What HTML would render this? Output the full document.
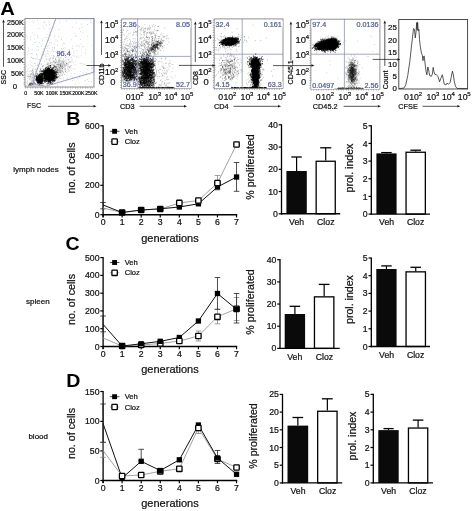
<!DOCTYPE html>
<html><head><meta charset="utf-8"><title>Figure</title>
<style>html,body{margin:0;padding:0;background:#fff;overflow:hidden;}svg{display:block;will-change:transform;}text{font-family:"Liberation Sans",sans-serif;stroke-width:0.22px;}</style>
</head><body>
<svg width="472" height="511" viewBox="0 0 472 511">
<rect width="472" height="511" fill="#fff"/>
<text transform="translate(0.2 14.6) scale(1.12 1)" font-size="18" font-weight="bold" fill="#000">A</text>
<text transform="translate(66.2 124.8) scale(1.12 1)" font-size="17.5" font-weight="bold" fill="#000">B</text>
<text transform="translate(65.4 250.4) scale(1.12 1)" font-size="17.5" font-weight="bold" fill="#000">C</text>
<text transform="translate(66.2 386.5) scale(1.12 1)" font-size="17.5" font-weight="bold" fill="#000">D</text>
<text transform="translate(23.7 24.5) scale(0.92 1)" font-size="7.8" text-anchor="end" fill="#111" stroke="#111">250K</text>
<text transform="translate(23.7 37) scale(0.92 1)" font-size="7.8" text-anchor="end" fill="#111" stroke="#111">200K</text>
<text transform="translate(23.7 49.8) scale(0.92 1)" font-size="7.8" text-anchor="end" fill="#111" stroke="#111">150K</text>
<text transform="translate(23.7 62.9) scale(0.92 1)" font-size="7.8" text-anchor="end" fill="#111" stroke="#111">100K</text>
<text transform="translate(23.7 76) scale(0.92 1)" font-size="7.8" text-anchor="end" fill="#111" stroke="#111">50K</text>
<text x="15" y="89" font-size="7.8" text-anchor="middle" font-weight="normal" fill="#111" stroke="#111">0</text>
<text x="25.7" y="95.3" font-size="5.2" text-anchor="middle" font-weight="normal" fill="#111" stroke="#111">0</text>
<text x="38.9" y="95.3" font-size="5.2" text-anchor="middle" font-weight="normal" fill="#111" stroke="#111">50K</text>
<text x="51.9" y="95.3" font-size="5.2" text-anchor="middle" font-weight="normal" fill="#111" stroke="#111">100K</text>
<text x="65.6" y="95.3" font-size="5.2" text-anchor="middle" font-weight="normal" fill="#111" stroke="#111">150K</text>
<text x="78.3" y="95.3" font-size="5.2" text-anchor="middle" font-weight="normal" fill="#111" stroke="#111">200K</text>
<text x="91.3" y="95.3" font-size="5.2" text-anchor="middle" font-weight="normal" fill="#111" stroke="#111">250K</text>
<path d="M39.7 80.4h0M39.2 79.0h0M38.3 79.5h0M41.5 79.6h0M41.3 79.3h0M40.4 79.5h0M38.0 81.7h0M40.7 80.0h0M36.3 77.3h0M38.2 79.0h0M40.1 79.2h0M40.0 78.1h0M40.4 79.9h0M39.9 82.6h0M41.2 81.1h0M38.4 78.5h0M39.2 79.4h0M40.7 79.5h0M38.5 78.0h0M39.7 81.7h0M38.7 80.2h0M39.4 76.7h0M40.6 81.6h0M36.8 79.9h0M39.1 78.1h0M40.3 79.0h0M38.2 81.5h0M41.2 80.7h0M41.9 79.3h0M39.1 77.1h0M40.2 78.1h0M38.3 77.5h0M38.1 79.0h0M40.2 75.3h0M37.9 80.5h0M42.0 79.7h0M35.6 76.1h0M39.7 78.0h0M38.8 81.6h0M41.3 79.1h0M40.3 80.0h0M42.3 79.7h0M40.7 80.1h0M38.4 82.3h0M41.3 79.8h0M36.6 79.3h0M39.7 75.9h0M40.1 81.2h0M38.9 82.8h0M40.4 78.9h0M40.5 80.3h0M40.6 81.3h0M38.5 79.0h0M41.1 78.9h0M39.1 81.4h0M41.4 77.9h0M37.7 79.9h0M39.3 79.0h0M41.0 77.0h0M40.6 76.6h0M39.0 80.9h0M41.8 80.3h0M40.3 79.5h0M40.3 80.3h0M39.6 80.0h0M40.5 79.1h0M41.1 80.0h0M42.6 79.0h0M38.9 79.0h0M40.3 81.0h0M39.5 80.2h0M40.6 74.2h0M38.3 80.4h0M40.4 79.6h0M39.5 80.7h0M39.8 78.4h0M43.2 78.8h0M38.9 79.5h0M39.4 79.4h0M35.7 79.9h0M40.4 76.9h0M40.2 81.0h0M41.8 81.5h0M37.2 79.6h0M39.6 80.6h0M39.5 74.3h0M40.3 76.4h0M39.7 76.5h0M40.7 81.3h0M39.6 79.8h0M40.9 79.2h0M40.5 82.0h0M40.9 78.4h0M42.7 76.1h0M40.8 78.5h0M40.3 80.5h0M40.4 80.4h0M36.7 77.6h0M39.9 77.5h0M37.4 77.4h0M41.9 80.0h0M41.1 77.1h0M39.0 77.5h0M41.7 81.7h0M39.4 82.5h0M40.9 78.6h0M37.9 82.8h0M39.2 78.4h0M40.5 79.9h0M41.1 76.9h0M42.2 81.4h0M41.6 78.4h0M39.3 81.5h0M39.9 79.6h0M41.5 78.2h0M36.3 79.9h0M37.7 81.7h0M39.8 78.2h0M40.2 80.8h0M40.6 81.6h0M40.3 81.2h0M42.7 81.4h0M39.3 81.2h0M36.5 78.5h0M37.7 82.2h0M38.0 80.0h0M39.4 79.4h0M39.0 80.1h0M42.2 78.6h0M41.0 80.8h0M38.7 77.4h0M39.6 81.5h0M37.1 79.2h0M41.6 80.2h0M40.2 80.8h0M39.2 77.3h0M37.2 79.1h0M40.6 78.0h0M38.0 78.5h0M37.5 80.0h0M38.3 80.6h0M36.7 81.1h0M37.6 76.4h0M40.5 78.6h0M36.1 79.0h0M39.8 78.5h0M41.2 80.3h0M40.8 79.6h0M41.9 79.9h0M39.0 75.7h0M41.7 81.2h0M39.0 78.8h0M41.3 75.5h0M41.8 83.3h0M38.9 81.0h0M42.2 78.3h0M41.0 80.6h0M38.4 79.7h0M40.6 80.7h0M39.5 79.1h0M38.1 79.3h0M41.0 79.1h0M38.0 78.4h0M44.0 80.0h0M39.0 74.7h0M40.8 79.9h0M42.3 79.3h0M39.9 80.3h0M37.7 82.1h0M39.7 78.1h0M42.6 81.8h0M37.4 79.0h0M40.2 79.6h0M38.6 77.9h0M43.2 80.1h0M37.2 77.7h0M42.6 80.2h0M42.7 79.9h0M38.7 80.3h0M36.3 79.2h0M39.9 80.3h0M38.6 79.6h0M40.6 79.8h0M40.7 79.4h0M39.7 80.9h0M39.3 78.0h0M38.8 79.7h0M39.6 79.7h0M39.8 79.7h0M38.7 77.3h0M40.9 81.0h0M40.2 78.9h0M39.7 77.5h0M37.2 80.4h0M38.9 81.1h0M36.6 75.5h0M39.3 82.6h0M38.3 77.3h0M39.0 80.7h0M40.5 79.5h0M42.2 79.9h0M40.0 80.4h0M42.6 80.2h0M40.4 77.1h0M39.9 80.7h0M40.0 81.4h0M41.1 80.6h0M41.0 83.8h0M41.3 78.4h0M41.4 83.7h0M39.8 81.0h0M41.0 78.9h0M38.2 80.3h0M40.9 81.1h0M40.8 79.1h0M41.2 79.9h0M40.0 79.4h0M39.8 80.7h0M37.9 78.9h0M38.8 76.9h0M37.9 76.2h0M39.1 80.7h0M40.4 79.0h0M38.5 77.1h0M42.5 79.4h0M40.6 77.4h0M38.3 76.4h0M41.3 80.6h0M37.1 80.3h0M39.5 76.1h0M36.6 78.5h0M38.0 77.3h0M39.9 79.8h0M41.0 80.3h0M42.5 80.6h0M37.6 79.2h0M37.6 78.1h0M39.6 79.4h0M39.4 76.5h0M38.0 80.0h0M39.2 79.0h0M39.1 78.1h0M40.9 79.7h0M39.2 78.3h0M37.8 74.9h0M38.4 79.9h0M37.8 80.5h0M39.1 77.0h0M39.2 79.0h0M40.7 80.2h0M39.1 78.0h0M39.5 79.4h0M40.9 79.5h0M37.9 77.5h0M38.7 78.3h0M38.1 79.8h0M39.1 79.8h0M40.2 78.4h0M42.7 77.7h0M41.3 79.1h0M39.8 74.8h0M38.8 80.2h0M42.0 83.1h0M40.9 81.4h0M41.3 80.6h0M40.3 78.9h0M39.7 77.3h0M40.7 77.1h0M41.3 82.9h0M39.4 79.5h0M41.3 78.9h0M38.8 80.2h0M40.9 80.3h0M39.7 82.7h0M42.0 78.6h0M39.8 78.5h0M41.2 77.5h0M40.3 78.3h0M39.2 81.0h0M41.5 78.7h0M39.3 81.1h0M39.8 79.9h0M42.5 80.6h0M40.4 83.5h0M40.2 80.7h0M38.8 79.6h0M38.4 83.3h0M40.8 76.7h0M36.7 77.4h0M41.0 78.0h0M39.4 78.9h0M38.9 77.6h0M38.8 77.0h0M39.8 80.0h0M40.2 78.8h0M38.6 80.1h0M40.0 82.3h0M40.7 78.8h0M38.6 78.4h0M38.2 79.3h0M40.4 80.1h0M41.8 82.7h0M38.7 79.8h0M42.4 74.9h0M39.1 79.9h0M40.2 80.0h0M39.6 80.1h0M40.2 80.7h0M36.6 78.8h0M39.1 77.7h0M38.7 81.0h0M39.2 80.8h0M40.9 79.5h0M40.3 79.0h0M37.8 80.0h0M40.0 78.3h0M40.0 80.7h0M38.9 80.9h0M41.9 77.5h0M39.8 79.1h0M42.0 79.2h0M40.5 77.8h0M39.7 79.4h0M38.2 82.7h0M39.8 76.0h0M40.6 78.8h0M40.5 79.8h0M37.5 79.8h0M41.4 77.7h0M37.5 77.6h0M38.2 80.6h0M42.3 79.3h0M41.4 83.1h0M38.6 78.5h0M40.8 80.1h0M37.6 77.9h0M40.2 79.7h0M37.8 79.7h0M39.2 80.4h0M39.5 79.3h0M39.9 81.4h0M41.4 78.1h0M40.4 77.7h0M40.3 80.6h0M41.5 78.0h0M39.7 79.8h0M37.7 80.2h0M39.0 80.4h0M36.9 76.6h0M39.9 79.8h0M39.5 81.2h0M39.0 78.5h0M39.4 76.5h0M38.8 79.7h0M40.8 78.7h0M39.7 78.1h0M41.1 82.1h0M40.2 83.7h0M38.8 79.7h0M40.6 81.0h0M36.7 76.5h0M41.0 80.4h0M42.2 83.5h0M40.1 79.7h0M41.2 79.6h0M41.2 76.5h0M37.1 73.8h0M40.6 78.4h0M42.3 82.6h0M39.5 79.0h0M38.5 78.2h0M39.2 80.8h0M39.8 79.5h0M40.0 81.0h0M40.3 78.9h0M40.5 78.8h0M39.0 82.4h0M39.7 77.6h0M41.4 79.4h0M38.6 82.9h0M40.7 80.7h0M39.9 79.0h0M38.2 81.8h0M39.6 78.9h0M40.2 79.4h0M40.4 78.4h0M38.3 75.8h0M39.5 80.8h0M41.3 78.1h0M40.5 82.1h0M39.7 80.8h0M42.0 78.6h0M40.9 77.6h0M39.9 79.2h0M40.6 81.3h0M42.5 77.1h0M39.2 80.5h0M38.6 80.8h0M40.3 78.6h0M39.5 76.5h0M39.8 76.4h0M38.4 78.8h0M39.7 81.1h0M39.6 78.7h0M41.4 81.8h0M39.9 80.0h0M41.6 79.2h0M39.5 84.2h0M41.5 74.9h0M39.9 80.1h0M41.4 80.1h0M38.7 77.8h0M40.5 81.1h0M37.6 78.2h0M38.5 76.1h0M39.1 78.8h0M39.9 78.0h0M38.3 79.2h0M39.2 78.3h0M40.2 80.7h0M42.4 81.7h0M38.4 79.1h0M37.5 83.8h0M38.7 79.7h0M39.6 76.8h0M40.3 79.1h0M37.4 80.8h0M40.2 75.6h0M40.9 79.4h0M40.6 79.9h0M41.3 78.4h0M40.6 78.3h0M40.2 77.7h0M40.6 82.4h0M40.2 78.9h0M37.7 78.6h0M40.5 80.9h0M40.6 80.1h0M40.5 81.7h0M38.8 78.7h0M40.9 79.1h0M39.0 78.6h0M39.7 80.6h0M39.4 77.2h0M40.4 79.5h0M38.8 81.2h0M39.1 79.0h0M41.6 81.2h0M39.0 80.5h0M39.9 83.7h0M39.8 81.7h0M39.3 81.1h0M41.2 74.0h0M39.4 80.5h0M39.2 78.3h0M42.7 78.5h0M38.0 81.7h0M38.1 82.2h0M39.0 79.9h0M41.5 79.0h0M36.8 77.2h0M41.8 80.1h0M39.1 81.3h0M40.8 80.2h0M36.4 80.0h0M41.4 80.2h0M39.4 74.8h0M40.2 80.1h0M42.6 76.5h0M39.3 79.6h0M40.6 78.2h0M40.8 77.5h0M39.7 78.4h0M39.5 78.2h0M38.2 82.0h0M39.8 78.3h0M40.6 81.0h0M38.3 79.7h0M40.8 80.0h0M37.9 76.0h0M52.8 74.3h0M49.2 74.3h0M49.5 73.6h0M46.3 74.4h0M47.4 74.2h0M48.0 78.1h0M47.8 78.4h0M47.9 77.2h0M52.9 73.8h0M48.1 76.0h0M47.3 70.3h0M48.5 76.2h0M48.7 75.8h0M52.3 76.1h0M52.4 75.4h0M48.9 75.3h0M48.5 74.5h0M46.6 70.7h0M48.8 75.4h0M47.5 76.2h0M50.5 73.9h0M50.2 65.6h0M46.4 70.5h0M55.7 80.7h0M44.4 78.5h0M50.3 73.6h0M47.4 68.5h0M52.0 74.9h0M48.8 73.4h0M50.3 72.9h0M49.3 73.4h0M44.7 77.7h0M51.2 76.7h0M47.7 76.0h0M51.2 74.6h0M55.3 78.6h0M44.8 71.1h0M53.7 77.9h0M52.8 76.0h0M47.2 73.9h0M50.2 71.5h0M44.2 74.7h0M57.9 76.9h0M47.0 74.0h0M49.0 72.8h0M52.3 73.2h0M49.2 79.8h0M48.7 76.3h0M49.1 74.2h0M49.3 72.8h0M42.3 71.6h0M45.7 74.6h0M49.6 75.2h0M51.0 74.6h0M46.8 74.2h0M44.8 77.2h0M51.4 75.8h0M49.1 74.7h0M51.7 73.9h0M52.1 75.6h0M52.0 78.1h0M47.8 74.8h0M46.7 73.9h0M55.6 77.6h0M50.5 76.4h0M53.4 75.6h0M50.3 70.2h0M48.9 77.0h0M52.9 73.5h0M47.2 75.2h0M46.9 73.6h0M51.9 71.5h0M52.9 80.6h0M52.7 74.4h0M48.9 76.8h0M54.0 74.6h0M52.5 73.7h0M50.4 73.8h0M52.5 77.8h0M46.4 76.6h0M49.3 73.2h0M50.1 77.4h0M54.9 74.1h0M48.0 70.6h0M53.9 72.8h0M47.8 72.1h0M47.8 72.2h0M50.5 76.1h0M50.1 75.7h0M49.9 79.8h0M45.5 71.1h0M48.0 73.3h0M46.9 75.3h0M48.5 71.6h0M51.4 78.9h0M50.9 73.8h0M49.7 74.5h0M50.6 77.0h0M45.8 68.9h0M48.2 72.7h0M50.1 72.6h0M53.2 80.5h0M45.6 73.4h0M43.0 70.5h0M46.1 78.3h0M45.4 70.9h0M47.3 78.5h0M47.4 75.0h0M52.4 78.1h0M55.4 75.3h0M50.2 75.3h0M55.6 76.5h0M49.6 76.6h0M50.3 74.8h0M46.5 72.2h0M46.1 71.7h0M53.1 74.9h0M49.1 80.1h0M48.7 68.9h0M54.8 74.8h0M52.2 69.2h0M51.4 75.4h0M50.3 75.2h0M49.6 69.8h0M44.8 72.9h0M47.5 74.1h0M50.8 75.2h0M48.7 73.2h0M50.1 78.0h0M51.4 74.3h0M51.2 79.4h0M49.3 77.4h0M51.7 72.9h0M49.7 71.1h0M52.1 74.3h0M47.2 78.7h0M49.6 79.4h0M47.9 75.4h0M49.7 73.8h0M49.3 73.2h0M51.1 74.2h0M45.9 67.6h0M52.2 73.6h0M45.9 77.5h0M52.2 77.2h0M49.6 80.4h0M52.8 81.4h0M50.3 76.9h0M47.1 72.6h0M53.3 76.0h0M54.2 75.3h0M45.9 71.4h0M47.2 74.1h0M48.7 77.5h0M49.9 73.9h0M49.8 74.4h0M51.2 76.7h0M50.6 72.0h0M48.5 80.6h0M51.5 77.7h0M45.5 76.2h0M47.5 71.2h0M49.6 77.5h0M54.3 77.8h0M45.6 72.4h0M52.1 76.8h0M48.1 71.4h0M52.5 76.1h0M50.1 73.0h0M51.4 76.7h0M45.6 70.9h0M51.0 75.8h0M51.0 77.3h0M48.2 75.5h0M49.8 76.9h0M52.7 72.4h0M56.3 76.4h0M52.2 75.5h0M53.2 72.3h0M47.8 72.4h0M52.6 77.9h0M51.4 75.4h0M49.4 75.7h0M48.1 79.5h0M47.1 72.6h0M46.7 73.8h0M53.0 76.7h0M48.0 79.1h0M50.7 72.4h0M45.3 74.9h0M48.7 76.7h0M45.8 70.2h0M47.8 70.7h0M49.8 70.7h0M46.8 73.6h0M50.4 79.1h0M52.3 75.5h0M48.0 70.6h0M47.6 74.2h0M48.2 77.5h0M46.9 74.1h0M44.3 71.0h0M52.9 77.7h0M48.5 72.2h0M44.0 78.8h0M52.7 74.3h0M53.8 77.7h0M51.4 72.4h0M53.0 75.7h0M45.7 75.9h0M46.4 76.5h0M49.3 71.5h0M47.1 80.9h0M52.6 78.4h0M48.3 79.4h0M57.1 77.6h0M49.5 76.0h0M50.8 77.8h0M52.0 73.9h0M47.8 78.6h0M49.5 77.2h0M52.6 78.9h0M51.4 72.4h0M53.0 79.1h0M49.1 76.8h0M54.1 76.8h0M48.7 70.9h0M47.2 77.2h0M54.3 81.1h0M49.4 79.0h0M48.8 69.7h0M48.1 76.5h0M48.3 75.2h0M49.4 72.3h0M49.7 72.8h0M49.2 77.1h0M48.8 76.5h0M53.1 73.1h0M50.4 77.1h0M50.4 78.3h0M47.8 78.2h0M47.3 73.6h0M52.2 70.6h0M54.4 74.5h0M51.3 70.6h0M54.4 77.3h0M49.2 74.8h0M55.2 72.4h0M47.7 73.9h0M51.1 75.3h0M52.6 79.3h0M49.6 76.6h0M51.3 70.6h0M54.6 78.5h0M45.0 73.8h0M44.6 71.5h0M47.8 69.6h0M52.9 78.2h0M45.6 76.2h0M46.6 79.4h0M47.6 75.2h0M50.5 76.3h0M48.9 75.5h0M48.6 76.0h0M47.2 76.6h0M44.7 76.1h0M53.9 72.8h0M47.3 77.2h0M45.0 71.9h0M49.1 77.8h0M50.3 74.3h0M46.0 73.4h0M52.9 73.9h0M44.4 70.7h0M50.3 83.1h0M47.0 76.2h0M49.8 74.3h0M46.9 71.8h0M49.9 80.7h0M49.2 78.1h0M45.5 76.4h0M51.7 77.4h0M48.1 78.0h0M49.3 72.6h0M49.3 72.1h0M47.8 75.9h0M43.6 78.1h0M45.2 72.4h0M49.8 77.5h0M50.6 78.8h0M45.1 73.0h0M53.6 74.1h0M50.4 71.7h0M51.7 74.7h0M51.0 74.3h0M51.2 71.8h0M45.3 72.4h0M51.0 71.6h0M45.9 73.9h0M46.7 72.3h0M48.0 73.7h0M47.0 73.2h0M49.0 73.8h0M50.2 75.5h0M47.1 68.9h0M47.2 73.6h0M48.9 69.9h0M47.6 75.1h0M50.4 78.0h0M50.1 78.1h0M43.7 72.1h0M52.9 74.6h0M50.8 74.7h0M48.8 71.2h0M50.9 72.4h0M51.9 74.0h0M43.4 74.1h0M51.8 73.2h0M49.1 76.1h0M47.9 74.1h0M50.0 75.2h0M53.0 73.2h0M56.4 77.3h0M54.9 75.6h0M50.1 75.2h0M48.2 73.3h0M48.5 73.4h0M54.0 74.3h0M45.8 70.6h0M48.9 74.0h0M45.5 73.4h0M45.6 79.3h0M53.3 81.8h0M49.3 74.7h0M52.9 73.5h0M49.4 73.8h0M50.5 79.7h0M54.3 78.2h0M48.9 75.5h0M49.1 78.6h0M47.4 78.2h0M54.1 77.3h0M49.2 79.0h0M46.9 73.9h0M48.5 79.7h0M52.3 71.4h0M47.4 75.1h0M56.5 74.5h0M45.7 71.0h0M49.9 78.9h0M53.2 72.0h0M47.3 74.5h0M46.9 79.7h0M48.8 79.1h0M44.0 73.8h0M49.1 72.7h0M51.3 74.0h0M48.0 78.1h0M48.6 69.0h0M54.3 74.0h0M48.5 69.2h0M47.5 75.0h0M49.7 69.9h0M44.6 70.8h0M49.6 76.2h0M45.1 75.6h0M53.1 78.5h0M50.6 73.4h0M45.6 74.0h0M48.4 76.2h0M52.0 79.4h0M48.6 71.9h0M54.4 75.5h0M48.7 73.0h0M44.0 74.7h0M50.4 71.8h0M47.0 77.2h0M51.0 76.3h0M53.1 77.8h0M49.3 78.6h0M48.5 78.0h0M50.4 75.4h0M51.7 73.7h0M53.3 75.9h0M49.0 73.4h0M47.2 74.6h0M49.1 75.2h0M57.0 72.9h0M50.0 71.8h0M47.6 75.1h0M48.5 72.1h0M52.2 71.5h0M48.4 67.6h0M50.0 75.7h0M50.9 76.3h0M50.4 75.1h0M44.4 75.5h0M45.5 79.6h0M50.0 74.1h0M46.9 74.5h0M56.2 77.2h0M51.4 78.4h0M43.3 72.0h0M47.2 73.3h0M48.7 76.2h0M55.2 69.5h0M50.1 75.7h0M50.9 77.5h0M51.6 69.5h0M49.6 74.1h0M48.1 70.6h0M42.3 71.2h0M51.0 74.8h0M46.2 68.8h0M47.7 73.5h0M45.2 74.4h0M51.9 75.5h0M50.3 76.4h0M48.4 75.9h0M50.5 76.4h0M49.2 74.7h0M48.3 73.5h0M55.2 73.5h0M54.0 80.4h0M50.3 69.2h0M52.4 76.3h0M55.7 76.1h0M49.5 71.0h0M48.1 76.8h0M49.2 71.7h0M48.2 74.4h0M50.2 75.8h0M47.1 72.1h0M54.7 77.6h0M50.9 77.8h0M51.6 76.2h0M49.5 72.4h0M52.4 76.9h0M50.6 81.2h0M56.9 77.1h0M55.0 74.4h0M48.0 73.9h0M48.0 76.3h0M50.5 76.8h0M48.7 83.5h0M54.5 72.1h0M51.8 75.4h0M49.9 74.1h0M48.1 73.0h0M49.9 74.7h0M49.0 72.4h0M49.8 75.1h0M49.3 71.5h0M52.0 77.0h0M50.3 73.3h0M48.2 75.0h0M53.5 78.1h0M48.3 73.5h0M50.7 75.1h0M46.5 74.2h0M50.4 76.9h0M45.5 73.8h0M48.8 71.2h0M50.4 75.8h0M47.8 72.5h0M49.0 74.2h0M49.1 72.4h0M49.5 69.3h0M49.2 75.2h0M50.8 72.2h0M49.9 72.8h0M53.8 78.6h0M49.4 76.7h0M49.1 78.7h0M52.3 73.6h0M47.7 77.5h0M53.7 76.4h0M48.6 69.2h0M50.3 79.5h0M48.6 79.5h0M54.8 74.6h0M51.5 72.7h0M46.8 76.3h0M49.1 75.1h0M50.9 73.8h0M50.7 75.9h0M52.4 79.8h0M50.7 74.7h0M48.2 73.6h0M52.7 73.7h0M46.4 74.9h0M48.6 74.0h0M50.2 70.6h0M50.9 74.8h0M47.1 76.6h0M50.1 76.4h0M49.1 76.4h0M44.4 74.3h0M52.9 76.7h0M48.7 73.5h0M48.8 68.2h0M48.9 77.7h0M49.5 71.5h0M47.7 81.1h0M48.6 72.5h0M51.1 77.3h0M45.7 81.1h0M48.1 68.7h0M48.6 69.4h0M52.7 74.6h0M53.6 70.6h0M51.2 77.7h0M47.2 74.0h0M48.7 75.3h0M48.0 77.6h0M50.9 74.5h0M52.8 72.0h0M51.6 71.9h0M48.3 69.0h0M49.8 74.3h0M47.6 74.0h0M47.8 73.6h0M44.0 76.2h0M47.6 74.3h0M47.1 76.0h0M50.9 73.4h0M50.6 79.1h0M53.1 76.2h0M51.6 72.7h0M51.0 78.1h0M48.2 75.4h0M51.0 75.5h0M50.5 77.9h0M50.3 77.1h0M52.9 75.4h0M49.4 71.1h0M45.8 75.0h0M52.9 78.3h0M47.4 77.3h0M46.7 74.2h0M50.0 77.1h0M51.8 77.8h0M48.8 78.5h0M51.7 74.0h0M49.8 72.9h0M46.6 75.3h0M52.5 83.3h0M51.0 79.9h0M50.5 75.6h0M50.0 72.0h0M52.1 74.8h0M47.2 78.5h0M51.5 75.5h0M52.4 71.9h0M51.8 76.3h0M49.5 79.2h0M44.5 73.4h0M49.1 71.5h0M46.9 70.9h0M48.0 72.0h0M48.0 70.6h0M50.2 73.7h0M49.6 74.7h0M47.9 71.4h0M44.1 78.3h0M46.9 75.0h0M47.5 69.3h0M47.0 74.4h0M47.8 77.2h0M48.1 73.0h0M48.7 78.3h0M49.0 77.3h0M47.7 69.5h0M47.3 76.4h0M51.5 76.6h0M52.9 76.7h0M48.5 74.9h0M50.6 72.9h0M49.5 69.6h0M50.8 73.7h0M46.8 80.0h0M50.3 74.7h0M46.6 75.1h0M51.6 71.0h0M40.8 77.1h0M46.8 76.2h0M47.4 73.1h0M49.3 78.8h0M49.4 81.9h0M46.8 72.8h0M52.2 75.5h0M48.5 78.2h0M44.2 74.9h0M51.7 72.9h0M47.6 78.0h0M51.6 73.8h0M45.2 76.4h0M51.7 76.5h0M53.2 72.0h0M48.5 75.5h0M50.8 71.0h0M48.3 66.2h0M50.3 72.2h0M51.6 76.2h0M46.9 76.3h0M51.0 76.2h0M46.1 73.6h0M49.2 84.0h0M48.8 74.7h0M47.8 79.3h0M50.6 79.4h0M51.5 74.0h0M49.5 71.2h0M48.0 73.9h0M46.9 76.6h0M51.4 78.9h0M41.3 77.4h0M46.9 74.9h0M51.1 75.5h0M49.0 73.7h0M51.2 75.3h0M45.2 76.6h0M44.9 73.6h0M50.0 75.0h0M48.5 72.6h0M47.8 72.9h0M51.5 76.3h0M55.3 76.1h0M47.2 74.8h0M48.0 77.0h0M55.0 74.4h0M43.0 74.5h0M47.6 78.0h0M50.1 75.8h0M52.2 70.6h0M50.7 81.2h0M49.2 72.5h0M42.9 73.6h0M44.4 78.2h0M51.2 77.5h0M48.3 73.4h0M50.8 80.9h0M46.0 77.7h0M50.6 76.6h0M49.5 76.8h0M51.1 73.6h0M48.3 75.1h0M47.2 75.7h0M49.3 75.9h0M54.5 76.7h0M49.5 77.1h0M51.4 76.6h0M50.0 75.7h0M47.4 73.5h0M53.4 77.3h0M51.7 75.3h0M49.5 73.5h0M46.7 79.0h0M49.2 73.3h0M49.4 79.5h0M48.3 81.8h0M54.5 80.4h0M48.0 75.8h0M48.7 76.0h0M48.0 73.3h0M50.7 71.6h0M49.3 77.1h0M47.8 74.5h0M49.8 73.6h0M46.7 76.3h0M51.7 79.7h0M48.7 78.9h0M47.4 75.1h0M49.3 76.1h0M54.1 78.5h0M50.2 79.3h0M53.0 75.9h0M49.3 78.3h0M49.9 76.1h0M50.0 77.1h0M53.7 76.5h0M50.6 77.8h0M51.3 70.8h0M50.8 69.7h0M51.7 75.9h0M53.2 73.9h0M47.4 73.5h0M48.0 78.6h0M48.0 73.4h0M49.6 72.3h0M48.0 74.4h0M55.4 76.7h0M46.9 71.1h0M50.3 74.8h0M51.2 76.0h0M50.3 77.8h0M51.7 74.5h0M48.0 74.3h0M49.5 71.3h0M48.1 73.3h0M47.5 78.3h0M49.6 75.1h0M49.3 70.0h0M49.9 75.8h0M49.8 71.1h0M51.5 74.7h0M54.2 76.3h0M54.0 79.9h0M49.0 73.9h0M47.5 73.0h0M46.7 70.2h0M50.1 76.2h0M51.2 72.9h0M51.6 71.6h0M46.5 70.3h0M46.8 73.9h0M53.5 74.5h0M48.0 77.7h0M50.3 73.8h0M49.2 74.2h0M45.9 71.2h0M51.3 78.4h0M52.2 72.5h0M47.7 75.4h0M52.0 74.8h0M48.9 76.6h0M49.9 76.6h0M46.6 71.8h0M50.8 76.9h0M47.1 76.1h0M50.9 73.0h0M51.2 80.9h0M52.9 76.6h0M50.0 80.3h0M45.3 75.7h0M53.1 77.5h0M46.7 74.5h0M47.2 69.9h0M51.8 75.6h0M49.4 76.9h0M51.7 74.8h0M52.9 78.2h0M48.8 76.0h0M50.0 78.2h0M49.4 76.7h0M50.0 75.0h0M53.1 72.7h0M53.8 75.4h0M52.1 73.0h0M52.6 75.8h0M48.7 76.4h0M49.3 75.1h0M51.3 71.6h0M43.6 72.7h0M47.7 73.9h0M50.4 76.4h0M53.7 73.7h0M49.5 72.6h0M52.8 77.7h0M49.6 68.5h0M53.8 77.9h0M49.2 70.3h0M49.8 76.8h0M49.3 72.5h0M49.1 78.5h0M48.9 80.2h0M50.1 75.7h0M46.0 75.1h0M48.9 70.5h0M51.9 69.0h0M47.1 76.6h0M51.7 76.3h0M48.5 74.9h0M48.3 73.8h0M45.6 80.5h0M50.4 75.1h0M48.7 76.4h0M49.5 74.8h0M49.4 69.4h0M48.6 72.0h0M51.1 79.1h0M47.2 76.1h0M49.7 78.1h0M45.1 72.0h0M50.2 73.5h0M50.5 78.1h0M47.2 75.1h0M50.5 75.9h0M50.0 78.2h0M53.7 71.3h0M50.4 67.5h0M52.0 72.5h0M49.4 74.0h0M46.4 72.6h0M50.6 78.7h0M51.5 72.8h0M47.5 73.9h0M49.7 80.9h0M51.1 74.5h0M47.1 73.0h0M53.5 75.4h0M49.0 78.6h0M48.2 77.9h0M47.0 75.1h0M51.3 75.5h0M50.5 71.7h0M54.8 76.5h0M50.2 76.2h0M47.8 75.6h0M47.0 76.8h0M51.9 78.1h0M52.7 75.9h0M48.5 74.9h0M49.2 76.0h0M46.7 79.2h0M45.6 75.6h0M48.9 73.7h0M52.9 72.8h0M54.6 76.0h0M49.1 76.6h0M51.8 72.6h0M49.0 73.5h0M49.2 74.0h0M51.2 77.4h0M52.7 73.7h0M51.3 76.9h0M47.5 72.7h0M50.6 71.3h0M50.1 71.5h0M51.9 70.2h0M53.5 77.7h0M49.7 79.9h0M45.3 71.6h0M52.1 75.9h0M45.5 68.9h0M49.0 74.3h0M48.4 74.7h0M45.1 75.7h0M55.6 76.7h0M47.8 73.7h0M52.0 77.2h0M49.4 71.2h0M50.1 75.2h0M54.3 76.3h0M52.4 77.4h0M51.0 79.3h0M49.3 76.5h0M50.2 71.6h0M45.6 71.5h0M49.9 74.7h0M49.6 76.6h0M45.2 77.5h0M49.4 74.2h0M53.8 78.4h0M47.3 73.2h0M48.5 76.0h0M49.6 72.1h0M50.2 71.2h0M51.9 75.1h0M53.7 79.8h0M48.8 74.9h0M51.8 76.6h0M47.2 77.3h0M49.0 77.5h0M52.5 73.5h0M49.6 75.6h0M44.6 80.5h0M51.0 74.7h0M47.7 73.7h0M51.0 78.2h0M51.3 78.5h0M43.6 76.9h0M50.2 74.6h0M45.2 75.3h0M50.3 70.3h0M46.0 73.5h0M49.4 77.3h0M47.9 69.2h0M51.8 71.8h0M50.8 79.9h0M47.6 72.0h0M47.2 74.0h0M47.0 75.4h0M51.9 74.8h0M50.7 83.6h0M47.7 76.5h0M50.8 76.9h0M49.6 76.5h0M54.1 72.7h0M47.8 77.1h0M47.4 75.0h0M50.5 75.6h0M50.2 77.5h0M47.3 72.0h0M50.9 73.0h0M51.2 71.9h0M51.2 75.1h0M41.8 74.5h0M49.3 79.9h0M47.0 79.5h0M52.6 74.9h0M50.3 73.0h0M49.9 75.6h0M51.5 76.3h0M48.2 73.5h0M49.0 76.7h0M44.3 73.9h0M47.9 74.1h0M45.2 68.7h0M48.5 74.8h0M48.4 69.1h0M49.6 76.6h0M52.3 77.4h0M50.3 71.1h0M50.4 73.4h0M50.1 79.8h0M47.1 73.6h0M47.5 73.4h0M52.2 74.7h0M53.1 74.3h0M49.8 78.4h0M47.6 74.6h0M49.3 75.3h0M51.2 72.0h0M50.3 74.5h0M45.4 73.8h0M49.7 76.3h0M51.0 75.8h0M49.1 73.8h0M49.0 72.0h0M46.3 75.8h0M45.9 75.4h0M47.2 74.5h0M48.3 73.1h0M46.2 71.2h0M48.6 72.6h0M46.4 67.4h0M48.3 76.6h0M44.0 77.0h0M49.9 75.1h0M46.8 77.4h0M48.5 72.4h0M51.1 74.0h0M49.0 73.9h0M50.9 74.6h0M52.6 74.8h0M48.0 75.2h0M51.0 73.0h0M51.2 75.8h0M45.9 69.4h0M50.2 75.4h0M48.8 72.9h0M51.9 73.2h0M47.3 74.0h0M48.8 71.8h0M50.4 81.2h0M53.9 76.1h0M53.3 74.8h0M47.8 80.0h0M52.9 74.7h0M47.3 80.5h0M51.7 72.1h0M51.0 76.8h0M51.0 77.9h0M50.8 76.6h0M47.6 71.2h0M52.1 84.2h0M52.1 78.0h0M54.5 77.9h0M49.9 72.8h0M46.8 70.1h0M50.5 77.5h0M45.3 78.1h0M53.3 77.3h0M46.7 74.5h0M44.2 74.7h0M53.7 79.6h0M49.2 79.9h0M49.8 73.2h0M50.5 66.0h0M49.8 75.6h0M56.7 76.9h0M54.6 72.6h0M53.7 77.3h0M51.2 75.3h0M48.6 74.2h0M49.9 81.4h0M45.6 70.3h0M50.1 74.6h0M52.6 79.4h0M49.0 74.5h0M48.0 75.9h0M49.0 76.1h0M56.8 72.2h0M50.6 80.9h0M52.6 76.0h0M52.3 76.2h0M53.1 77.7h0M53.7 77.2h0M48.5 75.6h0M49.5 78.3h0M50.7 72.8h0M54.7 80.9h0M50.6 70.7h0M50.3 76.7h0M50.1 76.0h0M52.6 74.4h0M48.3 78.1h0M49.6 75.4h0M46.4 72.2h0M46.5 75.6h0M43.4 69.4h0M50.3 70.7h0M48.8 77.2h0M46.5 81.3h0M48.9 77.6h0M49.0 76.4h0M49.8 74.9h0M43.6 73.5h0M51.6 78.6h0M49.2 77.0h0M50.6 76.0h0M49.5 70.0h0M49.9 74.2h0M47.7 73.2h0M46.4 73.4h0M51.0 82.7h0M53.2 73.0h0M49.7 71.6h0M41.1 73.8h0M52.0 78.5h0M48.0 72.5h0M47.6 72.8h0M46.3 76.1h0M47.6 73.4h0M46.4 73.7h0M52.1 78.2h0M52.4 80.9h0M46.6 77.7h0M46.9 76.0h0M50.6 76.3h0M51.2 72.2h0M46.7 76.0h0M49.2 72.9h0M53.9 78.2h0M47.1 77.7h0M48.9 68.9h0M49.7 74.2h0M48.5 80.1h0M49.4 73.5h0M51.5 76.1h0M52.1 75.5h0M48.7 71.5h0M48.9 75.8h0M46.9 83.8h0M47.3 72.8h0M46.1 77.8h0M48.8 73.5h0M47.4 73.3h0M47.9 75.7h0M49.2 77.5h0M49.5 75.5h0M52.3 77.7h0M51.2 74.8h0M48.1 73.2h0M49.9 77.1h0M49.5 73.7h0M44.5 72.7h0M51.8 77.2h0M48.4 71.1h0M49.5 75.8h0M48.2 77.0h0M48.0 73.1h0M48.2 78.6h0M49.1 72.3h0M48.8 78.5h0M50.4 73.5h0M52.5 72.3h0M49.0 79.1h0M49.7 76.1h0M48.2 72.4h0M46.8 76.0h0M51.1 70.7h0M52.8 73.9h0M47.6 77.0h0M49.5 72.0h0M45.6 78.5h0M47.9 77.5h0M45.4 77.0h0M45.7 72.2h0M49.3 75.7h0M46.7 72.7h0M47.5 70.3h0M51.4 75.6h0M54.4 75.2h0M50.7 75.2h0M47.7 71.6h0M53.4 74.6h0M47.3 72.5h0M53.5 74.5h0M48.1 78.1h0M53.6 72.6h0M49.8 73.5h0M49.8 78.5h0M56.2 71.6h0M50.5 77.2h0M50.0 77.2h0M49.9 71.4h0M47.2 76.1h0M51.8 74.7h0M50.2 70.0h0M49.7 72.8h0M50.3 75.7h0M47.2 75.6h0M47.5 77.1h0M47.1 74.8h0M49.1 73.1h0M51.1 72.0h0M51.8 74.7h0M47.1 75.7h0M47.3 75.1h0M51.7 79.9h0M51.0 79.5h0M48.6 71.2h0M45.7 79.5h0M46.5 79.2h0M52.3 74.7h0M48.8 74.6h0M49.7 73.9h0M47.9 74.7h0M51.2 72.0h0M48.7 71.6h0M46.1 72.4h0M50.2 77.0h0M49.5 73.4h0M50.4 73.4h0M50.8 75.2h0M47.1 68.1h0M48.0 78.5h0M52.6 80.8h0M48.3 73.9h0M53.5 74.6h0M54.3 74.0h0M50.2 77.1h0M47.3 74.8h0M48.1 75.1h0M50.5 72.8h0M49.6 73.4h0M47.5 67.0h0M49.4 75.7h0M48.8 78.8h0M51.9 78.0h0M52.5 75.4h0M47.7 72.5h0M48.5 74.1h0M49.4 73.5h0M53.7 67.3h0M51.4 72.4h0M50.4 77.6h0M47.8 72.0h0M50.2 74.0h0M45.6 78.0h0M46.3 74.4h0M51.0 75.2h0M52.1 80.8h0M49.6 73.0h0M49.9 74.4h0M42.7 73.7h0M49.7 81.9h0M48.8 74.5h0M49.8 78.1h0M52.1 79.2h0M53.6 78.2h0M49.9 76.1h0M48.5 75.1h0M45.1 75.6h0M46.7 74.5h0M52.5 74.2h0M53.4 75.7h0M53.0 76.4h0M49.5 77.7h0M48.2 74.1h0M55.2 79.0h0M50.1 80.5h0M50.1 71.9h0M50.7 75.6h0M49.9 73.7h0M47.0 76.6h0M52.5 75.9h0M52.6 77.0h0M47.5 76.1h0M51.8 77.1h0M50.7 76.1h0M52.9 80.1h0M45.0 77.6h0M55.1 72.6h0M46.0 77.5h0M45.6 75.0h0M52.5 79.0h0M51.5 76.1h0M52.0 74.3h0M47.7 75.8h0M49.9 73.9h0M47.7 74.9h0M45.0 74.2h0M48.9 74.2h0M51.7 78.5h0M50.2 74.6h0M45.6 73.7h0M49.1 72.4h0M48.9 71.8h0M49.8 74.7h0M51.1 72.8h0M49.2 76.1h0M52.2 79.2h0M48.3 74.0h0M49.6 76.6h0M51.1 76.5h0M50.3 82.9h0M53.4 72.7h0M47.3 76.8h0M47.2 68.9h0M47.5 71.3h0M52.5 77.9h0M49.6 70.0h0M53.8 75.6h0M49.6 76.7h0M52.3 72.3h0M48.8 73.6h0M48.9 68.2h0M51.2 70.9h0M49.2 69.8h0M46.8 74.6h0M49.0 70.0h0M49.9 72.7h0M51.7 72.7h0M50.4 74.0h0M52.8 71.9h0M52.4 80.0h0M50.8 76.6h0M48.4 76.4h0M45.0 78.0h0M46.1 72.0h0M48.3 79.6h0M48.3 70.7h0M52.4 71.1h0M49.2 76.1h0M44.9 72.3h0M49.8 78.9h0M49.3 69.9h0M52.2 73.6h0M50.7 74.5h0M49.0 72.0h0M46.7 74.3h0M49.7 77.0h0M49.4 80.4h0M47.4 74.3h0M51.7 75.2h0M47.3 72.7h0M45.2 72.2h0M53.5 76.3h0M54.2 74.0h0M51.4 76.5h0M51.2 73.2h0M53.4 80.0h0M44.0 73.5h0M48.7 78.0h0M51.6 72.7h0M50.9 74.1h0M49.4 73.3h0M49.5 75.0h0M55.2 79.2h0M46.6 78.5h0M51.0 77.4h0M52.9 75.7h0M49.9 71.7h0M48.5 81.2h0M50.7 71.2h0M53.3 75.1h0M45.8 80.2h0M49.2 79.1h0M47.1 74.0h0M46.1 76.3h0M50.8 72.1h0M48.8 82.6h0M54.4 74.5h0M46.7 72.6h0M47.0 78.4h0M50.8 70.8h0M49.2 74.3h0M49.8 76.6h0M53.0 70.9h0M52.9 76.7h0M48.8 75.0h0M48.4 79.3h0M47.5 74.0h0M48.5 72.8h0M47.0 75.5h0M52.4 72.7h0M48.6 70.7h0M48.2 81.9h0M46.5 71.6h0M50.3 76.6h0M44.7 74.9h0M48.8 72.4h0M52.7 76.4h0M49.9 73.4h0M48.6 73.5h0M49.8 76.0h0M50.4 77.8h0M54.2 70.5h0M51.5 76.6h0M50.6 73.6h0M50.1 78.1h0M51.6 75.5h0M48.8 77.6h0M51.0 73.6h0M54.1 79.7h0M46.6 78.8h0M45.2 73.0h0M49.9 76.7h0M48.0 72.0h0M45.8 75.3h0M48.4 72.9h0M49.0 81.2h0M47.6 75.6h0M47.6 74.2h0M49.3 74.2h0M49.2 71.3h0M49.3 81.7h0M50.6 77.0h0M52.9 75.0h0M47.4 71.0h0M47.7 79.4h0M51.8 75.6h0M43.0 71.6h0M45.7 73.3h0M48.4 72.2h0M52.0 71.5h0M49.7 77.9h0M49.0 72.3h0M54.1 78.8h0M46.7 75.9h0M44.5 71.4h0M51.9 76.0h0M52.3 74.9h0M45.3 77.4h0M46.5 72.8h0M48.4 78.3h0M51.8 80.3h0M47.8 69.6h0M53.3 77.1h0M47.9 71.9h0M51.4 69.5h0M46.6 70.3h0M44.5 72.2h0M53.6 76.7h0M46.8 72.1h0M50.0 76.0h0M44.7 73.9h0M50.4 76.9h0M50.4 76.0h0M43.3 70.2h0M48.9 72.3h0M48.8 74.2h0M49.5 72.5h0M52.7 73.3h0M51.6 76.0h0M52.4 74.8h0M45.0 75.5h0M54.2 73.9h0M51.5 75.5h0M47.2 74.1h0M49.9 78.7h0M53.0 79.1h0M53.4 79.2h0M48.8 71.4h0M53.8 73.7h0M52.4 74.1h0M49.2 75.8h0M45.5 73.3h0M46.9 74.8h0M46.6 76.4h0M53.2 79.8h0M53.4 72.6h0M51.2 73.4h0M50.4 74.4h0M48.6 75.9h0M47.1 77.9h0M47.4 72.6h0M49.7 76.9h0M48.9 77.0h0M53.1 78.3h0M47.1 76.1h0M52.9 78.2h0M51.3 76.6h0M45.6 75.3h0M52.7 72.2h0M53.1 70.5h0M46.7 71.3h0M49.9 76.0h0M55.5 73.1h0M44.2 73.2h0M47.8 79.2h0M51.6 78.4h0M50.5 74.7h0M49.7 75.8h0M43.7 83.7h0M47.2 73.0h0M48.9 76.5h0M52.9 78.5h0M35.2 83.8h0M52.1 71.0h0M39.7 80.8h0M48.8 76.8h0M41.8 77.4h0M48.7 78.1h0M56.4 73.1h0M41.6 71.3h0M51.3 74.1h0M45.3 74.1h0M47.8 70.3h0M47.6 76.6h0M49.9 79.4h0M46.7 76.9h0M48.6 70.7h0M45.9 77.2h0M49.9 72.5h0M50.8 76.0h0M39.0 75.4h0M41.2 79.6h0M48.8 78.1h0M49.7 73.4h0M52.5 76.6h0M49.6 76.9h0M42.1 80.0h0M41.2 75.3h0M45.7 77.6h0M46.4 75.7h0M43.1 78.9h0M42.2 74.1h0M49.2 80.2h0M44.0 74.4h0M54.9 78.5h0M45.5 76.5h0M51.6 84.1h0M48.8 78.9h0M46.5 70.7h0M40.9 75.3h0M48.9 75.9h0M54.1 72.3h0M48.4 76.1h0M50.5 82.5h0M50.0 79.9h0M51.6 72.3h0M49.4 74.1h0M47.7 76.7h0M46.5 75.2h0M53.1 72.8h0M52.0 79.7h0M50.9 78.1h0M54.1 76.8h0M52.3 69.3h0M55.2 72.8h0M38.9 78.2h0M41.2 79.1h0M39.5 76.7h0M48.4 76.4h0M43.4 77.4h0M46.7 76.9h0M46.7 75.9h0M48.6 70.4h0M45.1 77.8h0M44.6 75.8h0M45.4 77.9h0M51.9 73.6h0M46.3 78.0h0M43.5 71.7h0M47.6 75.0h0M45.4 79.3h0M46.5 74.9h0M35.8 76.1h0M46.9 76.2h0M49.1 76.3h0M43.4 74.0h0M42.3 78.2h0M43.2 80.8h0M39.2 74.2h0M43.9 72.1h0M52.5 70.6h0M46.5 75.9h0M41.3 73.3h0M40.3 82.5h0M54.0 80.4h0M41.6 80.9h0M48.0 78.8h0M45.8 79.5h0M51.5 76.4h0M52.8 73.2h0M52.5 71.6h0M50.5 65.8h0M46.0 74.3h0M48.3 79.3h0M50.1 75.4h0M52.2 69.2h0M45.5 82.2h0M45.7 70.2h0M46.9 72.6h0M54.6 76.7h0M46.4 81.1h0M44.7 80.6h0M49.3 75.0h0M40.7 78.5h0M36.7 79.4h0M40.8 83.4h0M39.9 71.8h0M49.9 76.4h0M47.6 83.2h0M50.3 75.2h0M40.6 69.7h0M50.2 78.2h0M42.7 73.8h0M44.7 72.0h0M48.0 78.6h0M53.6 74.3h0M48.8 78.2h0M52.4 72.9h0M40.9 76.7h0M40.6 76.5h0M46.9 77.7h0M47.7 76.4h0M46.0 78.3h0M51.7 76.8h0M52.9 72.8h0M48.1 81.6h0M48.4 77.2h0M46.8 79.8h0M44.0 74.5h0M46.2 75.4h0M50.0 73.9h0M47.2 75.7h0M47.6 74.1h0M49.8 70.5h0M44.5 75.3h0M49.8 75.3h0M48.6 74.7h0M42.6 74.9h0M44.9 75.7h0M48.6 76.9h0M50.9 74.3h0M42.5 75.1h0M47.7 77.4h0M55.4 73.2h0M56.7 78.2h0M44.2 81.8h0M53.4 77.9h0M48.2 79.1h0M44.9 77.2h0M49.3 81.3h0M47.3 79.5h0M46.4 74.4h0M48.8 77.8h0M44.8 79.6h0M42.9 75.5h0M47.6 75.4h0M40.8 74.0h0M47.4 77.1h0M45.3 77.9h0M41.1 80.5h0M49.1 76.4h0M44.5 77.9h0M48.9 79.2h0M48.5 76.7h0M45.1 80.3h0M51.3 72.9h0M50.1 76.1h0M45.2 73.1h0M52.0 68.0h0M47.8 74.9h0M51.2 73.1h0M47.9 78.1h0M48.2 74.2h0M50.3 76.2h0M50.5 73.2h0M46.3 75.5h0M43.8 78.8h0M50.5 79.6h0M46.1 78.2h0M51.6 74.0h0M47.4 76.7h0M42.9 75.2h0M51.9 74.8h0M45.1 73.3h0M49.0 79.5h0M41.1 76.3h0M53.4 78.2h0M52.8 72.0h0M48.5 73.3h0M48.7 74.5h0M49.5 79.8h0M48.1 75.2h0M47.6 77.1h0M45.1 78.1h0M51.5 79.6h0M36.9 77.3h0M43.0 81.3h0M57.4 72.3h0M48.9 79.3h0M36.7 80.7h0M34.3 82.9h0M44.3 76.2h0M47.7 74.3h0M51.6 74.3h0M51.8 82.6h0M46.3 79.9h0M45.1 81.5h0M51.2 75.0h0M53.1 78.9h0M52.7 73.8h0M48.2 79.6h0M40.2 77.7h0M49.7 77.1h0M56.9 77.7h0M48.9 77.1h0M41.3 78.5h0M47.8 75.4h0M48.0 78.0h0M42.4 76.8h0M41.1 83.0h0M40.5 73.9h0M49.9 74.4h0M50.5 73.6h0M56.7 74.3h0M47.8 76.5h0M47.2 79.1h0M54.7 71.5h0M43.3 80.2h0M49.5 70.4h0M42.9 75.2h0M50.0 76.8h0M42.6 74.9h0M47.2 69.7h0M49.5 74.8h0M56.1 75.5h0M44.3 76.9h0M44.9 75.1h0M48.5 78.9h0M40.5 78.8h0M54.1 75.6h0M42.6 75.9h0M41.5 73.8h0M51.8 74.5h0M42.3 74.0h0M44.8 75.9h0M53.5 72.0h0M48.8 79.1h0M49.5 74.7h0M39.8 84.4h0M48.9 74.2h0M45.4 74.1h0M41.5 74.2h0M49.7 76.9h0M48.7 78.3h0M49.4 75.8h0M44.1 79.8h0M52.7 75.9h0M51.5 72.9h0M44.5 81.7h0M44.9 78.3h0M46.2 76.9h0M45.2 75.6h0M42.1 85.0h0M45.4 71.0h0M41.9 75.2h0M40.8 71.1h0M51.4 79.8h0M46.9 79.0h0M47.9 72.0h0M49.9 69.7h0M44.2 76.6h0M52.3 74.4h0M45.5 74.6h0M47.4 76.4h0M51.7 78.8h0M50.0 75.1h0M48.4 81.1h0M47.8 76.1h0M56.3 77.3h0M49.2 75.1h0M45.7 80.5h0M46.3 79.9h0M43.9 78.3h0M48.8 76.1h0M48.4 77.1h0M41.0 75.7h0M48.6 81.6h0M45.3 74.3h0M44.4 77.8h0M51.1 72.7h0M49.5 75.9h0M44.4 74.7h0M45.5 74.9h0M47.0 70.8h0M52.5 76.4h0M51.2 79.4h0M47.3 70.8h0M47.8 77.6h0M42.8 74.8h0M49.4 77.0h0M45.0 76.7h0M44.2 76.0h0M48.1 79.5h0M40.0 78.7h0M54.0 74.3h0M48.7 78.4h0M41.4 75.2h0M38.4 75.8h0M49.1 78.3h0M44.5 75.5h0M49.4 77.4h0M45.7 71.0h0M41.7 70.8h0M46.9 73.8h0M46.2 81.7h0M53.0 75.3h0M48.3 76.4h0M44.6 77.5h0M53.7 70.6h0M44.5 78.2h0M51.7 77.0h0" stroke="#000" stroke-width="0.9" stroke-linecap="round" stroke-opacity="0.85" fill="none"/>
<path d="M29.2 84.6h0M30.0 83.3h0M30.8 83.6h0M32.4 83.6h0M29.6 84.6h0M30.0 83.8h0M30.4 85.1h0M29.6 83.1h0M29.8 85.1h0M33.9 81.7h0M30.1 84.0h0M28.7 85.3h0M30.8 84.2h0M34.3 82.2h0M32.3 84.0h0M29.6 84.1h0M33.5 83.4h0M30.7 83.1h0M32.4 83.7h0M34.8 83.4h0M32.2 83.6h0M30.7 83.6h0M31.4 83.9h0M32.2 84.3h0M31.1 83.4h0M32.6 84.5h0M29.6 84.9h0M31.8 84.0h0M31.6 83.6h0M31.2 85.3h0M33.1 81.7h0M26.9 86.2h0M29.6 84.1h0M28.4 85.4h0M30.5 83.7h0M33.0 85.0h0M33.5 83.7h0M30.4 84.8h0M31.1 84.8h0M31.7 83.5h0M31.4 83.1h0M32.6 84.5h0M30.4 84.7h0M28.5 85.9h0M31.9 82.6h0M33.6 82.8h0M27.6 84.3h0M32.1 83.2h0M32.0 82.1h0M31.0 84.8h0M29.9 85.0h0M30.3 84.5h0M32.0 85.3h0M29.1 85.5h0M32.5 82.2h0M31.7 85.6h0M31.5 81.1h0M29.9 83.0h0M31.0 83.3h0M29.6 83.8h0M56.0 67.4h0M48.9 72.5h0M55.9 65.6h0M58.8 60.4h0M56.8 67.2h0M63.7 62.1h0M48.2 67.9h0M68.7 64.8h0M47.5 72.8h0M51.9 78.6h0M53.7 61.6h0M58.1 72.3h0M55.9 71.6h0M54.7 71.1h0M55.0 66.8h0M57.5 69.3h0M53.4 67.8h0M49.1 74.5h0M55.5 58.9h0M54.3 76.5h0M59.4 64.3h0M61.6 61.8h0M53.8 79.4h0M51.8 70.9h0M42.6 72.6h0M47.3 73.8h0M45.5 80.3h0M51.6 69.3h0M52.4 74.8h0M63.9 63.0h0M68.3 69.5h0M64.1 66.1h0M46.9 77.7h0M52.8 72.1h0M42.5 75.9h0M54.7 66.0h0M60.1 74.6h0M55.1 66.8h0M65.9 54.0h0M50.0 74.7h0M46.8 64.4h0M58.3 71.9h0M52.8 77.8h0M60.5 72.2h0M45.3 75.6h0M69.0 71.0h0M63.3 65.2h0M54.9 67.2h0M60.6 63.6h0M51.8 62.6h0M48.9 81.5h0M55.8 70.5h0M41.0 77.9h0M65.2 57.4h0M39.6 78.1h0M51.2 71.2h0M44.4 70.0h0M48.4 76.7h0M56.3 73.0h0M49.3 75.9h0M52.4 71.9h0M61.0 66.7h0M49.5 65.7h0M56.9 72.4h0M50.9 72.1h0M41.2 72.0h0M60.1 72.9h0M49.8 65.5h0M49.5 66.1h0M57.0 77.6h0M56.6 68.4h0M60.9 64.9h0M57.5 69.5h0M55.0 63.4h0M61.3 70.4h0M35.2 69.2h0M52.2 78.4h0M56.5 72.2h0M60.3 71.0h0M49.8 70.4h0M58.6 70.7h0M59.3 69.0h0M54.1 75.5h0M60.1 71.9h0M40.8 82.8h0M39.8 79.7h0M51.0 72.9h0M51.3 70.7h0M56.9 70.5h0M44.9 64.3h0M51.1 74.7h0M50.5 74.6h0M50.8 68.1h0M65.7 71.3h0M54.2 70.2h0M58.5 61.9h0M51.6 77.1h0M59.8 65.0h0M50.7 74.1h0M45.0 73.5h0M48.6 62.4h0M60.3 70.4h0M59.0 61.1h0M45.1 72.0h0M50.7 81.9h0M48.1 72.6h0M57.2 70.8h0M62.2 60.9h0M61.0 67.2h0M47.8 74.9h0M49.2 80.8h0M52.3 76.2h0M62.2 63.0h0M49.5 73.8h0M50.0 77.0h0M54.6 66.7h0M52.0 75.0h0M49.0 81.2h0M49.5 72.2h0M52.3 79.0h0M62.9 71.4h0M59.4 67.9h0M67.3 66.0h0M59.0 70.4h0M60.3 68.2h0M50.7 65.1h0M65.7 57.8h0M39.7 75.6h0M69.9 67.0h0M51.6 73.2h0M50.9 63.2h0M53.4 72.3h0M60.2 61.5h0M37.2 73.0h0M57.3 69.0h0M56.3 70.0h0M49.9 66.7h0M58.7 69.6h0M61.2 72.1h0M42.3 66.5h0M47.7 84.1h0M49.9 74.8h0M56.4 72.6h0M74.8 56.2h0M52.7 68.6h0M57.6 70.9h0M51.3 78.2h0M63.3 67.2h0M53.8 69.6h0M45.6 78.4h0M47.7 71.9h0M59.6 63.1h0M53.3 74.9h0M65.7 60.6h0M60.9 63.6h0M58.5 70.2h0M49.7 77.8h0M66.8 63.4h0M54.4 64.9h0M66.7 63.5h0M48.2 77.4h0M44.1 73.1h0M43.9 82.8h0M68.1 59.5h0M49.6 70.4h0M52.4 74.0h0M62.5 61.0h0M54.3 62.1h0M64.7 64.0h0M53.5 77.9h0M57.1 75.1h0M65.3 71.7h0M49.9 73.2h0M57.0 67.9h0M63.5 61.8h0M64.2 71.0h0M40.4 74.0h0M48.0 71.5h0M57.2 67.9h0M54.6 68.1h0M55.4 72.0h0M58.3 64.5h0M52.7 67.8h0M51.0 65.7h0M62.5 68.7h0M52.8 68.1h0M50.7 69.4h0M48.2 81.4h0M73.9 53.4h0M48.6 76.4h0M55.8 62.3h0M43.6 79.1h0M44.9 82.4h0M52.0 72.2h0M53.9 68.1h0M53.5 69.5h0M62.9 65.0h0M53.7 68.3h0M49.4 69.8h0M58.7 76.3h0M62.7 66.6h0M67.9 67.3h0M56.0 68.7h0M48.4 75.0h0M49.8 65.7h0M50.5 81.5h0M57.4 70.9h0M55.4 67.6h0M60.2 72.0h0M54.0 72.9h0M60.7 64.5h0M54.6 66.8h0M58.2 66.5h0M60.9 63.1h0M65.3 62.6h0M47.7 70.0h0M57.6 64.5h0M69.3 67.7h0M55.5 63.1h0M53.4 67.6h0M44.1 78.3h0M68.2 59.9h0M62.8 71.4h0M48.1 72.4h0M57.7 70.6h0M48.0 75.0h0M56.2 73.7h0M43.5 74.0h0M51.1 70.8h0M58.4 65.1h0M71.4 57.3h0M62.5 70.4h0M60.9 65.7h0M49.1 72.2h0M59.6 67.9h0M59.9 69.8h0M47.4 70.1h0M63.4 62.9h0M48.4 82.4h0M47.7 69.9h0M59.0 62.5h0M51.4 76.9h0M54.7 81.8h0M61.0 78.9h0M56.0 69.7h0M50.4 71.6h0M51.7 71.8h0M57.5 62.7h0M44.9 66.2h0M64.6 64.1h0M54.8 69.9h0M62.2 67.3h0M60.2 66.2h0M54.1 70.3h0M45.1 80.8h0M42.8 72.5h0M59.5 67.7h0M63.7 72.9h0M69.9 67.8h0M57.6 77.9h0M49.1 73.0h0M61.0 65.5h0M53.5 69.2h0M58.9 56.3h0M65.4 68.9h0M55.7 72.2h0M50.9 77.5h0M73.0 55.3h0M64.0 64.6h0M51.8 69.6h0M51.3 66.4h0M49.5 80.9h0M56.0 72.0h0M58.0 70.5h0M43.2 72.4h0M61.1 71.1h0M46.4 72.3h0M49.4 76.3h0M57.3 68.8h0M51.5 73.6h0M53.7 67.3h0M55.8 66.4h0M62.4 68.6h0M51.7 74.6h0M54.0 67.3h0M45.7 67.7h0M48.3 75.4h0M61.6 63.3h0M56.7 70.6h0M61.0 68.6h0M64.5 68.1h0M50.8 74.2h0M39.4 78.2h0M56.3 71.9h0M54.7 74.0h0M61.9 62.1h0M52.0 72.9h0M58.5 68.7h0M58.0 62.8h0M62.4 71.1h0M63.1 67.3h0M54.3 72.3h0M51.3 64.8h0M51.0 72.1h0M49.8 68.7h0M52.8 69.6h0M55.4 69.6h0M58.1 72.8h0M56.7 70.9h0M41.2 64.4h0M53.8 73.8h0M51.5 69.1h0M48.7 77.7h0M52.1 72.8h0M63.4 67.6h0M69.3 61.1h0M62.6 68.8h0M50.8 72.6h0M49.3 68.6h0M55.4 66.2h0M64.4 61.1h0M51.6 72.4h0M51.7 72.1h0M48.2 67.4h0M36.7 74.6h0M65.8 65.8h0M55.1 67.8h0M54.7 71.6h0M44.4 72.4h0M51.7 77.7h0M50.5 78.0h0M57.4 81.2h0M54.6 70.4h0M65.5 68.0h0M59.0 62.8h0M65.7 71.6h0M53.4 68.7h0M49.9 77.6h0M56.9 68.9h0M50.2 80.2h0M60.6 66.6h0M62.7 61.2h0M58.7 63.2h0M63.6 63.8h0M62.1 64.0h0M59.9 72.5h0M49.3 73.7h0M51.3 76.1h0M50.3 71.0h0M56.0 74.8h0M48.2 73.8h0M51.8 69.3h0M49.6 72.4h0M53.2 63.9h0M54.2 65.0h0M59.7 77.8h0M48.6 73.4h0M55.3 74.4h0M48.3 65.6h0M44.9 76.7h0M58.8 72.7h0M52.8 74.3h0M50.7 78.5h0M53.2 67.9h0M59.6 75.4h0M47.0 68.9h0M46.1 69.8h0M55.4 71.4h0M54.3 71.3h0M62.1 64.6h0M42.3 66.8h0M55.2 66.7h0M54.2 72.4h0M54.9 62.8h0M48.9 73.8h0M56.4 74.5h0M47.6 64.7h0M59.3 59.9h0M49.5 75.0h0M53.1 82.6h0M57.6 71.0h0M56.6 79.3h0M57.1 65.5h0M59.8 59.4h0M51.8 73.2h0M54.0 66.2h0M68.2 69.2h0M49.7 74.8h0M50.0 70.9h0M61.7 66.7h0M54.5 70.8h0M49.8 78.6h0M52.7 77.3h0M51.1 70.1h0M65.0 65.1h0M49.8 70.5h0M62.7 74.2h0M58.2 66.3h0M46.4 71.9h0M54.7 71.3h0M53.3 76.9h0M47.4 71.1h0M59.2 69.8h0M54.4 74.8h0M49.1 80.9h0M73.1 68.6h0M59.7 76.4h0M58.0 74.4h0M54.1 71.4h0M54.9 62.0h0M57.1 76.7h0M36.8 82.3h0M61.6 67.7h0M59.0 74.1h0M53.4 62.2h0M48.3 72.5h0M55.0 67.9h0M57.7 76.2h0M38.3 85.0h0M62.3 68.6h0M55.2 70.2h0M57.8 69.5h0M51.9 75.4h0M49.6 73.0h0M50.4 67.4h0M58.8 67.5h0M47.3 74.1h0M48.9 80.1h0M62.3 74.9h0M52.7 74.6h0M47.0 70.7h0M55.2 71.8h0M60.5 65.6h0M64.1 69.2h0M49.0 72.7h0M52.5 79.3h0M53.2 75.1h0M60.4 65.7h0M52.5 73.0h0M47.5 68.5h0M49.4 74.8h0M59.8 75.4h0M44.2 78.6h0M49.8 78.3h0M59.8 67.8h0M63.8 63.2h0M49.5 68.4h0M51.0 72.8h0M61.9 71.9h0M51.8 68.5h0M52.0 69.8h0M51.2 70.4h0M49.3 73.1h0M51.4 71.3h0M46.3 75.7h0M60.0 70.1h0M49.2 68.1h0M44.3 70.8h0M50.2 71.3h0M44.9 78.9h0M43.7 73.4h0M52.0 75.5h0M66.2 61.9h0M52.5 69.7h0M53.4 70.2h0M68.7 57.1h0M52.7 67.7h0M56.3 66.9h0M56.6 64.2h0M69.0 62.9h0M45.0 79.0h0M49.7 67.8h0M56.8 66.6h0M58.7 65.4h0M61.1 67.2h0M57.6 69.2h0M51.9 70.1h0M59.3 70.8h0M56.8 79.2h0M63.6 59.8h0M61.8 65.7h0M54.9 66.4h0M64.0 61.1h0M53.0 67.8h0M69.9 67.1h0M45.6 73.4h0M56.5 67.2h0M50.6 67.6h0M54.5 65.3h0M65.1 75.1h0M56.2 76.8h0M56.1 66.3h0M50.9 68.0h0M57.1 72.0h0M60.4 65.6h0M47.2 74.2h0M66.3 64.8h0M50.5 63.2h0M53.3 73.5h0M51.6 78.1h0M49.7 69.1h0M51.1 71.8h0M60.3 64.4h0M43.4 76.3h0M61.4 73.3h0M50.7 79.2h0M60.2 69.1h0M48.4 69.8h0M50.7 76.7h0M58.5 72.8h0M66.7 63.4h0M58.5 76.7h0M45.8 73.3h0M51.9 70.1h0M54.3 66.6h0M59.8 61.1h0M46.5 67.3h0M47.2 77.2h0M58.6 67.0h0M61.6 69.0h0M51.2 72.0h0M61.3 75.5h0M52.9 72.9h0M60.9 72.1h0M59.8 72.1h0M47.7 73.0h0M42.5 77.0h0M70.4 62.2h0M56.1 70.6h0M53.3 65.0h0M50.2 72.0h0M54.4 66.5h0M52.9 67.9h0M45.3 72.7h0M51.5 75.8h0M64.7 67.0h0M52.6 68.9h0M44.0 74.0h0M67.3 68.2h0M56.0 68.4h0M55.9 71.4h0M55.8 71.5h0M50.2 73.0h0M54.9 75.0h0M49.6 79.0h0M53.5 68.6h0M55.4 70.4h0M54.4 72.3h0M48.0 66.4h0M59.4 67.4h0M66.4 65.2h0M44.7 81.6h0M51.7 74.4h0M71.3 65.5h0M47.9 73.7h0M46.1 78.2h0M56.6 64.5h0M59.7 71.5h0M58.9 64.8h0M48.4 68.8h0M47.4 75.8h0M57.8 74.3h0M56.1 67.9h0M48.9 80.5h0M56.0 69.3h0M46.6 70.2h0M57.2 64.4h0M60.0 70.0h0M49.4 66.0h0M60.4 73.3h0M47.3 68.8h0M62.2 66.5h0M53.4 76.5h0M54.1 72.6h0M51.0 69.0h0M54.7 66.3h0M42.7 74.7h0M65.0 69.2h0M70.8 65.4h0M65.8 64.9h0M53.2 73.2h0M50.4 76.0h0M52.7 72.6h0M49.3 72.7h0M60.8 65.7h0M51.3 73.5h0M60.3 66.2h0M44.5 69.1h0M48.6 78.5h0M55.4 72.0h0M62.4 67.0h0M57.1 66.6h0M46.0 78.1h0M55.5 72.3h0M48.0 73.5h0M66.2 59.8h0M58.2 74.1h0M53.8 71.3h0M43.0 80.5h0M54.7 76.0h0M47.3 64.0h0M53.1 61.4h0M52.8 80.6h0M60.1 60.2h0M62.0 66.5h0M55.9 62.5h0M52.8 68.5h0M57.3 64.8h0M44.4 69.3h0M49.6 56.0h0M53.7 71.5h0M50.3 62.9h0M47.4 62.8h0M57.7 56.8h0M28.0 68.8h0M54.0 65.6h0M39.0 60.0h0M44.5 61.2h0M43.7 70.5h0M44.2 73.5h0M40.7 67.8h0M55.1 78.0h0M69.9 62.2h0M43.0 71.1h0M62.9 65.7h0M34.1 76.7h0M46.7 76.4h0M53.6 58.0h0M69.3 49.7h0M72.7 48.5h0M58.6 80.1h0M42.7 66.3h0M64.1 55.9h0M48.5 54.0h0M72.1 61.0h0M57.0 68.7h0M42.9 66.1h0M36.8 79.3h0M66.2 63.8h0M62.4 64.9h0M34.8 63.1h0M57.1 63.0h0M58.2 57.5h0M43.8 75.2h0M36.6 58.3h0M39.9 64.0h0M36.6 69.8h0M70.8 76.3h0M64.7 51.6h0M60.7 57.9h0M50.6 58.7h0M41.1 54.8h0M63.6 48.7h0M52.8 58.1h0M46.9 56.0h0M51.0 75.1h0M46.3 48.5h0M51.8 51.2h0M55.4 67.8h0M42.3 68.2h0M49.7 70.6h0M65.6 69.5h0M63.0 77.9h0M49.7 85.0h0M51.3 73.3h0M49.3 67.6h0M43.2 75.0h0M70.3 53.5h0M49.9 66.3h0M55.9 59.9h0M51.1 67.7h0M67.3 64.0h0M36.9 68.8h0M54.4 71.9h0M58.4 58.1h0M69.8 50.6h0M70.6 66.6h0M66.4 56.8h0M48.1 51.5h0M30.0 73.8h0M62.2 68.7h0M54.2 74.1h0M63.1 72.9h0M30.7 71.0h0M35.8 65.3h0M61.4 48.5h0M40.2 68.9h0M56.3 56.9h0M59.9 65.0h0M32.3 53.9h0M35.1 63.6h0M62.3 50.1h0M41.6 76.0h0M46.0 59.2h0M65.1 65.1h0M49.1 58.9h0M31.6 57.6h0M55.7 66.3h0M41.3 72.5h0M76.1 36.1h0M36.6 81.9h0M43.5 65.5h0M55.4 61.0h0M62.2 63.0h0M61.8 59.1h0M38.8 84.9h0M45.7 54.7h0M55.0 71.8h0M40.4 73.3h0M38.0 64.0h0M50.4 79.2h0M56.5 61.3h0M49.9 67.5h0M53.7 65.5h0M38.0 84.1h0M29.0 53.6h0M50.9 52.9h0M48.2 66.4h0M47.0 73.8h0M46.1 66.0h0M39.5 70.6h0M40.3 73.4h0M67.8 64.2h0M47.5 53.6h0M64.6 65.7h0M58.9 36.4h0M48.6 63.6h0M55.2 51.1h0M57.8 84.9h0M49.9 45.4h0M57.0 75.5h0M47.0 74.4h0M43.8 55.1h0M49.6 78.3h0M58.5 53.8h0M57.4 53.5h0M52.3 64.2h0M39.6 76.8h0M32.8 49.4h0M37.9 65.7h0M37.2 64.9h0M31.3 53.5h0M59.0 60.5h0M51.2 62.5h0M49.4 63.8h0M32.0 62.8h0M55.8 72.7h0M60.2 75.8h0M35.5 73.4h0M50.1 78.9h0M63.9 50.9h0M55.9 59.4h0M39.8 72.0h0M47.6 84.0h0M61.6 70.4h0M41.5 46.5h0M58.2 61.3h0M27.5 82.9h0M68.2 71.2h0M44.0 78.5h0M52.4 62.6h0M49.9 71.7h0M58.8 66.8h0M39.6 59.5h0M69.2 66.3h0M44.4 69.6h0M49.2 48.2h0M66.8 79.7h0M49.2 59.2h0M69.8 52.3h0M50.0 61.6h0M42.9 52.1h0M30.3 64.3h0M58.3 59.3h0M51.1 43.8h0M51.4 80.4h0M33.1 58.2h0M41.1 68.6h0M56.3 75.3h0M70.5 68.0h0M53.2 58.5h0M37.9 58.9h0M68.5 66.3h0M46.5 59.1h0M59.0 64.9h0M45.8 56.8h0M49.5 60.4h0M60.1 65.2h0M52.2 60.0h0M68.6 61.2h0M66.4 63.4h0M58.4 64.3h0M30.7 60.4h0M44.0 76.7h0M59.7 61.1h0M60.0 78.4h0M37.3 56.1h0M33.5 74.2h0M60.4 66.5h0M51.9 73.3h0M46.0 61.2h0M50.1 73.9h0M53.7 51.6h0M41.1 73.6h0M64.7 43.4h0M40.0 77.4h0M51.9 58.2h0M52.2 69.6h0M33.1 77.6h0M60.4 68.5h0M60.9 57.6h0M42.8 85.2h0M54.3 56.3h0M65.1 66.4h0M37.0 50.3h0M41.7 63.8h0M41.5 71.1h0M41.5 76.1h0M62.3 44.9h0M57.4 55.2h0M54.6 61.4h0M58.9 52.3h0M53.2 55.6h0M52.1 64.4h0M52.7 47.5h0M43.9 84.9h0M62.1 75.4h0M41.1 74.4h0M64.6 74.4h0M47.3 63.2h0M56.4 60.5h0M46.6 76.4h0M26.7 71.7h0M60.6 53.3h0M48.7 70.8h0M63.4 62.2h0M37.9 68.5h0M59.5 58.1h0M48.3 76.4h0M71.7 73.7h0M28.8 74.6h0M30.0 79.7h0M30.6 83.3h0M30.1 76.7h0M33.7 79.0h0M29.0 85.2h0M33.7 75.6h0M32.6 72.7h0M28.4 76.6h0M33.1 78.5h0M29.7 71.4h0M27.1 85.7h0M33.1 74.2h0M35.5 80.6h0M30.8 75.1h0M35.3 79.6h0M36.8 79.7h0M30.3 75.1h0M29.9 79.2h0M32.7 80.9h0M33.3 73.0h0M31.4 73.5h0M33.4 71.7h0M30.3 73.9h0M30.2 76.8h0M36.4 76.8h0M27.8 76.6h0M34.2 80.7h0M35.2 78.4h0M35.6 71.6h0M31.5 73.8h0M32.5 85.8h0M30.6 85.6h0M29.0 84.8h0M27.1 73.9h0M34.9 77.6h0M32.4 77.9h0M32.5 77.1h0M29.1 76.6h0M32.3 73.7h0M33.4 86.5h0M27.2 75.4h0M31.2 78.1h0M32.3 74.5h0M31.9 78.0h0M31.7 85.4h0M32.4 70.9h0M27.4 80.8h0M31.0 75.0h0M28.0 76.5h0M31.7 74.7h0M31.0 82.3h0M34.3 80.6h0M31.5 71.5h0M34.3 85.2h0M35.7 83.6h0M32.8 79.8h0M32.0 84.0h0M34.3 76.5h0M32.0 70.3h0M29.9 76.6h0M39.1 74.1h0M34.7 78.4h0M31.1 81.0h0M26.2 82.5h0M37.6 79.4h0M31.8 78.8h0M33.9 75.7h0M32.4 80.4h0M31.0 79.9h0M33.0 81.4h0M29.1 75.4h0M30.8 83.7h0M32.7 70.1h0M33.0 71.8h0M29.3 78.7h0M36.2 85.8h0M30.9 76.6h0M37.6 73.3h0M36.6 79.6h0M32.3 84.2h0M33.4 74.0h0M27.6 78.1h0M33.5 84.6h0M33.8 85.3h0M34.3 79.0h0M33.3 79.9h0M30.2 77.5h0M32.4 75.8h0M27.7 71.1h0M33.5 80.5h0M32.3 72.4h0M34.5 76.1h0M26.0 85.5h0M33.6 75.9h0M36.3 84.5h0M32.8 69.8h0M30.9 76.6h0M33.3 77.4h0M33.0 70.2h0M47.3 64.5h0M76.3 22.8h0M51.8 72.2h0M80.4 39.6h0M27.7 51.8h0M83.6 64.0h0M91.3 81.5h0M31.5 65.8h0M66.6 21.0h0M55.4 58.7h0M44.4 21.9h0M44.1 22.7h0M92.7 68.1h0M35.8 78.4h0M29.8 84.9h0M89.9 74.7h0M28.8 65.2h0M58.9 29.4h0M79.7 28.5h0M54.1 37.3h0M56.8 62.1h0M85.6 53.2h0M48.0 40.4h0M54.0 22.3h0M58.5 77.1h0M74.9 69.3h0M74.9 33.4h0M65.9 70.4h0M49.1 73.6h0M33.1 67.0h0M69.4 70.7h0M63.7 79.9h0M70.0 58.3h0M76.7 57.2h0M54.5 47.4h0M54.6 44.1h0M32.1 21.1h0M52.5 49.2h0M50.6 35.5h0M84.5 81.0h0M57.2 41.0h0M85.8 74.4h0M43.1 65.4h0M57.5 45.2h0M79.5 76.1h0M33.7 58.6h0M73.9 49.9h0M30.1 67.6h0M80.2 63.3h0M85.7 80.6h0M32.7 58.3h0M42.7 80.4h0M34.2 34.9h0M80.5 31.8h0M48.2 81.4h0M47.9 59.4h0M53.5 60.5h0M49.0 22.2h0M67.4 78.5h0M43.1 58.1h0M55.4 79.0h0M38.9 28.6h0M48.3 45.7h0M53.1 50.9h0M77.9 78.7h0M87.7 36.3h0M61.2 64.3h0M44.2 28.8h0M50.1 65.4h0M48.5 64.3h0M26.2 66.2h0M30.6 36.9h0M81.1 55.8h0M42.7 38.9h0M49.2 71.4h0M72.8 77.5h0M33.6 22.9h0M43.3 54.3h0M65.2 47.9h0M91.8 69.0h0M29.1 83.8h0M82.8 27.6h0M49.9 77.8h0M32.8 32.9h0M91.6 61.8h0M44.9 37.7h0M92.0 22.8h0M49.4 32.1h0M68.2 62.7h0M38.0 76.8h0M37.7 35.7h0M57.9 56.0h0M85.9 50.4h0M35.6 59.1h0M34.6 39.1h0M72.2 27.0h0M79.2 46.6h0M37.0 46.2h0M51.8 55.8h0M53.1 72.0h0M48.1 80.7h0M87.7 69.7h0M78.8 57.2h0M43.1 26.3h0M47.6 46.5h0M32.8 65.9h0M79.3 77.3h0M35.7 69.5h0M50.9 42.3h0M81.7 49.9h0M48.8 40.9h0M76.0 77.4h0M72.5 46.2h0M76.9 56.1h0M44.3 77.5h0M46.4 25.5h0M90.6 22.5h0M61.4 56.0h0M53.5 56.2h0M71.1 61.7h0M72.4 80.5h0M26.7 35.4h0M36.2 54.5h0M36.5 54.3h0M76.1 45.9h0M44.6 82.4h0M71.6 39.8h0M58.6 71.9h0M85.1 64.5h0M63.7 72.3h0M90.3 20.5h0M73.8 51.8h0M36.0 41.9h0M81.2 44.2h0M31.1 57.0h0M43.5 49.1h0M86.9 74.5h0M55.8 40.0h0M49.2 83.4h0M74.7 73.7h0M34.3 42.5h0M54.3 84.1h0M27.6 37.8h0M61.4 39.5h0M63.6 58.8h0M75.2 64.8h0M57.6 50.2h0M28.7 50.3h0M38.5 75.9h0M83.2 73.0h0M37.8 37.6h0M49.7 42.7h0M33.5 74.9h0M37.8 82.8h0M81.3 24.1h0M75.1 84.0h0M33.0 44.3h0M61.8 82.2h0M27.7 81.5h0M63.6 43.4h0M88.6 81.5h0M43.2 73.4h0M53.9 81.4h0M50.6 57.8h0M73.5 62.4h0M87.6 24.6h0M49.3 29.3h0M92.8 72.0h0M79.2 83.0h0M61.7 37.9h0M91.8 67.5h0M82.5 46.6h0M82.9 32.9h0M27.6 54.9h0M35.8 79.9h0M38.4 46.8h0M54.7 20.2h0M80.1 76.0h0M37.7 20.3h0M54.9 35.4h0M55.4 84.1h0M47.2 50.9h0M53.0 65.5h0M68.0 49.4h0M33.0 68.5h0M50.8 28.3h0M76.8 50.7h0M71.9 59.6h0M38.5 50.1h0M86.1 84.7h0M48.0 34.5h0M75.5 36.1h0M92.9 45.4h0M55.3 62.4h0M39.6 42.5h0M30.4 39.9h0M75.9 61.0h0M28.5 48.1h0M61.2 61.1h0M83.4 46.9h0M50.0 60.3h0M43.6 70.7h0M42.7 40.8h0M59.5 22.4h0M66.8 72.6h0M78.2 45.4h0M54.2 48.5h0M87.6 79.7h0M81.7 63.7h0M47.0 37.4h0M49.4 24.4h0M86.5 73.0h0M54.0 27.3h0M80.2 71.3h0M34.1 20.9h0" stroke="#000" stroke-width="0.6" stroke-linecap="round" stroke-opacity="0.33" fill="none"/>
<rect x="25" y="18.5" width="69.00" height="68.50" fill="none" stroke="#858585" stroke-width="0.9"/>
<line x1="24.1" y1="19.5" x2="24.1" y2="87" stroke="#666" stroke-width="1" stroke-dasharray="0.6 1.9"/>
<line x1="25" y1="87.9" x2="93" y2="87.9" stroke="#666" stroke-width="1" stroke-dasharray="0.6 1.9"/>
<polygon points="55.8,18.7 93.9,18.7 93.9,72.2 45.5,86.2 33.2,84.6 34.4,77" fill="none" stroke="#7f8cc6" stroke-width="0.8" stroke-linejoin="round"/>
<text x="63.6" y="55.9" font-size="7.3" text-anchor="middle" font-weight="normal" fill="#4a5ca6" stroke="#4a5ca6">96.4</text>
<text x="6.3" y="77.2" font-size="7" text-anchor="middle" font-weight="normal" fill="#111" stroke="#111" transform="rotate(-90 6.3 77.2)">SSC</text>
<line x1="3.5" y1="66.8" x2="3.5" y2="22.5" stroke="#111" stroke-width="0.7"/>
<polygon points="3.5,19.5 4.76,22.50 2.24,22.50" fill="#111"/>
<text x="27" y="108.4" font-size="7.1" text-anchor="start" font-weight="normal" fill="#111" stroke="#111">FSC</text>
<line x1="48.1" y1="106.3" x2="93.5" y2="106.3" stroke="#111" stroke-width="0.7"/>
<polygon points="96.5,106.3 93.50,107.56 93.50,105.04" fill="#111"/>
<path d="M135.1 61.4h0M135.4 61.1h0M134.3 77.8h0M133.2 77.7h0M137.8 66.2h0M125.5 67.2h0M132.2 75.9h0M130.3 65.7h0M128.7 73.2h0M128.7 67.5h0M128.2 61.0h0M127.7 74.4h0M132.2 72.8h0M133.5 69.5h0M128.4 78.3h0M132.3 64.1h0M131.0 71.1h0M131.1 70.4h0M131.3 57.1h0M136.3 60.4h0M125.9 58.7h0M130.8 67.2h0M127.1 64.4h0M126.6 67.2h0M124.8 65.7h0M123.7 74.2h0M127.2 57.0h0M129.3 65.4h0M130.6 68.7h0M128.5 76.4h0M135.1 74.3h0M125.1 78.1h0M134.7 76.0h0M125.0 62.4h0M130.2 65.9h0M124.8 75.9h0M131.5 60.2h0M130.8 64.1h0M122.8 77.0h0M124.9 73.5h0M125.1 73.4h0M124.6 69.4h0M128.6 72.7h0M126.5 78.0h0M131.4 71.3h0M138.0 63.0h0M129.9 75.8h0M125.9 65.1h0M132.0 71.7h0M133.6 73.3h0M134.5 60.8h0M128.4 61.2h0M130.4 69.1h0M126.3 67.3h0M126.8 79.3h0M126.4 76.2h0M129.8 61.9h0M125.2 69.1h0M134.4 80.0h0M129.7 63.5h0M125.4 70.3h0M124.2 69.8h0M128.2 63.8h0M135.2 71.3h0M136.8 76.6h0M122.4 76.1h0M135.7 70.3h0M131.3 70.0h0M127.6 63.0h0M126.7 74.4h0M123.9 62.0h0M128.7 67.7h0M133.4 66.4h0M124.6 63.2h0M123.5 68.4h0M130.8 73.5h0M129.0 72.6h0M137.4 69.6h0M126.6 56.6h0M132.6 67.4h0M123.3 76.1h0M125.1 67.1h0M133.1 70.4h0M135.9 69.3h0M124.5 67.8h0M134.8 63.5h0M129.5 70.8h0M128.1 77.7h0M125.3 65.3h0M135.0 75.4h0M125.6 64.7h0M135.8 63.1h0M123.7 74.3h0M127.0 65.2h0M127.3 74.4h0M133.4 58.3h0M129.6 66.9h0M125.2 64.8h0M124.8 75.1h0M129.7 63.5h0M131.5 66.2h0M132.8 62.8h0M130.3 76.4h0M122.5 71.4h0M132.3 66.0h0M125.1 63.8h0M132.1 64.6h0M136.8 60.9h0M124.1 76.2h0M131.5 75.6h0M124.0 76.5h0M131.7 65.7h0M122.7 75.4h0M131.9 68.4h0M124.1 70.6h0M122.9 73.3h0M127.1 75.7h0M126.5 72.2h0M131.5 68.5h0M133.9 61.5h0M134.4 73.2h0M136.7 72.8h0M122.2 67.4h0M126.6 56.6h0M136.1 65.2h0M128.6 62.8h0M130.2 70.4h0M125.5 75.8h0M131.6 64.9h0M133.5 68.0h0M126.6 65.2h0M125.2 66.0h0M123.6 61.2h0M127.9 74.6h0M128.7 78.4h0M135.4 73.1h0M128.9 60.4h0M133.2 78.2h0M128.7 69.1h0M128.1 66.4h0M126.8 72.4h0M126.1 73.9h0M130.2 62.2h0M132.1 75.1h0M125.7 62.4h0M134.2 67.6h0M135.9 74.3h0M129.3 64.0h0M130.5 82.7h0M135.8 64.7h0M129.4 80.0h0M132.6 79.7h0M125.5 56.6h0M135.0 66.0h0M128.7 76.5h0M129.9 72.7h0M132.4 77.9h0M124.7 64.6h0M133.2 75.5h0M125.7 69.2h0M135.6 69.1h0M134.8 69.4h0M125.1 78.6h0M132.5 68.7h0M124.0 79.4h0M126.1 73.5h0M130.3 79.7h0M125.5 61.9h0M123.0 67.9h0M124.8 76.6h0M123.6 63.5h0M128.9 65.1h0M127.6 78.3h0M127.0 69.0h0M134.7 67.7h0M135.0 68.5h0M130.0 71.5h0M132.2 73.4h0M131.9 59.0h0M125.4 64.5h0M130.5 69.0h0M126.9 74.5h0M130.9 77.8h0M127.5 65.9h0M122.5 71.7h0M133.6 79.1h0M127.2 66.8h0M127.5 72.6h0M138.4 77.2h0M135.0 79.2h0M133.4 65.8h0M129.9 67.6h0M126.2 74.6h0M126.3 75.1h0M125.1 63.4h0M122.9 76.1h0M126.5 77.6h0M126.2 60.6h0M132.0 69.0h0M134.3 70.0h0M132.6 72.5h0M127.7 79.8h0M133.1 73.0h0M128.1 63.6h0M131.0 62.8h0M128.9 67.5h0M133.5 69.8h0M136.9 70.3h0M125.8 71.7h0M126.0 71.8h0M130.7 59.2h0M130.1 79.3h0M132.5 76.5h0M137.1 75.2h0M133.5 64.6h0M129.1 66.7h0M135.0 68.9h0M125.0 76.2h0M127.8 76.3h0M127.4 76.6h0M128.6 67.0h0M133.9 80.6h0M132.1 60.8h0M125.8 64.4h0M135.0 72.0h0M131.8 77.5h0M127.7 70.1h0M131.3 72.3h0M124.6 69.9h0M136.0 64.5h0M126.3 57.8h0M126.1 65.5h0M134.3 72.1h0M123.0 60.8h0M129.7 75.8h0M134.6 62.2h0M132.7 67.0h0M124.5 71.8h0M133.2 69.8h0M126.7 73.4h0M126.0 64.5h0M135.7 78.3h0M124.7 59.7h0M134.5 63.3h0M124.7 69.8h0M127.8 75.8h0M135.7 82.5h0M130.0 65.7h0M126.9 69.4h0M131.2 59.1h0M132.6 64.1h0M130.7 73.5h0M124.5 63.9h0M129.6 64.9h0M127.5 61.6h0M129.9 68.2h0M126.4 72.3h0M134.7 68.5h0M125.2 60.2h0M128.2 65.4h0M134.9 75.2h0M134.2 80.6h0M137.1 66.6h0M133.3 74.9h0M137.1 70.7h0M132.3 67.2h0M130.2 78.4h0M133.8 65.9h0M130.8 68.1h0M136.4 63.9h0M126.9 74.9h0M134.5 76.7h0M125.2 72.3h0M132.3 65.0h0M125.2 76.9h0M133.0 69.7h0M132.4 77.5h0M130.5 59.8h0M127.5 58.9h0M126.3 60.5h0M131.1 66.1h0M133.5 68.2h0M135.3 77.3h0M127.9 67.3h0M125.9 68.9h0M127.8 69.4h0M135.8 77.4h0M133.3 68.2h0M125.9 67.0h0M128.1 62.3h0M127.2 77.7h0M136.2 79.3h0M138.7 64.5h0M124.3 62.9h0M124.8 63.3h0M124.7 62.9h0M125.6 55.3h0M134.9 62.4h0M134.4 79.0h0M128.2 58.2h0M124.2 71.7h0M132.3 66.7h0M133.4 69.0h0M125.9 66.8h0M128.9 70.4h0M126.1 59.4h0M131.6 60.7h0M128.5 67.0h0M129.0 64.8h0M133.3 63.5h0M126.6 67.8h0M136.2 71.0h0M136.4 81.8h0M130.0 62.6h0M125.7 64.0h0M129.1 72.4h0M133.9 61.9h0M125.6 70.4h0M124.3 62.2h0M132.2 76.8h0M134.0 63.3h0M134.5 78.0h0M131.5 68.6h0M137.2 63.8h0M136.0 69.7h0M125.8 71.3h0M124.8 79.4h0M132.9 69.4h0M123.5 64.7h0M131.4 65.0h0M125.6 72.1h0M133.7 65.7h0M134.2 72.6h0M122.9 75.2h0M132.4 58.8h0M131.7 75.9h0M134.1 74.9h0M134.5 72.3h0M131.4 68.4h0M127.0 66.9h0M134.2 74.5h0M122.9 74.7h0M130.1 77.4h0M131.5 72.0h0M130.1 72.2h0M130.8 78.0h0M130.3 60.4h0M132.3 60.8h0M129.9 74.0h0M124.6 71.6h0M131.6 74.1h0M136.0 76.9h0M127.3 62.5h0M126.7 69.3h0M134.1 77.3h0M128.9 67.8h0M125.3 65.3h0M125.7 59.6h0M124.2 59.0h0M126.1 67.8h0M127.2 80.2h0M134.7 68.8h0M135.6 61.2h0M127.8 70.4h0M130.0 69.5h0M128.1 70.2h0M123.9 68.1h0M135.6 62.0h0M137.5 75.2h0M133.2 61.8h0M132.2 58.9h0M122.7 72.7h0M122.6 61.7h0M135.9 67.4h0M128.2 61.3h0M128.3 71.7h0M132.2 75.3h0M131.7 71.4h0M127.6 71.6h0M126.4 80.7h0M134.3 83.7h0M129.4 74.6h0M129.9 66.1h0M131.8 68.3h0M125.8 73.7h0M124.7 72.0h0M126.7 81.6h0M123.2 65.9h0M130.1 70.1h0M128.9 76.3h0M134.4 66.6h0M135.1 61.0h0M126.7 80.0h0M128.1 74.6h0M131.5 65.0h0M127.2 75.8h0M123.7 78.7h0M123.5 74.2h0M135.3 64.8h0M125.1 75.2h0M125.0 79.0h0M129.9 80.2h0M126.1 73.8h0M128.9 69.6h0M125.9 55.0h0M131.1 71.4h0M132.7 65.3h0M133.5 65.5h0M125.2 77.5h0M133.9 66.3h0M132.3 60.0h0M132.4 71.1h0M126.6 77.2h0M133.7 66.0h0M127.6 80.7h0M127.1 57.9h0M132.5 77.1h0M131.8 80.3h0M126.4 63.5h0M126.7 64.8h0M122.8 70.4h0M128.7 61.7h0M130.6 78.8h0M136.6 71.3h0M131.4 75.2h0M132.8 75.3h0M129.6 76.6h0M132.0 77.2h0M122.5 73.0h0M126.2 64.5h0M133.3 68.6h0M130.2 63.5h0M128.1 77.8h0M129.8 57.4h0M127.9 78.6h0M130.7 64.6h0M127.3 67.9h0M125.1 68.3h0M132.8 71.9h0M129.9 60.4h0M134.7 63.3h0M132.8 70.4h0M128.5 76.0h0M123.7 71.1h0M126.1 77.3h0M136.8 64.3h0M128.8 81.0h0M125.0 65.9h0M124.0 75.1h0M137.3 72.0h0M123.0 73.8h0M126.6 78.3h0M135.0 61.4h0M133.3 57.4h0M134.7 66.8h0M129.0 60.5h0M127.6 68.3h0M126.9 61.6h0M133.4 77.1h0M136.1 72.0h0M136.9 66.3h0M122.3 59.1h0M135.2 65.5h0M128.5 69.2h0M131.8 77.4h0M127.4 67.6h0M127.5 74.6h0M128.0 70.5h0M130.8 71.4h0M127.5 73.8h0M130.9 70.0h0M132.8 59.1h0M136.0 61.0h0M128.7 69.1h0M131.2 78.6h0M136.2 71.1h0M129.2 63.9h0M130.7 72.7h0M132.8 59.5h0M133.2 75.5h0M132.1 72.4h0M133.5 65.7h0M127.4 78.7h0M126.5 70.4h0M131.1 81.2h0M127.5 64.5h0M133.6 70.1h0M127.0 71.1h0M124.7 64.2h0M131.6 77.8h0M130.7 71.5h0M130.3 74.6h0M125.3 66.9h0M136.6 57.6h0M130.1 77.9h0M125.7 62.7h0M124.7 71.4h0M136.1 68.9h0M130.5 65.6h0M123.8 77.2h0M133.1 62.9h0M122.9 82.0h0M132.1 67.1h0M130.6 76.3h0M125.7 81.0h0M126.7 64.8h0M128.2 67.4h0M125.1 59.7h0M130.4 76.5h0M126.4 68.3h0M136.6 64.1h0M129.8 81.3h0M123.9 77.5h0M126.9 73.4h0M130.7 70.4h0M126.8 64.0h0M135.3 63.7h0M122.3 60.3h0M124.1 72.6h0M131.4 65.3h0M129.2 74.4h0M133.0 67.8h0M130.3 75.5h0M130.6 74.9h0M132.9 74.2h0M123.7 73.6h0M126.9 63.2h0M129.0 60.5h0M130.3 61.8h0M124.7 69.7h0M125.3 60.7h0M124.9 72.3h0M130.5 63.0h0M135.1 73.4h0M126.6 66.7h0M127.6 62.7h0M135.0 81.2h0M131.8 67.3h0M128.5 78.1h0M129.6 62.6h0M132.8 75.0h0M130.6 78.0h0M134.1 76.9h0M133.9 75.3h0M126.3 70.9h0M125.6 77.2h0M132.2 68.7h0M133.1 61.8h0M122.7 69.0h0M134.5 72.6h0M126.8 60.1h0M124.9 76.5h0M125.5 78.6h0M129.0 68.3h0M137.3 67.5h0M124.3 65.5h0M131.0 78.1h0M134.3 67.4h0M137.8 59.5h0M135.7 73.0h0M126.0 58.8h0M137.1 79.1h0M131.4 79.1h0M133.5 74.8h0M128.9 64.8h0M131.3 66.2h0M137.0 74.7h0M124.8 69.5h0M123.4 72.6h0M125.2 65.2h0M128.2 59.3h0M125.6 62.9h0M129.8 76.4h0M133.6 63.2h0M125.4 69.0h0M136.1 60.3h0M124.8 76.3h0M128.1 70.6h0M130.1 65.5h0M128.0 68.9h0M122.9 64.4h0M124.8 54.4h0M130.8 77.1h0M123.7 73.3h0M132.0 75.5h0M130.5 76.8h0M125.7 60.4h0M133.9 77.1h0M137.7 63.9h0M127.4 65.4h0M135.4 65.5h0M125.5 71.7h0M129.6 73.2h0M133.3 61.1h0M125.9 70.3h0M127.1 71.4h0M137.2 78.7h0M133.1 72.3h0M136.6 76.1h0M130.0 69.0h0M130.8 78.5h0M127.6 64.1h0M133.2 60.8h0M128.6 59.2h0M128.7 61.7h0M126.9 67.2h0M127.1 68.0h0M132.7 66.5h0M131.0 73.2h0M129.2 65.6h0M136.5 72.3h0M126.8 62.0h0M125.0 76.6h0M132.3 74.8h0M131.4 65.6h0M133.6 73.6h0M124.1 71.6h0M127.7 75.9h0M133.8 59.4h0M133.8 73.4h0M130.1 74.8h0M131.1 67.0h0M137.5 70.2h0M124.6 70.0h0M125.9 67.3h0M124.7 57.9h0M136.8 66.3h0M125.3 61.9h0M130.2 65.2h0M130.9 66.2h0M122.8 71.9h0M128.2 71.9h0M133.3 78.4h0M125.6 70.1h0M126.8 78.3h0M135.6 69.3h0M133.4 65.9h0M130.1 72.5h0M134.7 69.6h0M134.7 66.3h0M133.0 76.1h0M131.1 74.2h0M129.8 72.8h0M133.9 76.2h0M134.5 67.1h0M125.9 68.2h0M129.5 67.0h0M125.7 70.1h0M134.5 60.4h0M132.9 60.7h0M127.5 60.5h0M125.9 64.5h0M129.4 55.6h0M128.1 65.1h0M124.2 72.4h0M134.1 70.7h0M133.3 65.4h0M132.9 68.9h0M130.3 79.8h0M133.2 75.0h0M123.1 70.0h0M129.7 63.3h0M129.2 61.1h0M136.0 57.9h0M131.3 76.3h0M130.0 67.9h0M134.3 70.6h0M135.3 72.4h0M125.7 74.6h0M132.7 59.2h0M132.8 72.5h0M136.3 72.6h0M129.9 74.5h0M131.0 66.3h0M134.8 79.5h0M136.3 63.6h0M123.9 67.4h0M133.6 70.6h0M127.5 72.3h0M125.7 66.0h0M136.9 60.5h0M137.9 64.4h0M129.8 75.6h0M128.2 80.4h0M132.9 65.8h0M132.7 78.4h0M123.8 67.9h0M129.7 70.2h0M129.7 71.1h0M130.4 60.0h0M128.0 75.3h0M128.2 61.3h0M125.0 76.1h0M132.5 66.6h0M125.8 70.5h0M134.9 69.5h0M131.3 68.0h0M137.2 70.4h0M133.4 69.3h0M131.2 75.6h0M130.2 72.8h0M133.3 65.0h0M129.8 76.6h0M127.6 70.9h0M132.0 66.1h0M133.2 71.1h0M126.0 63.5h0M132.5 59.9h0M137.1 76.5h0M135.8 65.8h0M130.4 75.7h0M122.6 72.0h0M125.9 60.1h0M133.9 79.8h0M127.5 67.4h0M135.9 73.5h0M127.1 73.0h0M129.1 66.9h0M130.7 75.7h0M126.5 64.1h0M129.5 74.8h0M127.1 63.9h0M125.6 59.8h0M135.3 64.2h0M130.7 77.4h0M133.2 65.9h0M124.4 70.4h0M136.6 57.2h0M129.5 62.5h0M126.2 74.0h0M134.1 71.6h0M128.9 73.2h0M127.0 82.0h0M127.2 67.9h0M130.3 73.7h0M125.0 64.3h0M129.0 75.2h0M131.4 75.7h0M133.4 67.9h0M129.8 76.3h0M135.0 76.5h0M129.6 70.6h0M133.5 74.5h0M126.9 59.5h0M130.3 76.8h0M125.2 75.8h0M132.0 59.6h0M129.6 69.5h0M134.4 74.7h0M127.9 64.5h0M125.3 63.0h0M124.0 69.2h0M132.3 75.9h0M135.5 69.0h0M133.0 67.4h0M136.8 80.2h0M133.8 77.4h0M134.8 82.3h0M124.4 73.8h0M134.0 64.0h0M127.7 76.0h0M132.8 58.6h0M126.5 73.0h0M128.3 65.8h0M136.0 61.7h0M125.2 65.2h0M130.5 78.7h0M128.4 70.5h0M123.5 68.7h0M130.6 75.8h0M137.2 73.4h0M126.9 74.5h0M125.8 73.2h0M136.2 67.5h0M136.1 73.3h0M133.5 81.7h0M135.0 71.6h0M132.1 63.7h0M132.1 63.0h0M131.1 67.3h0M125.2 73.6h0M129.2 77.7h0M129.0 63.0h0M127.1 61.4h0M128.2 74.0h0M128.3 73.5h0M133.4 67.1h0M132.5 61.5h0M136.9 79.5h0M122.9 74.6h0M134.7 60.8h0M127.2 72.0h0M135.9 78.5h0M130.6 61.2h0M125.9 69.0h0M135.1 67.8h0M131.2 64.3h0M126.8 76.0h0M128.6 67.2h0M128.9 76.5h0M123.8 76.0h0M130.3 69.4h0M128.0 69.9h0M132.4 76.0h0M125.9 69.7h0M130.7 73.4h0M125.4 79.0h0M131.6 62.8h0M131.9 58.6h0M126.4 63.2h0M134.7 64.0h0M134.8 64.2h0M128.2 78.0h0M130.3 71.6h0M135.0 71.9h0M133.1 71.9h0M128.9 77.8h0M131.6 79.7h0M124.6 76.2h0M135.0 68.8h0M125.7 84.1h0M137.6 71.1h0M132.6 77.9h0M125.8 65.9h0M126.9 78.8h0M137.0 71.6h0M130.9 63.2h0M125.9 74.7h0M126.7 80.4h0M135.7 67.6h0M134.6 67.4h0M132.0 74.5h0M130.5 71.2h0M129.7 77.1h0M129.4 68.5h0M134.3 78.2h0M129.6 57.3h0M132.8 68.5h0M128.0 77.0h0M127.2 73.9h0M131.4 75.6h0M130.7 71.6h0M126.3 80.2h0M135.3 64.6h0M130.7 69.4h0M128.3 75.9h0M128.6 69.9h0M134.7 78.9h0M131.2 71.9h0M132.5 65.9h0M134.3 70.8h0M126.4 73.8h0M134.1 67.1h0M132.8 65.7h0M126.6 69.6h0M123.7 81.1h0M125.6 77.9h0M128.6 63.7h0M129.1 68.1h0M124.7 71.4h0M132.5 62.5h0M124.5 59.0h0M137.2 69.0h0M131.6 76.1h0M128.2 63.1h0M129.3 71.5h0M131.0 72.4h0M129.8 59.5h0M130.4 65.1h0M128.0 81.4h0M125.7 61.0h0M129.0 76.1h0M135.1 77.0h0M124.5 72.1h0M126.3 72.5h0M131.5 63.2h0M131.5 67.7h0M126.0 65.2h0M133.6 78.0h0M134.0 83.5h0M133.1 76.6h0M122.4 73.2h0M136.3 74.3h0M127.9 75.4h0M123.1 60.9h0M131.9 62.6h0M133.2 65.5h0M135.5 70.6h0M135.4 70.4h0M124.9 73.2h0M127.7 64.6h0M124.6 65.8h0M130.3 68.0h0M127.2 71.4h0M124.2 69.8h0M124.9 73.0h0M135.5 62.8h0M129.9 71.4h0M138.1 67.4h0M131.0 73.5h0M127.3 61.5h0M136.3 74.2h0M124.7 78.0h0M127.5 59.5h0M130.0 69.6h0M133.2 71.6h0M124.0 69.6h0M128.5 77.4h0M131.6 74.9h0M123.6 72.7h0M129.4 64.0h0M135.1 64.3h0M134.2 67.4h0M136.5 79.3h0M125.3 80.7h0M127.7 61.2h0M131.7 77.3h0M132.8 75.9h0M128.2 81.7h0M124.6 82.2h0M138.2 62.5h0M127.1 81.7h0M134.1 77.4h0M125.2 77.9h0M126.4 68.0h0M123.6 70.9h0M133.4 61.0h0M130.8 63.1h0M129.8 65.1h0M133.5 57.4h0M132.5 68.2h0M126.4 74.9h0M132.9 81.7h0M123.0 64.2h0M126.6 76.2h0M129.3 71.1h0M127.3 66.6h0M131.3 77.9h0M132.3 63.8h0M126.8 63.2h0M129.0 66.2h0M132.7 68.5h0M128.6 57.5h0M133.5 65.5h0M128.5 62.5h0M131.6 74.8h0M135.6 57.6h0M126.4 73.4h0M133.1 74.0h0M123.8 67.6h0M127.4 62.6h0M128.8 67.7h0M132.7 63.7h0M132.5 64.8h0M126.2 59.8h0M129.4 61.2h0M130.1 69.3h0M128.5 58.6h0M128.1 71.5h0M124.8 72.8h0M129.5 66.1h0M130.0 72.6h0M129.4 64.8h0M131.5 65.4h0M130.4 74.3h0M132.9 77.7h0M132.2 69.8h0M129.0 70.1h0M130.9 85.3h0M131.2 64.5h0M133.5 60.4h0M132.1 62.1h0M126.7 66.3h0M128.8 61.7h0M131.1 68.4h0M133.0 63.5h0M124.8 72.8h0M128.9 74.3h0M123.4 62.2h0M129.7 79.7h0M126.3 58.7h0M128.3 76.7h0M133.6 61.6h0M127.9 59.0h0M127.3 63.8h0M130.6 75.2h0M135.7 67.1h0M131.6 70.2h0M129.8 79.5h0M131.3 77.5h0M130.3 73.7h0M130.8 68.5h0M127.7 66.8h0M129.5 67.0h0M128.6 65.2h0M131.7 67.7h0M129.2 67.8h0M132.9 66.1h0M133.2 64.3h0M133.5 72.4h0M128.2 71.5h0M132.5 63.8h0M128.9 70.7h0M129.0 67.4h0M129.6 70.7h0M131.5 77.1h0M128.7 85.0h0M128.7 78.7h0M129.2 61.1h0M128.4 67.2h0M132.3 58.0h0M127.9 68.3h0M131.2 71.2h0M131.7 68.2h0M128.9 75.6h0M134.0 71.1h0M129.9 64.4h0M135.0 71.2h0M131.1 60.3h0M131.1 82.2h0M129.1 67.9h0M133.5 68.0h0M131.7 79.6h0M126.5 64.5h0M131.3 69.7h0M129.6 68.1h0M129.8 71.0h0M128.3 67.5h0M130.1 63.1h0M130.7 57.1h0M131.2 68.4h0M126.5 76.4h0M126.5 80.3h0M127.6 75.6h0M129.3 77.8h0M128.9 74.6h0M128.7 58.8h0M130.5 71.6h0M130.5 78.1h0M127.6 61.2h0M130.2 65.2h0M129.2 69.0h0M127.4 75.0h0M129.2 78.8h0M130.2 74.8h0M128.8 65.4h0M128.1 64.2h0M130.7 69.8h0M126.7 60.6h0M127.3 59.1h0M127.2 60.8h0M131.3 62.7h0M128.0 68.4h0M129.6 71.3h0M131.5 72.5h0M128.6 75.8h0M130.5 65.2h0M133.4 62.6h0M130.7 75.9h0M129.8 70.9h0M129.8 72.7h0M130.1 69.1h0M131.3 58.7h0M130.2 67.4h0M134.6 70.6h0M127.8 72.6h0M128.5 62.6h0M128.8 71.8h0M132.6 74.7h0M130.1 68.1h0M130.0 75.6h0M129.2 75.3h0M127.5 69.0h0M131.5 72.8h0M130.0 66.2h0M124.9 66.6h0M127.3 66.8h0M133.6 64.8h0M131.7 68.9h0M126.7 69.6h0M131.4 62.6h0M126.5 66.9h0M131.4 65.7h0M130.6 71.5h0M129.5 71.5h0M132.8 68.0h0M130.3 63.2h0M127.7 68.5h0M131.6 65.4h0M125.9 74.1h0M135.6 55.0h0M126.8 69.7h0M130.8 63.9h0M130.4 75.0h0M128.8 73.0h0M129.8 64.0h0M127.9 65.7h0M132.9 75.3h0M130.1 60.5h0M128.3 66.8h0M124.6 68.9h0M130.2 61.8h0M128.4 66.5h0M134.2 72.6h0M131.5 69.5h0M126.2 74.0h0M127.8 58.6h0M131.4 67.1h0M129.5 71.8h0M128.9 71.2h0M132.8 67.3h0M128.6 69.1h0M131.2 66.8h0M129.7 65.3h0M129.3 72.0h0M127.4 68.0h0M125.8 65.2h0M129.7 71.9h0M126.9 68.5h0M127.1 70.7h0M130.2 71.4h0M129.0 61.3h0M128.1 61.7h0M127.8 68.7h0M132.3 65.5h0M127.5 70.1h0M124.3 79.8h0M125.6 74.5h0M132.0 74.2h0M129.2 73.0h0M128.6 74.2h0M127.9 64.6h0M130.5 66.6h0M131.2 64.4h0M130.2 63.7h0M129.2 80.7h0M126.8 62.3h0M125.4 67.8h0M133.6 66.6h0M131.9 68.0h0M127.9 79.9h0M132.2 59.0h0M127.0 71.2h0M131.2 67.8h0M130.3 71.9h0M128.6 74.4h0M127.4 73.1h0M131.8 70.1h0M128.6 68.9h0M123.9 70.4h0M125.9 58.1h0M131.4 64.1h0M130.4 69.3h0M125.1 64.1h0M128.8 71.5h0M129.7 62.2h0M128.2 69.6h0M126.3 66.6h0M128.1 57.5h0M133.9 73.8h0M128.3 74.1h0M126.9 77.3h0M128.6 69.8h0M128.0 69.5h0M130.3 69.2h0M127.4 73.1h0M130.9 69.0h0M132.2 65.0h0M132.7 68.1h0M133.3 66.6h0M128.9 70.1h0M132.3 76.8h0M128.4 65.1h0M131.4 75.7h0M131.3 67.2h0M132.7 68.9h0M129.9 72.4h0M128.1 56.7h0M130.1 72.9h0M130.6 71.9h0M129.9 74.7h0M129.8 77.1h0M129.6 73.3h0M128.1 70.6h0M130.6 69.8h0M133.4 69.3h0M132.3 70.9h0M132.3 64.1h0M128.6 74.2h0M127.4 71.1h0M130.9 70.1h0M130.6 71.9h0M128.9 71.2h0M128.2 66.6h0M125.5 68.4h0M125.2 69.2h0M130.0 63.1h0M129.7 70.6h0M128.6 64.1h0M129.2 71.2h0M131.8 79.5h0M124.5 70.9h0M130.6 65.6h0M130.3 80.3h0M129.8 76.4h0M132.2 66.6h0M123.7 75.3h0M133.4 59.5h0M129.0 65.2h0M130.0 69.3h0M132.4 65.8h0M134.4 59.7h0M130.0 83.5h0M129.3 72.4h0M128.3 86.9h0M131.8 67.1h0M124.7 70.2h0M131.3 57.9h0M128.3 72.0h0M123.5 68.0h0M125.5 61.7h0M130.5 75.2h0M132.4 65.4h0M130.8 59.4h0M125.8 72.0h0M128.5 63.5h0M124.8 67.7h0M135.1 58.1h0M126.9 75.1h0M124.7 65.6h0M129.7 75.2h0M129.3 78.9h0M129.4 68.4h0M130.6 70.9h0M125.7 63.8h0M128.9 70.9h0M126.4 65.1h0M127.6 70.9h0M128.4 72.3h0M130.5 64.0h0M128.8 62.2h0M129.8 73.4h0M127.0 59.4h0M130.8 67.4h0M129.4 71.5h0M130.5 74.0h0M128.3 57.0h0M128.3 67.3h0M128.5 71.1h0M128.9 76.1h0M147.1 84.8h0M146.8 65.9h0M152.5 85.1h0M148.6 80.4h0M139.9 78.7h0M142.0 67.2h0M143.6 73.4h0M152.9 60.4h0M148.9 69.3h0M151.9 85.8h0M152.8 79.2h0M141.3 68.1h0M144.2 80.1h0M145.1 61.7h0M150.4 82.4h0M137.9 64.6h0M140.9 79.9h0M149.8 77.9h0M150.6 86.3h0M151.3 77.4h0M141.1 62.0h0M142.8 58.0h0M146.5 64.7h0M146.7 76.4h0M141.9 62.7h0M149.1 63.3h0M139.1 64.1h0M149.5 73.3h0M152.0 63.5h0M144.3 81.3h0M142.0 61.5h0M140.2 78.5h0M150.0 71.3h0M144.8 66.1h0M150.2 67.7h0M145.7 87.5h0M145.7 73.8h0M142.0 84.4h0M151.1 67.4h0M153.7 61.2h0M145.6 63.2h0M144.9 60.8h0M143.6 76.0h0M139.9 58.7h0M143.9 74.1h0M150.2 79.6h0M145.7 60.7h0M150.4 82.7h0M141.7 60.0h0M152.8 64.5h0M148.6 66.2h0M146.0 81.0h0M146.0 83.8h0M151.1 76.6h0M145.8 80.3h0M150.1 71.8h0M150.2 69.7h0M152.0 83.1h0M141.3 56.3h0M151.4 67.8h0M147.3 83.9h0M146.3 62.0h0M145.3 72.7h0M145.0 63.4h0M146.1 62.8h0M140.3 82.1h0M141.4 67.7h0M144.2 66.7h0M142.3 80.6h0M151.1 79.5h0M153.2 66.7h0M153.3 76.8h0M145.7 62.1h0M147.3 63.9h0M140.6 82.5h0M140.1 69.7h0M140.6 66.1h0M139.8 71.2h0M146.5 68.9h0M138.9 69.0h0M149.1 59.7h0M144.9 63.5h0M144.0 71.1h0M141.4 57.3h0M151.5 78.3h0M147.7 78.4h0M144.9 76.3h0M149.3 63.3h0M150.8 87.4h0M148.0 82.5h0M142.9 81.1h0M148.9 80.6h0M147.2 60.1h0M148.0 70.7h0M151.0 75.8h0M146.5 61.6h0M145.5 74.9h0M143.1 79.0h0M148.6 63.9h0M147.3 74.4h0M151.7 83.2h0M139.1 65.7h0M151.8 64.0h0M143.9 74.4h0M141.6 67.0h0M149.9 64.8h0M152.0 64.1h0M152.5 62.2h0M138.8 84.5h0M144.2 73.4h0M148.5 79.0h0M151.3 60.1h0M147.9 74.5h0M145.7 65.2h0M142.8 79.8h0M151.8 60.7h0M148.4 68.4h0M142.5 65.7h0M150.6 70.6h0M142.1 75.6h0M147.7 69.6h0M147.3 72.4h0M139.1 66.6h0M152.2 74.3h0M147.6 74.0h0M144.8 75.2h0M148.7 86.9h0M149.9 77.5h0M145.3 71.9h0M147.4 67.9h0M143.3 68.9h0M144.2 85.7h0M141.1 74.0h0M148.3 69.0h0M143.9 73.1h0M146.5 65.7h0M149.5 77.8h0M147.9 60.7h0M147.8 87.5h0M146.3 67.1h0M146.4 83.4h0M148.3 86.8h0M142.6 83.6h0M145.4 74.7h0M143.9 81.8h0M145.2 80.9h0M146.5 66.7h0M140.7 83.0h0M137.7 63.2h0M149.7 67.1h0M151.1 64.0h0M143.6 86.6h0M142.4 63.3h0M142.1 62.3h0M142.0 63.7h0M148.0 67.9h0M144.3 65.4h0M144.9 84.4h0M147.2 63.3h0M151.2 81.0h0M144.6 62.9h0M151.7 61.4h0M146.6 77.4h0M140.7 62.1h0M146.8 67.7h0M144.2 70.3h0M154.0 81.9h0M145.0 73.2h0M149.5 75.2h0M145.7 68.8h0M153.1 78.4h0M147.5 84.4h0M145.5 60.2h0M148.4 61.8h0M148.2 82.3h0M153.6 74.7h0M145.3 85.6h0M152.9 71.7h0M138.5 87.1h0M140.3 84.7h0M141.6 61.6h0M144.9 70.3h0M139.4 68.0h0M144.1 78.8h0M150.3 63.6h0M152.7 61.2h0M151.6 80.7h0M152.9 77.4h0M146.5 86.4h0M139.3 80.2h0M146.1 66.2h0M148.7 64.2h0M153.2 67.1h0M154.6 74.5h0M148.8 85.1h0M147.8 84.4h0M148.1 83.0h0M150.9 78.9h0M151.0 81.9h0M141.8 65.3h0M150.2 65.6h0M152.9 72.2h0M142.9 74.9h0M142.7 72.9h0M148.8 84.4h0M151.2 80.1h0M147.4 67.1h0M141.3 69.6h0M148.9 78.1h0M136.5 76.2h0M147.3 54.6h0M146.4 70.4h0M148.4 75.2h0M144.1 79.2h0M142.4 59.6h0M155.4 83.5h0M147.6 72.3h0M154.1 64.0h0M144.0 85.8h0M149.9 63.8h0M148.0 68.6h0M145.2 70.3h0M139.7 67.7h0M144.6 77.8h0M143.9 74.1h0M141.7 79.8h0M148.1 77.6h0M147.5 77.0h0M154.1 80.0h0M147.6 84.1h0M141.1 59.8h0M142.3 83.9h0M143.7 69.0h0M147.2 76.6h0M141.4 56.7h0M151.7 75.5h0M146.5 81.7h0M148.4 65.6h0M144.9 59.7h0M146.1 63.4h0M147.9 77.6h0M143.0 87.7h0M140.7 59.4h0M142.9 83.9h0M140.3 70.5h0M145.2 65.6h0M149.8 65.0h0M143.8 71.1h0M150.8 62.1h0M147.7 66.7h0M152.7 74.8h0M152.2 67.7h0M147.2 86.3h0M146.5 60.4h0M153.3 86.7h0M148.7 76.2h0M150.8 71.6h0M149.5 64.3h0M149.9 60.1h0M145.6 72.8h0M142.9 72.7h0M148.1 77.8h0M140.0 64.4h0M141.5 85.1h0M143.5 69.8h0M146.5 74.3h0M145.2 73.0h0M142.2 64.4h0M140.3 69.2h0M146.3 61.5h0M147.6 67.7h0M150.0 69.9h0M151.4 75.8h0M141.8 71.9h0M148.3 62.9h0M148.6 83.9h0M141.6 70.7h0M146.5 84.4h0M146.3 72.9h0M139.1 68.3h0M144.7 64.0h0M149.7 76.9h0M147.5 67.5h0M150.1 77.3h0M153.2 64.1h0M145.4 73.4h0M145.1 85.8h0M146.3 61.2h0M148.6 56.2h0M147.0 68.3h0M150.6 75.9h0M147.3 79.3h0M144.0 59.2h0M147.7 82.3h0M153.0 69.8h0M147.8 66.3h0M146.6 65.3h0M146.5 63.9h0M142.1 62.7h0M152.7 81.0h0M148.2 64.2h0M153.5 59.2h0M150.6 77.7h0M144.8 77.4h0M148.8 70.8h0M147.0 57.7h0M142.6 87.2h0M148.2 59.8h0M140.5 68.5h0M148.2 65.2h0M144.5 83.6h0M139.7 82.3h0M146.3 69.8h0M149.6 74.8h0M148.2 77.9h0M148.3 71.0h0M139.2 66.6h0M149.7 74.3h0M148.8 61.3h0M142.1 64.7h0M139.9 79.8h0M140.6 63.1h0M140.5 64.9h0M145.1 78.6h0M152.2 58.5h0M143.5 63.5h0M145.4 82.7h0M139.5 59.2h0M149.0 82.9h0M154.0 77.9h0M148.3 78.6h0M149.4 75.0h0M141.8 77.9h0M140.5 71.0h0M149.8 61.0h0M143.2 75.0h0M141.1 65.1h0M149.1 81.1h0M148.7 80.2h0M152.9 74.9h0M149.9 79.4h0M152.9 76.0h0M143.5 83.0h0M147.0 77.6h0M151.0 65.4h0M150.2 70.3h0M147.5 72.0h0M150.3 77.6h0M146.3 70.7h0M150.8 70.9h0M145.8 65.2h0M151.8 75.7h0M148.1 66.7h0M140.5 64.8h0M141.5 67.8h0M142.0 70.4h0M141.7 69.6h0M145.1 71.6h0M148.8 85.5h0M147.0 80.7h0M152.3 73.4h0M147.4 65.8h0M144.5 62.8h0M149.6 67.0h0M149.4 80.2h0M143.9 72.0h0M147.1 66.2h0M152.3 63.8h0M142.1 82.9h0M142.5 73.2h0M150.5 79.6h0M149.6 64.1h0M146.5 64.5h0M149.9 75.0h0M142.6 78.2h0M139.7 63.3h0M140.7 83.5h0M145.9 77.2h0M151.7 67.6h0M141.3 82.8h0M147.9 75.1h0M142.5 65.4h0M147.0 81.2h0M143.3 76.0h0M145.9 67.6h0M140.4 83.6h0M147.2 76.1h0M140.8 87.2h0M148.9 86.1h0M142.4 80.0h0M144.0 76.9h0M147.3 75.6h0M136.9 62.3h0M144.6 64.1h0M148.3 66.1h0M152.9 73.8h0M146.6 76.9h0M141.5 67.9h0M152.9 72.6h0M142.9 87.3h0M147.0 82.6h0M146.8 65.7h0M143.3 81.4h0M142.4 85.9h0M151.4 64.1h0M149.3 85.9h0M145.3 77.9h0M147.1 76.1h0M140.9 61.7h0M147.5 85.3h0M141.6 63.4h0M153.1 62.5h0M155.4 61.0h0M142.5 78.4h0M138.8 79.1h0M139.6 61.6h0M145.0 80.0h0M153.3 65.4h0M143.4 82.3h0M154.1 65.5h0M149.8 85.2h0M153.7 72.2h0M146.8 81.8h0M146.2 82.0h0M144.0 63.2h0M141.5 76.1h0M151.5 80.6h0M148.9 59.0h0M139.5 68.4h0M141.3 82.4h0M142.2 62.5h0M144.3 69.2h0M146.8 78.9h0M145.0 65.4h0M150.7 77.6h0M145.7 59.9h0M137.4 65.9h0M143.8 65.2h0M146.8 82.3h0M142.0 77.4h0M143.6 71.6h0M142.8 67.7h0M150.1 74.2h0M140.0 63.6h0M154.7 79.8h0M148.3 75.8h0M142.4 62.0h0M152.1 84.7h0M147.7 68.8h0M147.4 62.6h0M145.4 78.3h0M140.6 86.2h0M145.7 77.9h0M144.9 82.4h0M148.0 61.4h0M147.3 69.0h0M142.0 55.8h0M148.8 63.9h0M151.6 68.5h0M153.3 65.2h0M147.2 71.0h0M140.7 63.4h0M145.6 63.2h0M144.7 78.0h0M142.3 80.5h0M150.0 68.9h0M149.6 63.1h0M140.7 74.2h0M152.5 83.0h0M153.1 69.2h0M140.1 59.8h0M138.4 70.6h0M144.2 75.6h0M147.0 64.0h0M143.4 78.5h0M138.8 77.3h0M140.6 67.7h0M142.8 78.4h0M148.0 62.5h0M141.1 69.5h0M140.8 53.2h0M146.0 67.1h0M154.4 76.1h0M150.2 69.2h0M150.8 69.6h0M144.5 83.4h0M152.6 67.5h0M142.2 69.3h0M152.4 70.8h0M147.1 84.0h0M143.8 71.5h0M149.2 55.9h0M139.1 75.1h0M150.2 67.0h0M146.4 61.0h0M148.8 76.7h0M147.7 65.9h0M146.7 78.8h0M139.8 80.3h0M148.3 66.6h0M143.9 70.1h0M142.2 82.5h0M148.9 85.5h0M153.2 65.8h0M151.1 64.8h0M151.9 72.6h0M142.2 87.6h0M141.3 69.7h0M143.2 75.3h0M141.6 80.0h0M153.3 80.8h0M140.3 86.0h0M147.5 65.4h0M151.0 72.9h0M145.5 65.4h0M149.3 76.3h0M142.1 68.3h0M146.6 69.5h0M140.3 81.7h0M144.2 83.6h0M149.6 65.0h0M143.6 80.9h0M140.2 65.1h0M144.6 63.4h0M143.9 60.5h0M141.5 73.1h0M151.0 63.0h0M152.0 64.9h0M142.6 67.5h0M145.5 86.1h0M150.7 66.9h0M142.9 80.6h0M147.0 76.1h0M138.5 72.7h0M152.7 82.7h0M147.8 77.3h0M141.3 70.5h0M150.8 74.2h0M147.3 63.7h0M151.1 70.3h0M143.2 72.1h0M150.9 64.2h0M142.5 58.3h0M138.3 60.2h0M144.4 61.6h0M140.9 70.9h0M149.0 66.6h0M154.7 73.2h0M146.8 72.5h0M147.6 83.1h0M141.4 61.2h0M148.0 69.7h0M152.2 68.0h0M146.8 72.5h0M154.4 80.1h0M143.4 64.5h0M146.1 72.4h0M141.6 70.2h0M139.7 81.0h0M140.6 83.0h0M145.8 68.2h0M149.1 75.2h0M142.7 66.3h0M143.7 73.1h0M145.1 74.5h0M146.6 65.5h0M143.1 67.6h0M147.1 81.4h0M143.8 87.1h0M145.7 69.8h0M149.2 85.1h0M151.9 64.5h0M153.2 57.1h0M148.0 66.7h0M145.8 64.2h0M149.0 70.6h0M143.5 77.1h0M146.7 75.9h0M150.1 55.9h0M147.0 66.2h0M151.4 78.9h0M141.0 77.9h0M145.0 81.8h0M146.1 69.5h0M148.1 80.1h0M150.5 76.2h0M148.2 66.9h0M143.3 82.7h0M147.7 84.4h0M144.3 80.7h0M150.4 78.4h0M145.9 78.5h0M139.9 80.9h0M148.9 81.6h0M140.4 74.4h0M140.2 68.6h0M146.8 62.4h0M143.9 83.1h0M141.7 69.6h0M150.2 75.0h0M146.7 55.3h0M147.8 67.3h0M150.4 66.5h0M151.6 78.1h0M146.2 78.5h0M149.8 69.8h0M149.9 85.7h0M141.8 64.6h0M144.9 66.3h0M149.3 81.0h0M144.3 61.5h0M145.9 69.2h0M144.9 82.4h0M141.0 59.5h0M147.3 65.3h0M149.6 70.2h0M143.5 60.5h0M150.5 71.3h0M146.1 70.1h0M153.6 59.0h0M143.6 63.6h0M148.4 71.2h0M149.5 81.0h0M150.4 77.5h0M147.1 54.7h0M154.7 61.6h0M148.9 82.2h0M144.5 72.8h0M145.8 70.8h0M142.4 67.0h0M143.1 62.0h0M152.2 81.6h0M146.3 69.8h0M142.4 71.6h0M147.4 60.2h0M138.3 84.0h0M139.4 64.3h0M144.1 66.9h0M142.4 77.2h0M145.8 67.9h0M138.9 78.1h0M151.4 78.6h0M151.3 85.0h0M140.3 81.6h0M152.3 75.6h0M140.5 67.7h0M139.7 65.3h0M149.4 85.1h0M150.0 61.0h0M146.3 67.5h0M153.1 83.1h0M142.0 78.6h0M139.1 74.1h0M153.9 82.8h0M147.0 74.5h0M143.7 77.6h0M146.7 74.0h0M139.6 79.1h0M139.6 84.5h0M142.6 66.2h0M152.5 67.1h0M144.1 83.0h0M149.9 53.8h0M149.6 69.0h0M144.3 80.3h0M140.7 66.1h0M145.5 71.6h0M141.8 64.1h0M148.3 70.0h0M152.5 80.3h0M150.6 79.4h0M149.3 74.6h0M151.4 59.5h0M145.7 86.1h0M143.9 62.3h0M142.5 71.7h0M141.2 78.0h0M147.1 74.7h0M141.0 63.8h0M147.0 62.3h0M146.0 84.0h0M147.0 73.9h0M144.2 60.9h0M146.8 66.3h0M152.0 62.8h0M141.5 84.9h0M144.2 64.0h0M144.1 67.6h0M146.2 59.9h0M147.4 85.2h0M150.9 79.1h0M150.7 66.0h0M142.6 65.1h0M144.5 62.5h0M146.3 65.6h0M146.0 73.4h0M150.6 81.7h0M145.9 79.1h0M145.3 75.6h0M146.2 68.1h0M148.7 63.7h0M147.9 64.6h0M144.4 65.4h0M153.9 66.0h0M142.1 75.8h0M143.8 72.4h0M142.4 72.6h0M150.0 68.1h0M147.8 87.2h0M143.0 83.7h0M145.4 78.4h0M151.7 72.7h0M144.2 61.1h0M145.7 62.0h0M148.1 79.1h0M136.8 63.0h0M140.1 61.1h0M151.5 67.4h0M144.8 67.7h0M149.2 74.6h0M148.5 73.7h0M150.5 74.2h0M142.3 63.2h0M141.9 70.8h0M142.0 85.2h0M147.4 75.8h0M137.2 82.1h0M154.7 69.6h0M146.5 71.5h0M151.4 71.1h0M140.3 80.9h0M150.2 84.8h0M149.8 74.8h0M148.8 82.4h0M156.4 72.0h0M141.8 63.3h0M153.0 70.4h0M151.4 67.6h0M142.5 61.3h0M150.0 64.0h0M148.3 57.6h0M143.7 70.6h0M149.4 78.2h0M145.8 66.0h0M143.2 69.2h0M140.7 82.1h0M144.4 62.2h0M149.3 62.4h0M140.9 79.8h0M152.9 75.8h0M154.4 81.0h0M144.7 63.5h0M147.0 66.4h0M142.9 84.5h0M145.2 83.8h0M144.2 74.3h0M146.0 79.1h0M141.0 81.7h0M149.9 66.1h0M147.3 76.8h0M148.7 82.7h0M143.9 65.0h0M144.5 77.4h0M149.6 67.4h0M145.9 67.7h0M142.8 73.3h0M144.4 69.1h0M151.9 77.5h0M144.5 85.9h0M141.5 66.0h0M145.4 74.0h0M144.1 71.0h0M143.8 59.6h0M146.1 71.3h0M141.3 78.1h0M151.3 69.3h0M139.6 73.6h0M141.0 78.3h0M150.9 78.1h0M149.0 78.0h0M141.4 74.1h0M151.9 71.2h0M152.0 63.1h0M143.4 60.2h0M152.4 65.4h0M150.3 67.9h0M143.9 83.5h0M145.4 74.4h0M139.6 65.9h0M144.4 83.0h0M139.9 79.4h0M145.8 64.7h0M154.4 81.6h0M148.9 74.7h0M144.0 62.2h0M147.4 64.3h0M146.6 82.5h0M141.7 79.9h0M139.6 77.5h0M152.4 63.1h0M148.3 63.8h0M150.3 82.4h0M146.1 67.9h0M143.6 63.4h0M145.8 83.9h0M146.8 70.1h0M149.9 85.1h0M145.5 77.5h0M141.3 83.7h0M152.2 59.5h0M149.0 57.0h0M155.1 58.7h0M149.1 70.8h0M142.5 80.9h0M144.9 66.6h0M146.6 64.2h0M141.4 59.6h0M144.3 69.3h0M147.4 58.2h0M147.9 85.0h0M143.1 59.5h0M142.2 62.4h0M143.0 69.8h0M145.1 61.2h0M148.3 70.5h0M148.7 83.5h0M141.7 84.0h0M149.4 65.9h0M148.9 78.5h0M150.1 77.4h0M149.9 63.0h0M148.6 68.6h0M143.4 79.5h0M148.5 77.9h0M142.0 79.2h0M139.0 68.5h0M144.2 71.7h0M139.0 61.3h0M144.0 63.9h0M149.6 63.2h0M151.3 67.7h0M147.6 85.2h0M146.3 80.5h0M149.3 71.9h0M139.8 77.5h0M143.6 67.1h0M144.3 72.2h0M146.3 62.7h0M154.7 79.0h0M139.1 82.0h0M149.1 75.9h0M147.8 73.8h0M150.7 64.6h0M152.5 77.2h0M146.2 62.2h0M146.1 81.7h0M141.7 72.1h0M143.2 66.5h0M146.0 83.8h0M141.3 62.7h0M143.5 63.5h0M142.3 74.6h0M146.5 79.5h0M150.8 79.1h0M148.8 71.0h0M143.1 64.4h0M147.4 72.3h0M141.9 85.0h0M147.9 66.0h0M150.3 68.1h0M150.5 71.4h0M151.5 66.8h0M152.5 83.0h0M149.7 64.5h0M142.8 62.8h0M142.2 62.3h0M148.5 65.2h0M149.2 70.8h0M142.4 54.8h0M148.0 80.7h0M152.5 85.0h0M150.5 62.5h0M147.1 87.3h0M147.6 65.2h0M145.0 76.9h0M143.6 71.2h0M148.3 70.9h0M149.5 68.7h0M142.0 71.5h0M144.8 77.3h0M144.7 84.8h0M153.7 79.5h0M140.6 78.5h0M149.4 81.5h0M140.3 83.1h0M152.8 62.0h0M145.9 63.3h0M145.8 69.9h0M153.4 73.1h0M146.7 63.5h0M140.0 78.6h0M140.6 76.4h0M141.0 71.7h0M142.3 84.3h0M141.7 71.2h0M148.2 64.8h0M138.3 63.8h0M142.9 66.7h0M148.3 72.8h0M149.3 62.4h0M154.0 66.0h0M146.7 78.5h0M153.8 73.1h0M151.1 74.1h0M146.8 73.2h0M152.2 63.4h0M148.6 61.4h0M143.5 67.6h0M151.8 74.0h0M144.8 83.9h0M152.0 63.5h0M145.6 67.0h0M145.3 83.6h0M146.6 80.2h0M148.3 64.6h0M148.5 72.9h0M144.1 76.5h0M149.8 71.9h0M142.0 82.5h0M141.9 73.9h0M139.6 76.8h0M145.8 61.0h0M150.5 66.0h0M149.1 86.1h0M153.2 77.2h0M141.3 82.2h0M153.3 85.6h0M153.6 62.0h0M150.8 60.8h0M146.1 79.2h0M151.8 63.8h0M143.0 82.6h0M148.9 64.2h0M143.5 84.8h0M142.5 87.2h0M143.9 61.4h0M147.3 79.1h0M154.0 75.1h0M151.8 69.3h0M153.4 64.4h0M146.1 71.8h0M140.4 80.8h0M150.1 72.9h0M149.5 68.7h0M144.5 80.5h0M149.1 74.0h0M140.0 73.6h0M149.1 70.0h0M151.0 81.6h0M153.5 64.3h0M151.4 67.5h0M151.6 83.3h0M149.9 63.0h0M149.9 75.3h0M139.2 73.8h0M148.5 67.2h0M142.3 65.0h0M139.0 65.1h0M150.5 78.9h0M150.8 75.3h0M145.3 78.0h0M144.3 83.6h0M140.3 73.5h0M154.2 73.3h0M146.9 60.0h0M152.9 58.2h0M150.8 81.9h0M147.6 72.0h0M143.3 82.7h0M145.8 82.5h0M146.3 63.5h0M151.0 74.6h0M152.1 71.4h0M146.3 72.3h0M143.6 66.0h0M145.5 70.5h0M143.1 68.3h0M152.2 77.3h0M147.1 60.8h0M139.5 86.1h0M145.8 78.3h0M143.9 63.9h0M142.1 76.2h0M139.3 83.2h0M147.9 61.0h0M150.4 58.5h0M144.2 83.6h0M143.1 62.3h0M143.1 62.3h0M151.4 61.2h0M150.6 61.6h0M147.9 73.7h0M146.2 78.6h0M154.1 84.0h0M145.1 62.4h0M154.6 65.4h0M148.6 82.0h0M143.3 70.2h0M143.9 77.1h0M145.1 82.1h0M148.4 81.3h0M143.5 62.0h0M149.8 82.8h0M142.0 76.8h0M144.1 70.9h0M141.7 60.4h0M143.5 77.0h0M151.9 70.2h0M149.7 68.7h0M140.9 68.8h0M143.3 62.4h0M144.2 79.1h0M149.9 62.7h0M153.5 79.5h0M140.8 81.5h0M141.3 81.2h0M146.9 74.8h0M143.0 78.3h0M153.4 77.0h0M149.1 77.4h0M144.9 71.9h0M152.5 70.7h0M140.8 62.0h0M142.1 64.5h0M144.9 62.0h0M145.1 77.4h0M145.5 78.4h0M147.7 63.4h0M146.4 56.6h0M146.8 73.6h0M140.6 66.9h0M137.2 61.7h0M144.2 82.7h0M146.1 72.6h0M149.5 85.6h0M148.9 67.6h0M144.9 73.0h0M139.4 63.7h0M144.8 73.5h0M154.7 64.3h0M138.7 65.4h0M140.9 72.5h0M152.6 67.1h0M149.4 70.6h0M146.6 68.4h0M146.6 82.5h0M139.1 60.9h0M142.8 63.9h0M148.4 73.4h0M141.9 77.3h0M151.0 75.5h0M150.5 59.0h0M152.8 70.8h0M149.5 84.2h0M139.5 85.9h0M147.4 77.2h0M153.3 84.8h0M151.0 64.2h0M147.5 81.4h0M140.7 81.5h0M151.1 81.2h0M150.7 80.6h0M148.5 77.5h0M140.6 77.3h0M146.6 74.1h0M141.4 67.4h0M150.4 63.4h0M142.7 68.1h0M156.2 82.7h0M151.6 69.4h0M139.4 79.7h0M150.1 87.2h0M151.6 70.5h0M149.3 74.0h0M144.1 72.7h0M145.7 81.2h0M148.8 80.0h0M151.4 82.9h0M139.2 63.1h0M149.7 83.9h0M145.8 79.6h0M150.4 66.5h0M149.6 75.3h0M144.5 63.5h0M149.8 66.3h0M143.2 71.0h0M143.1 61.6h0M143.3 87.1h0M146.3 66.6h0M144.8 77.2h0M150.9 64.4h0M141.0 62.3h0M148.6 57.3h0M148.5 80.3h0M146.7 69.2h0M142.9 80.3h0M144.5 73.3h0M143.5 68.3h0M141.7 70.2h0M154.0 72.7h0M141.7 74.0h0M147.1 66.0h0M149.6 81.0h0M150.1 81.5h0M152.2 72.6h0M140.1 65.6h0M137.9 73.3h0M155.4 68.0h0M144.6 83.7h0M151.7 72.1h0M147.8 77.7h0M153.5 73.5h0M145.1 68.7h0M140.4 83.5h0M146.7 77.4h0M146.1 61.7h0M143.3 70.1h0M141.0 80.9h0M146.7 70.8h0M144.9 81.2h0M148.7 63.3h0M153.7 66.5h0M145.7 66.3h0M152.5 80.1h0M148.3 65.1h0M144.9 83.5h0M147.8 65.5h0M143.1 64.5h0M142.8 72.1h0M138.5 70.8h0M142.9 60.2h0M141.5 72.6h0M152.5 65.1h0M151.4 75.1h0M148.0 84.3h0M147.3 75.2h0M143.1 79.0h0M143.7 77.3h0M146.3 69.0h0M146.5 79.8h0M148.2 76.4h0M137.1 61.8h0M138.4 69.3h0M150.5 82.7h0M141.5 85.1h0M147.2 80.2h0M152.9 61.1h0M151.0 83.8h0M147.4 85.4h0M144.1 66.3h0M151.4 66.0h0M136.3 80.2h0M143.3 84.9h0M143.9 82.6h0M144.9 77.6h0M149.6 66.0h0M148.7 75.9h0M152.7 76.8h0M143.1 77.3h0M146.4 63.5h0M144.4 86.1h0M142.2 78.6h0M141.4 62.0h0M148.1 76.9h0M142.9 69.5h0M146.7 59.4h0M144.1 73.7h0M146.2 65.6h0M149.8 73.5h0M144.8 85.6h0M146.9 57.0h0M140.8 65.6h0M146.2 75.9h0M149.7 60.4h0M151.9 72.7h0M146.2 62.4h0M141.1 66.3h0M147.5 69.7h0M142.9 77.6h0M146.2 68.0h0M146.7 81.0h0M152.1 60.7h0M145.8 63.1h0M146.0 85.5h0M143.8 60.4h0M152.1 66.5h0M142.8 85.7h0M142.2 82.8h0M147.3 78.3h0M150.9 60.9h0M152.7 82.4h0M150.6 83.4h0M148.7 68.7h0M141.7 69.5h0M144.9 78.3h0M146.4 68.6h0M141.6 77.3h0M142.7 85.1h0M141.1 69.2h0M151.2 60.0h0M149.9 83.3h0M140.3 81.2h0M146.1 69.4h0M144.2 74.0h0M144.7 59.9h0M138.5 81.7h0M142.1 78.0h0M151.8 78.6h0M149.7 77.2h0M146.7 80.7h0M151.0 67.5h0M145.5 69.3h0M141.8 59.1h0M144.7 77.7h0M150.0 84.5h0M140.9 79.3h0M144.1 65.3h0M143.2 78.7h0M138.4 78.5h0M151.9 63.0h0M141.1 78.6h0M141.2 62.8h0M150.3 78.9h0M142.9 74.0h0M141.6 78.0h0M151.5 73.1h0M147.1 59.7h0M149.4 83.7h0M142.3 73.1h0M141.5 73.5h0M143.3 78.2h0M151.5 77.2h0M153.5 82.9h0M144.8 62.9h0M141.8 74.1h0M145.1 63.6h0M146.4 69.5h0M151.0 65.0h0M149.9 64.5h0M143.1 82.5h0M147.8 81.0h0M150.4 72.4h0M153.5 69.8h0M146.6 72.6h0M148.5 66.3h0M142.6 70.3h0M149.3 66.5h0M143.3 64.1h0M143.2 78.7h0M153.3 68.0h0M149.3 80.7h0M143.8 71.4h0M146.7 76.9h0M141.4 78.6h0M141.4 77.4h0M144.9 82.3h0M145.3 79.0h0M147.3 77.6h0M144.4 71.1h0M140.9 62.0h0M151.4 63.7h0M142.0 74.6h0M149.2 79.3h0M150.8 65.0h0M151.3 64.7h0M140.6 82.8h0M150.5 74.3h0M145.5 81.0h0M143.9 72.0h0M153.7 84.5h0M146.2 62.9h0M148.5 65.4h0M151.4 75.9h0M146.2 75.8h0M148.9 60.9h0M148.2 72.8h0M144.4 71.9h0M152.5 78.3h0M150.8 82.3h0M144.7 71.2h0M147.9 58.0h0M147.9 76.2h0M147.5 66.3h0M145.4 59.8h0M143.6 81.2h0M144.1 70.3h0M144.2 60.2h0M152.2 87.4h0M146.9 72.2h0M148.1 66.0h0M147.3 77.9h0M146.9 62.7h0M146.3 78.7h0M150.6 61.4h0M150.5 75.2h0M150.3 72.0h0M145.8 70.4h0M138.8 71.4h0M147.2 61.0h0M147.2 73.9h0M149.0 80.0h0M144.5 78.9h0M144.7 83.2h0M143.8 70.3h0M150.1 65.5h0M145.0 67.4h0M141.5 82.8h0M148.9 70.0h0M144.8 74.6h0M139.1 81.3h0M145.7 75.5h0M148.1 60.4h0M146.3 64.9h0M143.6 64.0h0M144.5 81.9h0M149.3 86.0h0M142.1 62.5h0M148.1 68.5h0M141.6 69.4h0M151.8 77.0h0M141.7 76.6h0M151.5 85.5h0M144.1 81.4h0M151.9 66.2h0M145.3 74.7h0M151.5 72.7h0M150.2 74.2h0M143.9 69.7h0M154.6 76.6h0M141.7 57.3h0M152.9 60.2h0M145.1 82.8h0M151.9 67.7h0M152.3 69.6h0M150.8 70.5h0M137.5 62.7h0M150.7 84.3h0M144.0 67.1h0M148.9 86.1h0M144.5 62.7h0M154.3 85.8h0M152.3 77.0h0M153.3 62.8h0M147.9 73.5h0M154.2 76.8h0M144.3 58.1h0M150.0 79.8h0M140.5 84.6h0M145.1 84.9h0M145.6 65.2h0M142.0 61.8h0M143.2 75.4h0M142.5 86.5h0M150.7 81.4h0M140.5 67.9h0M144.0 69.0h0M145.1 59.7h0M142.8 76.4h0M142.5 72.7h0M146.3 83.0h0M148.4 78.6h0M151.9 67.7h0M151.3 74.4h0M144.0 77.5h0M145.8 82.0h0M152.8 82.7h0M147.7 78.8h0M147.3 63.8h0M153.9 82.9h0M137.7 83.9h0M149.9 75.6h0M146.6 68.7h0M144.1 64.3h0M153.1 70.0h0M145.2 80.0h0M140.4 74.0h0M152.3 86.0h0M143.2 66.0h0M141.1 83.6h0M145.2 73.1h0M145.2 66.0h0M147.3 56.5h0M150.2 87.5h0M150.0 74.0h0M148.0 84.0h0M140.5 62.9h0M153.1 63.9h0M151.2 80.3h0M148.9 69.2h0M147.2 66.4h0M149.9 71.3h0M148.5 78.5h0M144.5 84.9h0M146.9 74.7h0M147.7 73.5h0M147.6 76.0h0M138.0 82.3h0M147.4 82.1h0M141.5 66.1h0M143.4 66.6h0M147.4 74.7h0M147.7 79.6h0M152.8 73.0h0M147.1 69.7h0M151.4 64.3h0M150.8 64.7h0M149.4 85.2h0M148.8 71.0h0M144.7 61.6h0M140.2 73.4h0M147.7 64.9h0M151.9 71.4h0M146.5 62.4h0M148.1 76.0h0M149.0 69.8h0M148.0 61.5h0M142.6 72.2h0M143.1 64.2h0M149.6 70.7h0M151.8 74.1h0M151.7 67.9h0M147.7 73.9h0M155.4 75.0h0M149.8 68.0h0M147.9 64.4h0M150.7 72.1h0M151.5 70.4h0M150.3 81.5h0M152.2 74.6h0M146.7 81.4h0M147.1 67.5h0M151.0 66.0h0M148.8 59.1h0M144.8 74.4h0M138.9 61.5h0M152.1 59.5h0M143.4 74.8h0M147.4 71.1h0M141.3 78.5h0M150.5 58.8h0M145.7 65.8h0M148.9 68.1h0M147.8 70.4h0M154.6 72.3h0M150.3 73.0h0M144.7 61.0h0M140.8 82.7h0M147.9 67.2h0M155.4 65.8h0M148.4 76.6h0M148.8 67.2h0M146.0 74.4h0M146.2 76.0h0M147.9 59.2h0M142.7 80.8h0M147.4 64.5h0M146.3 66.5h0M153.9 72.5h0M141.4 80.5h0M140.1 74.8h0M151.6 67.0h0M141.8 61.0h0M143.5 79.6h0M145.4 78.8h0M150.1 82.5h0M148.8 81.0h0M153.2 77.9h0M149.8 85.6h0M147.6 85.3h0M146.6 75.4h0M139.9 77.1h0M144.2 66.2h0M144.4 66.7h0M146.6 63.8h0M144.7 77.0h0M145.0 65.1h0M142.2 75.4h0M144.8 72.0h0M143.4 82.8h0M142.9 66.9h0M143.0 62.3h0M152.2 71.5h0M141.3 85.3h0M147.1 75.6h0M153.3 73.7h0M146.5 67.5h0M151.7 63.3h0M146.2 72.0h0M144.4 85.3h0M146.6 76.4h0M147.1 66.8h0M145.7 64.3h0M144.8 72.4h0M147.7 66.5h0M141.9 78.0h0M143.2 75.0h0M142.1 63.5h0M140.9 74.6h0M150.8 70.9h0M140.7 68.4h0M146.6 72.6h0M146.4 62.8h0M145.2 83.4h0M144.6 67.2h0M142.9 65.6h0M149.0 72.6h0M144.6 67.4h0M148.0 65.9h0M143.9 67.7h0M139.4 78.0h0M143.9 75.3h0M145.9 77.1h0M144.6 87.4h0M147.3 68.5h0M146.7 55.3h0M143.0 55.5h0M145.2 85.4h0M146.8 59.6h0M141.9 72.6h0M147.5 68.5h0M149.6 71.7h0M151.1 75.9h0M151.2 51.2h0M147.9 75.5h0M149.7 74.2h0M146.9 72.2h0M146.4 74.0h0M150.0 58.6h0M144.8 59.7h0M144.4 71.9h0M146.4 72.7h0M147.8 73.1h0M145.1 69.1h0M143.2 66.8h0M145.6 72.7h0M141.8 77.8h0M145.7 59.0h0M145.5 74.1h0M146.1 67.1h0M143.6 71.6h0M146.3 72.1h0M144.9 78.6h0M141.2 70.0h0M141.7 56.3h0M146.3 75.9h0M145.1 73.1h0M145.4 78.1h0M144.4 73.8h0M146.7 58.9h0M148.9 65.9h0M143.0 65.3h0M148.1 67.1h0M147.9 63.4h0M146.5 57.8h0M145.1 79.1h0M144.5 71.2h0M141.2 81.7h0M145.3 73.2h0M144.9 62.7h0M145.0 67.7h0M143.2 68.9h0M143.4 66.5h0M138.6 63.1h0M146.6 71.5h0M145.2 72.9h0M150.2 72.4h0M146.1 69.4h0M146.7 74.4h0M140.2 84.7h0M148.3 73.3h0M144.3 69.2h0M143.9 79.3h0M144.1 58.6h0M145.3 64.0h0M146.3 71.0h0M143.7 59.2h0M145.0 60.9h0M145.3 71.2h0M144.8 71.1h0M144.8 81.5h0M141.3 62.4h0M148.7 61.4h0M147.4 68.4h0M145.8 60.1h0M144.7 68.9h0M140.4 70.1h0M144.7 54.3h0M146.2 67.5h0M141.9 77.9h0M145.4 62.0h0M143.5 72.0h0M144.4 74.8h0M142.6 71.7h0M146.9 73.5h0M143.7 63.3h0M142.9 70.5h0M145.0 78.2h0M144.9 79.1h0M145.1 76.9h0M148.3 71.9h0M142.6 72.8h0M146.1 67.8h0M145.1 74.7h0M140.5 73.7h0M149.8 65.2h0M148.8 66.7h0M145.0 67.5h0M145.7 64.6h0M144.2 68.3h0M143.4 69.5h0M148.3 64.1h0M146.2 64.6h0M142.8 69.8h0M145.0 76.7h0M147.5 70.5h0M144.1 79.2h0M142.4 64.6h0M147.5 72.7h0M147.3 68.3h0M147.5 77.9h0M140.9 73.5h0M148.1 62.7h0M143.3 72.4h0M147.3 69.7h0M141.6 71.3h0M145.4 67.2h0M148.3 55.2h0M146.0 65.7h0M147.2 67.7h0M150.0 71.1h0M144.4 58.6h0M145.0 69.5h0M149.6 72.4h0M146.2 63.6h0M146.2 63.2h0M142.2 72.9h0M144.6 60.6h0M148.6 78.2h0M146.8 58.5h0M143.6 63.1h0M148.0 69.1h0M143.6 60.3h0M143.9 71.0h0M145.1 73.3h0M147.0 62.0h0M147.8 70.0h0M149.7 68.9h0M144.8 69.0h0M148.8 73.3h0M148.7 76.9h0M146.5 85.7h0M145.5 68.2h0M148.5 61.9h0M146.5 76.6h0M143.5 56.8h0M142.2 77.5h0M152.0 63.7h0M142.5 61.2h0M149.7 75.0h0M147.4 64.8h0M147.4 64.7h0M147.2 64.6h0M142.6 66.7h0M146.8 72.0h0M144.4 76.0h0M141.7 56.3h0M147.3 68.7h0M145.7 66.6h0M147.1 71.3h0M149.2 63.3h0M142.6 68.9h0M145.1 67.7h0M140.4 72.3h0M150.0 72.2h0M148.9 73.8h0M146.5 72.5h0M148.5 72.9h0M147.4 69.3h0M143.9 72.2h0M144.8 73.7h0M140.2 81.9h0M149.1 80.2h0M146.8 62.5h0M144.8 61.7h0M146.9 69.9h0M146.2 57.0h0M142.1 54.7h0M149.4 73.2h0M146.0 67.3h0M141.3 67.2h0M144.8 64.0h0M148.4 55.8h0M146.3 75.3h0M147.9 59.4h0M138.8 79.2h0M149.5 68.6h0M145.2 72.1h0M148.6 70.6h0M145.0 71.2h0M146.8 83.8h0M145.9 63.4h0M150.7 80.0h0M149.6 63.3h0M144.4 60.3h0M145.6 78.9h0M148.3 70.1h0M146.5 73.1h0M145.6 62.5h0M144.1 81.1h0M143.5 61.9h0M147.4 67.4h0M145.1 70.8h0M145.6 58.4h0M148.3 71.3h0M150.3 75.6h0M144.5 66.8h0M144.1 54.6h0M147.8 65.1h0M148.5 71.0h0M145.7 80.9h0M143.5 81.8h0M145.0 84.6h0M148.9 66.2h0M150.5 72.7h0M146.9 67.0h0M145.8 66.9h0M145.1 75.3h0M148.1 78.4h0M149.1 69.3h0M147.9 68.1h0M147.5 74.1h0M147.0 64.3h0M143.0 81.6h0M144.0 65.6h0M147.0 67.2h0M147.1 79.2h0M142.1 70.5h0M147.5 60.2h0M147.9 80.0h0M146.1 73.1h0M145.3 76.6h0M144.7 69.9h0M144.3 64.9h0M149.0 69.5h0M148.3 58.9h0M143.0 63.6h0M150.9 77.9h0M151.7 66.8h0M147.6 72.4h0M145.4 74.0h0M146.0 73.2h0M141.5 62.7h0M143.5 81.4h0M148.3 63.2h0M147.3 66.0h0M143.1 63.5h0M153.7 70.5h0M145.8 78.4h0M146.7 62.3h0M151.5 85.0h0M148.1 64.0h0M145.9 70.7h0M146.1 66.1h0M145.3 67.6h0M139.6 70.8h0M149.0 71.4h0M147.2 69.4h0M141.6 73.9h0M147.8 62.8h0M143.1 65.9h0M142.6 52.8h0M145.0 65.8h0M146.3 78.1h0M143.7 59.2h0M145.8 74.5h0M149.7 76.3h0M146.4 70.2h0M141.6 74.6h0M148.0 69.3h0M145.3 72.7h0M147.2 73.4h0M147.1 59.4h0M144.6 58.5h0M148.1 87.6h0M144.0 68.9h0M146.7 65.0h0M150.4 71.3h0M151.5 85.5h0M147.3 64.7h0M149.4 68.0h0M144.0 68.4h0M148.9 64.4h0M145.4 75.9h0M145.3 76.0h0M149.1 66.5h0M143.0 61.7h0M149.3 73.6h0M146.2 67.2h0M148.7 66.6h0M153.0 72.0h0M141.9 77.1h0M146.7 69.8h0M145.6 78.0h0M144.8 80.5h0M144.1 76.1h0M142.2 76.4h0M143.5 68.2h0M147.9 64.6h0M147.4 69.8h0M149.3 76.0h0M146.6 68.5h0M143.7 79.5h0M145.4 61.2h0M144.0 56.9h0M143.8 66.8h0M146.6 76.1h0M148.1 57.4h0M144.8 73.9h0M146.9 69.7h0M144.0 74.6h0M145.8 68.1h0M145.7 68.2h0M146.8 77.3h0M146.2 65.4h0M145.7 68.7h0M147.2 75.0h0M150.2 75.9h0M141.7 64.0h0M142.8 71.8h0M152.0 72.9h0M144.5 79.2h0M147.6 64.2h0M143.5 79.8h0M147.9 55.5h0M144.1 73.6h0M142.5 69.7h0M143.7 58.4h0M144.6 66.1h0M146.7 58.0h0M146.6 67.3h0M141.9 78.0h0M144.8 72.6h0M149.9 72.6h0M148.4 71.2h0M144.5 71.1h0M141.9 73.1h0M148.1 72.7h0M144.2 61.5h0M144.0 67.8h0M142.3 82.9h0M143.9 70.6h0M144.7 70.6h0M140.4 62.8h0M145.9 69.5h0M147.0 66.1h0M148.0 71.3h0M145.8 69.9h0M148.7 69.5h0M149.9 70.6h0M146.6 69.8h0M146.7 72.9h0M144.3 75.2h0M152.5 73.4h0M146.2 64.3h0M144.0 64.2h0M146.6 65.1h0M150.1 66.9h0M143.6 63.6h0M145.7 68.8h0M148.3 64.8h0M146.8 76.3h0M145.2 57.9h0M146.5 76.7h0M146.9 69.8h0M140.9 80.8h0M145.4 61.7h0M145.1 70.8h0M146.0 63.6h0M152.1 78.2h0M148.5 74.1h0M144.9 61.8h0M142.6 77.1h0M146.1 80.9h0M140.1 78.8h0M147.1 66.0h0M148.2 65.2h0M145.2 73.3h0M146.3 71.7h0M146.5 76.8h0M143.7 56.1h0M143.5 53.3h0M150.9 65.3h0M145.8 72.0h0M143.9 66.4h0M146.6 69.8h0M148.0 68.1h0M144.2 59.8h0M141.6 71.5h0M146.7 67.0h0M149.0 51.4h0M147.6 61.6h0M145.0 68.2h0M144.0 67.8h0M146.6 86.1h0M145.9 74.6h0M148.0 63.3h0M147.1 67.0h0M148.2 65.8h0M148.7 63.6h0M144.7 75.5h0M148.5 75.7h0M151.1 76.7h0M145.9 76.1h0M143.8 75.3h0M146.9 68.7h0M144.0 77.0h0M140.7 68.6h0M142.3 67.4h0M144.8 64.1h0M144.3 71.7h0M151.0 81.6h0M145.4 66.9h0M147.5 64.0h0M142.1 76.4h0M144.9 80.2h0M146.8 59.8h0M146.7 73.1h0M146.1 60.4h0M142.0 82.5h0M138.7 63.2h0M148.0 82.0h0M147.6 69.6h0M146.9 77.6h0M144.5 78.5h0M146.6 71.2h0M147.0 71.9h0M143.5 80.4h0M144.6 67.9h0M139.8 58.5h0M147.4 69.1h0M153.6 47.0h0M155.8 44.5h0M147.8 49.7h0M152.0 49.8h0M159.7 43.4h0M150.8 47.7h0M157.6 45.1h0M154.8 47.9h0M156.8 45.9h0M157.2 41.4h0M151.7 48.4h0M153.0 52.2h0M155.9 46.5h0M156.8 44.4h0M156.9 44.3h0M157.4 45.4h0M157.2 41.5h0M150.5 49.0h0M152.0 50.0h0M157.2 43.8h0M158.8 44.8h0M153.1 49.5h0M158.6 42.2h0M147.6 54.2h0M155.9 46.9h0M156.0 45.5h0M153.5 46.2h0M162.4 42.9h0M153.1 46.5h0M157.4 47.5h0M153.7 46.0h0M157.8 44.5h0M151.5 49.2h0M153.8 45.3h0M156.6 47.6h0M159.1 45.3h0M156.8 44.7h0M157.6 46.5h0M155.1 47.5h0M152.3 48.9h0M151.7 47.3h0M157.9 48.3h0M148.3 51.6h0M154.3 45.6h0M155.8 47.5h0M148.9 51.8h0M156.9 45.9h0M160.7 41.8h0M158.0 42.7h0M150.9 49.1h0" stroke="#000" stroke-width="0.85" stroke-linecap="round" stroke-opacity="0.68" fill="none"/>
<path d="M154.7 50.2h0M158.3 43.6h0M151.2 50.4h0M152.3 47.4h0M150.3 56.8h0M163.3 50.7h0M166.8 36.0h0M163.9 36.8h0M167.1 35.3h0M146.8 53.8h0M161.8 47.1h0M162.7 46.5h0M152.8 42.4h0M153.9 44.0h0M154.4 38.5h0M148.3 47.9h0M157.5 48.4h0M151.0 44.8h0M152.4 48.2h0M160.3 42.2h0M155.4 34.8h0M167.2 44.3h0M158.0 54.5h0M150.0 54.8h0M148.0 50.3h0M157.6 45.0h0M155.9 44.9h0M143.5 50.3h0M149.2 47.7h0M149.5 44.6h0M155.4 48.1h0M155.4 51.4h0M157.7 47.7h0M151.4 50.5h0M144.9 48.0h0M146.4 52.6h0M160.2 50.3h0M155.6 44.4h0M159.8 42.6h0M155.3 46.8h0M162.5 46.2h0M148.8 52.4h0M152.9 48.4h0M165.0 36.5h0M145.8 58.3h0M151.0 46.4h0M168.8 42.1h0M160.0 43.0h0M154.6 52.7h0M154.3 48.0h0M154.5 47.6h0M143.7 51.8h0M144.9 46.8h0M148.8 50.1h0M153.9 47.1h0M155.1 50.6h0M144.7 53.6h0M152.1 45.5h0M160.8 40.7h0M160.9 43.3h0M155.7 49.8h0M146.0 49.6h0M148.4 42.8h0M152.6 47.8h0M145.1 51.2h0M153.8 57.0h0M161.7 42.8h0M158.5 48.6h0M157.9 48.8h0M163.1 47.7h0M158.5 41.0h0M159.9 46.5h0M162.3 48.7h0M155.4 44.4h0M161.2 45.5h0M155.9 47.7h0M156.1 46.5h0M155.8 44.2h0M159.0 44.4h0M163.3 40.2h0M153.0 43.3h0M164.6 36.9h0M152.1 47.9h0M154.8 46.3h0M161.6 38.6h0M153.0 46.4h0M154.4 40.4h0M158.7 41.7h0M151.6 55.5h0M150.5 53.4h0M153.7 44.9h0M146.1 51.6h0M158.2 43.3h0M154.3 50.9h0M155.3 46.5h0M148.3 46.9h0M153.4 49.0h0M153.7 48.8h0M153.3 47.0h0M155.4 47.4h0M144.9 55.4h0M153.1 46.3h0M161.6 45.1h0M161.5 43.5h0M157.2 44.9h0M157.0 42.0h0M155.0 47.7h0M151.8 44.3h0M153.7 45.9h0M153.3 50.4h0M159.9 42.3h0M149.4 50.7h0M152.0 44.9h0M152.5 49.2h0M153.1 49.8h0M150.4 53.2h0M152.0 49.6h0M153.9 45.3h0M156.0 38.4h0M157.0 47.1h0M153.6 47.3h0M149.7 51.0h0M154.4 44.5h0M154.2 45.6h0M150.1 50.4h0M153.1 51.5h0M154.1 52.7h0M154.7 46.5h0M152.4 50.4h0M147.2 47.2h0M152.6 40.1h0M158.9 40.7h0M162.3 40.7h0M159.3 36.7h0M153.4 48.8h0M152.5 48.9h0M155.4 48.6h0M156.9 36.0h0M155.3 41.4h0M159.2 36.6h0M152.1 51.0h0M155.4 48.7h0M155.0 43.3h0M149.8 55.6h0M153.6 47.1h0M152.9 47.1h0M151.7 49.5h0M153.5 42.7h0M148.8 54.1h0M157.7 41.7h0M153.1 46.0h0M156.5 44.7h0M150.8 47.0h0M157.5 45.5h0M153.7 49.1h0M140.0 58.0h0M151.6 41.3h0M152.6 49.3h0M161.2 42.2h0M151.0 53.4h0M155.2 49.4h0M145.3 48.5h0M148.8 54.2h0M160.6 42.2h0M155.4 45.5h0M153.7 43.4h0M161.9 43.2h0M159.0 42.4h0M160.5 45.2h0M168.3 38.6h0M149.9 47.7h0M159.7 44.0h0M157.4 44.3h0M151.4 50.1h0M148.8 53.0h0M166.5 38.8h0M149.2 48.0h0M167.0 38.1h0M153.6 49.8h0M151.3 45.5h0M156.5 47.0h0M158.2 38.4h0M161.0 39.9h0M147.8 56.7h0M160.4 43.6h0M156.8 41.1h0M153.9 40.8h0M156.8 54.6h0M163.1 40.5h0M157.3 44.6h0M158.1 44.3h0M149.9 49.5h0M144.4 52.4h0M154.8 47.9h0M161.8 33.8h0M163.6 36.9h0M152.7 48.0h0M162.7 35.1h0M154.2 49.2h0M160.0 43.4h0M157.3 48.1h0M153.5 53.9h0M153.4 49.3h0M149.4 48.9h0M160.5 43.6h0M155.6 49.0h0M164.7 27.9h0M145.9 55.3h0M149.1 55.7h0M151.1 49.8h0M155.1 54.3h0M158.5 36.5h0M157.3 43.1h0M162.2 41.1h0M150.6 48.5h0M158.4 49.9h0M154.3 44.9h0M154.7 49.9h0M156.9 51.5h0M159.2 43.1h0M154.7 45.3h0M146.4 58.7h0M161.4 39.8h0M153.5 42.3h0M154.3 47.6h0M154.6 46.9h0M160.8 43.9h0M157.4 41.9h0M152.6 48.5h0M144.8 49.9h0M156.4 45.1h0M157.6 48.7h0M145.9 56.1h0M151.3 44.5h0M160.7 46.8h0M148.2 52.6h0M159.4 42.6h0M154.7 50.4h0M147.0 53.4h0M151.8 48.9h0M149.5 52.0h0M161.4 42.3h0M148.0 50.6h0M148.5 46.3h0M159.2 44.5h0M157.0 50.4h0M157.0 42.2h0M154.8 46.0h0M157.4 49.3h0M158.8 39.1h0M160.7 34.9h0M158.5 52.8h0M160.3 46.2h0M156.6 47.0h0M154.8 52.3h0M153.0 46.1h0M152.4 57.3h0M146.1 50.3h0M157.2 44.5h0M164.1 40.7h0M154.9 43.3h0M154.6 41.1h0M154.2 52.6h0M153.9 42.8h0M151.8 48.8h0M156.8 45.6h0M152.8 36.6h0M154.6 39.4h0M153.1 48.6h0M158.5 40.8h0M147.2 50.1h0M160.8 50.6h0M148.3 50.4h0M153.9 51.8h0M157.2 43.8h0M159.5 48.6h0M151.4 45.2h0M152.7 43.6h0M157.7 47.4h0M155.1 49.9h0M164.1 45.5h0M154.5 49.2h0M160.3 44.9h0M160.3 43.6h0M160.0 45.6h0M158.4 45.7h0M156.2 45.1h0M146.6 53.7h0M154.1 45.1h0M155.4 51.0h0M149.4 42.6h0M152.4 48.3h0M161.2 42.0h0M156.3 43.1h0M149.3 45.3h0M157.9 43.9h0M151.9 49.5h0M161.9 43.9h0M160.9 45.7h0M156.1 45.4h0M156.0 47.5h0M147.8 54.0h0M153.5 44.4h0M154.7 51.2h0M153.1 47.8h0M159.9 38.2h0M154.0 45.7h0M152.3 48.2h0M157.0 43.6h0M160.7 44.2h0M150.3 50.9h0M151.7 44.4h0M148.9 55.9h0M158.8 47.9h0M163.6 41.7h0M159.2 47.7h0M153.7 46.1h0M160.7 43.9h0M151.9 47.6h0M153.4 56.1h0M152.4 46.9h0M151.3 47.7h0M155.7 46.0h0M153.7 37.8h0M158.9 49.5h0M154.1 44.9h0M163.0 37.2h0M158.6 44.2h0M152.4 44.9h0M156.1 46.2h0M157.1 47.0h0M152.7 40.4h0M154.1 47.2h0M145.6 52.5h0M155.9 42.0h0M148.3 46.0h0M151.3 33.4h0M159.2 43.3h0M147.5 37.7h0M151.7 45.3h0M153.4 24.7h0M151.1 33.5h0M148.4 29.0h0M139.5 26.7h0M156.0 48.8h0M150.2 27.4h0M150.5 50.3h0M146.8 42.4h0M146.5 42.1h0M151.6 42.3h0M155.4 53.4h0M146.9 36.0h0M149.3 26.9h0M146.3 36.1h0M141.1 28.3h0M146.1 37.4h0M141.1 45.1h0M157.4 53.0h0M139.9 30.1h0M149.3 25.5h0M146.3 41.4h0M144.6 33.9h0M151.7 56.7h0M150.7 32.4h0M142.8 51.4h0M146.3 41.9h0M143.1 37.0h0M141.7 50.4h0M149.7 29.6h0M154.0 50.3h0M144.4 44.7h0M149.8 50.7h0M157.1 41.8h0M143.5 53.0h0M150.4 57.0h0M143.8 34.7h0M147.3 32.5h0M147.9 48.7h0M139.3 47.6h0M150.8 52.5h0M149.7 33.3h0M145.8 51.2h0M140.8 37.9h0M157.1 30.6h0M141.9 27.6h0M153.3 32.0h0M148.6 28.2h0M144.0 40.8h0M141.8 43.6h0M158.2 47.4h0M142.4 49.6h0M144.3 47.6h0M152.8 52.7h0M147.2 27.9h0M149.9 53.7h0M154.4 29.1h0M151.3 51.2h0M139.5 40.0h0M154.8 46.3h0M144.0 31.8h0M147.5 37.7h0M143.4 44.3h0M143.2 40.9h0M151.4 47.2h0M155.8 40.2h0M142.2 42.1h0M146.3 52.9h0M143.9 43.2h0M143.0 45.6h0M155.0 47.8h0M155.0 55.2h0M146.7 43.7h0M141.5 34.5h0M152.1 43.5h0M146.9 33.4h0M143.1 27.9h0M155.7 35.5h0M143.6 49.9h0M136.2 32.4h0M142.1 30.4h0M145.5 45.7h0M141.3 46.2h0M141.7 42.6h0M148.6 39.8h0M151.6 37.5h0M140.8 38.9h0M151.8 32.9h0M146.4 36.8h0M155.5 37.5h0M151.8 34.6h0M147.4 29.3h0M140.1 33.4h0M145.0 28.6h0M150.7 34.7h0M144.5 31.3h0M155.7 51.1h0M144.5 43.8h0M145.0 52.7h0M148.5 50.3h0M153.2 32.5h0M144.0 43.4h0M140.2 38.2h0M154.4 44.7h0M147.4 44.2h0M144.6 38.7h0M152.0 31.8h0M149.6 38.7h0M154.1 45.2h0M137.3 31.5h0M140.6 29.3h0M147.9 46.9h0M147.9 43.6h0M158.5 26.4h0M145.6 42.2h0M150.0 48.5h0M145.6 42.0h0M151.5 39.7h0M154.6 26.3h0M154.2 48.4h0M141.6 45.4h0M152.7 46.4h0M140.2 35.2h0M158.0 26.4h0M144.4 44.7h0M150.1 49.8h0M147.8 30.3h0M157.8 30.5h0M154.9 35.7h0M151.9 37.0h0M144.6 35.1h0M156.7 33.2h0M146.5 51.7h0M148.5 44.4h0M140.9 31.0h0M158.2 30.7h0M146.5 34.2h0M144.7 40.3h0M143.2 37.8h0M146.1 40.0h0M143.0 46.3h0M145.6 29.9h0M143.6 32.8h0M154.9 56.0h0M147.6 41.5h0M148.8 44.2h0M152.4 38.5h0M149.8 32.9h0M149.3 48.7h0M159.1 41.0h0M144.8 46.7h0M152.0 25.4h0M152.7 36.5h0M154.0 33.7h0M139.2 46.4h0M144.0 32.3h0M142.1 45.0h0M153.7 51.1h0M153.3 45.8h0M156.2 45.3h0M141.5 48.4h0M145.0 40.0h0M147.1 49.0h0M137.6 45.1h0M140.5 53.5h0M138.7 27.5h0M141.8 29.1h0M139.5 55.2h0M155.9 43.3h0M150.0 54.7h0M145.9 45.1h0M154.7 45.5h0M147.1 28.4h0M152.4 38.0h0M142.8 49.9h0M152.2 40.3h0M149.4 37.5h0M152.5 40.8h0M152.5 26.3h0M155.5 36.5h0M149.7 32.4h0M152.8 49.3h0M141.1 37.2h0M149.4 53.2h0M139.6 26.4h0M156.5 40.0h0M151.7 36.6h0M154.9 35.1h0M147.8 42.6h0M141.3 39.1h0M149.4 41.6h0M154.2 51.3h0M154.9 31.0h0M140.3 44.6h0M138.8 46.1h0M141.0 46.1h0M147.9 32.8h0M138.3 25.8h0M152.3 33.5h0M153.9 33.6h0M155.0 42.6h0M145.7 28.2h0M144.9 24.4h0M152.5 42.1h0M152.0 43.4h0M144.8 28.4h0M150.2 28.1h0M155.3 46.4h0M147.5 37.4h0M148.7 50.1h0M148.5 42.2h0M152.9 46.1h0M146.5 47.6h0M143.4 29.1h0M147.8 54.5h0M147.0 39.9h0M150.1 31.8h0M140.6 52.2h0M142.2 45.3h0M154.4 45.5h0M136.2 34.8h0M144.5 32.1h0M141.6 41.6h0M154.6 54.2h0M149.3 29.0h0M139.9 51.6h0M148.5 37.3h0M145.7 31.3h0M141.2 29.3h0M155.6 37.4h0M147.9 43.6h0M152.5 38.5h0M156.0 41.8h0M146.1 52.7h0M152.6 39.3h0M156.2 30.4h0M138.3 44.3h0M143.4 30.7h0M146.9 32.6h0M140.0 48.5h0M146.3 37.4h0M139.8 43.9h0M141.1 56.7h0M154.6 53.6h0M148.7 52.3h0M157.3 30.4h0M158.0 26.4h0M136.7 45.2h0M147.4 49.4h0M149.1 38.8h0M155.7 25.5h0M129.0 33.2h0M127.5 40.9h0M132.2 49.1h0M135.9 32.2h0M131.9 54.1h0M128.0 51.4h0M128.2 34.6h0M124.7 47.1h0M133.8 34.9h0M133.8 42.6h0M136.1 31.3h0M130.4 42.1h0M124.3 56.9h0M123.7 56.4h0M135.7 48.5h0M133.5 43.8h0M126.2 31.8h0M126.9 43.4h0M134.5 48.1h0M136.7 56.2h0M136.6 42.6h0M127.5 49.9h0M124.6 54.1h0M131.1 50.7h0M131.0 43.9h0M125.5 44.4h0M125.0 49.2h0M125.7 38.6h0M132.5 35.1h0M128.4 55.9h0M123.8 44.7h0M135.8 43.4h0M128.6 51.7h0M134.5 48.0h0M130.3 33.1h0M129.4 54.4h0M127.1 36.2h0M129.6 39.5h0M123.2 55.9h0M126.6 37.1h0M127.6 45.7h0M134.4 43.8h0M123.0 34.4h0M124.8 39.8h0M128.4 48.4h0M135.4 45.5h0M122.8 46.9h0M130.6 53.3h0M135.6 31.5h0M129.3 50.9h0M133.1 38.8h0M132.3 49.3h0M132.8 49.7h0M132.5 51.0h0M122.9 42.7h0M134.5 51.9h0M129.2 54.4h0M122.5 32.5h0M133.5 50.8h0M132.4 46.2h0M137.1 31.6h0M131.6 55.3h0M124.1 50.2h0M131.9 44.0h0M135.7 42.3h0M135.7 28.3h0M124.4 41.7h0M127.8 51.3h0M129.4 44.3h0M131.3 55.1h0M130.0 44.1h0M133.7 34.3h0M126.5 45.4h0M130.9 49.9h0M137.1 48.7h0M133.9 30.1h0M128.4 46.0h0M128.1 45.5h0M126.9 38.5h0M135.4 47.3h0M125.3 53.1h0M127.9 30.7h0M125.0 39.4h0M132.7 52.4h0M127.4 51.0h0M130.5 41.1h0M135.1 55.1h0M134.2 41.8h0M131.0 46.5h0M134.9 38.6h0M124.7 53.4h0M123.3 29.9h0M136.9 52.5h0M124.1 50.2h0M132.7 41.5h0M123.1 30.3h0M129.7 47.9h0M126.7 49.0h0M135.2 40.1h0M127.1 30.3h0M130.1 45.1h0M138.5 42.0h0M129.9 43.2h0M131.8 48.4h0M130.3 55.2h0M133.6 32.3h0M124.3 35.1h0M132.7 54.9h0M134.2 32.5h0M134.5 46.7h0M134.3 48.3h0M131.5 55.0h0M124.6 50.3h0M133.3 50.8h0M130.1 52.3h0M127.0 52.7h0M128.7 52.0h0M123.1 54.7h0M125.8 53.8h0M126.7 54.5h0M133.2 50.0h0M135.9 51.0h0M134.9 53.6h0M133.6 47.5h0M127.4 54.8h0M128.2 55.2h0M134.9 46.9h0M125.6 53.1h0M122.4 54.6h0M135.6 50.0h0M125.1 45.9h0M135.1 46.7h0M123.4 51.0h0M131.6 56.2h0M137.9 53.7h0M127.7 50.5h0M136.7 51.8h0M123.3 55.5h0M132.4 51.5h0M129.7 51.2h0M123.0 48.0h0M133.1 50.3h0M126.1 49.3h0M131.8 55.7h0M124.6 47.8h0M122.8 55.5h0M136.0 53.5h0M124.9 53.7h0M125.6 51.9h0M130.9 50.2h0M128.6 54.2h0M132.6 51.1h0M126.9 51.6h0M133.2 45.9h0M126.1 48.5h0M134.0 51.2h0M125.1 53.8h0M125.8 54.3h0M127.1 48.5h0M123.9 51.7h0M137.4 46.5h0M135.5 51.8h0M126.1 53.4h0M136.7 46.3h0M127.5 51.3h0M125.5 47.9h0M125.5 47.9h0M129.1 46.3h0M130.6 56.0h0M134.2 49.6h0M125.2 57.3h0M132.8 54.5h0M126.0 54.2h0M123.8 54.4h0M131.9 50.7h0M135.7 49.6h0M136.7 47.5h0M136.6 51.5h0M132.3 50.5h0M134.2 46.2h0M135.7 50.8h0M128.7 53.8h0M127.6 49.7h0M135.3 55.9h0M129.5 52.6h0M127.0 46.1h0M135.2 54.5h0M133.6 49.6h0M130.4 47.0h0M127.3 51.5h0M136.4 47.3h0M138.0 46.0h0M132.9 51.4h0M136.7 55.1h0M132.6 46.1h0M126.3 50.4h0M132.6 55.2h0M136.5 47.5h0M123.1 48.7h0M132.5 51.3h0M162.1 81.4h0M163.6 68.4h0M165.8 85.2h0M161.8 85.7h0M161.5 73.4h0M162.5 74.9h0M164.8 70.8h0M156.5 59.4h0M164.3 76.2h0M160.0 84.8h0M161.4 83.9h0M168.9 69.2h0M163.5 67.7h0M153.3 79.0h0M172.9 78.1h0M156.7 70.0h0M155.1 61.5h0M157.8 78.6h0M166.3 79.2h0M171.9 64.5h0M153.2 62.8h0M169.6 65.8h0M162.8 75.6h0M169.9 66.2h0M164.6 83.4h0M172.0 71.9h0M158.8 70.5h0M149.2 58.6h0M159.2 84.5h0M165.6 86.9h0M169.4 63.5h0M167.1 83.1h0M167.1 70.1h0M173.1 64.7h0M153.9 81.1h0M163.2 72.2h0M162.5 70.3h0M161.8 58.6h0M173.0 68.2h0M165.1 68.2h0M151.6 75.0h0M161.3 62.0h0M166.2 77.8h0M154.3 73.6h0M161.3 66.1h0M156.4 73.6h0M152.7 70.9h0M168.7 79.6h0M164.4 84.8h0M168.2 83.6h0M157.3 62.1h0M163.1 67.0h0M153.9 87.0h0M166.5 74.1h0M163.7 68.0h0M151.2 72.4h0M165.1 72.7h0M156.9 70.4h0M162.9 62.9h0M163.4 73.9h0M159.8 72.9h0M158.2 64.2h0M169.0 83.2h0M165.6 58.2h0M157.6 76.6h0M166.1 84.1h0M163.2 65.2h0M167.2 71.1h0M155.5 76.4h0M158.9 72.0h0M160.2 69.3h0M166.3 63.4h0M160.7 85.2h0M168.4 64.2h0M164.6 73.7h0M160.0 69.6h0M163.2 84.3h0M154.3 78.7h0M164.7 82.6h0M162.1 76.0h0M157.1 76.2h0M170.1 60.5h0M159.1 77.1h0M169.8 82.5h0M154.1 77.2h0M161.1 79.7h0M167.6 76.9h0M166.1 58.0h0M166.9 72.0h0M161.4 58.5h0M171.1 76.7h0M155.8 63.8h0M165.2 59.4h0M159.4 85.9h0M162.6 66.7h0M165.0 80.4h0M167.6 79.6h0M160.6 80.5h0M162.3 81.8h0M165.7 63.4h0M158.7 61.4h0M166.6 85.0h0M164.9 68.8h0M175.1 75.8h0M153.0 62.8h0M165.8 73.4h0M170.6 63.0h0M159.9 61.4h0M159.3 76.5h0M167.9 67.3h0M136.1 65.5h0M127.5 68.1h0M153.6 80.7h0M152.0 76.7h0M135.4 77.9h0M138.7 74.7h0M130.2 66.0h0M137.3 71.4h0M150.2 67.2h0M132.7 76.3h0M143.9 64.0h0M155.2 75.1h0M154.8 77.5h0M143.7 68.3h0M134.6 85.2h0M140.7 67.5h0M144.7 79.1h0M135.3 77.8h0M136.2 86.3h0M143.7 76.8h0M136.4 68.0h0M141.4 83.4h0M146.7 57.8h0M150.9 69.0h0M149.2 63.9h0M155.0 75.5h0M126.5 62.8h0M122.8 78.2h0M143.8 81.4h0M152.0 83.0h0M138.7 68.4h0M138.5 71.3h0M126.6 69.7h0M132.1 58.4h0M125.4 64.8h0M147.1 72.4h0M153.5 81.1h0M124.9 80.2h0M139.0 72.4h0M137.8 65.6h0M130.2 73.8h0M146.4 70.1h0M122.9 79.5h0M148.8 81.9h0M131.4 86.4h0M153.1 65.0h0M142.6 58.9h0M153.6 78.7h0M129.9 70.7h0M125.0 64.7h0M152.4 66.7h0M153.9 83.1h0M130.3 87.2h0M124.5 72.2h0M122.7 80.5h0M136.1 84.5h0M149.5 62.2h0M141.7 81.8h0M132.1 75.9h0M144.5 80.8h0M130.6 85.6h0M128.1 56.8h0M126.1 81.5h0M153.2 76.2h0M135.7 68.6h0M152.8 72.4h0M132.9 66.9h0M132.4 66.4h0M128.4 63.7h0M128.0 58.0h0M153.7 62.9h0M141.8 58.8h0M140.9 76.0h0M143.8 85.9h0M141.7 59.0h0M131.6 75.8h0M148.5 70.2h0M149.8 60.7h0M149.5 66.6h0M138.2 57.2h0M133.8 85.1h0M135.8 70.8h0M141.0 66.5h0M142.7 71.9h0M148.9 68.8h0M143.8 64.8h0M154.4 60.7h0M125.2 71.4h0M141.0 79.9h0M126.6 82.7h0M128.3 70.2h0M150.6 71.0h0M142.7 69.5h0M131.1 74.8h0M144.8 72.3h0M141.5 57.7h0M138.0 76.6h0M124.7 67.4h0M156.3 74.7h0M150.2 67.4h0M150.0 85.8h0M146.2 85.5h0M139.9 69.3h0M124.0 85.5h0M143.5 76.1h0M124.8 65.6h0M132.1 61.1h0M146.3 62.1h0M143.8 87.4h0M135.4 55.9h0M140.4 61.5h0M143.0 80.1h0M134.2 66.1h0M137.8 72.3h0M123.0 81.3h0M148.1 75.1h0M143.2 76.7h0M127.7 68.7h0M155.0 63.7h0M130.0 64.6h0M152.1 69.7h0M147.2 85.3h0M130.6 85.1h0M137.2 65.5h0M124.6 72.3h0M152.6 74.4h0M129.7 67.0h0M135.9 84.1h0M143.6 58.5h0M128.3 80.7h0M129.7 77.0h0M138.5 80.3h0M145.6 76.6h0M140.7 66.3h0M141.2 63.4h0M154.3 64.1h0M140.0 82.4h0M123.9 83.1h0M146.6 80.7h0M135.0 83.9h0M126.4 78.5h0M153.9 84.7h0M146.6 84.7h0M153.0 71.0h0M134.1 76.9h0M143.4 83.6h0M143.8 77.6h0M123.6 86.9h0M125.2 76.2h0M151.1 69.9h0" stroke="#000" stroke-width="0.6" stroke-linecap="round" stroke-opacity="0.45" fill="none"/>
<path d="M147.1 87.8h0M170.1 87.7h0M167.8 87.8h0M158.3 87.9h0M141.1 87.8h0M153.5 87.5h0M157.0 87.8h0M161.6 87.7h0M162.8 87.5h0M166.6 87.7h0M143.9 87.4h0M142.8 87.6h0M144.5 87.6h0M142.9 87.8h0M169.3 87.8h0M148.7 87.7h0M151.5 87.5h0M144.1 87.8h0M154.3 87.4h0M148.8 87.4h0M156.7 87.8h0M173.9 87.6h0M144.3 87.8h0M167.2 87.4h0M162.9 87.7h0M158.8 87.4h0M170.5 87.6h0M157.0 87.4h0M148.7 87.7h0M147.6 87.7h0M165.4 87.9h0M164.4 87.6h0M165.4 87.5h0M172.3 87.5h0M148.7 87.8h0M162.0 87.4h0M150.1 87.5h0M139.9 87.3h0M171.4 87.7h0M143.7 87.6h0M168.4 87.4h0M148.4 87.6h0M153.6 87.9h0M152.0 87.7h0M142.8 87.4h0M169.9 87.4h0M139.2 87.8h0M172.7 87.5h0M149.3 87.6h0M156.7 87.5h0M162.6 87.8h0M139.2 87.5h0M156.7 87.8h0M141.4 87.9h0M150.6 87.4h0M152.4 87.3h0M150.6 87.3h0M150.4 87.5h0M161.9 87.8h0M158.7 87.8h0M146.6 87.4h0M167.9 87.8h0M154.3 87.8h0M140.9 87.8h0M148.4 87.6h0M142.1 87.8h0M168.8 87.3h0M160.3 87.4h0M154.8 87.6h0M172.5 87.6h0M143.0 87.6h0M158.7 87.3h0M171.4 87.8h0M159.5 87.5h0M152.8 87.5h0M171.7 87.4h0M167.2 87.8h0M147.5 87.9h0M169.5 87.7h0M170.5 87.6h0M143.8 87.5h0M151.3 87.9h0M158.2 87.7h0M143.1 87.5h0M168.9 87.3h0M141.5 87.5h0M149.2 87.6h0M172.0 87.8h0M163.3 87.6h0M155.6 87.6h0M168.6 87.8h0M150.8 87.4h0M150.8 87.6h0M173.7 87.4h0M140.7 87.6h0M141.9 87.7h0M148.6 87.7h0M153.4 87.5h0M163.3 87.5h0M152.2 87.8h0M142.9 87.8h0M154.6 87.8h0M146.5 87.4h0M145.3 87.4h0M145.5 87.6h0M167.1 87.4h0M155.6 87.9h0M158.0 87.8h0M165.5 87.3h0M149.9 87.8h0M152.4 87.8h0M158.6 87.3h0M146.7 87.4h0M154.8 87.8h0M156.7 87.3h0M167.7 87.3h0M170.3 87.7h0M153.0 87.5h0M148.7 87.5h0M156.9 87.9h0M147.5 87.8h0M170.0 87.7h0M170.4 87.7h0M169.5 87.4h0M153.4 87.7h0M171.4 87.4h0M160.7 87.6h0M148.3 87.6h0M157.0 87.4h0M163.6 87.6h0M162.3 87.4h0M139.9 87.6h0M173.8 87.7h0M147.0 87.7h0M140.1 87.4h0M142.5 87.4h0M171.3 87.7h0M162.7 87.5h0M141.8 87.7h0M150.2 87.4h0M141.2 87.8h0M164.9 87.5h0M146.5 87.9h0M172.7 87.6h0M153.2 87.8h0M159.0 87.5h0M173.0 87.9h0M148.2 87.9h0M168.8 87.9h0M172.5 87.5h0M167.0 87.4h0M145.3 87.5h0M149.5 87.5h0M168.5 87.7h0M139.6 87.8h0M144.7 87.8h0M147.7 87.9h0M161.4 87.7h0M148.7 87.8h0M141.7 87.8h0M158.6 87.5h0M153.1 87.3h0M156.2 87.6h0M152.0 87.4h0M159.4 87.6h0M146.5 87.4h0M145.0 87.3h0M164.1 87.4h0M162.8 87.5h0M142.6 87.4h0M164.3 87.5h0M158.7 87.4h0M172.3 87.6h0M167.1 87.4h0M171.9 87.4h0M163.0 87.8h0M161.1 87.4h0M169.4 87.8h0M162.8 87.7h0M140.9 87.5h0M150.6 87.4h0M167.1 87.4h0M148.2 87.4h0M145.1 87.8h0M140.3 87.3h0M166.0 87.5h0M149.2 87.4h0M160.2 87.4h0M154.0 87.7h0M139.0 87.6h0M143.7 87.3h0M166.8 87.3h0M145.5 87.9h0M140.6 87.6h0M163.7 87.6h0M172.9 87.6h0M169.9 87.5h0M152.5 87.9h0M153.9 87.7h0M168.7 87.8h0M171.1 87.3h0M151.7 87.9h0M151.8 87.4h0M147.6 87.8h0M158.8 87.5h0M145.6 87.5h0M147.7 87.6h0M141.0 87.6h0M159.9 87.7h0M158.1 87.8h0" stroke="#000" stroke-width="0.7" stroke-linecap="round" stroke-opacity="0.7" fill="none"/>
<line x1="137.6" y1="18.9" x2="137.6" y2="88.3" stroke="#7f8cc6" stroke-width="0.75"/>
<line x1="121.7" y1="56.4" x2="191" y2="56.4" stroke="#7f8cc6" stroke-width="0.75"/>
<rect x="121.7" y="18.9" width="69.30" height="69.40" fill="none" stroke="#858585" stroke-width="0.9"/>
<line x1="120.8" y1="19.9" x2="120.8" y2="88.3" stroke="#666" stroke-width="1" stroke-dasharray="0.6 1.9"/>
<line x1="121.7" y1="89.2" x2="190" y2="89.2" stroke="#666" stroke-width="1" stroke-dasharray="0.6 1.9"/>
<rect x="122.00" y="21.00" width="15.26" height="6.6" fill="#fff"/>
<text x="122.8" y="26.8" font-size="7.2" text-anchor="start" font-weight="normal" fill="#4a5ca6" stroke="#4a5ca6">2.36</text>
<rect x="175.54" y="21.00" width="15.26" height="6.6" fill="#fff"/>
<text x="190" y="26.8" font-size="7.2" text-anchor="end" font-weight="normal" fill="#4a5ca6" stroke="#4a5ca6">8.05</text>
<rect x="122.00" y="81.60" width="15.26" height="6.6" fill="#fff"/>
<text x="122.8" y="87.4" font-size="7.2" text-anchor="start" font-weight="normal" fill="#4a5ca6" stroke="#4a5ca6">36.9</text>
<rect x="175.54" y="81.60" width="15.26" height="6.6" fill="#fff"/>
<text x="190" y="87.4" font-size="7.2" text-anchor="end" font-weight="normal" fill="#4a5ca6" stroke="#4a5ca6">52.7</text>
<text transform="translate(104.7 27.5) scale(0.96 1)" font-size="9.8" fill="#111" stroke="#111" stroke-width="0.35">10</text>
<text x="114.96" y="24.2" font-size="6.0" text-anchor="start" font-weight="normal" fill="#111" stroke="#111">5</text>
<text transform="translate(104.7 42.5) scale(0.96 1)" font-size="9.8" fill="#111" stroke="#111" stroke-width="0.35">10</text>
<text x="114.96" y="39.2" font-size="6.0" text-anchor="start" font-weight="normal" fill="#111" stroke="#111">4</text>
<text transform="translate(104.7 58.1) scale(0.96 1)" font-size="9.8" fill="#111" stroke="#111" stroke-width="0.35">10</text>
<text x="114.96" y="54.8" font-size="6.0" text-anchor="start" font-weight="normal" fill="#111" stroke="#111">3</text>
<text transform="translate(104.7 75.4) scale(0.96 1)" font-size="9.8" fill="#111" stroke="#111" stroke-width="0.35">10</text>
<text x="114.96" y="72.1" font-size="6.0" text-anchor="start" font-weight="normal" fill="#111" stroke="#111">2</text>
<text transform="translate(110.2 84.9) scale(0.96 1)" font-size="9.8" fill="#111" stroke="#111" stroke-width="0.35">0</text>
<text x="104" y="74.3" font-size="7.1" text-anchor="middle" font-weight="normal" fill="#111" stroke="#111" transform="rotate(-90 104 74.3)">CD11b</text>
<line x1="101.5" y1="55" x2="101.5" y2="23.3" stroke="#111" stroke-width="0.7"/>
<polygon points="101.5,20.3 102.76,23.30 100.24,23.30" fill="#111"/>
<text transform="translate(125.8 99.7) scale(0.92 1)" font-size="9.5" fill="#111" stroke="#111" stroke-width="0.35">0</text>
<text transform="translate(130.7 99.7) scale(0.92 1)" font-size="9.5" fill="#111" stroke="#111" stroke-width="0.35">10</text>
<text x="140.22" y="96.4" font-size="6.0" text-anchor="start" font-weight="normal" fill="#111" stroke="#111">2</text>
<text transform="translate(148.2 99.7) scale(0.92 1)" font-size="9.5" fill="#111" stroke="#111" stroke-width="0.35">10</text>
<text x="157.72" y="96.4" font-size="6.0" text-anchor="start" font-weight="normal" fill="#111" stroke="#111">3</text>
<text transform="translate(164.4 99.7) scale(0.92 1)" font-size="9.5" fill="#111" stroke="#111" stroke-width="0.35">10</text>
<text x="173.92" y="96.4" font-size="6.0" text-anchor="start" font-weight="normal" fill="#111" stroke="#111">4</text>
<text transform="translate(180.5 99.7) scale(0.92 1)" font-size="9.5" fill="#111" stroke="#111" stroke-width="0.35">10</text>
<text x="190.02" y="96.4" font-size="6.0" text-anchor="start" font-weight="normal" fill="#111" stroke="#111">5</text>
<text x="120" y="108.9" font-size="7.3" text-anchor="start" font-weight="normal" fill="#111" stroke="#111">CD3</text>
<line x1="139.7" y1="106.3" x2="184.0" y2="106.3" stroke="#111" stroke-width="0.7"/>
<polygon points="187,106.3 184.00,107.56 184.00,105.04" fill="#111"/>
<line x1="86.4" y1="65.5" x2="108.2" y2="65.5" stroke="#111" stroke-width="0.7"/>
<polygon points="111.2,65.5 108.20,66.76 108.20,64.24" fill="#111"/>
<path d="M233.7 43.8h0M231.4 42.8h0M229.4 41.2h0M232.6 38.6h0M229.9 40.2h0M231.5 42.3h0M231.5 43.6h0M231.2 43.5h0M231.0 38.1h0M230.4 40.1h0M229.0 37.8h0M229.8 41.0h0M227.1 41.6h0M233.2 41.3h0M232.5 39.8h0M235.7 39.4h0M226.9 42.3h0M232.7 43.4h0M233.1 42.8h0M225.9 42.4h0M228.3 38.3h0M235.0 39.0h0M232.8 42.6h0M229.5 40.0h0M234.7 41.0h0M231.2 41.7h0M231.8 42.4h0M231.4 43.0h0M230.2 39.3h0M228.3 42.7h0M227.9 42.2h0M232.8 40.2h0M230.3 39.5h0M226.9 42.8h0M231.1 39.7h0M229.2 40.6h0M229.5 40.6h0M229.5 45.3h0M228.8 39.6h0M229.6 43.6h0M230.1 42.6h0M229.5 41.0h0M235.1 41.4h0M229.0 42.9h0M226.0 39.6h0M229.6 40.9h0M230.6 39.5h0M231.9 41.0h0M229.9 42.1h0M229.7 43.3h0M228.0 42.3h0M229.7 37.9h0M227.5 41.1h0M231.7 39.3h0M228.7 40.9h0M226.1 41.2h0M233.7 42.6h0M227.3 40.6h0M227.9 38.3h0M237.3 39.4h0M231.4 40.6h0M229.3 39.1h0M227.2 41.6h0M228.6 42.8h0M229.0 42.3h0M231.9 39.4h0M234.2 40.7h0M237.9 39.7h0M233.8 42.3h0M225.6 39.5h0M226.2 43.4h0M230.7 43.0h0M227.3 43.1h0M230.6 42.5h0M232.5 41.4h0M234.4 38.7h0M229.6 43.3h0M227.5 43.1h0M230.7 42.0h0M223.0 41.0h0M232.4 39.3h0M233.1 42.3h0M221.5 42.8h0M226.8 40.2h0M225.7 42.6h0M234.9 45.1h0M234.9 40.2h0M225.7 43.8h0M232.9 41.3h0M226.1 40.1h0M230.1 44.0h0M235.0 39.4h0M225.1 42.0h0M232.9 40.0h0M231.0 42.9h0M225.7 45.1h0M234.9 41.1h0M231.5 42.3h0M228.5 43.0h0M230.6 40.2h0M230.2 41.1h0M229.2 42.8h0M233.1 42.7h0M229.3 42.7h0M230.0 44.3h0M227.4 43.6h0M228.5 38.9h0M232.5 39.1h0M227.8 41.7h0M231.8 41.2h0M231.8 41.8h0M225.7 44.1h0M234.8 40.0h0M232.6 40.8h0M227.9 41.4h0M224.4 41.2h0M232.8 42.9h0M232.0 41.7h0M228.7 43.3h0M236.4 41.4h0M235.9 41.1h0M230.0 43.0h0M230.9 41.1h0M228.9 41.9h0M230.1 38.9h0M232.3 44.1h0M231.7 42.1h0M232.3 42.7h0M232.8 40.7h0M227.2 42.7h0M231.7 40.5h0M229.8 42.4h0M235.2 40.0h0M227.7 41.8h0M228.0 41.0h0M227.9 43.8h0M231.9 41.6h0M236.0 46.0h0M232.5 42.7h0M227.8 42.8h0M228.4 39.4h0M231.7 40.5h0M234.9 40.6h0M229.6 40.3h0M230.1 41.4h0M232.3 40.1h0M228.2 40.1h0M228.4 41.1h0M230.0 40.5h0M233.2 40.0h0M231.3 41.2h0M231.7 41.5h0M229.3 41.7h0M229.0 41.5h0M234.2 42.4h0M234.5 39.7h0M234.3 41.8h0M232.5 40.9h0M235.7 39.5h0M231.0 39.3h0M229.8 42.2h0M231.4 41.9h0M234.3 39.4h0M225.5 43.8h0M226.0 41.6h0M237.7 41.8h0M230.3 43.1h0M228.2 43.0h0M229.2 40.6h0M227.5 40.9h0M231.7 44.3h0M233.6 42.7h0M230.5 44.3h0M230.6 43.8h0M227.0 42.9h0M227.3 41.4h0M229.7 38.7h0M231.7 41.5h0M225.4 42.0h0M229.9 39.1h0M228.8 43.4h0M229.3 41.4h0M230.2 41.2h0M227.3 41.7h0M224.7 42.5h0M229.4 39.5h0M226.1 42.4h0M229.1 40.7h0M228.9 42.1h0M233.6 40.5h0M224.6 40.8h0M227.8 42.5h0M234.0 41.7h0M228.2 43.3h0M229.0 39.8h0M230.4 44.8h0M230.3 40.4h0M232.6 40.0h0M234.1 42.2h0M226.5 41.3h0M229.3 40.4h0M231.6 41.0h0M235.7 41.3h0M233.6 42.7h0M232.0 42.6h0M228.7 43.3h0M233.7 42.8h0M228.8 40.9h0M234.0 41.0h0M238.3 41.4h0M227.2 42.9h0M230.9 38.5h0M228.4 38.3h0M238.2 38.7h0M228.0 41.3h0M228.4 43.7h0M229.5 39.4h0M232.9 41.8h0M226.5 43.5h0M226.4 40.6h0M234.9 40.2h0M230.6 40.2h0M229.3 38.4h0M229.5 40.4h0M233.3 40.5h0M227.9 41.1h0M224.9 42.8h0M225.0 40.2h0M231.3 40.9h0M236.4 38.6h0M231.9 44.2h0M228.4 39.7h0M234.0 44.1h0M228.4 43.1h0M232.6 41.4h0M233.0 40.8h0M232.5 40.9h0M229.9 39.9h0M230.4 41.4h0M227.7 40.7h0M229.7 43.8h0M232.1 42.4h0M234.6 42.1h0M235.8 43.1h0M232.7 41.1h0M231.0 41.3h0M228.1 39.4h0M231.6 39.2h0M233.0 44.0h0M230.7 40.0h0M228.8 42.7h0M230.2 40.9h0M231.2 39.6h0M227.6 42.5h0M228.5 42.7h0M229.1 41.8h0M230.4 43.5h0M229.8 41.7h0M227.2 42.1h0M230.2 42.0h0M224.6 43.2h0M230.9 42.0h0M232.0 42.9h0M227.6 41.0h0M231.0 39.1h0M236.8 37.6h0M232.1 40.6h0M232.8 43.6h0M236.1 39.7h0M230.6 40.3h0M226.5 42.2h0M228.5 39.8h0M229.5 40.7h0M227.2 42.2h0M232.3 41.9h0M228.4 40.4h0M223.9 43.4h0M233.3 39.8h0M226.3 40.1h0M234.7 40.7h0M229.3 41.8h0M230.6 41.0h0M230.2 42.6h0M233.2 39.4h0M230.2 41.4h0M231.6 45.1h0M232.8 42.4h0M230.4 42.4h0M234.4 43.0h0M228.2 42.1h0M231.4 39.7h0M229.5 40.9h0M233.3 41.3h0M236.6 41.6h0M229.4 42.1h0M230.7 40.2h0M231.4 39.2h0M231.1 40.7h0M230.8 40.4h0M235.6 39.9h0M233.0 41.3h0M233.9 40.0h0M227.0 43.0h0M233.8 42.1h0M219.5 45.5h0M235.0 41.0h0M228.0 42.6h0M225.4 41.7h0M232.7 43.4h0M229.4 41.3h0M226.5 41.8h0M228.5 41.8h0M228.4 42.5h0M230.2 40.5h0M232.4 42.1h0M229.8 41.3h0M233.1 42.0h0M230.5 44.6h0M228.9 39.7h0M228.7 42.1h0M225.7 45.1h0M233.1 39.7h0M231.5 39.4h0M230.5 41.2h0M234.9 38.1h0M228.7 38.8h0M229.1 41.2h0M230.8 43.1h0M227.8 41.0h0M235.0 41.0h0M227.7 41.9h0M227.1 40.6h0M228.7 39.4h0M235.9 40.2h0M231.2 41.0h0M230.1 40.3h0M231.8 40.7h0M228.2 43.2h0M235.2 41.6h0M232.1 40.8h0M231.1 42.6h0M230.9 43.5h0M234.9 41.4h0M231.1 40.2h0M229.2 40.7h0M229.4 40.3h0M231.8 41.9h0M230.4 44.0h0M231.3 41.3h0M231.0 40.5h0M232.7 39.8h0M230.8 44.5h0M231.2 39.8h0M227.5 43.7h0M225.3 44.7h0M234.4 40.3h0M231.3 40.7h0M227.9 42.5h0M228.7 42.7h0M231.4 40.4h0M230.8 41.5h0M230.1 41.2h0M234.1 40.0h0M231.2 43.0h0M231.7 40.7h0M227.1 41.5h0M224.7 41.6h0M230.8 43.5h0M232.7 42.9h0M232.0 41.7h0M225.8 41.2h0M229.9 41.5h0M226.6 39.6h0M231.1 41.0h0M230.6 41.2h0M229.7 39.9h0M233.2 41.8h0M230.8 44.1h0M228.6 43.0h0M230.4 41.6h0M233.2 41.2h0M230.3 39.7h0M231.5 42.0h0M229.1 39.9h0M233.5 41.4h0M234.0 41.0h0M238.0 38.7h0M232.7 41.5h0M231.3 41.1h0M232.4 42.6h0M230.7 39.9h0M233.6 42.6h0M227.2 42.3h0M235.2 41.9h0M229.1 42.1h0M231.4 39.7h0M229.7 41.1h0M229.8 43.6h0M225.1 40.6h0M228.7 43.7h0M230.3 41.2h0M230.2 43.9h0M236.4 41.2h0M227.7 41.5h0M225.6 43.5h0M230.2 43.2h0M228.7 40.6h0M224.3 42.7h0M233.3 37.9h0M227.4 41.8h0M234.0 43.9h0M235.5 41.3h0M226.2 40.8h0M232.1 41.3h0M228.2 41.7h0M231.4 44.8h0M229.7 42.5h0M231.6 42.5h0M228.8 44.0h0M234.7 41.8h0M227.2 40.3h0M230.0 41.4h0M228.0 41.6h0M225.9 41.8h0M226.7 42.4h0M223.1 41.3h0M229.0 39.5h0M229.2 41.4h0M234.6 42.1h0M229.5 42.9h0M230.5 42.7h0M229.3 42.1h0M229.8 43.0h0M236.0 43.3h0M234.7 40.8h0M235.2 40.5h0M230.3 40.2h0M233.1 38.8h0M230.4 42.6h0M227.3 42.6h0M227.3 41.4h0M231.8 43.5h0M236.6 39.3h0M225.5 41.0h0M231.2 41.3h0M226.5 40.7h0M231.2 41.5h0M236.3 39.0h0M229.5 46.9h0M227.1 43.6h0M229.0 41.9h0M234.1 40.2h0M229.8 41.6h0M231.0 44.0h0M234.7 40.0h0M234.1 38.8h0M228.4 40.7h0M228.7 42.0h0M231.2 40.1h0M231.6 40.4h0M232.2 41.7h0M227.1 40.6h0M233.4 41.0h0M231.3 40.9h0M235.2 41.6h0M228.5 42.1h0M227.2 41.3h0M229.3 40.1h0M228.2 43.4h0M227.9 41.5h0M227.1 43.8h0M227.9 42.9h0M232.5 42.1h0M228.7 38.4h0M227.8 41.5h0M226.0 40.3h0M231.5 41.4h0M233.7 41.8h0M234.4 41.4h0M230.2 41.8h0M233.3 42.6h0M232.4 40.6h0M227.6 43.4h0M233.5 39.6h0M230.5 40.0h0M231.2 44.6h0M229.4 41.0h0M230.3 40.8h0M231.4 39.0h0M232.6 40.1h0M231.1 45.2h0M234.2 41.3h0M230.2 42.3h0M233.9 46.1h0M236.7 43.0h0M228.4 44.0h0M230.1 41.8h0M229.4 41.1h0M232.3 41.6h0M232.7 40.5h0M227.9 41.2h0M229.9 42.1h0M236.0 41.0h0M230.3 45.3h0M236.2 42.2h0M233.2 38.5h0M229.5 41.6h0M230.3 38.6h0M231.8 44.1h0M234.8 41.4h0M232.2 41.3h0M224.3 43.1h0M233.1 39.0h0M237.6 41.8h0M232.4 43.5h0M227.7 41.7h0M226.4 43.5h0M232.4 44.7h0M232.8 40.6h0M224.5 41.7h0M229.6 41.5h0M229.0 41.2h0M230.9 40.6h0M228.1 41.5h0M225.7 38.6h0M230.2 40.0h0M226.1 41.8h0M230.9 43.4h0M228.9 41.7h0M229.9 40.6h0M226.2 39.1h0M224.9 40.5h0M227.7 41.0h0M225.1 42.6h0M231.4 39.5h0M228.3 41.1h0M232.6 43.0h0M232.4 42.3h0M234.4 42.0h0M231.3 42.2h0M233.5 41.4h0M233.5 40.3h0M227.3 41.8h0M232.6 44.3h0M229.8 40.0h0M225.1 40.8h0M229.5 41.0h0M231.6 41.4h0M229.2 45.4h0M228.8 41.3h0M226.7 41.0h0M231.0 38.8h0M229.4 40.5h0M230.9 42.4h0M230.4 42.9h0M229.0 42.2h0M227.4 39.4h0M227.4 41.4h0M232.4 44.1h0M231.9 42.3h0M228.3 44.3h0M228.6 41.5h0M236.4 42.2h0M236.9 39.8h0M231.5 39.5h0M231.5 40.4h0M234.6 41.8h0M225.4 41.6h0M228.2 41.9h0M233.4 39.3h0M230.0 42.6h0M227.8 41.2h0M228.7 43.3h0M232.6 39.5h0M234.0 43.5h0M229.6 42.1h0M232.4 42.3h0M237.1 40.8h0M229.7 41.9h0M230.0 38.8h0M233.2 41.6h0M227.9 40.5h0M225.9 42.3h0M231.5 41.6h0M233.4 40.8h0M227.1 42.0h0M235.5 43.0h0M230.9 44.3h0M227.7 41.0h0M229.8 44.7h0M221.9 43.0h0M230.6 40.1h0M231.4 38.4h0M231.1 39.9h0M228.4 42.2h0M230.1 40.7h0M230.5 40.4h0M234.5 41.5h0M231.7 43.5h0M235.8 38.5h0M230.8 39.6h0M232.4 40.4h0M228.5 41.3h0M233.8 39.6h0M231.6 40.9h0M229.6 41.8h0M235.8 40.2h0M231.3 42.0h0M226.0 41.6h0M232.3 41.8h0M230.7 40.0h0M229.6 42.5h0M228.6 43.2h0M232.1 43.7h0M225.8 42.0h0M225.7 40.4h0M236.6 41.9h0M231.5 39.8h0M230.7 42.2h0M234.2 38.0h0M230.1 39.8h0M237.4 43.1h0M230.6 41.0h0M235.2 43.4h0M229.5 43.1h0M231.5 41.7h0M226.6 45.2h0M230.1 39.9h0M226.8 44.3h0M231.6 42.8h0M230.7 39.4h0M229.8 40.4h0M227.4 42.1h0M228.5 42.2h0M230.9 40.7h0M227.9 41.4h0M233.9 42.7h0M234.0 39.8h0M228.0 42.2h0M230.6 42.5h0M231.6 39.2h0M231.5 43.7h0M230.2 41.4h0M230.5 39.1h0M232.8 41.9h0M233.0 40.3h0M228.3 40.1h0M230.1 41.5h0M232.1 39.8h0M228.1 40.0h0M229.2 43.0h0M233.2 41.2h0M234.0 41.7h0M229.4 42.6h0M226.7 40.9h0M231.2 41.4h0M228.6 41.2h0M227.2 40.7h0M238.8 41.4h0M233.7 42.9h0M226.1 43.2h0M228.1 39.6h0M228.9 41.9h0M234.0 42.7h0M231.2 43.3h0M224.6 42.0h0M232.9 45.0h0M225.3 38.3h0M229.9 41.2h0M232.1 41.0h0M227.7 41.1h0M231.9 45.1h0M221.8 40.7h0M229.9 40.8h0M225.9 41.3h0M228.9 41.9h0M232.1 40.7h0M232.2 40.1h0M228.9 42.2h0M229.5 42.7h0M232.9 40.2h0M237.0 41.7h0M228.5 39.9h0M230.1 41.6h0M232.5 41.7h0M232.2 39.0h0M228.8 41.6h0M232.9 41.0h0M231.1 39.9h0M234.0 41.2h0M226.6 41.5h0M229.8 41.8h0M236.1 38.9h0M234.3 39.1h0M230.0 39.8h0M230.6 43.2h0M235.9 42.2h0M230.3 42.8h0M226.0 41.8h0M228.0 38.5h0M229.4 39.6h0M233.9 39.6h0M234.0 40.7h0M233.8 42.0h0M234.5 39.6h0M226.7 42.2h0M237.9 42.4h0M231.0 43.1h0M230.6 41.8h0M234.3 41.5h0M230.2 41.7h0M234.3 43.0h0M235.2 41.6h0M227.8 43.1h0M229.5 40.4h0M230.1 40.4h0M226.8 42.1h0M228.0 43.1h0M231.3 39.4h0M232.0 41.9h0M227.2 43.1h0M229.3 41.2h0M232.3 37.9h0M229.1 42.7h0M232.0 43.5h0M232.3 41.4h0M234.0 40.8h0M232.5 37.3h0M226.4 43.6h0M233.9 41.9h0M233.4 38.5h0M231.7 39.3h0M228.9 40.4h0M233.7 39.8h0M233.6 42.3h0M231.7 42.0h0M234.3 41.4h0M232.9 42.0h0M226.0 45.0h0M232.2 41.2h0M232.3 39.8h0M229.9 39.7h0M230.4 43.2h0M226.5 40.4h0M232.1 40.3h0M238.3 39.2h0M234.1 41.1h0M232.2 42.9h0M236.7 42.8h0M232.7 41.0h0M233.2 42.5h0M230.3 40.2h0M227.6 39.6h0M231.9 43.0h0M232.3 40.9h0M227.4 42.6h0M239.3 42.8h0M230.7 43.7h0M230.7 41.5h0M230.7 39.4h0M235.4 40.2h0M231.1 41.8h0M232.3 40.1h0M228.5 41.3h0M227.6 40.5h0M232.8 40.7h0M232.5 40.8h0M231.6 40.3h0M235.1 40.0h0M232.4 44.1h0M235.2 39.9h0M228.7 42.1h0M231.7 43.3h0M229.5 42.5h0M230.0 40.6h0M235.3 43.2h0M232.6 41.7h0M229.9 44.4h0M228.2 43.6h0M228.9 42.7h0M231.1 40.9h0M230.1 41.9h0M229.2 40.6h0M234.7 39.8h0M230.8 39.7h0M226.9 41.2h0M237.3 41.0h0M233.1 42.5h0M227.5 40.4h0M230.6 43.1h0M231.0 39.6h0M230.1 39.0h0M231.3 39.3h0M227.6 39.0h0M228.2 40.8h0M233.1 40.5h0M229.8 40.8h0M230.8 40.8h0M227.0 41.5h0M232.1 38.7h0M225.0 43.4h0M230.0 40.2h0M226.0 41.6h0M233.7 40.1h0M231.6 44.9h0M232.7 41.0h0M227.4 43.8h0M233.6 40.6h0M233.2 42.0h0M235.7 42.3h0M231.2 42.6h0M229.8 39.9h0M229.6 40.9h0M234.3 41.2h0M232.1 40.1h0M232.8 40.3h0M226.2 43.0h0M231.6 43.6h0M235.7 40.8h0M226.2 38.6h0M230.5 39.4h0M234.8 41.8h0M226.7 38.9h0M235.4 42.6h0M234.0 43.4h0M232.1 40.2h0M231.3 41.4h0M228.8 41.5h0M222.0 40.7h0M229.5 38.1h0M231.1 40.4h0M238.4 42.8h0M233.4 40.8h0M224.4 40.4h0M229.7 43.1h0M224.3 41.9h0M234.4 41.9h0M227.5 41.6h0M232.0 43.0h0M229.2 41.2h0M229.9 39.8h0M228.9 42.8h0M229.2 40.8h0M228.2 40.5h0M232.9 41.7h0M231.9 41.6h0M230.9 42.5h0M228.4 41.2h0M227.4 43.8h0M232.9 41.3h0M232.1 42.4h0M232.9 42.1h0M230.6 41.3h0M233.8 42.2h0M232.0 43.1h0M228.3 41.8h0M227.5 43.6h0M232.7 41.3h0M229.3 41.4h0M222.9 43.7h0M232.7 42.1h0M228.1 41.2h0M229.1 41.5h0M228.4 40.3h0M236.1 39.8h0M231.4 42.0h0M234.8 42.9h0M229.7 42.6h0M233.4 41.7h0M224.1 39.4h0M228.7 44.4h0M233.6 40.9h0M231.0 41.8h0M230.8 42.6h0M228.2 41.0h0M229.7 39.5h0M226.7 40.6h0M227.0 43.2h0M233.8 41.8h0M227.4 42.4h0M230.7 39.3h0M234.1 41.7h0M232.3 37.9h0M228.1 45.1h0M228.1 44.4h0M231.8 40.4h0M228.0 40.4h0M228.7 38.0h0M235.4 44.9h0M231.2 41.5h0M228.7 41.4h0M229.2 43.4h0M228.2 41.5h0M235.3 43.1h0M228.2 38.9h0M236.0 39.5h0M229.5 41.6h0M232.8 40.4h0M229.4 40.9h0M227.2 43.4h0M229.2 41.9h0M228.6 43.0h0M236.3 39.7h0M230.7 41.4h0M235.0 40.1h0M234.1 41.5h0M233.2 40.3h0M228.2 41.3h0M233.3 40.9h0M233.3 43.6h0M225.6 40.4h0M228.6 40.6h0M232.0 39.5h0M227.9 41.6h0M230.4 41.6h0M230.2 39.0h0M229.0 42.4h0M231.6 42.0h0M227.0 40.8h0M225.1 41.7h0M227.7 42.8h0M229.8 43.4h0M237.1 41.1h0M231.6 39.4h0M228.5 37.9h0M228.9 45.3h0M232.7 43.2h0M229.8 41.1h0M230.9 40.7h0M232.2 42.3h0M226.0 38.7h0M229.8 41.2h0M226.2 43.1h0M234.7 41.8h0M226.3 42.3h0M227.8 43.4h0M231.6 41.9h0M233.3 42.1h0M238.1 38.3h0M231.1 42.7h0M232.4 37.0h0M233.7 40.3h0M227.7 44.6h0M230.2 42.7h0M232.4 42.2h0M233.8 41.6h0M234.4 41.0h0M228.1 44.0h0M230.9 42.6h0M225.6 38.0h0M231.0 41.8h0M234.9 38.9h0M228.0 42.2h0M234.3 41.5h0M232.3 42.6h0M237.4 43.0h0M229.4 39.1h0M225.2 41.6h0M227.7 42.0h0M229.6 37.9h0M233.6 42.1h0M227.7 39.7h0M235.0 41.3h0M229.6 40.0h0M228.7 44.2h0M228.3 41.7h0M229.3 41.4h0M227.0 43.9h0M230.9 42.7h0M227.5 41.5h0M236.6 40.6h0M228.9 39.4h0M228.6 42.6h0M229.0 40.6h0M234.2 43.6h0M230.7 45.8h0M229.3 41.0h0M225.4 40.5h0M228.7 45.6h0M227.0 41.8h0M231.1 42.2h0M223.6 42.0h0M226.8 41.7h0M224.4 41.5h0M229.4 39.7h0M231.0 42.0h0M232.7 39.3h0M226.4 42.0h0M230.5 40.5h0M225.4 42.1h0M233.6 39.6h0M231.9 39.3h0M232.3 39.0h0M233.6 40.9h0M233.8 40.4h0M226.0 40.4h0M227.4 42.2h0M228.6 42.6h0M230.0 40.7h0M228.8 41.2h0M232.2 43.3h0M229.0 41.7h0M233.9 43.3h0M227.5 39.9h0M228.9 43.6h0M229.3 43.1h0M230.1 42.5h0M231.8 41.1h0M228.5 41.8h0M237.6 39.0h0M232.8 40.8h0M226.4 41.8h0M232.9 39.2h0M227.2 43.1h0M226.5 43.8h0M233.8 40.0h0M231.2 43.2h0M232.9 38.0h0M226.0 42.2h0M234.2 43.5h0M231.7 41.1h0M228.0 42.9h0M230.9 44.6h0M236.6 42.0h0M228.0 41.7h0M233.9 41.5h0M232.1 40.4h0M223.6 43.5h0M236.1 40.2h0M230.9 38.5h0M235.5 44.7h0M234.6 39.4h0M231.0 41.7h0M231.5 40.4h0M232.0 41.6h0M226.8 40.4h0M235.7 41.3h0M232.4 44.6h0M228.8 43.7h0M233.9 39.9h0M230.1 42.1h0M225.5 39.4h0M228.9 43.8h0M230.1 44.1h0M225.3 41.6h0M231.9 43.1h0M233.2 42.9h0M232.8 41.5h0M235.5 42.2h0M228.8 43.1h0M232.5 41.6h0M232.4 40.9h0M229.1 39.1h0M229.6 43.9h0M222.6 41.9h0M232.6 42.3h0M225.8 42.0h0M231.5 43.1h0M230.7 40.5h0M232.4 41.5h0M227.2 42.0h0M231.4 41.3h0M229.2 41.6h0M231.0 42.6h0M227.1 41.1h0M232.4 40.6h0M227.5 39.9h0M226.0 40.5h0M230.5 42.5h0M231.0 41.7h0M232.4 41.2h0M226.6 42.1h0M231.4 44.7h0M231.0 44.8h0M229.8 39.4h0M229.7 41.2h0M230.2 41.0h0M237.8 41.1h0M230.0 41.5h0M230.7 43.2h0M230.7 43.0h0M227.7 42.2h0M230.3 41.8h0M226.8 41.0h0M225.9 42.8h0M234.4 41.0h0M226.2 41.5h0M233.6 38.6h0M229.5 41.8h0M229.1 42.1h0M232.0 41.9h0M233.5 42.8h0M225.5 40.5h0M229.9 41.7h0M230.9 39.7h0M227.0 44.7h0M231.1 42.0h0M235.5 37.9h0M231.2 41.1h0M230.5 43.7h0M230.0 39.3h0M226.7 39.9h0M233.9 40.1h0M227.0 41.6h0M226.4 42.7h0M230.9 41.8h0M233.9 40.5h0M233.0 38.6h0M233.8 44.0h0M228.1 43.1h0M227.5 42.1h0M232.0 40.5h0M227.2 41.8h0M230.4 42.2h0M230.4 38.8h0M234.0 41.9h0M225.9 41.8h0M234.1 44.4h0M230.0 40.7h0M234.4 41.0h0M230.2 39.1h0M227.4 42.5h0M236.3 41.4h0M230.0 41.0h0M226.8 40.1h0M233.2 44.1h0M229.4 40.3h0M225.6 41.4h0M233.4 38.6h0M229.9 43.5h0M235.3 39.8h0M231.4 42.2h0M231.0 41.3h0M231.2 41.7h0M230.0 41.3h0M229.9 45.2h0M230.8 43.2h0M228.1 44.2h0M233.8 41.4h0M238.3 41.9h0M236.1 39.5h0M223.8 43.5h0M230.6 40.5h0M227.5 42.8h0M233.4 42.9h0M230.4 40.9h0M226.1 40.5h0M234.5 39.0h0M230.1 40.8h0M228.2 39.8h0M229.4 42.4h0M229.7 42.1h0M228.2 40.2h0M233.0 41.0h0M229.9 42.4h0M233.4 40.3h0M230.7 41.1h0M234.4 38.9h0M228.3 41.7h0M222.8 40.1h0M232.2 43.1h0M235.6 40.4h0M232.2 41.4h0M228.2 42.2h0M230.6 43.5h0M229.5 39.4h0M231.2 40.5h0M231.0 42.1h0M224.8 39.6h0M231.8 42.7h0M228.7 41.7h0M231.9 40.4h0M230.2 40.8h0M233.7 41.1h0M227.6 42.3h0M228.2 41.3h0M226.6 41.6h0M233.1 42.3h0M232.2 40.0h0M230.4 41.5h0M229.7 41.2h0M226.3 45.0h0M228.2 42.0h0M230.9 39.7h0M228.7 42.3h0M230.5 42.3h0M227.4 41.8h0M227.6 41.9h0M228.4 41.0h0M232.5 43.0h0M230.3 41.9h0M227.5 41.1h0M229.3 42.3h0M235.5 38.0h0M234.3 43.2h0M232.3 40.8h0M232.5 39.0h0M226.4 42.3h0M228.8 42.9h0M227.4 39.0h0M230.1 42.5h0M226.0 42.2h0M230.9 42.1h0M233.1 41.6h0M228.2 39.7h0M232.4 40.9h0M233.6 43.0h0M228.5 40.9h0M234.5 41.4h0M227.1 41.7h0M229.5 43.6h0M226.5 41.0h0M233.2 42.5h0M231.1 40.6h0M227.2 37.9h0M232.7 41.7h0M230.5 39.5h0M225.0 41.6h0M229.4 43.6h0M237.5 38.5h0M228.3 43.1h0M233.7 42.4h0M230.0 40.8h0M228.9 39.6h0M228.3 40.6h0M234.3 43.3h0M231.1 39.0h0M229.9 40.8h0M234.1 39.5h0M231.8 41.3h0M233.0 40.3h0M235.6 41.4h0M230.0 41.2h0M229.3 43.4h0M233.0 40.8h0M239.3 41.2h0M233.7 43.6h0M234.1 41.8h0M227.4 40.5h0M233.0 41.1h0M229.9 43.6h0M233.0 43.5h0M229.5 40.1h0M230.4 42.9h0M227.3 41.9h0M232.5 41.6h0M231.5 37.5h0M232.4 42.8h0M227.8 42.4h0M230.5 41.5h0M240.7 39.8h0M226.6 40.8h0M228.5 41.9h0M231.7 40.6h0M238.1 41.3h0M230.6 40.9h0M231.1 40.1h0M229.9 40.8h0M232.8 40.0h0M226.9 41.3h0M234.0 41.7h0M229.2 41.5h0M227.9 40.5h0M231.4 40.3h0M227.8 41.3h0M230.8 42.3h0M229.1 42.0h0M232.2 44.1h0M230.5 38.0h0M231.3 39.8h0M231.7 41.6h0M226.9 38.3h0M232.0 40.0h0M233.5 38.9h0M226.3 39.7h0M231.6 43.7h0M230.9 39.5h0M232.0 39.0h0M231.0 43.8h0M230.0 39.3h0M230.6 42.1h0M225.8 42.8h0M230.3 37.9h0M231.9 39.7h0M229.3 43.5h0M232.4 40.4h0M233.2 44.4h0M235.2 40.1h0M236.1 40.4h0M226.9 40.4h0M224.5 41.3h0M230.4 44.3h0M229.4 40.1h0M231.8 41.4h0M233.9 39.4h0M232.6 39.6h0M229.3 43.2h0M228.9 42.5h0M229.3 43.1h0M231.6 42.1h0M235.4 39.0h0M232.9 41.5h0M227.3 41.8h0M231.4 39.6h0M229.3 43.7h0M229.2 39.5h0M238.3 43.2h0M229.1 42.3h0M229.7 42.2h0M233.2 44.7h0M233.8 44.3h0M231.1 40.3h0M231.5 41.1h0M222.8 44.7h0M228.8 44.6h0M226.2 41.3h0M235.6 39.7h0M231.2 43.8h0M227.7 43.4h0M231.2 40.2h0M230.8 42.4h0M236.7 44.5h0M231.5 40.6h0M231.7 41.8h0M227.0 39.8h0M228.2 41.7h0M230.5 42.7h0M229.7 41.5h0M234.0 39.1h0M225.4 44.4h0M233.5 39.8h0M234.5 41.5h0M228.8 44.4h0M225.6 40.9h0M231.1 42.7h0M231.1 43.0h0M227.2 41.5h0M234.9 40.5h0M228.7 40.8h0M230.5 41.1h0M223.1 39.6h0M235.6 43.0h0M230.4 43.0h0M228.5 42.8h0M233.6 40.4h0M229.9 42.1h0M233.9 40.3h0M232.8 41.2h0M228.9 43.5h0M234.9 39.0h0M231.1 40.9h0M227.0 42.1h0M230.3 40.6h0M226.6 43.2h0M234.0 41.2h0M224.3 43.3h0M235.7 40.8h0M225.3 40.2h0M230.2 40.9h0M229.6 41.6h0M233.0 43.7h0M231.9 41.0h0M228.6 39.2h0M234.9 40.4h0M229.9 39.4h0M231.8 41.2h0M228.2 42.5h0M237.8 40.2h0M230.1 42.5h0M228.4 41.3h0M235.2 40.5h0M230.9 40.0h0M226.6 41.5h0M230.0 39.7h0M229.0 42.2h0M231.5 44.1h0M228.0 39.9h0M231.8 40.7h0M232.3 40.1h0M225.3 45.1h0M229.3 42.6h0M235.3 40.2h0M226.3 42.4h0M232.7 42.1h0M225.3 41.7h0M237.1 38.7h0M234.3 38.7h0M228.4 39.8h0M234.2 42.6h0M232.1 40.0h0M232.2 42.0h0M235.2 38.9h0M230.3 42.5h0M229.9 40.0h0M229.8 45.0h0M233.4 43.0h0M232.0 41.2h0M229.5 41.3h0M229.6 41.2h0M226.7 41.3h0M226.7 40.8h0M231.0 43.9h0M223.6 40.9h0M219.7 42.9h0M224.3 42.2h0M221.9 43.1h0M223.4 42.8h0M225.6 43.3h0M224.8 43.4h0M224.9 40.6h0M229.3 42.0h0M231.2 41.7h0M226.3 45.0h0M223.8 40.8h0M227.3 40.3h0M225.8 39.8h0M230.7 42.7h0M227.7 41.2h0M222.4 44.6h0M228.4 41.6h0M223.1 42.6h0M224.7 41.9h0M222.4 44.5h0M227.2 44.9h0M227.7 42.0h0M228.4 41.4h0M229.0 43.0h0M230.5 41.8h0M226.1 44.1h0M225.9 41.4h0M229.5 41.3h0M229.3 43.5h0M224.0 42.4h0M226.9 42.0h0M225.8 44.2h0M226.9 42.4h0M226.5 41.4h0M227.7 43.4h0M223.5 43.2h0M231.1 42.9h0M230.8 41.9h0M224.9 41.7h0M226.5 45.4h0M226.1 41.1h0M230.6 43.3h0M227.9 42.7h0M225.0 40.6h0M226.0 41.7h0M222.4 46.1h0M225.5 41.0h0M226.0 42.8h0M227.0 44.1h0M226.3 44.4h0M226.4 42.3h0M227.2 42.2h0M223.7 40.1h0M221.6 41.9h0M224.8 42.1h0M227.0 43.5h0M221.3 41.7h0M227.9 40.8h0M227.5 41.0h0M222.5 41.6h0M224.9 40.2h0M225.7 41.3h0M229.3 40.1h0M227.6 41.1h0M224.5 43.2h0M228.3 40.6h0M222.3 40.5h0M224.2 43.7h0M223.9 42.6h0M222.5 42.5h0M230.0 42.8h0M225.4 43.1h0M223.5 40.1h0M224.0 40.0h0M228.0 43.3h0M226.7 42.7h0M225.6 41.6h0M228.2 40.6h0M221.1 43.8h0M224.3 45.1h0M225.2 40.3h0M227.7 40.5h0M223.5 44.1h0M229.0 43.9h0M231.9 43.6h0M228.8 41.5h0M224.3 44.3h0M229.7 41.4h0M223.2 43.1h0M231.2 43.4h0M223.4 40.7h0M227.2 41.5h0M225.5 44.4h0M228.3 43.6h0M224.0 42.4h0M230.0 42.7h0M230.5 43.3h0M227.5 41.5h0M224.0 40.9h0M224.4 41.7h0M227.0 45.5h0M226.6 41.5h0M227.3 43.4h0M225.1 42.6h0M230.0 40.5h0M225.5 43.6h0M227.7 43.0h0M226.9 45.1h0M225.4 42.2h0M228.5 41.2h0M231.4 42.2h0M226.2 39.7h0M231.5 43.7h0M228.7 43.7h0M231.1 41.6h0M223.3 43.8h0M222.2 42.4h0M220.4 41.4h0M226.4 40.8h0M226.4 40.1h0M226.6 44.3h0M224.8 42.0h0M223.0 41.9h0M221.0 42.5h0M224.2 39.6h0M229.7 44.3h0M226.7 42.0h0M221.2 44.0h0M225.5 45.5h0M231.7 42.6h0M230.6 41.6h0M222.8 42.5h0M224.6 43.2h0M226.0 40.8h0M225.7 42.0h0M234.5 41.2h0M226.0 44.6h0M221.5 42.0h0M228.6 44.5h0M222.5 43.0h0M226.0 41.9h0M221.7 42.5h0M228.4 43.2h0M224.5 42.2h0M226.8 41.1h0M222.8 42.9h0M229.5 44.0h0M228.2 42.0h0M227.0 40.1h0M224.8 39.5h0M224.6 40.0h0M228.8 45.2h0M225.6 41.0h0M227.0 41.1h0M228.2 40.0h0M230.6 44.0h0M225.8 40.7h0M227.3 40.6h0M227.2 41.9h0M230.6 42.8h0M222.9 42.6h0M224.9 44.3h0M229.8 41.7h0M226.9 40.7h0M223.0 42.9h0M227.8 41.0h0M231.5 42.3h0M231.4 39.4h0M225.4 43.0h0M228.6 42.5h0M224.0 42.0h0M222.4 43.5h0M223.8 42.7h0M229.7 44.2h0M230.1 42.1h0M219.9 42.7h0M223.5 43.9h0M221.1 42.6h0M219.3 42.5h0M225.0 42.1h0M227.7 41.8h0M229.3 42.3h0M224.0 40.8h0M230.1 42.8h0M224.9 40.3h0M224.2 41.8h0M227.9 42.3h0M228.9 43.1h0M224.1 41.1h0M225.1 41.2h0M228.2 43.7h0M227.7 40.9h0M230.4 44.4h0M230.0 43.1h0M224.1 43.4h0M228.1 41.4h0M228.8 39.1h0M230.7 38.2h0M226.7 41.6h0M226.0 42.8h0M225.9 43.8h0M221.3 44.4h0M230.9 41.1h0M220.5 42.5h0M227.3 42.3h0M229.2 40.8h0M229.2 40.3h0M223.7 42.1h0M225.9 38.9h0M224.3 42.2h0M224.5 43.1h0M227.7 41.0h0M223.6 42.1h0M232.6 43.0h0M223.9 40.5h0M223.6 45.6h0M223.6 42.8h0M252.9 69.4h0M252.4 63.2h0M253.0 72.7h0M254.9 66.0h0M254.7 73.1h0M255.7 74.6h0M256.4 61.8h0M250.8 67.6h0M255.6 78.2h0M255.2 63.5h0M258.5 65.6h0M255.2 73.5h0M257.9 63.1h0M258.2 72.8h0M255.2 65.6h0M255.9 65.1h0M255.8 72.5h0M257.0 73.6h0M258.6 75.7h0M257.6 67.6h0M255.3 64.5h0M259.3 68.4h0M258.0 69.9h0M250.7 74.7h0M256.0 75.6h0M253.7 64.6h0M254.0 70.0h0M252.0 69.3h0M257.9 66.7h0M253.0 67.3h0M253.4 73.4h0M256.4 67.7h0M252.5 67.2h0M254.5 71.5h0M257.0 72.2h0M255.9 79.5h0M253.3 69.2h0M253.9 65.9h0M252.0 70.8h0M253.7 75.1h0M256.1 68.7h0M256.4 64.3h0M256.1 62.6h0M258.5 62.2h0M255.1 71.8h0M256.1 65.9h0M254.7 75.6h0M255.2 67.1h0M254.3 63.7h0M255.5 69.2h0M254.9 75.5h0M251.9 79.8h0M259.5 76.9h0M256.7 68.7h0M256.2 72.6h0M259.7 71.8h0M256.0 76.1h0M256.2 73.4h0M255.8 70.6h0M254.1 65.6h0M257.3 77.3h0M257.1 76.6h0M255.9 73.8h0M259.1 61.8h0M256.5 60.0h0M254.8 69.4h0M253.5 76.5h0M254.5 66.1h0M256.2 62.6h0M254.6 70.9h0M252.7 78.6h0M258.8 67.1h0M253.2 61.5h0M257.3 72.7h0M252.4 68.6h0M253.6 74.3h0M252.7 74.2h0M254.7 69.8h0M254.4 65.5h0M252.2 71.2h0M254.2 65.1h0M257.2 63.3h0M254.1 72.3h0M252.6 60.8h0M256.0 75.6h0M255.8 73.7h0M256.0 75.2h0M255.3 68.2h0M258.1 72.5h0M257.0 69.7h0M258.9 73.1h0M255.7 61.4h0M255.3 70.9h0M256.3 73.4h0M257.2 65.7h0M257.7 67.8h0M257.4 65.4h0M253.2 63.9h0M257.7 73.4h0M256.0 63.1h0M253.2 76.3h0M254.1 75.5h0M253.3 77.2h0M254.9 67.4h0M255.7 68.8h0M252.9 75.4h0M255.5 65.9h0M253.3 68.8h0M256.1 69.6h0M255.3 73.8h0M256.4 76.9h0M255.6 69.5h0M256.5 66.1h0M253.0 75.6h0M255.4 68.5h0M258.1 68.8h0M254.4 63.0h0M253.0 72.0h0M255.0 72.5h0M258.2 71.9h0M255.9 72.4h0M256.0 73.2h0M257.2 61.2h0M256.0 77.2h0M255.3 77.6h0M256.8 66.2h0M255.3 69.9h0M254.5 68.1h0M254.0 67.5h0M257.8 72.1h0M257.4 65.5h0M256.9 74.3h0M257.3 69.9h0M257.0 57.2h0M256.7 78.9h0M257.4 65.1h0M259.2 70.2h0M255.9 74.3h0M255.3 72.6h0M255.3 77.5h0M257.1 63.5h0M254.0 71.3h0M254.5 66.8h0M255.1 67.1h0M256.6 68.8h0M256.8 73.5h0M254.3 66.0h0M256.5 68.6h0M255.4 73.4h0M256.2 71.6h0M255.8 68.5h0M254.6 66.3h0M256.8 79.0h0M253.4 69.1h0M254.7 69.6h0M257.7 66.5h0M253.4 64.9h0M255.0 79.4h0M255.7 70.8h0M255.5 73.6h0M259.6 68.7h0M256.3 71.6h0M253.9 65.4h0M253.5 60.9h0M254.7 66.9h0M255.7 73.2h0M254.0 63.2h0M254.9 67.0h0M253.2 70.6h0M256.9 74.2h0M256.1 73.2h0M252.3 66.7h0M253.0 71.7h0M256.3 60.5h0M254.7 77.4h0M256.5 68.7h0M257.4 74.9h0M255.3 67.1h0M254.9 74.0h0M257.6 71.2h0M254.7 75.8h0M255.3 70.2h0M254.4 65.4h0M253.2 72.3h0M253.2 74.4h0M255.2 67.6h0M260.6 64.9h0M255.5 73.3h0M255.9 65.6h0M252.2 71.2h0M254.3 70.6h0M253.3 74.1h0M256.7 73.0h0M253.5 75.3h0M256.4 66.5h0M255.6 68.8h0M255.8 79.2h0M255.3 79.8h0M255.2 67.3h0M255.6 65.4h0M258.1 64.8h0M257.8 70.6h0M254.6 78.8h0M256.5 65.5h0M256.0 77.8h0M255.8 63.6h0M252.3 76.8h0M253.3 71.6h0M256.4 71.4h0M256.5 64.2h0M255.8 71.4h0M254.2 79.2h0M256.0 71.1h0M255.4 58.2h0M254.8 62.7h0M253.0 64.7h0M255.2 66.7h0M255.3 69.6h0M252.8 73.9h0M250.2 74.2h0M254.3 70.2h0M255.3 74.5h0M259.9 70.8h0M256.6 60.1h0M252.9 61.9h0M255.9 75.8h0M256.6 65.8h0M254.1 74.0h0M256.4 73.9h0M252.8 72.4h0M254.2 67.8h0M255.3 72.3h0M253.8 72.8h0M255.7 65.9h0M254.4 74.8h0M258.1 69.1h0M256.2 78.7h0M256.7 73.8h0M255.7 68.2h0M252.8 74.2h0M255.2 70.2h0M259.1 72.1h0M254.0 62.6h0M253.5 69.3h0M253.4 76.8h0M256.7 77.4h0M257.1 72.5h0M257.0 61.7h0M252.5 68.0h0M255.4 77.4h0M251.5 65.6h0M255.7 66.6h0M254.0 73.8h0M257.7 62.6h0M255.0 67.2h0M255.7 72.3h0M257.2 72.5h0M254.6 64.2h0M255.5 74.9h0M251.8 64.5h0M256.7 63.8h0M256.3 76.5h0M255.2 80.2h0M252.9 60.8h0M253.0 76.7h0M251.9 61.9h0M253.6 64.1h0M252.4 63.2h0M256.0 71.1h0M255.3 71.0h0M252.9 60.6h0M257.5 71.4h0M253.0 77.9h0M254.0 70.3h0M255.8 63.4h0M257.0 79.2h0M255.3 71.0h0M253.0 62.8h0M254.6 60.5h0M256.9 63.1h0M254.9 60.3h0M256.1 73.1h0M258.2 74.4h0M257.8 73.5h0M250.8 63.6h0M253.7 71.4h0M254.5 65.6h0M255.8 78.3h0M259.5 64.5h0M251.7 63.0h0M257.6 68.8h0M255.2 68.3h0M255.3 72.1h0M255.9 81.2h0M257.0 72.7h0M255.3 73.2h0M253.6 76.1h0M255.4 65.7h0M255.5 65.7h0M252.5 69.0h0M253.3 73.1h0M253.9 64.5h0M256.1 77.2h0M256.1 78.9h0M257.4 69.9h0M256.5 67.6h0M257.1 74.1h0M253.0 65.0h0M255.8 79.8h0M254.9 68.1h0M257.8 71.3h0M257.4 65.6h0M256.8 63.1h0M254.6 66.9h0M257.5 74.1h0M254.2 66.6h0M258.4 75.2h0M256.1 65.1h0M255.4 73.8h0M256.4 77.5h0M257.5 79.9h0M256.9 62.9h0M252.3 78.5h0M253.4 74.8h0M252.9 72.6h0M256.8 69.8h0M253.8 75.5h0M252.8 72.1h0M256.7 77.5h0M257.6 71.4h0M255.3 69.1h0M254.9 80.0h0M253.2 73.7h0M256.8 79.2h0M255.8 62.2h0M255.2 72.3h0M257.7 64.4h0M256.5 67.0h0M256.3 60.0h0M257.8 67.5h0M255.2 67.2h0M255.6 70.5h0M258.6 77.5h0M254.6 71.4h0M259.4 77.9h0M253.6 69.3h0M256.6 72.2h0M257.2 72.0h0M257.6 70.8h0M259.8 58.8h0M257.6 66.5h0M256.1 67.0h0M255.3 74.3h0M255.2 68.7h0M256.9 72.6h0M256.6 74.2h0M256.1 71.4h0M254.3 69.0h0M254.9 72.6h0M256.6 80.9h0M256.2 72.9h0M257.0 72.4h0M255.7 63.7h0M250.1 63.6h0M254.0 69.9h0M253.9 73.0h0M253.0 73.1h0M256.1 72.6h0M253.6 72.7h0M255.6 78.9h0M255.3 67.4h0M253.7 69.5h0M255.1 76.3h0M257.4 76.7h0M251.7 62.6h0M256.8 78.9h0M252.1 69.7h0M254.9 62.2h0M253.2 66.2h0M257.1 79.7h0M254.4 63.2h0M254.4 64.9h0M255.1 72.7h0M256.4 72.3h0M252.0 72.4h0M257.5 76.9h0M253.2 69.4h0M258.2 73.4h0M256.1 72.2h0M256.6 66.2h0M254.2 71.5h0M253.0 69.6h0M255.3 71.2h0M254.4 65.6h0M256.6 69.0h0M255.1 72.6h0M256.1 66.3h0M257.5 76.0h0M256.9 66.3h0M257.1 71.0h0M255.1 66.1h0M258.5 69.7h0M253.6 68.9h0M255.9 69.2h0M259.4 67.4h0M250.4 75.2h0M256.1 70.2h0M256.7 70.9h0M253.2 64.1h0M257.7 69.4h0M253.9 69.0h0M254.5 79.9h0M255.9 67.4h0M256.5 75.7h0M253.0 76.4h0M256.1 66.3h0M253.1 65.3h0M251.4 63.7h0M253.5 64.9h0M256.2 66.8h0M256.7 75.5h0M257.7 66.2h0M258.4 78.1h0M255.0 67.0h0M259.8 67.8h0M255.9 71.2h0M257.9 69.3h0M256.1 77.3h0M257.2 76.5h0M254.6 68.9h0M254.9 69.1h0M255.3 73.6h0M258.0 64.4h0M253.3 64.9h0M252.3 65.2h0M255.1 79.0h0M253.8 77.8h0M253.5 78.0h0M256.0 71.6h0M255.9 73.8h0M254.9 71.4h0M255.7 62.9h0M256.9 74.6h0M253.7 67.1h0M255.0 69.3h0M254.9 78.0h0M254.7 72.6h0M256.8 66.0h0M255.5 74.1h0M254.2 62.8h0M254.9 64.9h0M257.2 77.2h0M256.3 71.3h0M253.1 72.9h0M254.4 69.7h0M258.9 69.3h0M255.9 72.8h0M256.9 68.4h0M255.4 62.3h0M254.3 75.8h0M252.2 60.0h0M254.2 79.2h0M257.8 80.9h0M254.6 60.2h0M260.2 70.0h0M251.8 71.6h0M258.1 73.4h0M256.7 74.7h0M255.5 66.5h0M254.3 75.8h0M253.9 77.3h0M252.7 65.0h0M253.4 65.7h0M253.5 63.5h0M254.5 68.1h0M257.0 64.8h0M255.4 64.9h0M256.7 71.2h0M252.5 67.9h0M255.6 73.1h0M254.4 65.8h0M258.1 67.8h0M255.4 66.7h0M257.0 69.2h0M256.6 70.1h0M256.8 77.3h0M255.9 69.1h0M252.1 62.9h0M254.1 66.9h0M257.3 73.8h0M253.8 70.0h0M252.7 62.7h0M254.4 64.0h0M257.6 68.6h0M251.6 80.0h0M254.8 68.8h0M253.7 67.6h0M254.7 62.2h0M256.6 69.8h0M253.8 66.6h0M255.1 72.1h0M255.0 68.8h0M256.2 71.9h0M255.4 68.7h0M255.7 70.0h0M258.9 63.7h0M253.9 65.8h0M260.0 73.6h0M255.9 68.5h0M256.8 72.5h0M257.8 72.2h0M255.3 61.3h0M256.9 70.9h0M257.9 69.7h0M254.9 78.2h0M255.4 68.0h0M256.8 67.8h0M256.5 67.2h0M254.6 66.8h0M256.7 65.7h0M252.6 76.0h0M257.3 68.2h0M259.5 66.3h0M252.2 71.3h0M255.6 65.2h0M256.2 67.6h0M256.8 74.7h0M255.6 75.7h0M256.8 66.3h0M257.6 57.2h0M251.8 75.3h0M256.8 80.0h0M256.3 68.5h0M251.1 73.8h0M254.0 78.6h0M255.4 73.4h0M255.9 68.6h0M254.6 63.1h0M253.2 68.3h0M256.9 64.5h0M258.0 63.1h0M255.5 62.7h0M257.5 71.0h0M253.6 64.0h0M256.1 74.7h0M253.7 65.4h0M252.9 73.9h0M254.0 71.1h0M255.3 73.6h0M256.7 79.9h0M258.4 77.8h0M254.1 77.8h0M256.8 73.6h0M256.2 74.4h0M253.6 65.6h0M254.5 70.7h0M257.5 73.7h0M251.3 62.6h0M256.9 76.7h0M256.3 80.3h0M254.9 68.0h0M255.7 77.6h0M255.1 65.6h0M258.1 78.5h0M253.1 72.3h0M258.0 76.6h0M256.7 63.0h0M254.5 72.8h0M253.8 71.8h0M258.8 75.4h0M254.6 74.6h0M252.9 64.8h0M254.7 79.8h0M256.1 76.7h0M255.0 66.8h0M257.4 68.6h0M256.2 63.6h0M253.7 79.8h0M255.6 75.3h0M255.5 70.1h0M257.2 67.2h0M254.1 75.0h0M256.6 71.5h0M253.6 60.7h0M255.5 64.8h0M253.5 62.2h0M255.1 69.2h0M254.1 76.5h0M250.9 76.6h0M256.1 70.3h0M256.7 64.6h0M259.2 75.6h0M255.2 75.1h0M253.8 75.4h0M255.3 77.4h0M251.9 77.9h0M254.8 65.3h0M255.5 68.0h0M255.4 66.8h0M251.5 76.5h0M254.5 70.3h0M257.8 67.8h0M253.2 83.6h0M255.0 60.3h0M255.3 72.6h0M255.1 73.6h0M256.5 76.4h0M252.7 61.9h0M260.0 76.9h0M257.3 60.6h0M253.2 73.4h0M257.3 74.0h0M255.5 65.4h0M257.4 66.4h0M252.9 73.2h0M256.3 73.0h0M254.8 70.3h0M256.6 68.6h0M257.9 67.3h0M254.3 73.2h0M251.8 73.8h0M254.5 69.4h0M252.8 76.0h0M256.7 72.2h0M251.9 70.9h0M251.4 70.9h0M255.7 67.8h0M255.3 71.7h0M255.9 69.9h0M253.2 65.1h0M253.8 66.2h0M253.3 66.9h0M254.5 79.8h0M254.0 61.7h0M256.1 61.5h0M256.5 59.9h0M255.9 72.0h0M257.4 76.8h0M254.8 72.8h0M255.1 72.2h0M254.2 63.5h0M254.6 72.7h0M253.8 68.6h0M258.2 77.3h0M255.8 77.3h0M254.9 68.1h0M257.4 72.6h0M257.9 76.8h0M257.3 65.6h0M254.0 70.2h0M254.3 70.2h0M256.1 68.7h0M252.6 77.5h0M253.3 66.1h0M257.4 76.4h0M253.4 66.2h0M257.6 70.3h0M253.6 65.5h0M255.6 73.4h0M254.9 76.4h0M256.8 73.1h0M254.9 75.7h0M254.2 63.9h0M258.0 70.3h0M255.2 67.9h0M255.5 74.8h0M254.4 75.3h0M257.0 76.7h0M254.4 61.8h0M256.5 68.6h0M259.6 66.9h0M255.0 69.3h0M256.0 68.3h0M259.9 65.2h0M255.8 63.2h0M256.9 74.8h0M254.2 72.0h0M254.9 75.2h0M254.0 79.2h0M260.0 71.5h0M257.0 62.4h0M255.3 69.3h0M254.3 74.1h0M255.5 65.6h0M254.6 72.1h0M257.2 79.0h0M257.4 70.4h0M254.7 77.1h0M252.1 64.5h0M254.8 73.3h0M259.8 64.3h0M253.0 61.2h0M254.1 67.0h0M258.1 71.5h0M254.1 70.5h0M257.8 76.1h0M255.8 76.9h0M256.8 65.7h0M252.6 72.5h0M259.2 72.9h0M255.5 66.2h0M255.3 78.0h0M254.6 77.8h0M253.6 74.9h0M254.3 68.5h0M253.7 64.3h0M255.2 73.2h0M254.7 71.4h0M253.8 61.9h0M253.6 70.3h0M251.2 65.9h0M253.6 60.6h0M254.5 70.3h0M258.5 74.8h0M256.0 71.7h0M255.3 65.8h0M256.1 61.0h0M258.4 62.7h0M255.1 66.3h0M255.3 76.6h0M255.0 65.5h0M255.4 70.7h0M256.8 74.1h0M254.9 69.6h0M257.3 72.6h0M253.9 75.1h0M255.6 70.2h0M255.0 73.4h0M258.8 70.4h0M257.1 69.4h0M254.7 74.0h0M257.7 79.1h0M255.0 66.6h0M256.6 69.9h0M255.9 79.3h0M255.6 57.9h0M258.5 72.0h0M257.0 74.2h0M256.7 62.4h0M253.7 61.8h0M259.9 65.0h0M256.2 71.6h0M253.6 75.7h0M256.4 71.7h0M254.2 60.8h0M258.8 75.9h0M252.3 77.2h0M252.4 68.7h0M254.8 68.6h0M252.3 72.2h0M257.9 79.5h0M257.7 75.3h0M255.2 74.9h0M257.2 68.7h0M258.0 68.4h0M256.7 70.4h0M252.9 74.7h0M254.2 66.2h0M258.5 63.7h0M255.7 78.3h0M256.4 63.5h0M255.2 74.3h0M255.1 66.0h0M252.5 71.1h0M253.1 74.9h0M253.9 66.0h0M253.0 70.9h0M254.5 70.5h0M250.7 73.9h0M255.1 68.9h0M255.3 71.9h0M255.5 79.9h0M255.1 63.7h0M257.6 69.6h0M253.1 75.0h0M255.4 72.2h0M257.0 72.3h0M256.5 69.9h0M256.8 78.4h0M253.2 72.5h0M253.5 77.1h0M256.1 63.7h0M255.1 70.7h0M253.3 72.7h0M253.0 63.4h0M255.1 79.0h0M257.8 62.5h0M256.2 79.5h0M255.1 75.8h0M255.0 77.6h0M258.5 71.8h0M259.3 70.7h0M253.3 75.0h0M254.1 67.9h0M256.7 72.8h0M258.4 71.0h0M255.7 76.8h0M255.2 62.5h0M254.1 69.9h0M259.0 74.2h0M261.0 74.7h0M256.8 68.2h0M253.0 65.2h0M256.3 72.6h0M256.9 76.5h0M255.5 74.9h0M253.7 69.9h0M257.7 69.3h0M254.6 63.6h0M256.4 64.3h0M257.1 62.7h0M256.8 67.2h0M255.6 74.4h0M253.0 62.9h0M257.6 72.9h0M256.3 73.9h0M252.6 66.1h0M255.2 75.4h0M253.5 75.9h0M254.1 68.6h0M255.5 75.7h0M255.2 72.9h0M255.7 69.5h0M255.6 75.0h0M254.7 78.1h0M256.4 67.3h0M255.6 77.8h0M254.7 63.4h0M257.1 62.5h0M255.0 74.7h0M255.6 68.0h0M255.9 69.7h0M255.4 72.1h0M256.0 70.7h0M254.6 64.6h0M256.4 73.4h0M257.0 68.9h0M255.5 76.5h0M259.2 75.2h0M255.2 76.5h0M256.9 76.2h0M255.9 67.2h0M256.5 76.1h0M255.1 60.4h0M254.6 67.3h0M253.8 64.1h0M257.9 71.5h0M253.0 74.6h0M254.8 64.5h0M256.8 69.4h0M258.6 64.4h0M255.9 70.3h0M254.4 68.8h0M253.0 73.1h0M254.6 73.7h0M253.1 62.5h0M256.2 75.8h0M253.9 67.6h0M255.3 68.2h0M257.1 77.1h0M251.2 79.4h0M253.9 75.4h0M256.1 64.9h0M254.5 73.0h0M254.2 71.7h0M256.1 64.4h0M254.4 70.4h0M255.5 67.3h0M257.0 67.0h0M252.3 78.0h0M253.1 73.3h0M254.7 62.8h0M252.0 74.5h0M256.4 70.9h0M252.3 70.7h0M256.1 67.6h0M257.6 73.2h0M257.3 67.1h0M258.3 59.9h0M257.0 75.2h0M255.5 71.9h0M257.4 63.9h0M256.3 70.2h0M253.2 64.3h0M253.6 71.1h0M257.1 75.1h0M254.5 77.5h0M251.6 70.6h0M250.7 62.9h0M254.3 71.6h0M258.3 66.7h0M256.9 68.7h0M254.8 67.7h0M254.5 73.0h0M256.7 70.3h0M254.0 69.5h0M256.5 60.1h0M254.4 70.4h0M253.5 60.8h0M258.9 75.5h0M257.5 74.0h0M255.3 63.8h0M252.0 70.1h0M255.5 67.3h0M256.0 63.2h0M255.2 71.6h0M255.7 75.2h0M253.7 68.8h0M254.7 64.7h0M257.1 76.1h0M257.9 72.0h0M256.1 72.1h0M255.4 70.5h0M254.4 66.0h0M254.2 61.6h0M254.0 79.2h0M257.1 72.5h0M252.9 69.8h0M255.3 68.1h0M251.2 77.4h0M255.7 67.8h0M257.9 75.6h0M256.2 59.6h0M251.4 71.8h0M255.0 69.3h0M261.7 80.0h0M256.7 75.6h0M257.6 63.6h0M255.8 74.1h0M253.9 63.4h0M255.5 70.5h0M256.1 66.9h0M253.1 71.7h0M257.5 72.9h0M254.5 67.8h0M256.3 67.7h0M255.3 70.0h0M250.9 74.9h0M256.4 71.9h0M255.0 67.5h0M256.7 62.7h0M256.3 60.3h0M254.0 71.6h0M257.7 70.6h0M257.6 69.6h0M254.2 70.4h0M256.8 68.9h0M256.8 65.2h0M254.6 70.8h0M257.3 73.7h0M255.4 62.3h0M255.3 63.0h0M253.9 74.4h0M253.4 68.6h0M256.9 65.6h0M256.2 71.7h0M251.2 76.0h0M252.3 61.0h0M256.4 65.3h0M256.1 61.1h0M257.0 77.1h0M254.2 69.5h0M254.5 65.2h0M257.0 67.5h0M257.0 73.8h0M255.0 75.5h0M255.9 72.0h0M257.0 61.6h0M254.3 59.5h0M253.8 75.0h0M255.4 77.8h0M257.6 71.5h0M256.4 69.2h0M254.8 69.6h0M256.2 61.2h0M260.2 64.6h0M252.5 76.8h0M257.8 72.4h0M253.0 75.7h0M254.6 65.2h0M258.6 80.3h0M252.0 70.3h0M257.5 69.3h0M257.8 62.8h0M259.1 68.5h0M255.9 63.3h0M252.2 60.6h0M255.2 72.0h0M254.4 60.4h0M251.0 66.5h0M259.8 73.0h0M252.0 64.0h0M252.3 70.2h0M255.7 67.9h0M254.2 77.0h0M257.1 70.3h0M255.0 73.9h0M254.8 69.0h0M254.5 62.5h0M254.1 70.3h0M255.7 63.7h0M254.7 67.5h0M257.0 72.5h0M255.0 75.2h0M254.9 68.9h0M255.1 66.6h0M259.0 77.0h0M257.2 69.4h0M254.9 80.8h0M255.5 63.1h0M256.5 64.1h0M255.9 65.3h0M259.1 64.5h0M254.7 76.2h0M253.1 70.4h0M256.3 72.0h0M253.3 78.0h0M259.4 77.5h0M252.0 77.7h0M256.6 72.5h0M260.7 73.0h0M253.9 65.7h0M259.7 69.2h0M254.3 75.5h0M258.4 68.2h0M257.4 66.1h0M253.3 70.5h0M253.0 68.1h0M253.9 60.3h0M257.0 65.8h0M250.3 64.8h0M257.4 78.3h0M258.6 76.5h0M254.5 72.0h0M256.7 75.5h0M256.7 74.2h0M253.3 68.0h0M252.5 73.5h0M254.9 73.9h0M253.1 61.8h0M251.0 64.9h0M256.2 71.0h0M256.6 60.1h0M257.9 63.4h0M254.7 78.7h0M252.4 63.1h0M256.3 72.7h0M256.3 62.0h0M254.9 63.1h0M257.0 71.0h0M253.1 73.8h0M257.1 76.6h0M256.7 70.3h0M258.7 68.6h0M251.6 61.7h0M252.9 66.8h0M252.3 72.5h0M257.3 73.2h0M252.7 72.1h0M253.7 58.6h0M257.0 76.1h0M253.8 68.7h0M259.0 64.6h0M258.4 66.4h0M256.5 77.6h0M257.7 74.4h0M254.4 65.2h0M255.2 68.4h0M255.3 63.1h0M255.5 65.7h0M254.1 63.1h0M256.7 67.6h0M254.2 72.3h0M256.9 79.8h0M254.2 74.9h0M254.0 75.4h0M258.0 73.3h0M257.5 62.0h0M254.2 59.2h0M253.9 65.1h0M255.9 71.9h0M254.1 75.3h0M259.9 65.5h0M260.2 77.1h0M255.4 69.2h0M255.9 76.6h0M253.8 77.6h0M256.3 64.2h0M256.4 63.4h0M252.4 72.5h0M256.7 66.8h0M257.3 76.5h0M253.7 66.1h0M257.5 71.3h0M252.1 70.7h0M255.3 70.4h0M254.6 74.0h0M256.5 67.5h0M257.4 79.5h0M259.4 74.5h0M254.8 79.9h0M255.7 83.8h0M252.6 77.9h0M256.7 87.1h0M253.9 83.4h0M258.2 79.7h0M254.6 80.3h0M257.6 78.4h0M256.3 78.5h0M257.3 80.9h0M255.8 84.7h0M257.3 82.6h0M257.0 80.0h0M254.2 81.2h0M253.8 78.1h0M253.4 82.8h0M254.6 79.2h0M258.3 81.6h0M253.4 81.0h0M255.0 79.4h0M256.7 80.2h0M256.5 84.3h0M257.4 86.2h0M258.3 77.9h0M257.3 81.1h0M253.9 81.2h0M257.9 83.1h0M254.4 86.8h0M256.7 83.5h0M254.2 83.6h0M254.4 86.2h0M256.7 81.3h0M257.0 79.6h0M254.3 79.8h0M252.7 80.3h0M254.9 82.8h0M255.1 80.4h0M256.1 84.1h0M253.2 83.4h0M254.7 84.8h0M255.2 82.1h0M259.2 78.4h0M255.0 79.8h0M253.6 83.3h0M255.7 87.6h0M258.0 84.4h0M256.6 85.2h0M256.1 84.7h0M253.8 82.3h0M256.1 80.3h0M254.6 78.1h0M258.3 81.0h0M254.4 79.1h0M253.1 79.6h0M256.8 80.2h0M256.3 87.2h0M254.0 82.0h0M253.5 83.4h0M257.3 79.3h0M255.2 81.4h0M257.9 79.1h0M256.6 78.7h0M256.8 80.6h0M252.2 86.3h0M256.2 81.5h0M255.1 85.1h0M256.4 85.3h0M255.1 79.3h0M258.0 82.9h0M257.3 81.1h0M254.7 82.7h0M257.0 81.2h0M254.7 80.2h0M259.3 76.0h0M256.7 80.2h0M256.5 83.7h0M254.1 87.2h0M252.9 80.3h0M255.4 85.9h0M256.0 82.3h0M256.2 80.6h0M259.4 82.0h0M252.0 79.4h0M255.6 80.3h0M257.5 79.1h0M256.7 86.8h0M256.7 86.1h0M256.8 82.2h0M256.1 78.1h0M255.6 83.6h0M254.3 78.2h0M254.2 81.2h0M253.3 83.2h0M254.6 79.6h0M255.8 78.7h0M255.3 84.5h0M255.5 79.9h0M254.0 78.2h0M257.2 86.4h0M254.1 86.0h0M252.7 79.4h0M254.5 86.0h0M258.4 80.6h0M254.4 84.7h0M255.4 84.3h0M253.2 77.7h0M254.4 84.8h0M256.7 80.0h0M256.4 83.3h0M254.6 78.5h0M257.9 85.3h0M256.6 80.2h0M253.9 83.1h0M255.8 76.6h0M257.4 76.4h0M254.8 78.5h0M255.2 80.7h0M254.5 87.6h0M255.1 82.3h0M256.8 83.0h0M254.5 78.0h0M255.4 83.1h0M254.4 80.6h0M254.9 83.1h0M255.6 81.4h0M254.8 81.5h0M255.0 79.5h0M255.5 85.8h0M254.8 82.5h0M253.1 82.2h0M254.8 79.3h0M254.2 83.3h0M255.7 85.6h0M256.7 82.9h0M257.3 76.8h0M255.2 82.7h0M254.6 80.7h0M259.0 78.2h0M257.3 77.5h0M256.2 82.7h0M255.6 79.4h0M255.8 84.9h0M258.8 82.5h0M253.5 86.0h0M257.1 84.0h0M256.9 85.0h0M254.7 81.5h0M253.5 79.6h0M255.1 78.0h0M254.8 81.9h0M255.6 86.9h0M257.1 84.2h0M259.0 86.0h0M255.6 80.2h0M254.7 86.4h0M257.2 82.2h0M255.5 80.6h0M255.2 83.2h0M254.7 79.2h0M256.7 85.1h0M255.3 82.7h0M255.5 85.8h0M256.3 81.6h0M254.6 84.7h0M255.4 85.8h0M254.8 80.7h0M258.2 82.1h0M253.7 82.6h0M258.4 83.2h0M254.5 85.4h0M257.8 81.4h0M255.1 80.8h0M254.0 79.9h0M256.4 84.0h0M255.6 80.4h0M255.1 83.2h0M255.4 77.8h0M255.7 83.7h0M254.2 87.3h0M255.2 81.8h0M257.8 81.8h0M255.6 82.6h0M253.3 86.3h0M255.7 79.1h0M254.5 84.4h0M255.9 82.0h0M255.8 85.9h0M254.8 79.5h0M256.1 80.0h0M256.2 83.7h0M257.1 87.7h0M256.9 77.9h0M254.4 81.5h0M256.6 82.3h0M254.7 81.9h0M255.1 80.1h0M254.5 86.8h0M253.5 80.8h0M253.8 79.9h0M256.0 85.8h0M255.6 79.3h0M258.1 84.7h0M255.9 81.9h0M256.3 79.2h0M255.5 80.7h0M255.9 82.7h0M256.2 85.4h0M255.9 80.1h0M254.7 77.8h0M255.5 79.0h0M254.5 83.7h0M258.4 85.7h0M255.4 83.3h0M254.1 80.6h0M254.8 81.1h0M252.4 86.7h0M254.1 80.4h0M256.8 86.7h0M256.0 84.0h0M255.2 78.0h0M257.0 84.2h0M255.5 81.6h0M255.6 87.5h0M256.4 83.6h0M252.7 80.4h0M258.8 84.8h0M254.5 83.1h0M257.6 81.8h0M255.3 82.3h0M255.7 79.3h0M255.3 87.8h0M257.7 83.8h0M255.2 82.4h0M255.2 80.2h0M256.5 82.9h0M252.9 87.1h0M253.2 80.3h0M256.6 81.3h0M254.4 86.9h0M256.7 78.9h0M254.7 84.3h0M254.4 78.7h0M257.5 82.8h0M252.6 79.4h0M256.0 81.4h0M257.6 79.8h0M257.8 78.4h0M256.9 79.1h0M256.4 82.3h0M256.3 84.8h0M255.1 82.6h0M258.1 82.2h0M254.0 79.3h0M255.1 86.3h0M255.7 80.8h0M255.5 78.7h0M254.7 80.4h0M255.9 79.6h0M257.0 79.2h0M257.2 82.3h0M255.4 85.5h0M256.0 85.6h0M255.5 78.9h0M256.4 85.8h0M255.3 77.3h0M256.0 85.2h0M253.9 81.1h0M255.8 83.6h0M256.8 79.0h0M253.8 83.1h0M257.1 84.0h0M258.2 77.1h0M255.7 81.8h0M255.6 81.5h0M253.8 82.2h0M254.1 83.7h0M256.6 81.3h0M255.3 85.6h0M254.0 80.5h0M255.5 82.2h0M253.7 78.5h0M253.5 77.8h0M256.5 85.4h0M256.4 83.0h0M257.7 80.7h0M253.8 83.4h0M254.5 78.5h0M256.9 80.8h0M254.5 80.0h0M255.7 80.9h0M257.8 80.3h0M255.5 87.4h0M254.8 86.4h0M256.6 79.4h0M255.5 84.8h0M256.6 82.6h0M257.1 84.2h0M256.5 83.3h0M256.4 83.0h0M254.7 81.1h0M256.7 81.1h0M254.4 84.2h0M254.3 78.2h0M258.0 79.8h0M255.7 78.0h0M255.1 82.3h0M255.2 79.1h0M252.2 77.2h0M257.0 84.9h0M253.7 86.6h0M252.9 81.1h0M255.6 82.9h0M255.1 85.1h0M255.3 81.8h0M254.3 83.9h0M254.8 77.6h0M255.3 83.7h0M255.8 80.8h0M254.6 80.3h0M257.1 78.1h0M255.9 81.5h0M257.7 87.2h0M254.7 79.7h0M254.5 87.4h0M256.9 82.3h0M255.1 82.5h0M253.9 83.7h0M255.2 84.1h0M256.5 84.3h0M258.1 80.7h0M253.6 80.4h0M254.5 75.1h0M257.8 79.2h0M255.7 81.8h0M256.4 86.7h0M258.2 83.4h0M257.9 84.2h0M255.6 83.0h0M254.7 85.5h0M257.2 87.5h0M254.0 86.9h0M255.8 83.4h0M256.1 78.5h0M254.1 78.4h0M258.8 87.0h0M257.2 81.5h0M253.9 78.0h0M257.0 80.1h0M254.0 79.9h0M256.9 87.0h0M255.3 83.4h0M256.7 83.9h0M256.0 78.2h0M256.4 81.6h0M255.6 85.2h0M257.0 87.2h0M255.0 79.6h0M252.8 82.1h0M251.8 82.6h0M255.1 85.4h0M255.9 86.9h0M256.2 82.2h0M254.1 85.3h0M255.4 81.0h0M255.1 86.6h0M255.0 85.9h0M256.3 86.4h0M256.0 83.7h0M256.1 83.0h0M255.8 78.5h0M254.4 80.7h0M255.1 83.4h0M255.4 81.8h0M253.5 79.0h0M253.4 81.1h0M255.6 79.9h0M257.4 82.2h0M255.9 84.1h0M255.4 83.6h0M252.5 84.9h0M255.3 85.3h0M257.9 81.8h0M255.8 83.2h0M254.6 79.2h0M254.5 84.7h0M255.5 79.5h0M255.0 82.6h0M254.5 82.1h0M255.2 82.1h0M256.1 80.6h0M258.2 79.0h0M258.1 81.3h0M252.5 86.4h0M253.9 84.0h0M255.0 83.6h0M256.7 80.0h0M257.4 84.4h0M254.8 83.1h0M254.2 78.5h0M255.8 83.6h0M257.0 82.7h0M254.2 79.6h0M256.0 80.0h0M256.1 81.0h0M256.1 80.0h0M257.8 83.5h0M254.2 80.6h0M255.1 84.3h0M254.7 80.1h0M256.8 82.0h0M254.5 83.4h0M258.2 79.7h0M255.6 82.9h0M258.1 81.7h0M254.8 79.6h0M257.8 85.5h0M254.6 87.1h0M254.8 77.1h0M255.7 86.9h0M256.6 81.4h0M253.7 64.4h0M252.6 65.3h0M261.5 58.7h0M249.5 59.6h0M252.3 63.6h0M257.0 60.7h0M252.1 62.3h0M253.3 60.2h0M255.8 58.9h0M256.4 58.1h0M254.6 63.1h0M251.1 66.5h0M254.9 57.2h0M253.6 59.7h0M253.7 59.2h0M256.2 61.2h0M250.2 59.2h0M253.2 64.3h0M250.1 58.5h0M257.5 62.2h0M253.5 57.0h0M254.8 60.9h0M249.9 62.2h0M254.7 58.9h0M253.1 59.0h0M261.4 59.9h0M260.1 65.7h0M260.1 65.0h0M252.3 61.4h0M253.2 61.1h0M257.9 64.9h0M257.4 63.3h0M262.0 63.5h0M256.2 63.3h0M256.7 62.4h0M256.7 59.6h0M255.6 60.1h0M257.0 61.3h0M255.4 64.5h0M256.1 66.8h0M254.8 63.6h0M256.9 60.8h0M256.2 62.2h0M257.8 59.8h0M253.1 63.2h0M255.7 58.6h0M256.8 62.8h0M255.8 61.6h0M253.7 64.2h0M253.9 64.4h0M253.7 63.3h0M251.9 64.7h0M253.3 63.0h0M256.1 62.8h0M254.1 58.4h0M252.7 58.7h0M249.7 63.9h0M254.0 63.6h0M255.8 61.0h0M253.2 63.7h0M255.9 63.5h0M258.0 61.5h0M255.9 62.1h0M256.2 62.8h0M249.7 62.2h0M258.0 66.2h0M253.0 61.4h0M253.3 62.4h0M252.0 63.4h0M255.6 64.5h0M259.1 63.3h0M251.4 64.0h0M252.6 63.5h0M253.0 59.5h0M256.8 61.1h0M254.1 62.4h0M256.7 60.7h0M256.0 61.7h0M259.1 66.9h0M254.3 60.3h0M251.4 67.3h0M260.0 64.4h0M253.2 61.5h0M256.3 67.6h0M249.4 63.7h0M256.5 65.5h0M257.5 61.9h0M255.7 61.4h0M254.5 60.1h0M255.0 65.1h0M260.2 64.3h0M253.2 62.2h0M254.7 61.3h0M256.5 57.5h0M254.5 61.1h0M260.0 64.9h0M255.1 60.5h0M251.7 62.1h0M257.2 65.8h0M251.9 62.2h0M256.8 63.8h0M251.3 63.8h0M255.3 62.6h0M254.6 65.1h0M258.0 64.6h0M252.3 63.6h0M254.3 64.2h0M258.2 61.6h0M251.8 62.8h0M256.3 59.5h0M255.3 61.3h0M258.0 60.4h0M253.7 59.9h0M256.1 64.3h0M255.7 64.8h0M254.0 59.7h0M253.1 62.7h0M261.0 63.9h0M256.3 63.1h0M248.8 65.5h0M257.4 61.6h0M259.4 63.0h0M258.3 59.8h0M254.9 61.4h0M256.8 58.3h0M254.4 64.5h0M258.2 62.2h0M257.2 64.6h0M258.2 63.1h0M252.8 64.0h0M253.4 61.1h0M250.3 64.8h0M253.0 61.4h0M254.4 60.8h0M255.3 62.9h0M257.3 61.7h0M257.8 64.8h0M252.5 62.1h0M253.3 60.3h0M249.6 63.9h0M251.2 65.7h0M256.7 61.3h0M255.2 56.5h0M255.3 63.1h0M257.8 61.9h0M251.9 60.2h0M254.0 61.3h0M252.7 60.3h0M252.1 60.7h0M256.6 62.1h0M254.6 63.4h0M259.3 65.0h0M254.0 63.8h0M257.8 63.8h0M262.3 61.6h0M254.4 63.6h0M253.7 60.6h0M253.5 63.9h0M255.0 62.0h0M257.0 59.8h0M260.7 61.8h0M251.9 61.1h0M254.9 62.9h0M254.3 57.0h0M250.1 64.4h0M259.8 67.9h0M256.9 60.4h0M259.4 61.0h0M262.2 59.9h0M253.7 63.6h0M254.3 63.6h0M256.1 61.8h0M253.4 56.1h0M256.2 63.1h0M253.0 62.0h0M259.6 59.9h0M253.7 58.5h0M256.1 58.3h0M253.5 59.9h0M255.4 64.6h0M254.0 58.0h0M258.2 61.7h0M254.1 60.0h0M256.3 64.3h0M251.3 64.2h0M253.3 62.2h0M249.1 67.5h0M253.7 59.8h0M247.9 62.4h0M257.0 62.8h0M252.2 60.6h0M252.3 68.8h0M253.2 63.0h0M252.5 64.3h0M255.5 62.4h0M256.1 63.3h0M254.7 64.6h0M257.9 61.1h0M254.3 65.7h0M250.8 66.2h0M257.6 65.5h0M251.8 64.1h0M255.5 59.3h0M247.8 64.2h0M257.2 59.8h0M249.6 64.1h0M260.5 60.0h0M252.8 59.2h0M255.7 58.8h0M262.6 63.6h0M256.2 57.8h0M257.7 65.1h0M258.1 61.2h0M252.8 59.0h0M255.6 54.1h0M258.2 62.9h0M258.5 65.7h0M254.2 65.6h0M255.4 66.9h0M258.4 59.4h0M257.0 63.6h0M255.8 59.1h0M259.2 64.3h0M259.4 62.8h0M253.2 59.9h0M256.5 63.8h0M254.5 62.6h0M253.9 64.3h0M257.8 63.4h0M253.7 63.0h0M256.5 61.1h0M258.6 61.6h0M255.2 60.8h0M259.7 67.6h0M256.6 62.7h0M251.4 58.4h0M253.3 62.0h0M254.6 59.4h0M255.5 63.0h0M258.1 60.4h0M251.4 62.1h0M250.3 57.7h0M254.9 62.0h0M254.1 63.5h0M256.2 61.5h0M253.5 64.6h0M256.8 66.0h0M257.2 63.7h0M256.2 59.7h0M255.6 63.0h0M257.5 63.0h0M257.2 63.8h0M256.2 62.1h0M254.6 64.5h0M259.0 59.2h0M258.6 65.5h0M256.4 59.6h0M259.9 65.3h0M255.4 64.6h0M254.4 62.5h0M254.8 64.3h0M256.8 63.0h0M258.2 61.3h0M254.7 58.2h0M255.8 63.8h0M252.7 64.3h0M255.3 64.2h0M256.3 59.5h0M253.9 62.4h0M258.7 60.7h0M259.8 58.5h0M254.9 60.6h0M256.1 62.6h0M256.6 64.0h0M255.9 60.0h0M257.2 63.0h0M248.7 61.3h0M256.0 63.0h0M250.1 63.8h0M255.8 59.9h0M251.7 60.3h0M258.6 68.0h0M257.1 60.9h0M251.0 59.1h0M257.2 61.0h0M255.2 63.9h0M257.8 60.4h0M258.0 64.3h0M252.8 62.0h0M252.3 64.7h0M252.5 61.2h0M254.6 65.7h0M256.7 62.1h0M256.7 63.6h0M254.4 64.2h0M253.7 60.7h0M255.0 63.2h0M253.9 60.1h0M251.8 63.4h0M254.5 65.6h0M254.7 64.0h0M258.7 63.7h0M257.1 61.4h0M255.9 67.7h0M256.0 58.2h0M257.2 58.9h0M261.0 67.1h0M261.3 57.4h0M255.9 54.2h0M261.2 64.9h0M252.5 66.2h0M251.2 64.2h0M258.6 66.3h0M255.4 63.1h0M256.3 63.7h0M255.2 64.5h0M258.2 64.5h0M253.8 66.3h0M253.3 60.7h0M256.9 59.0h0M256.0 66.5h0M256.5 59.3h0M256.2 62.5h0M253.7 61.4h0M258.3 64.8h0M255.5 63.3h0M255.0 64.1h0M253.7 66.6h0M257.9 64.0h0M252.5 64.4h0M256.3 57.6h0M253.4 62.1h0M251.8 61.2h0M258.9 67.0h0M257.8 60.6h0M252.6 62.4h0M255.6 59.6h0M255.5 63.1h0M254.6 61.6h0M259.0 62.1h0M256.1 58.8h0M256.9 58.6h0M256.0 57.9h0M256.1 61.7h0M255.3 59.5h0M257.3 60.3h0M251.6 65.1h0M256.7 66.8h0M253.4 60.3h0M256.0 66.7h0M258.9 64.0h0M257.3 61.3h0M254.2 62.9h0M254.2 61.9h0M254.5 61.3h0M252.4 61.1h0M251.5 64.6h0M247.4 61.4h0M254.0 59.8h0M256.8 61.4h0M261.0 58.5h0M259.4 63.7h0M256.6 61.6h0M250.5 61.3h0M255.5 59.5h0M258.4 59.6h0M252.6 61.4h0M256.2 60.4h0M255.1 66.7h0M257.1 63.3h0M252.7 65.6h0M255.4 65.4h0M254.4 59.9h0M258.7 60.0h0M255.3 64.7h0M256.7 58.4h0M256.3 67.2h0M258.1 60.1h0M260.2 63.4h0M252.0 66.9h0M253.4 65.1h0M258.1 64.3h0M255.6 64.9h0M252.4 62.6h0M250.1 64.4h0M252.2 66.7h0M252.2 60.2h0M254.0 65.7h0M256.9 63.6h0M259.4 59.0h0M257.9 63.0h0M250.6 60.2h0M258.0 59.5h0M256.0 61.5h0M252.7 60.1h0M251.3 61.4h0M263.0 59.3h0M253.6 62.4h0M256.1 62.4h0M251.6 59.9h0M253.2 60.6h0M254.1 63.5h0M255.3 64.5h0M253.6 65.8h0M254.3 62.6h0M255.3 65.0h0M249.8 60.6h0M253.8 64.2h0M256.6 63.1h0M259.9 63.8h0M259.0 62.8h0M257.3 59.9h0M258.4 60.1h0M258.0 64.1h0M252.4 62.6h0M255.2 61.6h0M253.2 65.1h0M252.6 62.7h0M255.4 58.9h0M256.8 62.3h0M254.0 61.4h0M253.3 60.9h0M251.6 64.8h0M257.7 61.4h0M251.5 57.6h0M251.8 67.5h0M252.5 61.0h0M254.2 57.4h0M253.6 61.9h0M256.6 62.3h0M256.8 61.8h0M252.2 63.5h0M256.0 62.5h0M251.2 66.3h0M256.7 64.6h0M255.2 58.3h0M252.1 65.3h0M262.2 56.4h0M259.1 63.7h0M255.7 62.6h0M257.8 63.9h0M258.4 61.5h0M255.8 62.0h0M252.5 61.8h0M253.5 64.0h0M255.4 67.5h0M256.0 61.0h0M259.0 62.6h0M254.0 61.5h0M258.3 60.9h0M254.9 64.5h0M260.8 67.1h0M255.7 65.6h0M255.9 60.7h0M254.4 62.5h0M256.8 61.8h0M254.8 63.4h0M256.0 67.8h0M257.7 63.7h0M260.2 61.7h0M260.1 65.4h0M260.8 65.6h0M254.4 66.9h0M257.0 64.0h0M254.3 63.5h0M247.6 58.1h0M257.7 62.3h0M253.6 64.2h0M258.4 65.0h0M252.8 65.5h0M256.1 63.4h0M258.8 65.0h0M258.3 63.5h0M252.9 61.9h0M258.0 59.2h0M254.1 60.7h0M252.8 62.2h0M255.2 59.7h0M256.4 60.0h0M258.7 63.5h0" stroke="#000" stroke-width="0.9" stroke-linecap="round" stroke-opacity="0.85" fill="none"/>
<path d="M224.2 70.9h0M221.7 70.1h0M220.4 71.9h0M235.5 57.9h0M227.2 73.9h0M231.7 64.8h0M234.5 72.7h0M222.7 78.9h0M222.0 64.6h0M229.4 56.7h0M228.8 71.8h0M234.8 59.3h0M230.5 71.8h0M225.3 57.4h0M225.5 69.4h0M227.6 72.4h0M225.6 65.7h0M226.4 63.9h0M219.2 63.3h0M226.8 64.7h0M221.0 63.6h0M229.9 76.6h0M225.0 66.2h0M225.0 69.7h0M225.9 79.2h0M232.0 74.9h0M228.8 68.9h0M237.8 70.6h0M238.5 72.8h0M230.7 65.8h0M227.5 44.7h0M235.3 69.0h0M225.9 70.0h0M218.8 66.6h0M223.2 75.2h0M236.4 66.8h0M237.8 71.5h0M232.6 66.8h0M230.0 65.1h0M232.6 60.4h0M228.6 77.1h0M231.0 49.5h0M224.7 69.7h0M234.7 68.2h0M233.8 77.5h0M222.7 67.5h0M234.0 66.1h0M232.3 78.8h0M226.7 70.9h0M225.7 79.3h0M237.1 51.4h0M230.4 55.3h0M220.5 68.5h0M246.0 63.2h0M227.1 72.9h0M230.3 71.4h0M235.7 70.3h0M222.8 66.0h0M227.5 62.4h0M226.5 66.1h0M231.4 60.6h0M231.9 66.1h0M225.8 64.4h0M234.6 68.1h0M226.1 62.9h0M230.2 62.0h0M226.8 74.0h0M235.0 57.9h0M230.5 78.7h0M234.0 63.4h0M230.1 66.2h0M225.4 76.6h0M232.8 70.6h0M234.1 76.5h0M230.5 70.6h0M231.3 55.8h0M227.9 68.4h0M216.6 74.9h0M230.0 69.9h0M228.1 75.8h0M232.9 66.3h0M221.0 76.6h0M236.6 74.1h0M234.0 67.9h0M228.5 71.8h0M228.4 53.5h0M220.7 77.6h0M222.8 60.4h0M233.4 77.7h0M227.0 67.2h0M223.0 60.6h0M221.5 65.0h0M231.1 61.4h0M220.9 70.1h0M230.7 68.3h0M233.5 68.9h0M234.9 65.7h0M226.8 63.0h0M230.0 70.7h0M226.1 72.3h0M232.7 70.0h0M223.2 72.0h0M222.6 60.9h0M228.9 72.0h0M229.7 68.8h0M232.0 76.0h0M226.1 72.2h0M230.4 69.1h0M237.4 59.9h0M231.8 78.5h0M241.0 72.1h0M229.2 65.5h0M221.0 70.5h0M235.7 69.4h0M226.6 69.2h0M230.0 70.4h0M237.6 74.6h0M237.1 67.6h0M233.9 59.5h0M226.2 69.5h0M225.4 66.4h0M227.6 66.7h0M233.6 56.3h0M241.1 62.5h0M231.4 77.3h0M224.0 80.4h0M225.3 74.3h0M230.5 71.1h0M246.8 57.2h0M236.0 82.9h0M228.9 65.5h0M232.6 54.8h0M231.8 65.8h0M229.3 61.5h0M223.8 56.0h0M222.5 67.2h0M224.7 82.9h0M220.8 70.7h0M224.2 64.9h0M230.8 67.9h0M235.9 75.1h0M230.2 61.4h0M225.0 77.8h0M229.3 86.9h0M237.6 57.7h0M229.1 62.8h0M230.5 74.4h0M225.6 72.8h0M224.0 70.3h0M231.9 64.7h0M231.6 80.1h0M228.0 60.8h0M230.7 64.5h0M228.4 78.2h0M228.5 61.6h0M234.9 66.6h0M232.4 60.4h0M231.3 60.3h0M227.5 65.2h0M224.3 69.0h0M223.6 67.8h0M228.0 85.2h0M228.1 69.9h0M227.5 53.3h0M231.6 54.7h0M231.1 69.1h0M229.0 62.4h0M239.6 65.0h0M229.5 72.8h0M227.7 64.7h0M237.3 62.8h0M226.7 68.6h0M221.5 65.5h0M224.8 62.7h0M215.0 58.4h0M233.0 68.4h0M237.3 76.1h0M222.6 73.1h0M231.2 86.8h0M230.9 60.2h0M232.2 79.1h0M229.6 72.7h0M228.5 65.8h0M226.5 69.4h0M228.6 62.7h0M230.3 69.3h0M234.1 75.8h0M229.4 63.0h0M232.5 73.5h0M223.3 62.8h0M231.8 56.8h0M228.7 73.6h0M229.2 76.8h0M233.6 74.4h0M222.6 74.7h0M223.6 69.5h0M225.0 71.3h0M226.5 73.7h0M229.2 65.5h0M224.3 73.2h0M238.2 73.5h0M215.5 76.1h0M228.5 77.6h0M234.2 62.6h0M228.0 60.0h0M233.2 64.9h0M234.6 60.3h0M229.9 67.2h0M234.3 64.7h0M228.0 71.6h0M225.2 72.8h0M234.5 71.2h0M235.0 67.8h0M221.9 58.2h0M230.9 76.5h0M230.2 58.9h0M226.7 65.5h0M224.8 62.8h0M238.7 73.8h0M234.2 68.9h0M228.3 65.9h0M240.2 69.8h0M234.4 58.6h0M227.5 56.3h0M230.1 55.1h0M226.5 74.1h0M230.2 61.7h0M231.8 75.4h0M227.5 72.3h0M235.7 72.9h0M230.1 78.4h0M225.4 66.6h0M229.1 71.3h0M229.8 71.2h0M219.5 60.1h0M222.7 67.3h0M232.1 66.6h0M222.2 75.7h0M228.8 77.8h0M234.1 76.9h0M228.6 60.0h0M232.9 63.7h0M223.0 66.5h0M234.3 72.6h0M226.7 79.3h0M221.6 69.1h0M229.8 71.0h0M241.8 70.0h0M230.1 64.5h0M230.5 68.1h0M234.6 59.4h0M224.2 83.3h0M218.4 71.6h0M225.6 72.0h0M223.4 74.8h0M233.5 75.1h0M224.1 74.7h0M232.7 67.6h0M225.6 68.5h0M232.6 78.1h0M221.9 68.4h0M225.5 64.7h0M220.0 65.7h0M233.9 66.2h0M237.6 67.9h0M230.0 68.4h0M222.5 66.3h0M242.7 71.6h0M229.5 72.8h0M237.5 71.8h0M232.5 77.6h0M223.7 54.4h0M225.0 72.7h0M231.0 54.2h0M225.2 75.2h0M228.8 72.2h0M228.3 68.8h0M221.5 62.3h0M224.8 70.9h0M229.1 76.9h0M220.0 77.2h0M222.8 69.2h0M220.4 65.5h0M220.2 56.0h0M221.6 69.0h0M224.6 78.3h0M225.7 77.7h0M225.0 73.6h0M230.8 65.0h0M230.7 73.5h0M235.7 67.4h0M231.9 71.9h0M224.1 69.6h0M221.2 83.3h0M238.6 70.9h0M232.0 63.7h0M222.3 66.5h0M232.1 77.0h0M220.9 58.7h0M234.0 61.7h0M229.6 63.5h0M233.7 76.7h0M223.5 70.8h0M230.7 72.4h0M236.5 60.8h0M226.2 78.5h0M234.7 59.8h0M227.7 55.1h0M233.1 71.6h0M229.2 73.7h0M227.9 47.3h0M223.8 65.2h0M227.2 75.1h0M226.7 57.4h0M226.9 60.4h0M230.3 72.1h0M241.4 70.1h0M217.2 82.3h0M230.7 74.3h0M225.5 73.9h0M228.8 70.6h0M230.5 53.2h0M225.7 70.8h0M215.2 69.2h0M238.4 59.5h0M225.5 72.7h0M225.1 60.7h0M221.1 57.4h0M224.1 72.8h0M226.2 61.3h0M230.4 61.3h0M223.4 71.2h0M232.4 61.1h0M230.7 79.6h0M224.4 84.6h0M228.8 77.8h0M223.4 68.7h0M225.9 59.8h0M230.7 72.7h0M225.5 51.3h0M228.8 76.9h0M232.0 67.4h0M225.1 67.2h0M229.7 79.7h0M231.6 61.4h0M234.0 56.9h0M230.4 68.3h0M225.4 80.2h0M231.9 65.1h0M233.5 74.6h0M227.1 60.6h0M233.9 55.7h0M222.6 85.6h0M227.6 82.2h0M230.7 79.2h0M222.4 78.4h0M221.5 62.7h0M233.1 73.6h0M224.4 80.6h0M225.4 76.5h0M235.0 62.9h0M220.1 69.7h0M214.9 70.6h0M215.8 67.6h0M222.8 67.8h0M227.8 68.1h0M231.9 69.2h0M235.4 63.2h0M227.4 60.7h0M226.5 58.9h0M224.8 77.3h0M235.1 70.0h0M224.6 69.6h0M233.9 75.1h0M236.5 71.9h0M232.4 61.5h0M227.9 66.2h0M229.7 77.4h0M227.4 70.6h0M228.5 67.0h0M232.4 72.7h0M229.6 65.6h0M215.7 65.3h0M227.7 61.5h0M225.1 65.4h0M230.2 59.0h0M226.8 83.9h0M238.9 63.0h0M226.1 82.9h0M218.1 72.9h0M230.3 61.9h0M222.5 60.6h0M228.8 76.7h0M241.1 60.4h0M232.3 65.6h0M236.7 54.9h0M229.4 72.0h0M221.0 73.4h0M224.1 60.5h0M240.1 59.0h0M230.3 43.1h0M223.1 41.0h0M255.2 40.6h0M238.0 42.8h0M231.7 41.0h0M231.6 40.1h0M241.1 35.3h0M227.6 44.0h0M231.3 42.6h0M225.1 41.2h0M226.3 46.2h0M232.5 35.9h0M231.4 43.2h0M219.0 48.2h0M244.3 36.7h0M224.3 46.5h0M225.0 41.3h0M225.9 40.3h0M233.6 45.0h0M227.9 41.5h0M230.3 36.1h0M224.8 40.3h0M236.5 41.7h0M236.1 45.0h0M231.5 38.8h0M239.6 40.9h0M224.2 37.7h0M230.7 38.3h0M216.7 47.6h0M224.3 42.8h0M227.8 37.4h0M219.8 40.3h0M223.0 45.6h0M225.2 44.5h0M225.3 37.1h0M227.5 47.1h0M226.7 42.6h0M230.4 40.2h0M230.6 43.9h0M235.2 38.7h0M237.5 39.3h0M218.1 43.3h0M225.2 42.2h0M233.3 44.6h0M229.0 43.8h0M218.7 50.8h0M234.1 45.7h0M239.5 43.3h0M220.8 36.6h0M225.0 40.2h0M229.2 38.3h0M235.4 41.1h0M232.5 47.3h0M244.2 37.8h0M222.1 43.8h0M225.7 49.8h0M220.1 47.0h0M222.7 43.0h0M227.5 37.9h0M231.8 42.2h0M227.8 40.1h0M215.7 47.5h0M227.3 39.9h0M225.0 45.3h0M227.5 45.0h0M217.7 44.9h0M226.9 40.8h0M236.9 37.4h0M238.7 40.0h0M229.5 43.2h0M224.0 44.5h0M229.1 42.1h0M229.8 41.5h0M222.0 44.5h0M232.1 40.1h0M232.4 38.6h0M230.2 39.8h0M224.2 39.4h0M235.9 42.5h0M244.3 36.5h0M227.2 40.7h0M235.6 41.9h0M222.9 44.8h0M221.4 37.9h0M227.2 41.6h0M235.8 41.6h0M221.9 39.7h0M221.1 36.6h0M237.8 37.1h0M229.3 42.1h0M228.1 44.2h0M233.9 42.1h0M231.7 46.7h0M218.8 39.9h0M222.9 42.7h0M224.5 47.9h0M216.6 50.0h0M224.7 47.8h0M227.3 39.4h0M220.5 40.2h0M229.3 42.8h0M215.0 49.7h0M233.7 43.4h0M235.5 39.9h0M233.3 43.2h0M217.5 39.0h0M220.3 44.6h0M238.8 46.8h0M236.7 40.8h0M219.9 45.4h0M235.1 40.3h0M224.7 41.1h0M231.6 42.4h0M231.3 40.7h0M218.1 49.8h0M239.7 46.0h0M226.4 41.5h0M241.2 37.5h0M243.6 42.4h0M215.3 40.6h0M228.6 44.2h0M225.2 28.3h0M238.4 38.9h0M227.9 50.0h0M246.8 41.9h0M245.0 40.0h0M223.7 36.4h0M234.2 40.3h0M222.8 41.3h0M223.1 47.3h0M234.1 36.5h0M233.9 41.7h0M230.0 48.9h0M224.1 38.8h0M227.2 43.4h0M230.2 45.5h0M220.4 47.9h0M222.1 44.4h0M228.4 41.6h0M237.8 36.3h0M237.9 39.5h0M224.7 35.5h0M230.8 40.9h0M232.7 38.7h0M239.0 41.6h0M246.6 40.8h0M225.7 38.9h0M236.3 39.6h0M230.5 38.7h0M244.4 40.3h0M225.4 39.3h0M229.3 41.6h0M229.8 42.4h0M238.7 37.1h0M226.7 44.3h0M238.0 41.1h0M236.5 42.0h0M226.8 37.0h0M231.2 39.1h0M221.5 33.5h0M263.9 70.0h0M258.8 75.8h0M257.0 78.0h0M254.6 73.5h0M252.4 71.3h0M258.1 65.9h0M247.7 84.8h0M248.6 59.2h0M253.8 76.7h0M248.9 75.7h0M254.2 64.8h0M256.3 71.8h0M257.8 78.6h0M259.8 87.1h0M256.6 80.9h0M256.7 83.1h0M257.6 59.6h0M254.5 60.0h0M253.1 82.2h0M249.1 56.6h0M254.9 70.2h0M247.8 73.7h0M249.8 56.6h0M257.6 79.6h0M262.8 59.7h0M253.3 84.0h0M256.3 81.7h0M257.9 70.9h0M254.5 62.0h0M249.4 74.4h0M254.8 81.3h0M257.2 71.1h0M251.9 57.1h0M260.3 60.8h0M252.3 63.1h0M249.7 64.6h0M255.4 83.3h0M252.0 81.5h0M251.7 79.5h0M258.2 75.1h0M257.8 80.9h0M254.6 72.9h0M257.4 72.1h0M256.3 63.9h0M250.8 85.8h0M256.1 78.2h0M256.1 75.5h0M251.6 80.6h0M256.7 65.4h0M258.8 83.0h0M260.6 80.6h0M252.2 58.5h0M253.8 65.3h0M254.8 61.4h0M257.4 86.2h0M257.3 59.0h0M262.2 78.3h0M256.9 84.2h0M257.6 75.4h0M257.3 72.3h0M259.6 56.1h0M254.8 66.8h0M254.1 66.7h0M255.2 81.5h0M260.1 60.1h0M251.8 65.6h0M246.4 83.7h0M257.1 75.8h0M256.9 67.6h0M256.6 57.9h0M254.1 74.4h0M260.1 66.5h0M253.4 65.2h0M253.7 73.4h0M259.2 64.6h0M251.2 57.7h0M250.2 85.9h0M256.9 77.2h0M255.6 82.3h0M259.3 77.3h0M252.2 79.5h0M258.0 78.4h0M251.7 61.7h0M254.6 68.1h0M251.6 61.5h0M258.4 58.6h0M262.6 72.0h0M258.7 85.1h0M250.2 77.9h0M254.5 81.2h0M259.7 77.2h0M256.3 73.0h0M257.6 73.4h0M251.3 63.3h0M253.4 64.4h0M254.6 65.9h0M255.1 67.9h0M252.1 87.1h0M251.3 77.2h0M259.8 67.8h0M260.6 62.8h0M258.0 80.6h0M255.9 66.1h0M254.9 81.8h0M258.0 71.7h0M254.9 62.6h0M256.2 72.4h0M250.5 75.4h0M254.6 81.3h0M257.8 72.9h0M255.9 75.0h0M258.8 83.7h0M258.3 72.1h0M259.2 76.3h0M260.9 84.9h0M252.8 59.1h0M255.8 61.6h0M256.4 72.3h0M254.6 61.5h0M255.1 63.0h0M248.8 72.3h0M257.6 62.3h0M261.7 76.0h0M251.6 84.1h0M249.8 81.0h0M253.6 83.1h0M258.6 86.7h0M259.2 83.5h0M257.3 58.0h0M253.6 61.1h0M262.5 74.5h0M254.7 77.4h0M256.2 84.1h0M258.2 67.3h0M248.8 66.3h0M256.0 84.7h0M255.3 71.4h0M257.8 58.3h0M259.1 84.5h0M259.4 62.5h0M252.5 63.1h0M253.9 64.5h0M259.0 63.5h0M256.1 71.5h0M263.7 70.0h0M252.9 74.5h0M254.7 87.0h0M251.5 74.4h0M251.5 72.1h0M258.0 71.6h0M261.0 83.9h0M250.4 84.4h0M254.7 68.6h0M260.5 86.9h0M248.3 78.9h0M257.0 67.1h0M255.1 67.5h0M249.4 59.4h0M257.0 80.9h0M258.0 65.7h0M252.0 80.3h0M259.7 87.0h0M258.7 62.9h0M257.2 82.5h0M259.1 66.3h0M256.9 70.1h0M256.5 77.5h0M256.3 64.8h0M263.4 77.4h0M258.3 73.4h0M252.5 78.3h0M251.9 70.2h0M253.6 80.4h0M262.8 64.5h0M260.5 75.3h0M256.8 63.3h0M256.9 85.2h0M258.8 81.8h0M260.2 79.8h0M252.9 84.8h0M256.4 71.0h0M255.0 85.7h0M260.2 61.9h0M257.7 64.7h0M253.4 81.8h0M258.2 74.1h0M257.9 63.9h0M256.6 72.9h0M252.6 60.8h0M256.1 84.9h0M267.6 59.9h0M250.2 74.4h0M259.1 58.5h0M250.0 70.1h0M251.3 69.2h0M254.4 72.0h0M253.5 61.2h0M257.3 77.0h0M256.4 62.1h0M253.4 73.7h0M252.7 60.8h0M258.9 74.8h0M254.1 61.4h0M252.0 57.1h0M254.6 68.6h0M255.4 73.0h0M259.1 74.2h0M249.4 65.9h0M255.5 67.6h0M256.6 84.1h0M252.1 73.2h0M253.1 69.9h0M259.4 80.1h0M259.5 82.4h0M256.3 84.8h0M256.5 73.9h0M263.2 68.9h0M250.5 78.7h0M257.8 70.4h0M261.1 73.7h0M257.6 85.2h0M248.7 82.0h0M260.3 80.9h0M257.1 73.4h0M252.4 78.0h0M256.0 76.7h0M256.7 77.7h0M249.9 76.1h0M257.8 80.6h0M255.0 78.1h0M257.6 82.2h0M251.8 77.4h0M257.2 83.9h0M257.8 74.3h0M260.3 73.4h0M253.4 60.5h0M258.6 74.6h0M254.4 64.3h0M247.0 80.0h0M251.9 63.8h0M258.4 69.0h0M252.9 84.4h0M250.8 81.9h0M251.2 59.8h0M255.4 78.9h0M250.4 72.6h0M254.8 78.7h0M251.6 59.9h0M250.9 75.8h0M258.8 59.5h0M256.7 72.7h0M251.8 82.1h0M253.1 75.3h0M249.9 80.4h0M253.3 55.6h0M249.0 82.2h0M258.4 75.7h0M253.4 68.0h0M258.4 76.3h0M254.1 83.7h0M223.3 83.6h0M237.2 28.7h0M262.5 69.3h0M272.5 76.0h0M264.5 23.9h0M260.7 40.3h0M224.4 64.9h0M221.8 81.0h0M274.0 69.7h0M252.9 25.1h0M271.5 71.1h0M266.3 38.1h0M226.0 76.6h0M232.1 32.5h0M248.4 37.3h0M236.5 49.6h0M235.9 37.5h0M226.1 48.2h0M238.5 34.6h0M229.0 72.9h0" stroke="#000" stroke-width="0.6" stroke-linecap="round" stroke-opacity="0.5" fill="none"/>
<path d="M250.8 88.0h0M252.7 88.1h0M263.1 88.1h0M262.3 87.8h0M256.1 88.0h0M244.8 87.6h0M236.0 87.7h0M240.8 87.9h0M261.0 87.5h0M256.4 88.0h0M259.1 87.6h0M242.9 87.5h0M254.7 88.0h0M264.8 87.9h0M261.2 87.7h0M235.0 87.7h0M246.5 88.1h0M252.6 87.5h0M264.1 87.9h0M240.4 87.6h0M264.8 87.6h0M248.8 88.1h0M246.5 88.1h0M252.4 87.8h0M234.5 87.5h0M256.5 87.5h0M244.3 87.7h0M246.5 87.6h0M266.0 87.8h0M260.0 87.5h0M253.6 87.7h0M245.3 88.0h0M260.4 87.6h0M251.1 87.8h0M250.4 87.8h0M251.1 87.9h0M250.8 88.0h0M249.2 87.9h0M232.1 87.7h0M261.6 87.8h0M245.3 87.6h0M235.1 87.6h0M247.7 87.5h0M261.1 87.6h0M245.7 87.7h0M250.9 87.9h0M231.8 87.6h0M249.0 87.6h0M257.4 87.6h0M236.3 88.1h0M239.7 87.9h0M245.9 87.6h0M265.1 87.5h0M247.5 87.9h0M242.1 87.8h0M262.0 87.8h0M257.1 88.0h0M246.9 87.8h0M257.9 87.9h0M237.4 88.0h0M253.6 87.7h0M240.2 87.7h0M257.4 88.1h0M235.2 87.7h0M251.6 87.9h0M241.3 87.7h0M234.2 87.7h0M234.3 87.7h0M261.6 87.9h0M249.7 87.5h0M241.4 87.9h0M254.0 87.8h0M232.9 87.9h0M231.7 87.8h0M247.5 87.7h0M245.3 87.6h0M231.5 87.8h0M232.5 87.8h0M237.7 87.7h0M245.8 87.9h0M264.6 87.5h0M232.6 87.7h0M253.2 88.0h0M252.2 87.8h0M265.1 87.6h0M238.8 87.8h0M257.8 88.1h0M249.7 88.1h0M253.7 88.1h0M234.3 87.6h0M256.7 87.7h0M240.9 87.7h0M251.1 87.5h0M259.9 87.8h0M235.8 88.0h0M246.1 87.6h0M244.0 87.8h0M264.6 87.8h0M244.3 87.8h0M250.6 87.7h0M253.4 88.0h0M258.0 87.6h0M242.5 87.5h0M238.6 87.8h0M262.7 87.9h0M253.5 88.0h0M235.9 87.8h0M231.8 87.7h0M234.7 87.6h0M262.9 87.7h0M232.8 87.8h0M251.1 87.9h0M244.0 88.1h0M255.9 87.5h0M256.9 87.6h0M254.2 87.6h0M237.4 87.5h0M234.7 87.8h0M254.8 87.7h0M256.9 87.8h0M251.9 87.9h0M245.0 87.6h0M242.2 87.9h0M236.9 87.7h0M253.7 87.5h0M245.5 87.8h0M252.0 87.8h0M244.2 87.6h0M235.6 87.6h0M265.2 87.8h0M262.9 87.7h0M245.1 87.7h0M261.7 87.5h0M249.7 88.0h0M236.8 88.0h0M243.7 87.7h0M253.9 87.7h0M237.7 87.9h0M252.1 87.9h0M236.8 87.9h0M255.2 87.7h0M243.2 87.5h0M232.8 87.7h0M257.5 88.1h0M250.1 87.8h0M254.1 87.7h0M260.8 87.8h0M234.5 87.7h0M259.6 88.0h0M241.1 87.5h0M252.2 87.9h0M262.4 87.9h0M258.8 87.9h0M251.3 87.7h0M261.8 88.0h0M264.5 87.9h0M246.8 87.8h0M250.7 87.9h0M253.8 87.6h0M261.9 88.0h0M252.7 87.7h0M253.3 88.0h0M266.3 88.1h0M233.9 87.5h0M248.9 87.9h0M242.6 87.7h0M248.4 88.0h0M251.5 88.0h0M265.9 87.8h0M242.4 87.6h0M244.6 87.8h0M253.4 87.5h0M255.3 88.0h0M244.1 87.7h0M247.9 87.6h0M238.8 87.6h0M257.6 87.6h0M234.2 88.0h0M265.0 87.7h0M244.7 87.6h0M234.8 88.0h0M255.5 88.0h0M243.9 88.0h0M247.2 87.8h0M252.9 87.8h0M260.5 88.0h0M253.3 87.9h0M264.6 87.5h0M252.2 87.8h0M255.3 87.6h0M244.2 87.7h0M252.7 88.0h0M266.1 87.9h0M266.4 88.0h0M257.7 87.9h0M241.5 87.5h0M236.0 88.0h0M245.4 87.7h0M256.7 87.6h0M264.4 87.9h0M263.9 87.8h0M252.1 87.5h0M238.6 87.6h0M261.6 87.8h0M241.9 87.9h0M262.8 88.0h0M247.9 88.1h0M251.1 88.0h0M265.5 87.6h0M253.8 87.6h0M244.6 88.1h0M256.2 87.9h0M249.4 87.7h0M259.8 87.6h0M242.6 87.9h0M244.2 88.1h0M258.1 87.6h0M259.9 87.8h0M242.1 88.0h0M234.5 87.9h0" stroke="#000" stroke-width="0.7" stroke-linecap="round" stroke-opacity="0.75" fill="none"/>
<line x1="242.2" y1="18.9" x2="242.2" y2="88.4" stroke="#7f8cc6" stroke-width="0.75"/>
<line x1="214.2" y1="54.2" x2="283" y2="54.2" stroke="#7f8cc6" stroke-width="0.75"/>
<rect x="214.2" y="18.9" width="68.80" height="69.50" fill="none" stroke="#858585" stroke-width="0.9"/>
<line x1="213.29999999999998" y1="19.9" x2="213.29999999999998" y2="88.4" stroke="#666" stroke-width="1" stroke-dasharray="0.6 1.9"/>
<line x1="214.2" y1="89.30000000000001" x2="282" y2="89.30000000000001" stroke="#666" stroke-width="1" stroke-dasharray="0.6 1.9"/>
<rect x="214.80" y="21.00" width="15.26" height="6.6" fill="#fff"/>
<text x="215.6" y="26.8" font-size="7.2" text-anchor="start" font-weight="normal" fill="#4a5ca6" stroke="#4a5ca6">32.4</text>
<rect x="263.52" y="21.00" width="19.08" height="6.6" fill="#fff"/>
<text x="281.8" y="26.8" font-size="7.2" text-anchor="end" font-weight="normal" fill="#4a5ca6" stroke="#4a5ca6">0.161</text>
<rect x="214.80" y="81.60" width="15.26" height="6.6" fill="#fff"/>
<text x="215.6" y="87.4" font-size="7.2" text-anchor="start" font-weight="normal" fill="#4a5ca6" stroke="#4a5ca6">4.15</text>
<rect x="267.34" y="81.60" width="15.26" height="6.6" fill="#fff"/>
<text x="281.8" y="87.4" font-size="7.2" text-anchor="end" font-weight="normal" fill="#4a5ca6" stroke="#4a5ca6">63.3</text>
<text transform="translate(198.0 27.5) scale(0.96 1)" font-size="9.8" fill="#111" stroke="#111" stroke-width="0.35">10</text>
<text x="208.26" y="24.2" font-size="6.0" text-anchor="start" font-weight="normal" fill="#111" stroke="#111">5</text>
<text transform="translate(198.0 42.5) scale(0.96 1)" font-size="9.8" fill="#111" stroke="#111" stroke-width="0.35">10</text>
<text x="208.26" y="39.2" font-size="6.0" text-anchor="start" font-weight="normal" fill="#111" stroke="#111">4</text>
<text transform="translate(198.0 58.1) scale(0.96 1)" font-size="9.8" fill="#111" stroke="#111" stroke-width="0.35">10</text>
<text x="208.26" y="54.8" font-size="6.0" text-anchor="start" font-weight="normal" fill="#111" stroke="#111">3</text>
<text transform="translate(198.0 75.4) scale(0.96 1)" font-size="9.8" fill="#111" stroke="#111" stroke-width="0.35">10</text>
<text x="208.26" y="72.1" font-size="6.0" text-anchor="start" font-weight="normal" fill="#111" stroke="#111">2</text>
<text transform="translate(203.5 84.9) scale(0.96 1)" font-size="9.8" fill="#111" stroke="#111" stroke-width="0.35">0</text>
<text x="198" y="78" font-size="7" text-anchor="middle" font-weight="normal" fill="#111" stroke="#111" transform="rotate(-90 198 78)">CD8</text>
<line x1="195.3" y1="62" x2="195.3" y2="24.6" stroke="#111" stroke-width="0.7"/>
<polygon points="195.3,21.6 196.56,24.60 194.04,24.60" fill="#111"/>
<text transform="translate(218.3 99.7) scale(0.92 1)" font-size="9.5" fill="#111" stroke="#111" stroke-width="0.35">0</text>
<text transform="translate(223.4 99.7) scale(0.92 1)" font-size="9.5" fill="#111" stroke="#111" stroke-width="0.35">10</text>
<text x="232.92" y="96.4" font-size="6.0" text-anchor="start" font-weight="normal" fill="#111" stroke="#111">2</text>
<text transform="translate(240.6 99.7) scale(0.92 1)" font-size="9.5" fill="#111" stroke="#111" stroke-width="0.35">10</text>
<text x="250.12" y="96.4" font-size="6.0" text-anchor="start" font-weight="normal" fill="#111" stroke="#111">3</text>
<text transform="translate(257 99.7) scale(0.92 1)" font-size="9.5" fill="#111" stroke="#111" stroke-width="0.35">10</text>
<text x="266.52" y="96.4" font-size="6.0" text-anchor="start" font-weight="normal" fill="#111" stroke="#111">4</text>
<text transform="translate(273.1 99.7) scale(0.92 1)" font-size="9.5" fill="#111" stroke="#111" stroke-width="0.35">10</text>
<text x="282.62" y="96.4" font-size="6.0" text-anchor="start" font-weight="normal" fill="#111" stroke="#111">5</text>
<text x="214" y="108.9" font-size="7.3" text-anchor="start" font-weight="normal" fill="#111" stroke="#111">CD4</text>
<line x1="233.4" y1="106.3" x2="278.0" y2="106.3" stroke="#111" stroke-width="0.7"/>
<polygon points="281,106.3 278.00,107.56 278.00,105.04" fill="#111"/>
<line x1="179" y1="65.4" x2="212.3" y2="65.4" stroke="#111" stroke-width="0.7"/>
<polygon points="215.3,65.4 212.30,66.66 212.30,64.14" fill="#111"/>
<path d="M334.5 41.5h0M326.7 45.4h0M329.7 43.6h0M327.1 44.7h0M323.7 39.3h0M333.6 46.3h0M330.5 45.2h0M324.6 47.7h0M326.8 42.8h0M326.2 45.5h0M322.5 45.5h0M328.8 47.8h0M330.4 44.4h0M323.7 43.7h0M332.5 44.1h0M321.5 44.8h0M323.9 47.3h0M325.0 46.5h0M332.9 47.1h0M324.4 45.8h0M327.0 45.3h0M325.9 44.3h0M327.3 49.7h0M321.3 49.5h0M327.8 44.0h0M328.3 43.3h0M333.8 44.9h0M334.8 42.4h0M325.8 43.0h0M323.8 46.6h0M329.1 47.2h0M325.2 46.3h0M329.9 44.0h0M328.2 42.0h0M329.8 47.2h0M331.2 48.1h0M327.6 47.4h0M322.9 51.4h0M331.5 46.4h0M330.0 44.2h0M320.2 49.2h0M332.6 44.3h0M327.2 43.5h0M327.3 46.6h0M323.0 45.9h0M320.6 42.0h0M329.9 43.9h0M327.8 44.0h0M320.9 41.3h0M331.5 44.5h0M330.5 42.5h0M330.9 46.7h0M330.5 42.4h0M320.5 45.6h0M333.2 41.2h0M325.1 45.2h0M337.3 46.3h0M319.5 43.2h0M324.0 45.9h0M334.1 41.6h0M324.0 44.0h0M326.0 45.1h0M326.8 47.5h0M329.4 45.4h0M331.4 46.3h0M331.4 48.8h0M322.3 44.8h0M333.7 41.5h0M327.5 40.9h0M330.4 46.7h0M329.1 44.6h0M317.9 48.9h0M326.0 47.6h0M328.6 40.4h0M324.2 47.0h0M332.5 39.9h0M327.6 45.2h0M334.4 44.7h0M331.8 43.1h0M323.0 44.3h0M326.5 44.5h0M338.4 42.2h0M329.3 41.2h0M333.3 42.4h0M325.7 46.4h0M323.0 42.7h0M331.0 44.8h0M328.2 46.3h0M325.1 41.5h0M330.1 46.0h0M325.5 42.8h0M323.1 42.1h0M328.6 47.0h0M323.8 48.3h0M328.2 44.3h0M327.2 40.7h0M329.8 46.4h0M322.8 44.7h0M330.2 46.7h0M328.9 44.0h0M325.0 42.7h0M331.2 47.2h0M324.0 45.5h0M331.7 46.4h0M325.0 44.4h0M330.9 43.1h0M327.5 45.2h0M324.6 46.8h0M340.5 44.7h0M332.3 45.4h0M320.9 46.0h0M333.4 47.3h0M326.9 44.8h0M325.9 42.4h0M327.2 46.4h0M335.5 45.9h0M324.7 44.2h0M321.8 48.0h0M325.7 45.5h0M333.7 40.2h0M332.6 45.9h0M320.2 45.0h0M331.3 45.3h0M323.9 43.7h0M334.4 44.1h0M326.2 44.4h0M329.8 46.3h0M315.4 44.1h0M330.5 45.4h0M330.6 45.1h0M333.4 49.2h0M333.4 45.6h0M325.0 46.2h0M319.8 48.8h0M321.7 44.2h0M326.3 43.8h0M329.5 47.0h0M328.1 44.2h0M329.2 48.0h0M329.3 47.4h0M333.8 46.3h0M326.7 43.4h0M321.7 46.2h0M324.2 42.7h0M322.7 44.5h0M330.2 40.1h0M325.1 43.2h0M326.7 44.7h0M328.3 43.1h0M328.4 45.5h0M324.8 47.4h0M327.1 47.4h0M326.9 46.3h0M325.6 48.8h0M321.3 48.2h0M326.6 40.5h0M333.3 45.8h0M327.9 46.9h0M326.6 46.6h0M330.8 41.8h0M331.9 42.5h0M324.1 43.6h0M330.8 43.6h0M323.9 42.6h0M332.2 46.1h0M332.5 42.2h0M331.3 44.2h0M329.4 43.7h0M333.0 45.1h0M324.3 45.7h0M321.3 45.0h0M326.0 43.1h0M328.3 47.3h0M335.0 39.9h0M333.9 43.3h0M325.4 45.9h0M327.9 41.9h0M335.8 45.2h0M333.2 45.4h0M320.5 41.9h0M325.7 46.3h0M326.4 44.1h0M331.9 43.4h0M333.6 44.2h0M319.3 44.8h0M336.2 44.6h0M335.1 46.2h0M334.5 47.5h0M326.8 46.9h0M326.0 44.3h0M330.0 44.8h0M327.9 40.7h0M328.4 43.4h0M323.2 46.0h0M331.4 42.5h0M332.3 42.5h0M333.8 45.8h0M329.6 44.6h0M322.2 46.8h0M325.1 44.8h0M326.2 44.4h0M330.3 42.9h0M322.6 48.9h0M323.4 45.6h0M331.9 45.7h0M332.4 46.1h0M323.0 43.2h0M330.3 45.3h0M318.4 47.2h0M327.6 41.8h0M332.0 42.8h0M325.3 44.5h0M335.0 42.7h0M330.8 46.6h0M321.0 45.3h0M326.9 42.3h0M316.3 45.1h0M327.1 44.3h0M324.9 43.6h0M330.2 43.2h0M326.5 43.8h0M328.5 43.6h0M330.3 47.7h0M324.9 46.8h0M326.5 43.1h0M326.5 40.1h0M325.9 45.4h0M324.0 48.8h0M329.2 47.0h0M335.9 46.4h0M330.0 45.4h0M319.7 44.8h0M326.5 47.0h0M326.0 46.9h0M320.8 49.2h0M325.5 46.3h0M324.1 48.5h0M320.0 45.8h0M330.9 43.5h0M328.1 42.7h0M331.6 44.0h0M330.3 45.6h0M332.5 44.9h0M326.8 45.8h0M324.6 42.6h0M330.4 44.4h0M322.8 43.7h0M330.5 45.6h0M324.8 47.6h0M330.2 44.0h0M323.2 49.9h0M314.7 50.4h0M325.8 44.4h0M326.7 45.6h0M331.2 43.9h0M327.7 49.2h0M320.0 45.2h0M328.8 45.7h0M328.4 45.4h0M331.0 47.1h0M333.0 46.6h0M332.0 46.4h0M326.0 44.7h0M336.1 41.8h0M327.0 44.2h0M332.0 45.1h0M333.4 46.5h0M321.3 46.8h0M326.3 45.6h0M331.6 43.2h0M321.3 45.7h0M330.1 43.6h0M324.9 45.3h0M329.4 47.5h0M326.6 49.3h0M330.4 42.7h0M321.2 45.2h0M326.3 45.3h0M328.7 44.9h0M325.5 44.8h0M329.2 45.8h0M333.9 48.5h0M331.8 46.2h0M319.7 43.3h0M320.9 44.7h0M322.6 43.4h0M328.6 45.1h0M332.7 47.1h0M327.1 45.3h0M330.5 44.0h0M324.2 47.6h0M329.9 41.7h0M318.7 46.8h0M327.5 43.9h0M330.1 44.1h0M322.7 48.3h0M325.6 46.8h0M325.3 45.7h0M326.2 45.7h0M329.1 45.2h0M321.7 46.3h0M336.5 44.8h0M327.2 44.3h0M320.4 44.6h0M323.3 46.6h0M328.1 45.4h0M329.0 48.3h0M330.7 42.6h0M327.5 44.0h0M327.1 43.6h0M320.8 48.9h0M323.0 46.2h0M332.1 40.0h0M328.5 46.2h0M334.9 45.0h0M328.8 43.5h0M326.0 46.1h0M330.6 46.6h0M328.2 46.4h0M321.8 45.4h0M323.9 45.5h0M324.6 46.1h0M324.4 45.8h0M327.5 45.1h0M329.8 46.6h0M327.3 44.4h0M334.5 47.3h0M325.3 45.3h0M324.1 46.1h0M322.2 43.3h0M324.1 44.3h0M325.6 46.1h0M328.3 47.9h0M327.5 45.4h0M329.2 45.9h0M325.0 40.4h0M325.2 46.3h0M327.8 44.5h0M325.2 46.7h0M330.8 45.3h0M326.2 45.5h0M322.3 42.1h0M326.0 47.0h0M332.6 43.6h0M326.7 44.4h0M329.3 44.9h0M329.6 48.3h0M329.7 46.0h0M327.7 47.3h0M325.8 44.5h0M333.9 42.5h0M330.3 44.0h0M327.5 45.3h0M329.9 46.3h0M324.9 41.6h0M326.2 48.1h0M327.1 48.2h0M326.7 48.5h0M329.5 45.7h0M321.5 44.6h0M323.5 46.3h0M320.2 46.6h0M315.2 44.4h0M321.2 39.7h0M325.5 44.9h0M330.2 46.0h0M322.7 43.9h0M334.3 43.2h0M324.9 47.7h0M330.6 45.7h0M323.8 46.7h0M329.7 43.1h0M328.7 42.9h0M320.0 47.2h0M338.7 41.2h0M324.7 46.0h0M327.2 44.7h0M333.5 44.6h0M324.6 42.8h0M320.3 44.7h0M324.8 43.5h0M324.8 50.7h0M331.6 49.1h0M330.9 45.1h0M329.5 41.5h0M326.5 46.7h0M324.5 48.9h0M325.3 41.9h0M328.6 43.4h0M325.2 49.0h0M331.0 43.3h0M329.9 43.2h0M326.3 44.7h0M328.1 46.3h0M325.8 49.2h0M330.6 42.4h0M328.4 43.3h0M321.9 42.4h0M320.5 47.8h0M331.6 43.5h0M326.4 46.5h0M329.0 44.2h0M325.8 43.6h0M328.8 45.1h0M321.5 45.6h0M326.1 47.2h0M333.3 41.6h0M328.8 43.8h0M329.7 42.5h0M328.2 41.9h0M328.7 46.9h0M331.0 47.0h0M340.4 43.5h0M329.9 44.1h0M323.0 44.1h0M321.4 41.0h0M323.4 47.9h0M326.7 47.8h0M326.3 46.0h0M333.2 45.5h0M329.7 44.3h0M327.6 42.7h0M334.9 43.3h0M331.4 44.6h0M323.3 42.8h0M326.0 47.5h0M330.1 45.7h0M331.0 43.1h0M325.7 46.8h0M327.6 44.8h0M320.7 43.8h0M324.6 41.7h0M327.9 46.7h0M324.8 45.4h0M327.8 46.6h0M332.3 41.1h0M327.2 44.5h0M333.7 46.4h0M320.7 47.4h0M329.1 44.9h0M324.2 47.9h0M331.7 40.9h0M330.5 49.3h0M327.6 45.5h0M331.7 43.8h0M328.2 42.4h0M327.9 45.5h0M326.4 46.0h0M324.9 43.3h0M331.9 43.1h0M332.1 42.8h0M334.2 45.3h0M335.0 40.6h0M327.8 41.7h0M324.8 45.3h0M323.6 44.4h0M325.5 47.3h0M328.4 41.8h0M326.1 42.7h0M325.0 48.1h0M329.6 46.5h0M326.5 43.1h0M329.9 42.6h0M325.3 43.5h0M327.8 44.3h0M333.7 39.5h0M327.7 46.6h0M323.2 45.0h0M328.1 43.7h0M326.8 48.6h0M323.9 45.6h0M327.2 44.5h0M324.0 46.5h0M324.1 46.8h0M332.7 46.9h0M321.7 45.3h0M320.7 44.6h0M325.0 46.6h0M326.6 46.6h0M330.0 42.8h0M332.3 46.9h0M329.0 43.0h0M330.1 43.9h0M329.8 41.5h0M324.9 48.5h0M329.4 43.3h0M321.9 45.0h0M326.8 44.8h0M322.9 50.5h0M328.2 48.4h0M336.7 45.9h0M332.4 47.2h0M326.2 44.2h0M322.8 42.7h0M328.7 44.8h0M332.0 43.0h0M327.4 46.3h0M326.8 47.1h0M329.5 45.9h0M325.1 46.3h0M326.8 48.0h0M316.6 45.6h0M333.2 44.3h0M333.7 44.5h0M331.4 42.4h0M321.8 43.2h0M322.3 43.2h0M328.4 43.7h0M329.8 41.5h0M323.2 41.9h0M329.3 42.9h0M333.8 47.5h0M326.7 47.2h0M321.5 42.9h0M331.3 44.3h0M325.9 48.5h0M330.0 44.8h0M326.3 47.7h0M326.0 45.3h0M322.9 45.1h0M325.6 46.4h0M330.3 45.2h0M329.0 47.2h0M326.2 44.4h0M333.8 45.0h0M328.2 43.6h0M331.0 42.4h0M318.9 44.3h0M324.9 47.3h0M326.9 43.5h0M326.1 47.4h0M330.0 43.9h0M321.8 47.2h0M331.4 45.8h0M326.9 45.2h0M328.4 45.0h0M325.4 45.2h0M321.7 45.4h0M329.1 44.1h0M325.7 42.7h0M330.5 43.6h0M327.4 41.7h0M324.1 43.4h0M328.3 43.6h0M321.8 48.7h0M329.2 46.0h0M323.5 45.0h0M332.4 40.3h0M328.1 45.3h0M323.0 48.6h0M320.5 44.3h0M324.0 44.9h0M332.2 40.9h0M329.9 46.0h0M323.6 50.2h0M326.6 43.2h0M328.9 42.6h0M324.5 46.9h0M324.7 46.7h0M331.2 42.1h0M318.5 43.9h0M330.5 43.6h0M331.9 40.6h0M333.3 43.9h0M331.7 45.1h0M330.8 42.4h0M322.0 46.6h0M327.7 41.5h0M328.3 46.0h0M332.7 46.0h0M329.2 41.3h0M323.5 44.2h0M320.4 44.5h0M327.6 46.9h0M327.0 43.7h0M328.5 42.9h0M324.1 44.8h0M327.5 47.9h0M328.2 43.6h0M332.1 46.0h0M329.0 43.4h0M330.5 45.2h0M330.0 44.8h0M326.1 45.6h0M328.4 45.7h0M328.9 41.0h0M325.6 46.6h0M325.3 45.4h0M333.7 48.2h0M334.0 45.5h0M331.4 45.4h0M335.8 44.0h0M320.8 43.9h0M323.4 41.3h0M327.8 42.5h0M330.8 47.2h0M321.6 47.6h0M332.1 42.1h0M322.1 49.6h0M327.7 45.4h0M329.9 44.4h0M323.6 45.6h0M335.3 43.8h0M333.1 43.8h0M328.2 44.0h0M323.2 48.8h0M323.8 46.4h0M320.5 45.5h0M327.1 44.5h0M326.5 45.6h0M321.1 47.3h0M327.1 45.1h0M324.7 44.4h0M327.4 46.6h0M331.7 44.4h0M327.6 45.8h0M327.7 44.3h0M331.1 39.0h0M328.4 46.8h0M328.4 41.1h0M330.4 42.2h0M333.7 43.5h0M330.8 40.1h0M327.0 45.5h0M323.1 44.2h0M327.0 43.9h0M320.7 44.6h0M329.6 45.4h0M323.9 49.0h0M324.7 45.1h0M328.0 44.0h0M328.5 41.7h0M332.1 48.6h0M320.7 47.8h0M326.9 44.0h0M328.8 44.3h0M330.7 46.9h0M327.6 42.6h0M322.6 43.9h0M325.9 45.3h0M324.3 42.3h0M328.6 46.7h0M326.7 44.1h0M331.6 44.5h0M329.7 46.3h0M326.4 42.1h0M325.1 47.9h0M332.2 44.5h0M326.4 45.8h0M324.4 41.9h0M328.3 45.0h0M333.1 44.3h0M331.1 47.2h0M319.9 41.9h0M326.6 44.0h0M335.8 43.6h0M332.1 41.4h0M324.9 45.5h0M332.0 42.1h0M326.6 48.8h0M333.0 45.7h0M327.4 45.7h0M325.7 41.4h0M332.9 46.8h0M319.7 44.1h0M326.5 45.6h0M335.0 44.0h0M327.6 42.9h0M329.0 45.9h0M324.6 46.9h0M327.7 45.1h0M325.8 48.1h0M321.1 44.0h0M335.0 41.7h0M328.4 45.0h0M323.4 46.1h0M327.2 42.0h0M329.8 46.3h0M326.5 46.5h0M328.7 49.1h0M331.0 44.5h0M322.0 47.7h0M330.1 43.2h0M322.1 44.9h0M329.3 46.9h0M333.7 44.6h0M326.3 47.0h0M330.8 44.7h0M327.1 45.8h0M333.2 49.3h0M324.9 46.5h0M325.4 43.3h0M325.9 45.5h0M320.8 46.7h0M328.9 42.7h0M332.4 45.0h0M329.2 45.0h0M330.3 48.1h0M327.5 48.2h0M326.9 46.1h0M329.4 46.3h0M319.1 44.3h0M331.2 45.2h0M329.6 43.3h0M329.1 43.9h0M329.7 39.6h0M322.4 47.9h0M329.0 43.5h0M331.6 44.1h0M324.7 46.4h0M331.6 43.5h0M329.0 47.8h0M327.1 44.7h0M328.4 45.2h0M329.8 44.2h0M330.6 45.7h0M333.8 41.2h0M328.0 43.9h0M326.0 43.0h0M327.4 44.5h0M329.5 47.2h0M323.5 46.3h0M327.6 46.8h0M328.2 42.1h0M319.9 46.4h0M323.1 46.9h0M335.1 43.7h0M336.7 43.6h0M326.4 45.4h0M324.5 47.2h0M328.8 44.4h0M325.6 43.7h0M328.5 41.8h0M327.4 41.4h0M316.5 44.9h0M329.7 48.8h0M338.3 47.0h0M329.9 43.8h0M323.7 44.4h0M327.7 44.1h0M334.2 42.7h0M332.0 44.2h0M329.9 41.7h0M327.3 44.0h0M333.1 45.7h0M328.2 40.9h0M327.2 44.6h0M326.3 46.3h0M326.5 45.5h0M332.8 47.3h0M323.9 42.2h0M329.8 44.7h0M329.6 42.6h0M330.2 44.2h0M326.1 43.3h0M321.4 41.0h0M327.6 47.2h0M329.0 48.9h0M326.5 47.9h0M330.4 44.8h0M331.5 40.2h0M327.7 43.2h0M326.9 45.5h0M329.4 41.7h0M320.7 48.0h0M329.7 43.6h0M326.5 45.6h0M329.2 46.9h0M322.3 44.0h0M326.0 44.0h0M332.2 47.1h0M333.6 46.5h0M326.5 44.0h0M320.2 45.6h0M319.0 46.1h0M326.6 43.9h0M333.3 45.3h0M330.2 47.4h0M333.2 43.2h0M319.3 47.3h0M332.7 46.3h0M322.0 45.9h0M319.5 46.8h0M331.0 44.1h0M330.1 45.1h0M329.3 43.9h0M326.9 45.1h0M327.5 43.6h0M325.6 44.4h0M333.0 42.6h0M332.1 46.7h0M324.1 42.8h0M328.2 43.8h0M335.6 44.2h0M333.7 43.3h0M323.0 45.9h0M331.0 46.1h0M323.5 48.6h0M334.4 48.7h0M322.9 44.8h0M334.7 43.7h0M327.8 42.6h0M320.0 46.6h0M325.1 46.9h0M331.7 46.1h0M327.0 45.9h0M330.9 46.1h0M330.7 46.8h0M323.7 48.3h0M320.2 46.9h0M324.1 43.9h0M319.8 46.0h0M331.0 43.6h0M325.9 41.9h0M329.7 44.2h0M324.8 39.3h0M324.5 44.3h0M326.6 40.1h0M325.6 47.3h0M327.6 47.2h0M325.3 43.7h0M336.3 44.3h0M336.2 45.7h0M325.6 46.1h0M327.8 45.7h0M330.1 39.9h0M330.5 42.1h0M328.7 44.5h0M336.6 43.3h0M330.4 44.2h0M325.9 44.6h0M329.5 48.0h0M328.0 47.9h0M323.3 44.8h0M322.1 44.3h0M332.8 44.6h0M332.1 42.4h0M326.8 42.6h0M322.7 45.4h0M320.0 47.8h0M336.5 41.3h0M323.6 44.8h0M326.0 46.8h0M325.0 48.9h0M334.4 44.1h0M332.3 44.4h0M328.6 45.2h0M329.3 46.8h0M332.0 42.2h0M324.7 42.9h0M326.0 43.1h0M327.2 43.7h0M326.6 42.8h0M327.9 43.9h0M330.2 44.7h0M323.2 43.5h0M328.9 43.9h0M326.8 44.1h0M325.2 48.5h0M336.3 45.3h0M330.4 45.3h0M318.2 44.4h0M320.3 47.5h0M328.7 43.7h0M331.7 46.0h0M329.2 42.8h0M327.4 43.1h0M328.5 45.1h0M331.9 46.5h0M325.1 48.6h0M325.2 44.5h0M329.5 45.4h0M333.6 46.0h0M322.3 41.5h0M324.9 46.7h0M327.3 43.1h0M328.5 49.8h0M327.4 44.8h0M321.8 41.9h0M329.0 47.1h0M323.4 48.0h0M330.9 47.6h0M325.9 43.3h0M321.0 43.1h0M331.1 45.3h0M325.7 46.9h0M326.8 43.4h0M327.9 43.0h0M328.3 45.3h0M332.6 42.4h0M329.2 47.2h0M331.0 43.3h0M323.1 46.0h0M325.0 45.3h0M327.6 47.3h0M323.1 44.9h0M333.3 43.2h0M322.4 43.8h0M329.2 46.4h0M328.6 42.1h0M329.1 44.6h0M330.4 43.5h0M328.6 43.3h0M328.7 46.3h0M328.0 48.4h0M328.8 44.3h0M328.9 43.0h0M326.1 45.4h0M330.4 45.8h0M323.0 46.0h0M330.5 43.6h0M325.5 44.9h0M324.9 46.2h0M332.6 45.0h0M327.5 42.7h0M325.2 44.1h0M320.3 48.7h0M330.5 44.0h0M330.7 44.9h0M325.9 47.2h0M319.8 49.2h0M329.4 45.5h0M327.9 43.3h0M325.8 46.4h0M326.4 45.2h0M330.8 44.0h0M335.6 39.0h0M327.5 43.3h0M322.0 43.3h0M323.0 45.6h0M327.1 43.5h0M329.3 44.5h0M331.8 42.1h0M327.9 47.9h0M335.4 42.3h0M318.9 46.1h0M324.0 45.7h0M325.4 44.5h0M331.2 47.5h0M325.9 43.3h0M331.6 42.4h0M330.2 44.3h0M324.3 48.1h0M330.2 44.2h0M330.9 44.1h0M327.8 46.3h0M327.4 50.2h0M329.4 42.7h0M322.5 47.8h0M331.3 43.4h0M334.0 43.8h0M335.2 41.7h0M316.9 45.3h0M328.2 44.6h0M327.4 45.4h0M322.8 43.2h0M332.5 42.6h0M330.8 44.8h0M330.1 43.3h0M324.7 44.4h0M336.4 46.1h0M325.4 47.9h0M330.1 43.6h0M325.4 47.0h0M324.2 42.0h0M328.4 43.8h0M323.3 43.1h0M324.0 45.0h0M314.5 45.5h0M325.0 43.5h0M321.6 48.9h0M330.5 44.5h0M331.5 46.8h0M325.5 45.8h0M330.7 50.2h0M327.4 41.7h0M323.0 43.6h0M329.7 48.8h0M332.0 43.4h0M326.6 42.7h0M324.0 42.1h0M332.4 45.6h0M318.3 49.5h0M332.0 49.7h0M326.8 46.3h0M323.0 43.3h0M328.2 46.2h0M326.8 50.4h0M325.3 44.7h0M333.7 43.9h0M329.1 45.7h0M327.2 44.0h0M318.0 42.0h0M328.3 43.7h0M327.3 45.7h0M329.2 44.8h0M326.7 45.5h0M322.1 45.9h0M325.8 44.7h0M326.3 46.6h0M324.0 46.0h0M329.5 45.1h0M335.8 42.9h0M323.7 42.1h0M329.9 46.4h0M335.5 44.8h0M334.9 41.7h0M328.7 46.3h0M325.7 48.9h0M324.9 45.6h0M332.1 46.0h0M338.6 41.2h0M330.7 43.7h0M329.9 42.0h0M321.0 46.6h0M332.1 42.8h0M330.6 42.0h0M322.7 40.7h0M325.6 46.4h0M330.6 43.7h0M325.7 45.8h0M326.7 45.4h0M321.0 42.3h0M320.0 48.5h0M327.0 46.3h0M332.7 42.3h0M329.1 44.9h0M327.0 44.1h0M326.7 44.2h0M334.5 41.0h0M332.9 43.5h0M322.5 46.0h0M326.7 47.3h0M324.5 43.6h0M323.7 46.0h0M332.4 46.2h0M332.3 44.2h0M325.5 45.0h0M328.4 41.7h0M329.2 41.5h0M326.7 44.3h0M319.4 42.7h0M324.6 42.2h0M328.5 46.8h0M331.7 44.1h0M327.1 45.6h0M331.2 47.4h0M331.1 45.2h0M321.3 46.1h0M324.2 43.3h0M329.0 47.0h0M333.7 42.0h0M321.9 45.9h0M329.4 44.1h0M330.7 43.2h0M325.5 45.2h0M318.8 47.8h0M330.0 46.5h0M322.3 45.2h0M321.1 43.0h0M330.4 42.6h0M326.6 46.1h0M325.5 45.1h0M324.7 44.4h0M329.6 46.7h0M325.8 44.8h0M325.1 44.7h0M333.8 40.9h0M327.1 44.5h0M328.4 44.7h0M333.4 43.3h0M333.1 42.5h0M331.8 47.5h0M325.5 43.5h0M330.7 46.2h0M327.7 44.4h0M323.5 49.7h0M325.6 43.7h0M335.4 42.3h0M330.5 44.9h0M322.9 45.0h0M333.2 45.1h0M326.2 43.3h0M328.4 43.2h0M329.2 46.4h0M326.8 47.2h0M330.4 44.0h0M328.9 47.9h0M335.5 44.2h0M332.6 44.5h0M326.1 44.5h0M332.0 41.5h0M330.6 45.4h0M331.3 43.5h0M330.8 44.9h0M330.7 45.7h0M324.3 42.8h0M331.3 45.2h0M323.9 43.0h0M324.1 45.2h0M326.3 44.6h0M335.9 40.7h0M333.7 43.2h0M323.3 46.0h0M329.7 46.6h0M323.9 41.6h0M331.0 44.4h0M323.3 43.6h0M328.9 43.0h0M330.1 46.0h0M320.1 47.5h0M327.1 46.0h0M329.4 44.4h0M320.3 46.8h0M322.4 43.9h0M332.9 46.2h0M330.5 46.0h0M330.0 46.4h0M329.7 48.5h0M326.3 43.5h0M328.3 46.6h0M321.4 47.9h0M329.3 47.5h0M321.8 48.0h0M320.1 45.1h0M324.4 47.2h0M334.0 40.6h0M324.7 51.5h0M329.9 46.9h0M330.3 40.0h0M324.9 43.8h0M328.8 40.2h0M326.6 43.6h0M331.6 47.8h0M324.2 41.1h0M326.7 44.9h0M323.4 47.1h0M331.4 39.6h0M321.2 43.0h0M325.9 44.2h0M324.7 46.1h0M329.4 46.4h0M328.8 45.2h0M333.3 49.0h0M331.8 47.1h0M325.8 43.8h0M325.9 45.7h0M319.3 47.8h0M328.7 45.0h0M325.5 43.1h0M333.0 44.0h0M329.0 42.5h0M329.1 46.2h0M324.1 45.3h0M331.2 46.6h0M333.3 43.1h0M321.8 40.0h0M327.4 48.1h0M332.9 43.5h0M331.1 47.4h0M323.7 45.7h0M327.4 45.4h0M334.3 44.9h0M329.8 47.0h0M332.5 45.1h0M330.5 45.8h0M330.5 46.2h0M331.8 46.9h0M328.1 48.1h0M328.1 45.5h0M329.9 47.7h0M327.8 43.2h0M328.1 41.4h0M326.7 46.0h0M329.1 45.5h0M328.4 41.0h0M326.4 46.3h0M329.7 43.1h0M333.4 45.3h0M330.9 43.1h0M331.6 45.3h0M335.4 44.0h0M325.7 44.3h0M337.1 43.4h0M323.5 41.5h0M326.0 43.5h0M328.6 46.5h0M328.2 48.7h0M332.3 46.5h0M332.7 45.2h0M332.3 44.9h0M329.1 44.4h0M325.7 45.5h0M324.9 47.0h0M334.8 41.9h0M334.8 43.9h0M332.1 45.0h0M329.9 42.6h0M326.8 44.0h0M326.9 44.8h0M324.4 44.6h0M323.5 47.1h0M330.8 39.9h0M330.4 45.2h0M325.3 47.2h0M324.2 46.5h0M327.1 46.3h0M326.9 46.2h0M329.5 47.8h0M333.6 46.3h0M324.9 44.7h0M336.6 41.1h0M329.3 44.1h0M334.3 43.3h0M332.8 41.4h0M324.9 43.6h0M324.1 44.6h0M322.1 46.5h0M323.4 47.8h0M330.5 46.8h0M321.6 49.3h0M319.1 43.2h0M320.7 45.7h0M320.9 45.1h0M325.0 42.4h0M329.9 44.1h0M330.8 42.9h0M324.1 44.3h0M334.4 42.2h0M325.3 46.7h0M323.0 40.2h0M326.7 44.6h0M323.5 44.2h0M328.9 41.1h0M330.1 46.7h0M326.3 42.9h0M329.8 47.4h0M327.0 46.0h0M332.0 47.8h0M332.0 42.6h0M322.7 45.8h0M332.2 43.8h0M328.4 44.6h0M327.5 42.9h0M328.8 47.0h0M325.4 47.6h0M321.3 43.1h0M325.5 47.3h0M332.2 44.8h0M331.9 47.6h0M329.3 44.9h0M326.4 45.0h0M326.3 46.1h0M328.2 43.9h0M331.8 42.3h0M328.7 43.7h0M326.3 47.9h0M328.5 48.1h0M329.7 42.5h0M329.9 44.2h0M330.3 47.5h0M324.6 44.0h0M326.4 44.1h0M331.1 43.8h0M328.0 43.0h0M328.5 42.8h0M323.3 41.4h0M328.1 42.3h0M329.6 44.3h0M325.3 45.4h0M323.9 46.2h0M320.7 44.5h0M327.1 43.7h0M328.4 42.6h0M327.0 41.5h0M317.5 49.6h0M326.5 41.0h0M325.8 44.1h0M321.0 49.0h0M328.8 45.0h0M324.5 46.1h0M329.7 43.8h0M318.9 48.2h0M328.6 43.6h0M330.5 43.8h0M326.8 45.3h0M330.4 46.7h0M335.4 45.4h0M324.3 41.1h0M329.2 41.3h0M322.1 42.0h0M330.1 47.2h0M326.1 41.4h0M321.8 42.0h0M335.0 42.6h0M322.6 49.9h0M330.8 44.6h0M321.3 43.1h0M328.1 51.1h0M327.3 43.0h0M327.0 42.7h0M327.2 39.7h0M336.0 41.4h0M328.0 42.7h0M328.9 41.7h0M323.7 48.4h0M327.3 45.9h0M323.1 46.8h0M334.7 45.2h0M325.7 43.7h0M323.5 45.3h0M325.9 42.6h0M322.7 42.8h0M321.3 45.3h0M319.2 47.5h0M331.6 46.7h0M324.8 44.5h0M326.4 44.2h0M326.7 43.1h0M327.8 46.7h0M334.4 46.6h0M329.7 47.1h0M327.4 46.5h0M325.2 43.1h0M323.5 45.9h0M338.5 43.6h0M322.8 45.5h0M335.9 43.6h0M326.2 46.7h0M337.1 45.8h0M325.1 46.1h0M326.5 43.7h0M329.5 45.2h0M326.7 42.2h0M328.4 45.9h0M320.9 46.0h0M328.1 47.3h0M330.1 41.7h0M331.0 41.8h0M324.2 41.6h0M323.4 40.4h0M323.5 43.0h0M327.2 44.6h0M327.2 44.1h0M327.6 44.0h0M331.3 45.0h0M329.5 48.3h0M328.8 46.6h0M326.0 40.7h0M325.0 45.1h0M325.8 43.8h0M327.6 46.3h0M325.6 46.7h0M327.8 43.7h0M332.7 44.0h0M331.4 43.2h0M323.3 44.5h0M329.5 46.2h0M322.5 43.3h0M327.5 46.2h0M327.0 41.1h0M329.2 49.9h0M334.5 43.7h0M330.7 45.6h0M327.0 44.6h0M322.7 42.9h0M330.6 46.2h0M329.3 44.2h0M329.1 44.2h0M315.9 44.4h0M330.4 43.8h0M329.5 39.7h0M315.6 45.0h0M324.0 48.1h0M335.7 46.4h0M326.1 46.9h0M336.0 41.1h0M325.1 46.9h0M331.4 43.0h0M329.5 45.4h0M321.6 47.4h0M328.8 46.0h0M331.1 43.4h0M324.9 42.9h0M326.8 45.5h0M330.5 44.5h0M325.9 44.2h0M324.2 43.6h0M327.7 43.8h0M323.5 43.4h0M333.3 45.9h0M325.9 47.5h0M331.4 45.8h0M327.9 44.2h0M329.6 40.2h0M333.1 45.4h0M324.5 47.7h0M329.4 45.8h0M324.0 43.3h0M333.4 44.9h0M332.2 44.3h0M326.5 41.2h0M334.2 41.6h0M323.5 41.2h0M324.9 48.1h0M328.0 41.4h0M320.2 47.3h0M330.6 43.4h0M328.5 43.4h0M332.1 43.4h0M329.5 42.4h0M332.7 43.0h0M327.3 45.5h0M329.5 44.7h0M327.1 46.7h0M334.4 44.0h0M328.8 46.7h0M337.1 42.8h0M324.2 44.2h0M325.0 45.6h0M328.1 47.1h0M332.6 40.8h0M330.1 42.2h0M325.9 41.7h0M329.0 46.4h0M328.4 45.5h0M322.3 45.3h0M327.9 44.8h0M331.8 42.4h0M331.1 45.0h0M328.6 45.6h0M328.2 42.1h0M335.2 47.9h0M328.3 45.8h0M324.9 52.1h0M324.0 48.1h0M330.2 48.7h0M327.6 44.4h0M326.7 44.4h0M326.4 45.3h0M333.3 42.7h0M324.3 45.6h0M329.4 44.7h0M327.3 43.8h0M334.6 43.3h0M331.3 44.7h0M328.8 39.5h0M321.8 42.0h0M328.6 45.5h0M328.6 43.1h0M335.1 44.6h0M319.8 45.7h0M329.6 44.8h0M328.4 45.1h0M329.7 44.7h0M332.7 46.4h0M328.8 44.2h0M324.7 46.0h0M326.9 46.1h0M333.7 43.2h0M328.4 44.6h0M330.0 42.7h0M332.1 48.5h0M323.2 46.4h0M330.1 47.5h0M335.3 44.4h0M329.6 45.2h0M326.6 47.5h0M323.1 47.1h0M324.5 44.3h0M326.5 46.5h0M329.4 41.7h0M323.1 47.4h0M331.8 43.0h0M332.0 43.6h0M323.9 44.2h0M331.9 43.2h0M317.6 45.2h0M321.5 47.8h0M325.5 40.6h0M333.1 46.3h0M328.4 45.8h0M323.5 44.1h0M330.2 45.0h0M335.7 44.6h0M327.7 47.9h0M335.2 43.3h0M331.0 47.6h0M329.1 44.6h0M331.2 45.4h0M331.3 40.6h0M326.9 47.6h0M332.0 42.1h0M322.2 46.3h0M326.8 47.1h0M327.5 45.5h0M325.3 44.2h0M333.3 40.0h0M327.7 40.7h0M332.4 47.2h0M338.9 45.8h0M332.4 43.1h0M322.2 45.1h0M326.8 48.5h0M326.8 45.6h0M321.8 48.0h0M331.7 46.6h0M326.2 43.7h0M329.3 46.1h0M314.4 45.8h0M333.0 47.6h0M316.5 43.4h0M328.5 43.9h0M332.7 43.0h0M323.3 43.2h0M329.3 43.9h0M328.8 44.8h0M327.0 43.1h0M333.5 46.5h0M329.3 41.6h0M326.7 45.1h0M328.4 45.8h0M327.5 46.6h0M327.9 41.6h0M329.0 41.0h0M329.2 42.9h0M336.6 43.6h0M325.6 46.3h0M324.2 42.6h0M325.1 45.2h0M331.3 43.1h0M326.6 43.4h0M323.2 41.2h0M322.9 45.4h0M323.0 47.5h0M331.4 47.3h0M328.1 44.2h0M329.6 44.6h0M328.1 47.5h0M331.1 44.0h0M330.2 45.4h0M327.9 48.7h0M333.3 43.4h0M324.6 46.2h0M327.7 45.7h0M328.7 45.3h0M325.1 44.0h0M327.9 44.7h0M326.9 44.5h0M327.9 45.4h0M330.8 45.1h0M327.6 40.6h0M326.9 47.0h0M329.2 48.6h0M323.7 42.6h0M325.9 44.1h0M328.7 44.4h0M331.7 41.6h0M333.8 44.0h0M332.6 44.2h0M325.1 42.5h0M327.6 45.2h0M327.9 42.2h0M335.2 45.3h0M328.4 44.5h0M327.5 45.8h0M331.2 45.5h0M330.5 49.5h0M326.4 45.6h0M327.3 44.0h0M327.2 43.8h0M327.1 44.7h0M324.7 48.7h0M324.5 43.5h0M328.8 43.7h0M326.9 47.0h0M332.0 44.6h0M337.4 43.6h0M333.7 42.9h0M324.2 44.5h0M330.8 45.5h0M331.0 44.7h0M329.2 44.2h0M323.7 45.7h0M323.3 48.4h0M324.3 45.7h0M320.0 42.3h0M332.7 46.1h0M324.2 43.5h0M329.3 39.5h0M330.8 43.9h0M328.5 41.2h0M326.8 46.2h0M330.8 45.3h0M327.8 42.2h0M325.4 46.8h0M326.6 43.0h0M327.2 46.7h0M333.7 43.9h0M325.2 43.5h0M325.2 44.9h0M322.8 46.4h0M325.9 45.6h0M325.7 44.6h0M321.6 43.4h0M328.0 43.8h0M333.8 44.1h0M326.8 44.0h0M324.5 47.8h0M319.1 45.6h0M328.0 44.2h0M329.2 45.5h0M329.1 48.7h0M326.4 45.3h0M327.4 48.1h0M332.3 46.3h0M328.5 46.1h0M323.9 44.6h0M321.0 43.2h0M328.2 44.0h0M322.4 39.4h0M330.7 42.1h0M324.4 44.9h0M334.6 45.6h0M330.9 43.9h0M324.1 40.2h0M325.3 44.7h0M331.7 45.9h0M335.8 46.9h0M322.8 45.0h0M329.0 45.5h0M328.1 41.3h0M327.4 47.3h0M322.5 43.8h0M332.2 47.6h0M323.0 47.1h0M328.7 43.3h0M322.8 44.9h0M334.3 42.5h0M325.9 42.0h0M330.6 42.9h0M330.4 48.0h0M333.7 43.1h0M330.0 45.1h0M327.9 39.9h0M327.2 44.3h0M336.3 42.1h0M321.2 46.4h0M331.4 43.6h0M329.0 44.8h0M328.2 49.0h0M326.0 41.2h0M321.7 44.1h0M326.4 44.2h0M335.6 44.4h0M316.8 45.2h0M328.1 45.3h0M333.0 42.3h0M336.5 40.3h0M326.8 44.0h0M320.6 47.5h0M328.7 46.4h0M325.7 41.5h0M332.8 45.0h0M330.5 44.2h0M318.4 46.2h0M334.7 44.2h0M321.0 45.4h0M335.6 46.3h0M323.5 46.2h0M325.8 50.6h0M329.5 42.7h0M332.6 47.4h0M333.2 39.4h0M333.1 43.6h0M336.0 47.5h0M330.0 46.2h0M326.3 47.6h0M331.6 42.7h0M325.4 47.6h0M328.4 45.1h0M324.5 43.3h0M338.1 45.1h0M328.2 47.2h0M331.1 45.8h0M324.9 46.1h0M327.4 42.5h0M318.7 47.2h0M320.3 46.7h0M320.6 45.2h0M329.1 44.1h0M334.5 44.9h0M327.7 44.7h0M325.1 43.9h0M320.8 48.7h0M330.4 43.3h0M332.6 44.2h0M324.9 40.8h0M320.4 47.7h0M328.4 42.8h0M319.3 47.4h0M336.4 45.4h0M329.6 41.1h0M330.4 42.0h0M323.9 45.7h0M321.9 45.0h0M321.6 42.1h0M325.6 45.6h0M326.3 44.5h0M326.3 45.0h0M332.1 48.7h0M323.8 47.3h0M326.7 44.7h0M329.8 46.6h0M326.3 46.5h0M326.6 43.8h0M335.3 46.3h0M325.3 44.1h0M329.4 48.5h0M325.5 47.8h0M330.1 40.7h0M325.7 44.8h0M329.0 48.1h0M331.1 48.2h0M321.2 44.8h0M328.3 43.7h0M327.2 42.9h0M324.3 44.0h0M329.9 45.8h0M325.6 42.9h0M328.7 47.5h0M324.6 41.7h0M333.1 49.4h0M332.6 43.1h0M332.2 44.7h0M326.9 43.7h0M329.9 46.3h0M331.0 41.6h0M328.8 46.1h0M328.1 44.5h0M332.3 46.3h0M329.5 43.6h0M327.0 44.5h0M334.9 45.0h0M324.9 43.2h0M327.7 40.9h0M328.6 46.2h0M333.4 44.8h0M321.1 42.7h0M330.8 46.2h0M325.7 47.6h0M312.9 47.5h0M326.5 44.3h0M323.8 43.0h0M322.3 43.8h0M331.0 44.7h0M329.3 43.7h0M326.3 43.5h0M330.1 45.4h0M329.0 47.8h0M332.9 41.5h0M331.9 49.0h0M330.3 45.8h0M323.5 45.9h0M332.6 42.0h0M326.1 44.8h0M324.4 44.6h0M321.7 45.0h0M325.7 47.8h0M339.9 41.3h0M327.2 43.0h0M327.2 44.8h0M326.3 48.2h0M328.1 45.8h0M323.5 49.3h0M323.4 46.0h0M326.3 42.8h0M332.4 45.7h0M318.9 44.0h0M324.3 45.9h0M324.0 48.4h0M326.2 39.7h0M328.5 45.2h0M323.5 43.7h0M321.9 44.6h0M329.0 46.3h0M324.7 44.9h0M324.3 44.2h0M323.2 44.6h0M328.5 45.6h0M322.1 45.7h0M326.9 45.5h0M334.1 46.4h0M326.2 47.1h0M329.2 43.1h0M336.7 46.3h0M330.2 44.1h0M327.7 45.8h0M331.2 43.9h0M327.0 47.4h0M325.9 47.7h0M331.5 43.2h0M318.1 48.6h0M328.5 42.4h0M332.3 42.7h0M323.8 47.3h0M323.2 46.9h0M325.5 42.5h0M316.9 43.1h0M332.5 43.2h0M323.0 49.0h0M330.4 44.2h0M328.0 45.9h0M328.9 44.8h0M329.1 42.0h0M331.0 41.9h0M321.7 43.6h0M325.4 44.9h0M326.0 48.2h0M324.1 49.5h0M326.0 41.8h0M330.8 40.9h0M326.2 49.6h0M332.0 49.4h0M331.2 41.5h0M320.1 47.3h0M335.4 40.6h0M328.0 44.0h0M327.7 45.4h0M324.4 46.0h0M329.3 40.6h0M324.1 44.4h0M331.6 45.8h0M332.3 41.9h0M328.5 46.4h0M328.9 46.3h0M335.8 39.4h0M324.8 49.8h0M321.2 45.7h0M321.1 47.1h0M335.6 46.6h0M331.0 43.3h0M324.2 45.5h0M327.5 39.5h0M320.6 45.6h0M328.8 43.6h0M323.3 40.7h0M326.7 47.7h0M325.1 46.2h0M327.1 42.0h0M327.3 45.5h0M329.8 49.0h0M333.5 45.5h0M332.5 45.0h0M330.1 45.8h0M334.2 46.0h0M328.2 45.2h0M333.7 43.9h0M327.1 43.1h0M327.7 48.4h0M333.9 44.1h0M331.2 46.2h0M326.9 46.4h0M326.9 45.1h0M326.3 40.3h0M328.3 41.6h0M331.3 46.9h0M323.9 46.5h0M324.3 42.4h0M323.4 45.5h0M325.3 43.8h0M327.7 48.2h0M325.6 42.7h0M325.4 48.8h0M328.3 43.4h0M326.5 44.6h0M335.2 44.6h0M320.4 39.8h0M331.3 41.8h0M323.8 50.2h0M333.9 41.1h0M335.0 41.7h0M330.2 40.9h0M318.7 41.6h0M327.0 44.7h0M332.2 43.4h0M333.9 42.7h0M330.1 40.5h0M321.9 47.6h0M327.8 44.0h0M330.0 43.1h0M334.2 44.6h0M329.8 41.6h0M323.5 43.8h0M327.3 45.6h0M326.0 44.1h0M327.3 42.2h0M322.4 48.1h0M336.5 44.6h0M322.0 43.5h0M333.0 44.1h0M328.5 46.2h0M324.9 45.9h0M332.7 42.2h0M329.5 47.6h0M335.1 42.4h0M327.1 45.1h0M319.9 41.7h0M327.7 47.7h0M328.0 42.1h0M329.8 43.0h0M326.3 43.1h0M322.1 49.9h0M330.3 46.6h0M327.1 45.2h0M329.9 47.0h0M329.5 40.9h0M318.5 44.2h0M330.9 45.9h0M327.2 46.9h0M320.4 46.7h0M327.8 44.7h0M324.6 47.6h0M330.1 45.2h0M331.6 46.6h0M319.8 48.0h0M334.8 42.2h0M323.7 45.3h0M333.7 46.3h0M331.4 42.8h0M325.1 45.5h0M324.9 45.0h0M329.2 47.7h0M325.5 44.5h0M329.9 43.0h0M328.1 46.7h0M324.7 48.2h0M333.1 45.6h0M321.4 47.4h0M327.8 42.6h0M328.2 47.0h0M332.6 41.5h0M327.8 48.0h0M328.7 46.4h0M333.1 48.2h0M334.4 39.3h0M329.4 44.7h0M330.8 44.5h0M337.6 43.3h0M325.2 44.8h0M324.1 43.2h0M330.0 41.9h0M325.9 43.5h0M327.3 47.1h0M331.4 44.3h0M324.9 45.3h0M323.7 44.3h0M326.4 42.2h0M323.3 42.6h0M331.4 43.7h0M324.8 42.1h0M333.5 43.5h0M322.5 45.3h0M327.1 49.1h0M326.6 43.4h0M329.1 43.8h0M326.3 46.1h0M335.4 47.3h0M322.0 46.1h0M332.5 44.0h0M324.8 46.8h0M328.8 43.2h0M327.0 49.0h0M331.2 45.1h0M326.5 43.4h0M329.3 44.2h0M326.4 45.5h0M331.2 45.6h0M322.8 41.7h0M324.8 45.6h0M323.4 45.2h0M328.6 47.1h0M330.1 44.5h0M328.6 42.0h0M329.8 46.8h0M336.2 43.3h0M333.3 43.6h0M326.4 44.2h0M324.7 41.9h0M320.9 47.4h0M333.8 43.6h0M327.0 41.0h0M334.2 43.8h0M329.3 49.1h0M333.0 43.8h0M332.0 44.7h0M326.0 45.4h0M328.9 47.6h0M325.7 47.1h0M331.6 43.8h0M324.5 43.0h0M335.4 40.4h0M328.1 47.4h0M327.0 42.9h0M322.9 43.5h0M332.7 41.9h0M319.3 45.3h0M324.1 49.0h0M334.1 47.0h0M330.5 42.6h0M323.3 43.9h0M322.3 48.0h0M328.6 38.3h0M328.3 43.6h0M331.7 44.3h0M319.3 45.4h0M321.6 46.9h0M322.0 48.2h0M327.8 46.4h0M320.4 43.9h0M328.7 45.3h0M328.7 45.3h0M327.4 46.7h0M332.1 42.1h0M335.4 42.6h0M324.3 46.0h0M327.2 48.4h0M337.5 46.0h0M329.1 44.0h0M324.8 44.8h0M335.3 48.0h0M325.3 47.8h0M329.4 42.0h0M326.9 46.1h0M330.4 47.6h0M325.5 52.1h0M331.2 43.1h0M324.5 46.9h0M331.8 45.0h0M327.0 44.4h0M327.7 42.9h0M329.6 44.8h0M326.0 43.2h0M322.2 41.8h0M324.1 46.8h0M331.5 42.4h0M328.0 43.4h0M327.0 44.7h0M331.1 46.3h0M329.7 40.8h0M329.7 48.0h0M319.7 43.9h0M328.2 46.7h0M326.9 44.3h0M328.6 47.0h0M323.8 43.8h0M328.4 45.2h0M326.2 48.6h0M321.9 45.5h0M336.2 40.9h0M325.6 44.9h0M326.4 45.1h0M326.9 44.5h0M330.9 44.8h0M323.0 43.1h0M331.9 47.2h0M326.1 43.8h0M325.8 45.1h0M327.9 49.9h0M327.9 39.0h0M323.2 43.5h0M326.4 45.5h0M323.6 45.9h0M330.3 45.0h0M331.3 44.2h0M337.6 47.0h0M332.3 45.5h0M328.3 41.5h0M323.4 44.0h0M333.2 45.6h0M330.4 43.5h0M335.2 45.0h0M329.6 46.0h0M320.7 48.7h0M319.2 47.7h0M329.3 45.4h0M333.7 44.8h0M324.1 48.5h0M323.9 45.0h0M327.5 49.1h0M321.8 42.6h0M327.5 46.5h0M327.9 44.7h0M331.9 47.1h0M327.0 47.9h0M327.7 42.5h0M328.4 45.6h0M323.0 46.0h0M325.4 42.6h0M328.1 45.1h0M329.4 44.1h0M329.7 45.5h0M332.0 46.7h0M326.8 46.0h0M329.7 45.3h0M333.0 46.9h0M329.2 43.2h0M326.4 46.1h0M330.4 44.9h0M324.7 43.5h0M328.5 45.0h0M328.4 43.2h0M334.9 44.1h0M330.2 43.5h0M324.6 44.1h0M327.1 45.6h0M330.2 44.2h0M337.7 45.0h0M330.2 46.2h0M332.3 40.9h0M335.7 45.3h0M327.4 44.2h0M324.2 47.4h0M330.8 45.0h0M331.6 44.4h0M325.0 42.1h0M330.6 42.2h0M327.2 44.6h0M325.8 46.6h0M321.4 43.1h0M330.4 44.6h0M323.6 46.5h0M328.8 41.4h0M324.3 50.7h0M328.7 47.6h0M335.9 43.4h0M325.7 46.7h0M324.9 40.3h0M323.9 43.4h0M330.6 46.5h0M330.2 49.7h0M333.7 45.1h0M324.9 43.6h0M330.3 42.5h0M324.9 43.3h0M326.3 44.8h0M328.0 44.3h0M325.3 44.8h0M329.2 45.1h0M323.2 41.9h0M334.2 44.8h0M333.5 42.7h0M324.3 47.1h0M332.4 44.5h0M335.8 44.8h0M322.5 44.9h0M329.0 43.4h0M323.9 46.6h0M324.7 42.3h0M324.0 43.2h0M327.5 44.4h0M323.6 43.8h0M328.7 46.9h0M317.9 45.0h0M330.8 41.0h0M329.0 45.2h0M333.1 45.3h0M326.2 45.9h0M331.8 45.3h0M323.7 45.7h0M323.8 43.4h0M332.0 43.7h0M329.8 47.5h0M334.9 47.2h0M329.9 42.3h0M326.1 47.2h0M332.2 42.5h0M329.2 45.4h0M328.5 45.5h0M327.2 43.6h0M332.5 41.3h0M326.9 40.4h0M330.0 49.4h0M324.9 46.7h0M329.1 45.6h0M324.5 46.0h0M315.6 48.4h0M324.1 46.6h0M332.4 43.9h0M335.1 45.9h0M326.1 42.5h0M327.5 44.0h0M326.6 44.6h0M326.0 42.1h0M330.8 41.0h0M329.9 44.4h0M330.4 44.3h0M323.7 41.6h0M329.6 45.9h0M323.3 45.5h0M331.7 41.7h0M328.7 45.3h0M327.2 46.8h0M327.7 43.6h0M323.7 49.6h0M332.0 46.9h0M323.5 46.3h0M327.5 44.6h0M330.9 48.3h0M328.1 47.1h0M322.3 48.2h0M328.6 47.0h0M332.7 45.7h0M329.2 44.2h0M324.9 44.3h0M323.7 46.8h0M330.7 46.2h0M326.4 44.8h0M328.7 46.2h0M325.0 46.2h0M321.8 43.2h0M328.1 42.7h0M322.8 43.3h0M323.2 44.2h0M329.7 46.0h0M329.0 44.3h0M329.4 45.4h0M324.3 44.3h0M331.2 47.6h0M326.8 43.0h0M327.9 40.3h0M321.5 47.4h0M323.9 46.9h0M332.1 43.8h0M331.8 45.1h0M322.9 46.6h0M328.3 41.7h0M331.6 45.6h0M326.0 48.6h0M338.9 46.5h0M328.2 42.9h0M324.6 46.5h0M323.5 49.9h0M327.2 45.1h0M336.6 42.4h0M322.5 46.6h0M331.3 43.4h0M329.7 46.9h0M331.1 45.2h0M328.9 46.3h0M328.5 48.0h0M330.1 40.9h0M324.9 44.7h0M329.7 49.0h0M329.8 45.4h0M330.6 42.6h0M326.1 50.0h0M332.2 42.6h0M334.7 43.7h0M325.9 46.2h0M333.8 48.0h0M327.2 47.5h0M323.4 43.2h0M328.7 46.1h0M334.9 45.4h0M325.5 44.6h0M327.5 41.8h0M334.3 43.4h0M327.7 45.0h0M332.3 45.8h0M328.4 44.8h0M330.9 46.0h0M324.9 43.1h0M322.4 46.7h0M324.4 45.8h0M335.2 44.3h0M333.3 44.2h0M326.8 45.4h0M329.2 45.7h0M331.6 43.9h0M322.9 41.7h0M327.1 49.4h0M320.7 45.3h0M332.1 39.3h0M325.3 48.6h0M330.9 45.5h0M325.0 47.6h0M334.0 42.2h0M334.7 39.3h0M329.8 43.3h0M331.7 47.9h0M325.6 43.5h0M327.6 45.6h0M330.5 46.2h0M325.6 49.3h0M323.7 46.8h0M328.8 40.0h0M334.7 44.2h0M323.5 49.1h0M316.9 46.2h0M329.4 43.9h0M330.3 43.5h0M321.9 42.5h0M325.1 50.7h0M328.9 49.0h0M331.7 47.1h0M322.5 44.1h0M329.1 48.6h0M323.2 44.7h0M324.3 44.1h0M323.8 44.9h0M327.6 44.3h0M321.5 43.3h0M328.5 43.7h0M322.3 45.4h0M331.6 42.4h0M332.1 46.6h0M325.2 47.7h0M322.4 43.7h0M330.4 44.2h0M321.5 50.0h0M325.5 48.3h0M324.2 46.3h0M327.4 43.8h0M332.9 43.9h0M327.9 47.9h0M326.1 46.4h0M330.9 40.6h0M324.6 45.3h0M320.3 48.5h0M327.4 43.2h0M327.0 41.9h0M325.6 41.9h0M326.2 44.0h0M328.4 40.3h0M329.8 43.8h0M327.4 44.0h0M333.1 45.6h0M330.3 45.6h0M330.7 46.9h0M334.8 43.0h0M331.5 45.1h0M325.3 45.3h0M326.9 47.5h0M329.8 44.6h0M334.3 45.4h0M320.9 44.6h0M321.2 45.6h0M326.5 47.7h0M328.1 46.9h0M327.2 43.9h0M331.0 44.9h0M328.4 46.0h0M326.9 48.8h0M324.2 45.4h0M331.6 43.1h0M319.9 45.7h0M325.3 45.9h0M332.4 44.3h0M329.1 45.3h0M329.2 45.8h0M330.3 46.2h0M325.1 39.1h0M326.4 47.0h0M331.1 45.5h0M322.9 43.8h0M326.8 45.0h0M326.9 42.3h0M325.9 45.7h0M327.4 47.8h0M332.3 44.0h0M325.1 48.5h0M328.0 45.9h0M329.3 45.9h0M331.5 45.7h0M332.1 44.5h0M326.5 42.2h0M333.8 43.2h0M327.0 43.8h0M327.6 48.3h0M323.8 42.8h0M331.5 46.2h0M324.0 46.1h0M329.9 44.1h0M328.3 42.0h0M331.4 46.2h0M322.0 44.1h0M329.1 44.1h0M331.2 48.1h0M330.1 44.5h0M328.0 44.1h0M340.2 43.5h0M328.4 42.6h0M330.7 42.0h0M324.6 45.7h0M315.7 44.3h0M329.3 43.5h0M321.8 42.3h0M330.7 46.0h0M332.7 45.6h0M327.5 42.2h0M334.1 44.4h0M327.7 43.3h0M328.8 45.7h0M325.0 44.2h0M323.4 47.3h0M330.4 46.8h0M326.2 47.3h0M323.5 42.9h0M326.8 42.8h0M339.5 44.2h0M315.5 48.9h0M320.8 49.6h0M329.0 45.8h0M327.2 43.3h0M332.2 45.3h0M323.5 44.4h0M329.2 42.9h0M322.4 42.3h0M333.3 46.9h0M330.9 45.0h0M323.7 45.1h0M329.4 41.7h0M329.2 46.4h0M332.4 42.6h0M331.8 44.8h0M329.7 47.8h0M333.0 42.0h0M332.1 46.6h0M323.2 46.8h0M329.9 43.4h0M327.7 47.4h0M331.9 48.1h0M330.2 46.0h0M328.7 44.7h0M330.7 44.3h0M328.6 44.4h0M321.7 42.8h0M327.4 44.1h0M328.9 42.6h0M338.0 47.3h0M330.4 43.9h0M328.8 45.0h0M325.0 42.9h0M327.5 44.0h0M328.9 47.7h0M333.2 48.2h0M324.1 44.5h0M329.4 48.1h0M323.8 48.7h0M329.9 44.6h0M333.8 44.5h0M333.0 46.8h0M326.5 40.7h0M326.9 43.1h0M330.2 43.9h0M326.4 45.9h0M324.0 45.5h0M322.5 46.3h0M328.3 47.4h0M326.4 44.7h0M330.4 46.1h0M322.6 43.3h0M330.0 44.5h0M330.9 43.5h0M333.5 45.6h0M332.4 40.4h0M326.1 44.3h0M330.2 46.0h0M325.4 43.1h0M327.1 43.7h0M325.5 46.1h0M327.8 44.1h0M331.6 47.3h0M328.8 45.6h0M320.9 45.9h0M333.8 46.7h0M318.0 47.6h0M328.5 43.7h0M331.4 43.7h0M330.6 43.7h0M327.3 45.9h0M330.2 43.6h0M330.8 48.2h0M328.2 39.6h0M330.1 43.7h0M326.9 43.1h0M327.8 47.1h0M325.2 44.7h0M320.5 44.2h0M326.2 46.9h0M323.2 46.8h0M329.5 45.6h0M333.4 44.6h0M327.6 42.0h0M325.5 47.2h0M326.3 46.7h0M329.0 42.6h0M329.4 45.3h0M328.1 43.2h0M333.0 50.2h0M331.6 48.5h0M333.3 46.0h0M334.9 47.9h0M330.8 47.4h0M330.1 46.1h0M333.6 46.9h0M333.7 46.8h0M335.9 44.1h0M331.4 47.7h0M333.9 45.0h0M335.2 42.4h0M334.2 47.7h0M333.9 44.6h0M332.9 45.1h0M330.3 42.8h0M333.7 43.3h0M333.0 41.6h0M334.3 43.5h0M333.7 43.7h0M329.9 44.9h0M335.4 50.3h0M333.7 41.0h0M330.7 40.5h0M332.0 45.0h0M332.8 44.7h0M335.2 44.1h0M334.5 42.2h0M332.4 45.2h0M333.7 45.2h0M330.6 42.3h0M337.0 44.1h0M335.7 44.7h0M330.0 48.4h0M336.0 40.8h0M337.5 44.5h0M336.3 47.3h0M334.5 44.5h0M328.7 41.9h0M331.0 46.2h0M336.5 43.3h0M335.4 46.1h0M329.4 44.9h0M334.5 43.4h0M333.3 49.2h0M334.2 44.6h0M335.1 40.9h0M335.7 43.8h0M331.6 43.0h0M330.3 47.4h0M330.4 44.0h0M334.8 42.2h0M336.9 44.5h0M335.5 43.5h0M334.3 44.6h0M330.0 45.8h0M332.6 45.8h0M335.2 43.4h0M332.3 48.3h0M335.3 43.7h0M333.5 47.6h0M331.8 46.7h0M334.7 42.2h0M332.9 47.2h0M330.8 40.2h0M335.2 48.4h0M331.2 42.1h0M333.8 43.8h0M329.2 41.9h0M331.3 46.1h0M334.2 40.8h0M336.7 46.1h0M335.0 40.7h0M335.9 43.0h0M334.1 41.1h0M333.9 48.0h0M335.0 49.5h0M333.0 48.9h0M332.0 39.0h0M332.6 46.7h0M332.8 42.4h0M334.6 42.6h0M335.2 48.6h0M334.0 44.2h0M338.6 47.4h0M333.9 46.5h0M331.7 50.7h0M329.1 46.4h0M333.3 42.5h0M334.4 40.7h0M333.7 43.8h0M333.8 43.4h0M334.1 47.7h0M333.6 43.0h0M334.1 44.3h0M333.7 43.2h0M336.4 41.8h0M334.1 41.8h0M333.4 43.3h0M335.0 39.7h0M338.9 42.7h0M328.2 42.6h0M331.3 45.9h0M333.2 45.3h0M334.7 43.9h0M335.0 44.1h0M333.0 46.3h0M330.7 42.8h0M329.4 41.3h0M331.3 42.5h0M336.8 41.4h0M331.1 44.6h0M333.2 43.1h0M332.5 45.2h0M334.3 41.5h0M336.3 39.6h0M331.4 48.0h0M333.1 42.9h0M328.5 45.9h0M331.5 38.2h0M335.9 41.3h0M331.1 43.2h0M333.0 45.2h0M334.4 48.3h0M330.3 40.0h0M333.0 46.6h0M328.6 44.2h0M330.9 41.9h0M332.5 40.0h0M332.7 46.0h0M335.2 47.4h0M334.2 43.9h0M332.4 40.5h0M333.8 41.9h0M329.7 46.7h0M333.7 39.4h0M328.7 41.4h0M328.9 45.9h0M330.5 43.8h0M333.9 46.4h0M332.9 47.3h0M334.5 46.0h0M332.0 47.4h0M331.6 40.2h0M332.1 41.2h0M328.5 41.0h0M335.5 43.6h0M338.7 44.2h0M337.9 46.8h0M331.7 45.8h0M333.8 44.7h0M332.3 43.5h0M332.5 45.7h0M329.3 45.1h0M335.9 42.3h0M334.1 45.5h0M333.1 41.7h0M331.4 46.0h0M330.9 43.1h0M333.8 42.7h0M330.5 42.9h0M332.7 42.7h0M331.6 45.2h0M332.7 39.6h0M336.0 41.7h0M335.1 44.3h0M332.3 42.2h0M334.5 44.8h0M332.8 41.6h0M336.5 45.9h0M335.0 45.3h0M333.3 47.3h0M332.3 46.9h0M333.7 45.1h0M329.0 40.9h0M332.7 48.0h0M332.9 44.0h0M334.6 42.8h0M334.0 42.4h0M333.6 42.3h0M331.8 42.8h0M333.1 46.6h0M331.3 41.0h0M333.4 44.2h0M329.5 42.5h0M332.0 44.9h0M331.3 43.2h0M329.2 40.9h0M327.7 43.1h0M327.6 44.1h0M331.8 46.1h0M331.9 40.6h0M331.9 44.0h0M335.6 43.1h0M331.5 43.9h0M334.6 46.8h0M332.9 46.6h0M331.4 39.1h0M333.4 48.5h0M333.5 45.0h0M334.3 48.3h0M329.4 45.1h0M330.1 48.5h0M331.3 43.3h0M334.1 47.6h0M330.9 45.2h0M333.0 46.6h0M336.9 42.2h0M334.0 46.0h0M333.6 42.4h0M333.8 49.8h0M335.2 43.1h0M330.6 45.5h0M331.4 45.7h0M333.6 44.1h0M337.5 44.8h0M330.8 41.9h0M332.6 43.2h0M335.0 44.4h0M337.3 44.6h0M331.4 41.9h0M332.0 45.0h0M333.8 43.3h0M333.4 40.2h0M330.0 46.2h0M332.4 45.2h0M329.8 45.5h0M332.8 50.2h0M336.0 39.5h0M337.7 43.0h0M333.7 48.3h0M331.8 40.8h0M331.2 45.1h0M336.3 47.0h0M331.3 42.5h0M335.9 43.2h0M333.1 41.8h0M330.6 45.3h0M338.8 41.0h0M331.7 47.0h0M332.3 46.8h0M332.2 41.5h0M333.0 40.3h0M332.1 46.2h0M329.8 44.0h0M332.5 50.7h0M328.1 45.0h0M332.5 43.4h0M324.0 42.6h0M333.0 44.2h0M336.3 43.3h0M330.1 40.7h0M330.2 42.3h0M329.5 41.8h0M333.3 43.8h0M331.2 43.5h0M331.3 43.3h0M331.3 43.9h0M332.9 46.3h0M332.3 41.5h0M329.7 48.1h0M331.5 42.9h0M332.3 37.2h0M336.6 45.1h0M334.8 43.5h0M332.7 43.3h0M334.0 37.2h0M334.4 42.7h0M329.5 43.9h0M335.7 46.8h0M336.5 45.0h0M334.9 45.0h0M330.2 44.5h0M332.3 45.8h0M331.4 44.3h0M335.2 45.8h0M330.5 45.1h0M332.5 45.6h0M335.7 46.2h0M329.8 49.4h0M333.8 44.3h0M334.5 41.8h0M334.3 43.3h0M333.0 41.8h0M331.2 44.4h0M332.9 44.1h0M333.3 47.4h0M337.7 43.6h0M331.5 38.9h0M333.2 47.5h0M329.9 43.7h0M331.3 41.4h0M339.6 41.9h0M332.5 44.9h0M332.4 45.7h0M335.4 44.2h0M329.4 39.5h0M330.8 46.4h0M333.8 42.9h0M333.1 45.8h0M336.0 47.8h0M337.6 45.7h0M331.6 43.0h0M333.9 43.3h0M330.6 45.5h0M333.7 44.4h0M331.4 43.0h0M333.1 46.0h0M327.0 43.1h0M333.6 41.8h0M335.1 43.7h0M331.0 46.7h0M335.2 44.1h0M330.0 48.0h0M333.3 47.9h0M334.4 45.2h0M329.9 48.6h0M333.6 43.4h0M329.9 43.7h0M327.5 44.1h0M333.8 43.1h0M337.5 44.1h0M332.9 50.2h0M334.0 42.1h0M327.9 42.8h0M335.4 41.2h0M335.5 39.6h0M335.0 42.9h0M331.4 45.5h0M331.7 40.5h0M331.5 44.3h0M334.8 45.2h0M331.2 42.9h0M332.7 42.4h0M335.9 43.7h0M331.7 41.3h0M337.8 44.5h0M332.6 43.6h0M336.4 44.6h0M333.3 39.2h0M331.6 45.3h0M336.0 50.6h0M334.9 43.0h0M333.6 45.9h0M331.9 46.1h0M335.0 44.8h0M331.9 44.3h0M331.8 44.1h0M335.7 45.7h0M335.6 43.1h0M332.2 42.0h0M334.1 43.5h0M330.4 43.0h0M337.2 44.4h0M332.8 43.1h0M335.7 41.3h0M331.5 42.7h0M334.2 47.8h0M333.1 46.3h0M329.4 43.0h0M330.3 45.6h0M330.2 40.2h0M334.8 39.8h0M331.3 42.5h0M329.4 43.6h0M333.7 47.1h0M331.9 42.2h0M333.2 44.5h0M333.6 48.3h0M327.7 46.4h0M332.5 42.1h0M331.0 42.3h0M334.2 49.7h0M331.3 48.2h0M334.1 43.3h0M336.2 38.3h0M334.0 45.2h0M333.7 39.1h0M334.6 43.8h0M333.4 46.3h0M328.9 47.3h0M336.2 45.7h0M331.2 43.9h0M328.9 41.3h0M333.6 45.9h0M333.2 42.0h0M331.5 45.2h0M336.6 44.4h0M336.5 43.9h0M334.9 44.2h0M331.4 42.7h0M335.6 44.5h0M329.1 46.8h0M334.9 45.1h0M335.5 44.8h0M333.5 42.1h0M333.4 46.4h0M333.4 40.2h0M337.4 45.5h0M331.4 41.5h0M333.0 39.9h0M332.3 46.9h0M331.7 42.6h0M334.2 45.8h0M330.2 45.8h0M335.4 42.1h0M336.9 41.6h0M335.1 45.3h0M334.4 43.2h0M332.7 48.7h0M330.3 43.3h0M338.1 44.0h0M331.8 47.7h0M332.3 42.4h0M331.9 44.8h0M333.8 44.7h0M331.1 46.8h0M338.8 45.1h0M329.6 40.6h0M333.0 43.9h0M330.6 44.3h0M332.7 44.7h0M330.3 41.4h0M331.8 43.5h0M331.0 46.4h0M332.7 38.8h0M331.9 46.4h0M331.4 41.8h0M332.4 38.6h0M331.0 45.0h0M334.6 46.4h0M335.1 43.7h0M334.1 48.0h0M332.5 45.9h0M333.6 46.4h0M333.3 46.8h0M332.4 42.1h0M332.7 43.1h0M335.1 46.0h0M332.7 42.6h0M334.9 44.2h0M332.7 48.0h0M334.0 45.8h0M332.2 40.5h0M335.6 45.7h0M336.8 44.4h0M331.4 37.0h0M334.3 43.9h0M331.0 43.7h0M336.9 43.6h0M333.8 46.4h0M335.1 39.6h0M332.6 44.6h0M332.0 40.4h0M333.1 42.6h0M335.2 46.5h0M333.1 46.2h0M334.1 41.2h0M334.5 44.8h0M334.3 44.2h0M332.0 45.7h0M334.7 47.3h0M337.3 44.8h0M334.1 46.1h0M334.6 42.9h0M334.9 45.9h0M336.1 44.9h0M329.3 42.3h0M334.2 43.4h0M333.1 41.8h0M331.8 44.4h0M337.0 41.2h0M331.4 45.8h0M332.5 44.4h0M336.3 47.8h0M330.3 41.6h0M333.2 48.1h0M330.2 44.9h0M332.7 41.8h0M328.9 44.8h0M326.9 39.0h0M335.2 42.1h0M332.4 46.5h0M333.9 47.2h0M335.6 43.0h0M333.8 41.6h0M333.6 42.7h0M330.2 43.8h0M333.4 47.5h0M333.8 46.3h0M331.1 46.2h0M334.4 45.3h0M331.3 42.9h0M334.7 48.7h0M331.1 45.0h0M331.2 39.3h0M334.4 45.5h0M335.4 41.7h0M335.1 48.6h0M334.0 40.9h0M336.5 45.6h0M333.1 46.9h0M335.2 43.4h0M331.5 42.3h0M334.0 39.6h0M327.9 46.6h0M332.5 44.2h0M331.2 45.7h0M332.1 46.0h0M331.8 41.8h0M334.0 44.3h0M333.5 42.5h0M333.0 44.3h0M333.1 46.5h0M333.8 46.7h0M334.2 47.1h0M331.5 44.4h0M330.7 45.4h0M336.6 44.5h0M332.5 46.2h0M332.6 45.2h0M337.2 43.2h0M332.6 45.0h0M333.4 43.8h0M328.4 44.8h0M331.6 48.6h0M336.2 41.8h0M337.3 42.2h0M334.7 48.7h0M330.8 38.8h0M334.8 43.8h0M333.2 45.5h0M335.9 46.8h0M332.0 46.2h0M332.8 43.4h0M334.4 48.8h0M328.6 45.0h0M330.4 45.7h0M331.0 47.2h0M330.7 45.9h0M337.5 46.5h0M334.3 43.2h0M335.8 38.1h0M332.3 49.6h0M332.7 43.4h0M332.1 44.0h0M327.0 43.3h0M336.2 43.8h0M332.5 44.5h0M331.4 41.0h0M334.0 48.6h0M335.7 47.5h0M334.1 44.6h0M331.3 43.3h0M337.3 41.7h0M334.9 39.4h0M336.3 44.1h0M332.1 48.8h0M332.1 42.3h0M336.1 44.4h0M331.2 38.5h0M332.8 47.2h0M333.4 43.9h0M328.1 46.4h0M330.8 48.1h0M328.1 39.9h0M330.2 41.8h0M335.9 43.2h0M332.6 43.2h0M335.5 44.5h0M337.3 46.6h0M333.0 48.4h0M327.5 42.7h0M334.3 42.9h0M331.4 43.1h0M335.0 42.7h0M331.0 49.8h0M334.1 46.4h0M330.9 45.3h0M334.1 40.7h0M333.6 41.1h0M334.1 46.1h0M336.4 46.2h0M337.8 44.3h0M328.2 43.8h0M333.3 38.0h0M329.5 47.4h0M335.7 42.2h0M326.7 47.6h0M332.4 42.6h0M331.7 42.8h0M330.6 43.9h0M327.0 45.8h0M329.8 42.1h0M334.6 42.5h0M333.8 39.3h0M330.2 43.5h0M333.5 43.4h0M335.7 48.4h0M331.1 41.4h0M335.0 47.6h0M336.8 44.6h0M332.4 45.1h0M331.8 48.9h0M333.6 46.2h0M334.2 44.3h0M335.6 43.9h0M334.6 48.2h0M337.7 44.4h0M334.8 45.2h0M334.4 44.0h0M332.6 45.5h0M327.4 46.6h0M335.0 43.4h0M337.2 45.8h0M332.9 47.2h0M335.7 44.4h0M330.8 39.8h0M334.0 44.6h0M330.3 48.0h0M336.4 45.8h0M333.5 39.2h0M332.5 44.3h0M333.9 45.4h0M336.6 44.3h0M335.1 39.9h0M335.1 47.6h0M328.0 46.0h0M331.2 48.4h0M331.1 41.9h0M331.1 45.1h0M331.3 43.7h0M335.4 45.6h0M332.8 46.4h0M333.4 39.8h0M336.1 40.0h0M335.4 41.2h0M332.8 46.3h0M331.0 44.6h0M337.2 44.5h0M334.0 41.6h0M331.9 45.6h0M333.6 42.2h0M330.6 41.3h0M331.5 46.9h0M332.5 42.7h0M335.2 47.8h0M334.5 45.9h0M334.6 45.0h0M333.3 45.8h0M332.0 44.7h0M335.6 43.0h0M331.2 42.4h0M330.5 45.1h0M331.9 48.7h0M334.0 43.9h0M332.2 43.5h0M328.4 45.2h0M331.5 39.4h0M334.1 46.7h0M336.0 40.6h0M333.6 46.2h0M329.4 42.9h0M333.8 48.7h0M336.5 43.1h0M335.3 42.7h0M332.2 42.2h0M333.0 47.6h0M334.5 46.7h0M337.3 43.7h0M335.0 44.7h0M333.7 43.6h0M332.0 46.5h0M336.1 43.6h0M334.7 47.2h0M335.1 52.4h0M330.6 39.5h0M335.8 39.8h0M337.2 45.6h0M337.3 42.1h0M330.7 52.2h0M334.0 47.2h0M333.5 47.5h0M332.2 41.9h0M334.4 48.0h0M334.9 43.1h0M333.2 42.7h0M332.5 44.4h0M332.7 45.2h0M334.6 39.2h0M334.7 43.9h0M331.2 42.8h0M336.0 43.4h0M333.8 45.6h0M330.5 44.8h0M331.0 44.5h0M333.7 42.5h0M336.0 43.8h0M330.5 50.2h0M328.9 48.0h0M335.3 47.0h0M331.2 42.4h0M336.6 48.1h0M333.7 46.2h0M332.9 42.4h0M331.4 45.4h0M333.5 41.9h0M333.8 47.3h0M333.7 45.6h0M330.5 42.1h0M333.1 44.0h0M334.7 44.6h0M329.4 42.7h0M336.0 44.8h0M331.4 47.4h0M334.3 44.1h0M334.0 44.9h0M334.8 46.3h0M335.9 43.2h0M332.8 43.7h0M331.0 44.3h0M326.5 44.9h0M333.3 48.6h0M334.5 38.8h0M334.4 43.0h0M334.0 45.4h0M330.0 44.3h0M336.4 41.5h0M331.3 45.0h0M335.2 43.5h0M330.8 45.6h0M334.5 43.5h0M332.8 48.2h0M325.2 40.4h0M335.1 47.8h0M331.4 44.0h0M334.8 46.8h0M330.9 47.7h0M335.8 41.7h0M334.3 41.8h0M331.6 39.2h0M334.2 45.7h0M332.4 44.4h0M327.0 42.6h0M333.3 43.4h0M333.3 38.6h0M332.0 48.4h0M332.5 41.5h0M335.7 42.8h0M335.3 47.4h0M332.0 45.2h0M330.1 42.7h0M333.8 42.4h0M336.5 45.0h0M328.9 47.9h0M334.5 43.9h0M333.7 46.5h0M332.3 48.6h0M331.4 42.7h0M335.7 45.8h0M333.8 42.3h0M334.2 45.4h0M334.7 46.2h0M334.1 49.3h0M330.5 43.8h0M332.7 44.5h0M332.1 40.0h0M333.9 45.2h0M337.7 41.2h0M332.8 41.3h0M332.0 47.3h0M332.6 46.0h0M331.7 44.9h0M333.4 46.1h0M330.2 46.9h0M332.8 43.7h0M335.9 45.7h0M328.4 46.7h0M332.1 43.3h0M334.1 46.8h0M331.4 44.8h0M333.4 43.8h0M329.7 38.6h0M330.1 45.8h0M333.6 46.8h0M338.3 42.9h0M335.4 44.1h0M331.4 48.1h0M329.9 46.1h0M331.9 45.1h0M339.2 44.0h0M333.3 40.6h0M334.5 43.8h0M332.6 44.5h0M329.5 48.0h0M330.8 45.1h0M333.5 40.2h0M331.6 43.2h0M331.0 43.8h0M334.8 42.8h0M337.6 44.5h0M333.4 43.2h0M333.8 43.4h0M333.0 45.4h0M333.1 45.9h0M332.2 48.9h0M332.2 43.1h0M331.7 45.9h0M333.3 49.8h0M328.6 47.4h0M333.6 51.3h0M333.1 42.7h0M335.8 46.1h0M332.6 39.9h0M329.2 45.2h0M331.9 42.3h0M330.3 39.9h0M336.3 46.3h0M332.8 50.0h0M334.9 42.3h0M328.7 41.9h0M333.7 43.5h0M336.2 43.4h0M333.0 46.9h0M335.9 44.6h0M332.6 45.5h0M333.0 44.9h0M332.7 41.2h0M332.8 41.9h0M335.2 40.3h0M329.6 45.5h0M333.2 45.7h0M331.4 44.8h0M332.0 42.3h0M332.9 47.5h0M334.0 45.3h0M333.4 45.7h0M332.0 46.2h0M331.6 46.1h0M331.4 43.5h0M336.1 45.3h0M333.9 47.1h0M331.6 44.0h0M330.5 45.8h0M332.5 44.5h0M331.5 45.4h0M335.4 45.5h0M333.0 42.3h0M330.3 50.8h0M331.0 44.7h0M335.7 41.1h0M333.5 45.9h0M334.1 47.1h0M331.5 46.1h0M335.0 43.2h0M336.4 44.5h0M337.5 39.9h0M337.5 44.0h0M330.7 42.0h0M333.7 45.0h0M330.7 41.0h0M338.6 43.7h0M331.8 47.9h0M329.6 43.9h0M332.8 45.7h0M335.3 48.5h0M335.5 42.4h0M329.8 44.6h0M328.9 41.6h0M334.4 48.0h0M334.7 43.1h0M335.3 44.7h0M329.2 41.8h0M336.1 46.3h0M332.5 44.0h0M332.0 46.7h0M333.7 45.2h0M331.0 47.1h0M333.8 44.0h0M333.2 46.5h0M335.0 46.2h0M335.2 48.6h0M330.4 43.2h0M337.0 45.7h0M334.4 41.0h0M334.8 42.2h0M336.5 45.0h0M334.6 42.6h0M327.4 43.8h0M334.0 43.0h0M333.0 45.7h0M333.3 45.3h0M330.6 43.9h0M333.6 41.2h0M335.1 38.5h0M333.6 43.9h0M335.3 46.7h0M333.3 40.7h0M336.3 45.2h0M340.0 44.1h0M327.2 46.7h0M319.3 46.8h0M320.9 46.1h0M320.6 46.2h0M325.4 46.3h0M322.2 43.7h0M315.2 46.3h0M318.7 48.6h0M319.0 44.0h0M314.2 46.0h0M321.2 44.1h0M317.2 44.5h0M315.2 46.3h0M322.4 46.8h0M325.8 47.4h0M323.0 45.6h0M319.4 49.3h0M317.8 47.1h0M322.2 45.1h0M319.0 48.7h0M317.2 44.0h0M316.4 43.8h0M324.5 46.6h0M320.2 45.8h0M317.3 45.6h0M320.8 45.5h0M325.0 46.5h0M321.4 46.6h0M322.4 44.7h0M319.5 48.9h0M314.7 47.1h0M322.1 45.0h0M321.9 46.9h0M322.1 47.6h0M320.8 45.4h0M324.7 45.0h0M325.4 47.2h0M319.7 48.6h0M321.5 46.9h0M318.1 47.8h0M321.5 46.9h0M321.6 44.2h0M321.6 45.9h0M319.3 46.2h0M318.6 45.6h0M322.5 45.9h0M319.6 45.1h0M315.2 44.7h0M324.7 45.1h0M317.9 45.8h0M321.3 46.6h0M320.9 49.5h0M319.3 45.6h0M321.9 46.4h0M322.3 46.4h0M319.4 46.7h0M323.8 45.4h0M321.8 47.9h0M318.1 43.5h0M320.6 47.8h0M320.3 48.0h0M318.8 46.1h0M321.6 43.4h0M323.0 50.1h0M317.4 48.1h0M323.5 46.5h0M316.8 46.5h0M319.5 46.4h0M325.4 44.6h0M319.4 48.3h0M317.1 45.6h0M322.0 46.2h0M312.4 48.6h0M317.6 46.2h0M320.7 45.6h0M320.3 46.5h0M323.5 47.9h0M321.5 45.7h0M320.4 45.6h0M320.2 46.6h0M318.7 45.9h0M324.0 44.3h0M317.0 45.2h0M320.6 44.4h0M321.4 44.2h0M317.8 44.4h0M326.3 45.4h0M320.8 45.8h0M320.6 46.7h0M320.1 48.0h0M321.6 46.6h0M322.6 46.9h0M321.1 48.5h0M321.3 47.3h0M320.7 47.4h0M321.1 43.8h0M320.8 44.9h0M319.6 44.0h0M313.1 45.0h0M321.9 46.7h0M320.3 47.6h0M313.6 47.3h0M320.6 45.3h0M320.1 47.1h0M318.5 46.6h0M316.8 44.9h0M323.3 42.7h0M320.0 47.4h0M320.1 47.7h0M318.0 46.0h0M318.4 47.9h0M318.2 43.9h0M317.7 46.9h0M320.3 47.1h0M321.5 50.5h0M321.8 44.7h0M322.1 47.1h0M320.1 43.6h0M319.7 46.3h0M320.1 46.5h0M318.3 46.6h0M319.9 46.6h0M317.3 47.1h0M322.1 45.8h0M323.6 46.5h0M320.9 45.9h0M322.3 45.7h0M325.0 47.2h0M318.7 48.3h0M326.1 46.9h0M325.3 46.0h0M319.7 44.5h0M319.0 48.7h0M318.5 47.3h0M326.7 45.2h0M323.9 43.5h0M318.7 45.4h0M321.3 44.7h0M321.6 43.4h0M316.1 46.8h0M323.4 48.3h0M316.2 44.8h0M319.4 44.7h0M321.3 47.5h0M321.5 47.0h0M323.8 46.8h0M320.5 49.3h0M319.5 47.9h0M318.0 48.1h0M322.5 46.5h0M320.9 44.0h0M320.3 45.4h0M319.9 48.0h0M317.8 46.9h0M318.3 46.1h0M320.8 46.1h0M324.3 43.6h0M319.7 48.7h0M320.3 44.0h0M323.8 46.2h0M322.1 42.8h0M317.9 46.7h0M315.3 45.1h0M319.7 46.7h0M319.1 46.6h0M319.2 44.7h0M321.9 45.1h0M319.5 45.9h0M325.1 45.0h0M320.7 45.9h0M317.0 47.2h0M321.4 48.1h0M323.6 48.1h0M318.0 45.9h0M320.9 46.8h0M318.5 47.2h0M323.1 45.0h0M318.7 45.7h0M320.1 46.8h0M321.6 46.1h0M318.5 49.3h0M317.8 44.1h0M319.4 50.1h0M320.5 46.8h0M316.6 49.5h0M315.2 45.8h0M318.1 47.2h0M317.3 45.2h0M319.7 47.2h0M320.7 45.2h0M322.5 46.5h0M316.7 50.2h0M316.5 45.5h0M322.3 47.3h0M325.8 43.5h0M322.9 46.6h0M320.4 47.9h0M321.7 48.6h0M322.3 45.9h0M323.3 43.1h0M318.6 47.6h0M319.5 46.6h0M319.2 45.3h0M320.0 45.0h0M316.1 45.5h0M319.4 45.9h0M318.0 45.2h0M322.2 45.4h0M319.6 47.0h0M320.3 45.6h0M319.0 47.9h0M323.0 45.9h0M322.4 45.7h0M322.2 45.7h0M323.3 44.5h0M322.2 47.3h0M319.0 46.0h0M319.0 44.7h0M320.4 46.9h0M319.5 47.8h0M324.6 45.6h0M320.1 44.4h0M318.3 43.7h0M324.5 46.9h0M322.1 47.3h0M319.7 47.8h0M319.0 46.2h0M322.1 46.4h0M320.3 44.9h0M319.7 49.0h0M326.1 45.1h0M321.3 46.8h0M318.4 44.9h0M319.6 46.3h0M322.5 45.0h0M325.0 45.6h0M317.5 45.9h0M318.5 45.3h0M320.9 46.1h0M316.5 46.1h0M319.8 45.8h0M318.6 45.5h0M317.0 48.4h0M322.6 43.6h0M316.6 45.2h0M315.4 46.7h0M319.0 45.9h0M320.0 45.5h0M322.7 45.7h0M320.1 48.4h0M322.4 47.7h0M319.4 47.1h0M323.4 44.9h0M316.5 45.9h0M323.8 46.2h0M315.4 46.9h0M320.4 44.7h0M320.9 47.9h0M319.6 45.6h0M323.2 48.5h0M324.6 44.9h0M316.3 46.2h0M322.9 45.0h0M318.7 47.1h0M320.8 46.2h0M325.0 45.1h0M319.6 47.9h0M320.1 45.9h0M321.4 46.0h0M316.0 47.1h0M323.2 46.8h0M315.1 49.1h0M319.5 43.8h0M324.6 45.1h0M321.9 45.0h0M316.9 45.1h0M317.3 43.1h0M323.8 44.6h0M320.5 47.0h0M321.3 44.9h0M322.2 45.2h0M318.3 44.4h0M319.8 46.3h0M322.6 47.1h0M319.4 44.5h0M322.0 45.2h0M320.7 48.0h0M317.9 48.8h0M318.2 46.9h0M318.2 47.2h0M319.2 45.4h0M319.2 49.0h0M321.0 46.0h0M321.1 46.5h0M319.8 46.9h0M321.4 46.9h0M325.2 45.9h0M318.0 43.8h0M324.9 44.1h0M322.1 45.1h0M315.8 46.0h0M321.2 46.9h0M325.5 47.4h0M320.2 46.9h0M319.5 47.0h0M324.4 46.0h0M316.4 46.9h0M320.4 47.4h0M319.8 46.0h0M319.8 46.6h0M323.4 45.6h0M324.4 46.7h0M322.8 45.9h0M325.1 45.0h0M321.0 44.3h0M319.7 44.1h0M325.0 45.5h0M321.0 44.8h0M314.8 48.6h0M320.1 45.7h0M318.7 47.3h0M320.6 46.7h0M318.3 45.9h0M318.7 45.5h0M318.9 46.8h0M324.2 44.8h0M318.7 44.6h0M325.2 46.6h0M321.5 44.8h0M319.2 45.7h0M318.7 45.8h0M319.4 47.1h0M323.2 46.5h0M315.7 49.6h0M319.2 46.0h0M316.4 48.4h0M320.9 44.4h0M319.9 46.2h0M318.3 44.5h0M317.6 46.4h0M319.1 46.3h0M318.3 45.3h0M322.9 45.1h0M320.4 46.2h0M321.5 46.6h0M323.8 44.3h0M322.8 45.2h0M322.8 46.3h0M322.7 46.1h0M324.0 44.5h0M326.0 44.8h0M325.7 45.4h0M318.9 42.7h0M317.5 44.9h0M319.5 45.0h0M322.3 47.5h0M317.1 46.5h0M319.2 44.3h0M322.0 44.6h0M318.7 47.0h0M320.6 45.4h0M319.7 45.4h0M322.6 46.5h0M317.2 45.9h0M317.7 47.2h0M318.7 47.1h0M318.8 48.1h0M320.4 44.8h0M327.2 45.7h0M318.7 44.1h0M320.9 45.9h0M325.0 44.4h0M324.0 45.9h0M319.8 47.5h0M322.8 44.7h0M320.6 46.0h0M325.9 44.9h0M323.7 46.1h0M318.9 48.8h0M318.6 45.7h0M318.3 47.5h0M314.2 46.4h0M315.0 47.6h0M321.3 44.9h0M317.0 48.4h0M320.8 47.0h0M318.7 49.7h0M322.1 45.5h0M320.5 47.6h0M318.1 46.2h0M323.0 46.2h0M317.0 45.8h0M317.4 46.8h0M319.8 46.4h0M322.8 47.6h0M317.5 44.1h0M323.8 44.3h0M323.9 46.6h0M321.0 44.4h0M321.4 48.5h0" stroke="#000" stroke-width="0.9" stroke-linecap="round" stroke-opacity="0.9" fill="none"/>
<path d="M354.9 73.2h0M355.5 84.9h0M351.9 68.8h0M353.0 70.4h0M352.9 82.3h0M360.2 78.2h0M348.9 70.5h0M353.8 64.4h0M351.0 77.4h0M350.9 66.9h0M349.3 79.5h0M354.8 78.6h0M351.6 67.4h0M351.7 62.6h0M355.3 60.6h0M352.8 73.2h0M349.8 76.8h0M356.3 75.6h0M354.7 85.6h0M355.1 71.1h0M353.7 74.9h0M349.5 74.6h0M352.9 75.0h0M356.0 72.3h0M352.2 71.0h0M352.7 73.6h0M353.2 72.4h0M351.9 72.1h0M349.2 71.2h0M353.8 76.1h0M353.2 71.2h0M351.7 76.3h0M352.8 74.1h0M350.9 71.3h0M351.7 59.9h0M351.2 73.1h0M354.7 73.3h0M349.1 70.4h0M348.4 68.7h0M355.2 60.6h0M351.5 70.6h0M350.8 75.0h0M356.1 65.4h0M349.3 65.2h0M353.4 79.7h0M355.1 73.2h0M349.0 66.7h0M353.6 77.7h0M351.9 66.3h0M352.3 73.0h0M356.3 76.8h0M352.0 76.5h0M353.6 81.7h0M346.7 81.6h0M347.4 72.5h0M355.0 70.4h0M355.4 65.7h0M348.3 71.9h0M355.1 77.7h0M353.1 86.3h0M349.2 79.2h0M353.1 75.5h0M356.0 67.0h0M354.5 75.0h0M351.9 72.9h0M354.6 80.0h0M351.8 72.7h0M354.4 61.8h0M356.0 72.7h0M351.2 72.7h0M353.5 70.3h0M357.8 62.8h0M352.4 66.3h0M351.5 67.9h0M352.1 66.4h0M353.7 75.7h0M353.5 69.1h0M353.7 72.3h0M354.1 73.5h0M350.4 78.7h0M355.0 65.0h0M352.0 68.8h0M354.2 66.1h0M352.8 73.1h0M351.1 68.6h0M358.9 71.9h0M345.6 77.0h0M348.6 68.9h0M352.3 76.2h0M353.7 81.1h0M351.0 80.4h0M354.3 74.3h0M349.7 82.8h0M353.8 78.6h0M349.7 78.5h0M352.7 74.0h0M355.0 69.8h0M353.0 71.3h0M348.5 73.1h0M355.5 64.4h0M352.6 85.9h0M353.2 74.3h0M354.1 63.3h0M350.8 78.2h0M353.9 74.5h0M351.8 77.4h0M353.5 74.0h0M358.0 73.2h0M355.8 74.1h0M349.6 74.2h0M354.6 66.3h0M350.5 82.7h0M348.8 75.0h0M355.7 65.9h0M355.3 80.9h0M350.3 72.7h0M352.3 69.0h0M352.9 76.9h0M354.8 69.4h0M355.4 74.6h0M349.7 75.0h0M350.8 74.2h0M348.0 70.9h0M351.9 63.8h0M345.9 68.1h0M349.8 65.5h0M352.2 77.5h0M354.2 69.0h0M352.2 77.0h0M353.3 65.0h0M351.6 77.6h0M351.9 64.2h0M350.3 63.0h0M353.3 79.8h0M352.7 79.1h0M352.7 69.3h0M353.6 69.8h0M352.2 64.7h0M354.5 72.6h0M350.3 65.9h0M353.0 65.6h0M350.2 70.0h0M349.0 75.2h0M354.3 83.9h0M354.1 76.8h0M351.5 69.6h0M357.4 76.0h0M357.8 85.5h0M350.9 79.1h0M353.3 70.0h0M354.5 68.8h0M357.0 79.3h0M351.3 75.0h0M351.2 71.1h0M355.6 73.2h0M354.6 65.2h0M351.4 80.8h0M353.3 70.7h0M353.6 64.8h0M352.8 60.3h0M351.5 77.8h0M350.3 71.9h0M352.2 60.2h0M351.8 76.0h0M351.4 63.9h0M353.3 75.1h0M349.7 77.7h0M355.9 73.8h0M353.2 66.4h0M355.9 69.9h0M356.7 77.2h0M356.9 68.5h0M352.5 71.2h0M352.8 67.0h0M355.4 71.3h0M352.7 81.2h0M352.6 76.4h0M352.0 79.6h0M351.5 75.0h0M349.7 73.9h0M350.7 66.3h0M355.7 75.2h0M354.5 66.7h0M350.9 73.3h0M351.0 68.1h0M354.6 81.1h0M354.7 70.9h0M349.5 79.0h0M353.9 75.1h0M356.2 70.8h0M354.0 75.1h0M349.7 70.7h0M348.4 77.7h0M352.3 60.0h0M347.2 73.7h0M350.2 67.8h0M349.0 70.0h0M353.2 64.5h0M350.8 64.3h0M347.2 68.3h0M352.3 82.3h0M349.1 67.1h0M353.3 71.7h0M351.6 80.9h0M350.1 69.4h0M351.1 81.0h0M350.5 67.7h0M353.1 77.3h0M355.6 79.4h0M354.6 75.6h0M348.5 77.3h0M350.7 70.5h0M355.1 74.7h0M351.9 80.9h0M352.7 69.1h0M351.5 76.4h0M351.5 78.9h0M351.6 54.8h0M353.0 77.5h0M354.4 66.1h0M349.7 68.1h0M350.2 76.6h0M354.6 77.2h0M348.5 74.9h0M353.7 72.6h0M351.4 66.3h0M354.8 60.4h0M351.9 79.0h0M349.8 73.4h0M359.9 64.7h0M354.3 62.9h0M349.0 72.8h0M354.3 56.2h0M352.6 67.7h0M353.7 75.1h0M353.4 73.9h0M353.4 73.1h0M350.7 73.0h0M350.5 69.4h0M355.4 77.4h0M351.5 76.4h0M354.7 69.0h0M353.0 78.5h0M351.3 67.2h0M353.5 65.8h0M356.2 69.4h0M351.1 78.5h0M362.5 67.8h0M354.1 73.1h0M354.4 79.7h0M357.0 80.5h0M350.4 79.1h0M352.4 67.4h0M352.4 64.7h0M354.9 62.0h0M350.6 85.9h0M351.1 64.1h0M352.4 62.7h0M354.4 70.6h0M355.6 69.1h0M353.4 72.2h0M356.0 68.9h0M352.3 81.7h0M348.3 81.6h0M350.3 68.4h0M351.5 68.0h0M354.5 71.3h0M352.4 85.1h0M353.7 71.4h0M352.2 78.2h0M354.3 64.7h0M349.3 70.0h0M347.7 71.6h0M355.7 79.4h0M357.5 78.7h0M351.4 75.2h0M350.5 62.6h0M345.6 73.1h0M352.4 77.2h0M353.7 70.4h0M352.0 68.8h0M353.2 72.3h0M349.8 80.4h0M349.1 67.6h0M353.1 77.3h0M351.6 68.8h0M357.7 72.6h0M352.6 82.5h0M351.7 84.2h0M351.0 70.1h0M356.7 66.9h0M353.2 79.9h0M354.1 71.7h0M350.8 73.6h0M353.2 82.7h0M354.8 76.0h0M349.2 65.2h0M353.4 76.8h0M352.6 59.2h0M353.5 76.8h0M350.4 76.5h0M350.8 70.8h0M355.0 74.8h0M350.6 74.1h0M355.4 69.9h0M354.9 82.3h0M352.7 85.8h0M352.9 58.8h0M348.1 79.2h0M351.2 63.8h0M354.5 73.1h0M349.5 65.5h0M351.2 69.9h0M352.9 69.2h0M350.5 64.9h0M351.2 81.4h0M353.5 68.5h0M354.3 72.4h0M357.8 79.5h0M357.9 75.0h0M355.2 60.4h0M350.2 70.4h0M346.1 73.8h0M354.5 70.9h0M351.3 82.1h0M351.8 68.5h0M350.0 73.2h0M351.7 61.7h0M351.2 79.1h0M357.1 74.6h0M351.4 71.3h0M350.9 73.0h0M349.6 77.0h0M355.4 71.0h0M351.3 71.3h0M354.9 65.4h0M353.9 75.5h0M353.3 76.2h0M354.2 69.5h0M355.4 83.4h0M348.3 79.9h0M352.0 71.7h0M358.2 75.3h0M355.6 72.7h0M354.4 69.4h0M357.9 61.0h0M351.1 68.2h0M354.0 76.1h0M354.3 83.4h0M348.8 70.6h0M352.1 76.3h0M352.5 69.8h0M349.4 67.6h0M352.3 68.9h0M351.9 81.9h0M351.5 72.9h0M354.3 83.5h0M355.0 87.2h0M354.0 79.0h0M350.6 77.9h0M350.6 78.8h0M352.5 68.6h0M352.5 74.5h0M353.4 71.0h0M358.9 71.4h0M350.9 75.2h0M353.5 85.7h0M350.2 69.6h0M352.5 78.9h0M353.6 75.9h0M351.8 69.6h0M356.6 76.1h0M354.2 70.8h0M350.0 61.7h0M355.0 75.5h0M350.7 61.9h0M353.3 67.0h0M355.1 72.4h0M349.3 75.0h0M353.4 70.4h0M349.1 68.3h0M351.7 68.4h0M355.2 71.2h0M355.6 78.6h0M352.4 71.6h0M351.6 76.5h0M353.2 69.7h0M351.9 77.6h0M350.0 71.4h0M352.6 79.6h0M353.4 82.4h0M357.6 62.8h0M354.8 66.0h0M351.3 77.0h0M350.0 73.0h0M349.0 69.6h0M352.1 74.8h0M351.4 79.6h0M352.0 77.4h0M355.1 81.7h0M354.9 70.2h0M349.4 65.7h0M349.6 64.4h0M349.1 77.6h0M356.3 86.6h0M350.6 75.6h0M352.5 83.5h0M354.1 79.9h0M350.8 71.1h0M348.5 86.2h0M348.3 68.9h0M347.5 70.9h0M345.6 67.7h0M354.3 78.3h0M353.4 71.5h0M351.5 79.7h0M356.4 72.5h0M351.5 69.8h0M352.2 73.5h0M352.6 75.9h0M349.9 69.4h0M351.2 67.8h0M349.6 74.5h0M352.5 74.0h0M353.2 67.4h0M354.4 65.3h0M354.7 79.4h0M355.8 72.8h0M354.7 81.7h0M350.9 73.4h0M356.7 69.9h0M351.6 72.1h0M353.5 75.3h0M357.7 67.6h0M349.6 79.3h0M354.5 74.5h0M350.3 64.2h0M349.5 77.2h0M350.7 70.4h0M354.0 79.7h0M351.7 79.8h0M353.2 74.5h0M350.3 71.3h0M352.1 70.0h0M352.4 64.2h0M348.7 68.5h0M352.5 68.7h0M352.6 71.9h0M353.0 67.7h0M352.1 72.5h0M352.3 73.6h0M353.8 68.3h0M350.3 70.4h0M358.9 61.8h0M351.3 74.7h0M346.1 61.8h0M348.6 69.5h0M352.7 71.6h0M353.3 77.8h0M350.7 75.1h0M351.3 66.9h0M351.9 79.0h0M354.6 63.2h0M355.9 77.1h0M356.1 83.7h0M352.8 65.3h0M349.1 82.1h0M354.0 69.7h0M352.2 68.7h0M351.5 64.7h0M353.2 76.9h0M353.9 74.9h0M354.8 73.2h0M349.9 75.3h0M350.3 67.0h0M349.3 72.8h0M353.7 74.6h0M349.2 77.0h0M349.8 72.0h0M349.3 58.9h0M349.7 72.1h0M356.6 79.1h0M350.8 83.1h0M351.4 80.5h0M353.7 76.3h0M350.4 79.6h0M354.3 82.3h0M352.5 74.2h0M348.7 78.2h0M355.1 66.0h0M353.8 68.0h0M352.3 73.3h0M351.3 68.0h0M352.8 72.6h0M351.0 78.9h0M351.0 70.1h0M351.9 71.2h0M353.8 71.2h0M350.9 65.6h0M354.8 80.7h0M351.5 74.3h0M350.1 68.5h0M351.9 80.7h0M353.4 79.7h0M353.4 76.0h0M351.9 78.8h0M348.9 65.5h0M352.9 68.0h0M352.6 72.0h0M354.2 65.8h0M350.8 66.1h0M353.0 76.2h0M351.4 69.5h0M352.2 73.7h0M353.7 66.7h0M348.5 85.2h0M349.9 81.3h0M354.5 61.0h0M352.1 68.4h0M352.3 81.4h0M355.5 71.6h0M350.5 68.8h0M354.0 67.3h0M355.1 71.8h0M355.4 71.5h0M359.3 72.3h0M355.7 75.3h0M351.0 69.6h0M358.7 81.2h0M356.0 65.5h0M355.4 74.0h0M345.9 73.7h0M351.7 73.6h0M352.1 64.6h0M351.9 82.7h0M353.4 82.9h0M352.4 74.4h0M352.7 70.5h0M350.3 72.5h0M352.6 76.4h0M349.3 76.1h0M347.0 74.8h0M351.0 71.7h0M352.1 70.4h0M352.8 67.8h0M353.0 79.5h0M350.7 71.1h0M356.3 72.8h0M349.1 81.1h0M352.9 78.6h0M350.8 72.7h0M353.7 86.2h0M352.5 75.4h0M350.8 85.5h0M346.3 74.3h0M353.9 74.9h0M350.6 76.1h0M349.8 71.3h0M349.8 71.6h0M351.8 69.7h0M349.8 75.4h0M350.9 72.4h0M355.3 70.3h0M354.3 68.1h0M353.5 74.3h0M351.7 64.4h0M352.3 71.4h0M354.8 76.9h0M352.6 57.7h0M354.0 77.6h0M355.6 81.5h0M351.8 68.5h0M352.5 72.9h0M349.6 71.9h0M349.1 82.3h0M352.1 68.0h0M349.0 65.8h0M350.4 74.6h0M348.7 64.0h0M354.2 80.9h0M352.9 74.6h0M353.5 67.9h0M352.1 79.0h0M354.0 64.7h0M350.5 77.0h0M351.5 73.6h0M352.9 67.7h0M350.0 70.5h0M355.6 76.4h0M351.4 72.9h0M353.0 63.4h0M350.7 72.1h0M354.0 65.7h0M349.3 67.1h0M352.0 71.2h0M355.2 79.8h0M356.3 64.8h0M353.5 57.8h0M349.0 75.8h0M350.4 76.7h0M353.3 79.9h0M355.0 73.4h0M356.1 73.8h0M349.6 70.5h0M347.5 66.1h0M356.5 83.2h0M350.2 78.1h0M349.9 59.7h0M350.2 69.6h0M352.6 79.4h0M352.1 70.9h0M353.2 66.1h0M351.5 87.2h0M351.4 73.1h0M350.0 60.2h0M350.6 70.9h0M348.9 81.1h0M349.9 73.0h0M349.5 70.3h0M350.6 76.4h0M351.1 83.6h0M353.0 73.7h0M352.5 69.2h0M351.8 78.1h0M353.7 65.1h0M354.5 65.2h0M347.7 86.5h0M351.1 64.9h0M354.3 75.7h0M353.3 80.7h0M350.9 75.2h0M349.9 74.6h0M354.9 73.6h0M350.0 67.8h0M356.6 70.0h0M354.3 77.2h0M351.7 74.4h0M357.4 63.9h0M349.9 73.8h0M353.7 80.6h0M353.1 75.7h0M355.7 68.6h0M355.5 74.4h0M353.5 69.3h0M352.1 66.2h0M354.0 78.2h0M350.9 73.1h0M353.5 64.5h0M348.5 72.5h0M352.8 68.0h0M346.3 61.3h0M352.9 74.7h0M352.3 67.9h0M355.7 77.9h0M350.8 70.1h0M350.7 82.6h0M347.7 81.4h0M355.4 77.6h0M349.9 75.3h0M354.0 84.3h0M352.2 70.6h0M351.0 71.6h0M354.3 78.8h0M348.0 74.7h0M352.4 80.1h0M357.4 80.2h0M354.3 66.4h0M357.9 66.5h0M350.2 73.6h0M351.5 80.3h0M349.6 77.7h0M352.0 60.0h0M354.2 76.2h0M351.7 70.1h0M355.0 79.9h0M354.4 80.3h0M353.3 77.9h0M351.5 87.7h0M350.0 69.2h0M351.2 65.5h0M348.0 70.0h0M356.9 74.3h0M357.2 83.9h0M352.7 74.5h0M356.9 69.9h0M348.6 76.9h0M358.7 73.5h0M353.1 70.7h0M349.6 64.2h0M352.3 77.8h0M352.9 69.1h0M354.0 77.3h0M346.4 66.6h0M356.3 88.0h0M346.9 71.6h0M352.7 77.2h0M354.6 80.4h0M353.0 80.9h0M352.7 78.4h0M348.2 75.5h0M350.6 74.5h0M352.1 73.2h0M354.9 84.1h0M351.9 67.0h0M354.7 83.4h0M351.0 67.6h0M353.3 66.4h0M350.8 74.3h0M349.7 73.6h0M351.9 76.6h0M351.4 72.3h0M354.6 70.5h0M356.1 65.5h0M353.1 70.4h0M347.7 70.4h0M352.5 67.6h0M356.8 67.6h0M354.1 72.3h0M354.2 79.8h0M355.5 71.7h0M355.5 79.2h0M355.4 79.3h0M354.8 79.4h0M351.5 69.8h0M348.9 73.1h0M356.5 65.9h0M348.3 72.2h0M351.2 67.9h0M352.0 78.7h0M356.1 72.8h0M351.3 77.9h0M350.5 77.5h0M350.1 84.3h0M355.6 71.1h0M352.2 85.1h0M352.0 73.1h0M354.3 72.4h0M348.3 77.0h0M350.4 70.3h0M349.0 85.4h0M352.1 70.9h0M355.8 78.8h0M355.0 71.5h0M351.8 73.4h0M354.0 65.9h0M357.3 65.9h0M350.2 68.3h0M355.0 67.2h0M347.9 57.9h0M350.2 64.7h0M350.9 68.2h0M352.1 64.6h0M358.7 64.9h0M351.3 80.5h0M349.8 75.4h0M352.3 80.9h0M353.5 79.2h0M353.6 81.1h0M352.6 72.7h0M352.5 73.9h0M351.8 79.9h0M351.6 86.5h0M352.1 70.9h0M353.3 60.0h0M357.0 80.8h0M353.5 79.2h0M354.3 67.0h0M353.5 69.3h0M348.3 62.0h0M355.1 71.2h0M351.6 76.3h0M351.3 65.2h0M354.3 74.0h0M355.5 77.4h0M349.7 69.4h0M354.6 55.8h0M348.1 69.4h0M352.7 67.5h0M354.5 69.0h0M356.7 74.2h0M352.6 72.3h0M351.5 68.0h0M349.0 81.9h0M352.5 70.1h0M349.3 64.3h0M352.5 74.4h0M357.3 72.9h0M352.8 69.3h0M351.8 69.0h0M352.8 74.4h0M350.9 77.2h0M353.0 79.7h0M356.3 78.6h0M351.9 67.4h0M355.2 74.2h0M348.7 71.1h0M354.7 78.1h0M352.6 77.2h0M352.4 69.8h0M350.8 76.4h0M348.5 75.3h0M352.3 81.5h0M348.9 80.1h0M354.8 69.2h0M352.4 68.4h0M353.4 64.0h0M354.5 73.2h0M356.1 69.3h0M348.6 80.2h0M352.9 74.7h0M351.9 64.8h0M352.4 75.5h0M349.3 75.8h0M352.7 64.7h0M352.7 67.4h0M352.5 73.1h0M347.2 78.0h0M353.9 68.0h0M350.3 70.6h0M354.8 62.0h0M351.6 78.6h0M349.1 62.7h0M353.2 71.3h0M355.2 73.0h0M356.8 82.5h0M351.2 74.9h0M355.9 66.4h0M356.6 79.9h0M355.7 69.4h0M350.9 72.3h0M353.9 71.3h0M355.6 78.5h0M354.2 68.4h0M350.8 62.7h0M347.9 75.0h0M351.5 68.0h0M351.1 81.1h0M351.3 77.1h0M353.7 70.6h0M352.2 63.2h0M353.6 74.9h0M353.9 79.3h0M351.9 73.0h0M353.3 65.5h0M351.6 62.0h0M350.8 68.9h0M353.3 76.3h0M347.1 77.1h0M353.5 68.5h0M349.7 84.9h0M352.1 80.5h0M352.1 64.1h0M351.1 77.0h0M351.3 72.1h0M356.5 81.2h0M349.9 67.7h0M350.7 86.6h0M353.8 67.9h0M351.1 79.0h0M351.9 81.3h0M353.0 78.7h0M350.1 77.4h0M350.7 77.0h0M353.5 63.2h0M353.4 86.5h0M350.6 71.1h0M351.3 71.4h0M353.8 72.8h0M351.8 62.7h0M351.2 72.3h0M352.1 70.1h0M348.6 65.8h0M352.5 70.4h0M351.0 65.8h0M353.9 60.6h0M351.8 66.7h0M351.6 67.2h0M352.9 69.7h0M354.9 74.3h0M356.5 74.2h0M351.2 67.3h0M351.6 74.1h0M351.7 77.2h0M351.9 67.6h0M353.2 61.7h0M354.2 65.7h0M352.8 65.3h0M355.8 78.0h0M354.7 87.0h0M351.5 66.0h0M356.1 73.8h0M350.9 69.2h0M353.1 81.5h0M349.9 67.2h0M353.3 66.7h0M351.5 81.4h0M352.2 82.3h0M352.5 75.3h0M350.9 69.8h0M348.8 78.4h0M352.5 66.0h0M350.7 70.9h0M358.7 73.6h0M351.1 65.4h0M357.5 63.6h0M350.6 70.2h0M353.2 79.5h0M351.5 77.3h0M354.1 87.3h0M350.9 71.9h0M355.0 78.3h0M349.4 77.5h0M351.4 67.2h0M351.8 74.2h0M351.0 80.2h0M357.2 79.3h0M348.6 72.9h0M354.5 72.3h0M352.3 64.0h0M353.3 63.1h0M355.3 71.0h0M359.6 82.9h0M351.3 69.8h0M355.6 78.2h0M354.9 62.5h0M348.2 62.4h0M352.6 73.1h0M350.1 67.8h0M353.3 72.0h0M355.9 69.6h0M354.8 75.5h0M351.0 73.1h0M353.5 68.0h0M354.9 60.6h0M349.5 86.7h0M350.0 69.2h0M350.5 77.9h0M346.6 81.8h0M350.4 63.8h0M356.2 77.0h0M352.2 65.0h0M354.5 78.3h0M352.9 72.8h0M347.8 71.9h0M351.4 84.3h0M350.0 71.5h0M351.3 73.0h0M353.7 69.1h0M351.1 78.5h0M352.0 71.2h0M349.8 86.3h0M359.7 74.8h0M351.5 79.0h0M354.2 70.5h0M352.2 75.0h0M350.0 73.1h0M355.6 83.8h0M348.7 72.2h0M352.5 68.0h0M353.7 69.4h0M348.4 72.3h0M354.7 81.1h0M352.0 81.5h0M358.7 74.1h0M347.8 70.3h0M351.3 74.7h0M350.1 75.9h0M353.3 70.4h0M355.5 79.8h0M353.1 76.3h0M352.5 81.1h0M351.5 72.4h0M354.4 66.1h0M351.0 83.2h0M353.2 75.0h0M351.3 78.1h0M357.1 60.3h0M352.9 67.2h0M356.2 72.7h0M349.0 65.1h0M350.9 65.8h0M352.7 75.9h0M352.6 75.5h0M352.9 78.1h0M356.2 86.4h0M355.0 60.2h0M345.0 82.2h0M352.6 65.1h0M350.3 77.2h0M353.7 72.0h0M353.2 73.6h0M356.8 76.7h0M350.5 67.4h0M354.4 73.4h0M352.1 80.7h0M353.8 68.9h0M352.7 68.1h0M348.8 80.2h0M349.9 75.3h0M354.8 65.8h0M349.7 62.3h0M351.0 76.4h0M356.8 61.6h0M354.0 73.3h0M351.1 83.6h0M358.7 73.3h0M346.0 72.5h0M352.1 62.7h0M346.6 75.9h0M347.5 72.5h0M353.9 77.1h0M348.5 83.2h0M351.5 84.0h0M350.8 64.7h0M351.7 69.4h0M351.7 71.0h0M349.8 78.0h0M352.1 78.5h0M348.5 76.3h0M351.0 78.7h0M352.9 67.4h0M354.4 81.1h0M353.2 68.9h0M351.7 77.0h0M354.1 71.0h0M351.7 70.9h0M352.0 74.5h0M352.2 77.4h0M351.7 75.3h0M349.6 77.3h0M352.1 76.8h0M352.4 78.7h0M351.7 81.1h0M351.8 75.2h0M356.0 69.5h0M353.3 83.1h0M351.6 61.3h0M349.0 75.3h0M353.2 63.3h0M347.7 69.0h0M351.3 72.3h0M358.4 69.9h0M349.2 76.6h0M350.4 73.3h0M352.2 69.9h0M353.7 82.0h0M352.1 67.9h0M349.5 68.0h0M354.4 84.3h0M352.7 86.9h0M353.8 76.7h0M350.8 71.5h0M354.1 74.8h0M353.7 59.0h0M351.4 66.6h0M348.4 69.8h0M352.0 77.2h0M352.7 79.5h0M352.7 63.1h0M353.5 66.6h0M350.1 70.2h0M351.9 75.8h0M347.0 67.0h0M353.4 79.9h0M348.0 76.0h0M351.3 79.4h0M354.8 69.6h0M348.7 76.2h0M353.6 74.1h0M353.1 69.9h0M354.7 71.4h0M355.5 66.0h0M355.5 74.0h0M347.8 79.6h0M351.6 76.2h0M353.1 79.9h0M352.3 67.8h0M348.8 79.1h0M349.4 70.5h0M352.6 71.1h0M352.4 65.4h0M356.4 71.3h0M353.5 74.8h0M357.5 83.4h0M355.8 69.8h0M351.0 81.3h0M352.6 71.2h0M354.1 69.8h0M351.0 65.9h0M352.4 75.6h0M356.6 71.6h0M354.2 85.9h0M348.0 78.5h0M348.3 70.3h0M348.1 75.0h0M353.3 63.1h0M348.9 58.4h0M351.2 62.9h0M350.6 70.6h0M350.4 72.2h0M351.3 81.3h0M356.4 65.9h0M350.8 79.3h0M354.5 71.0h0M352.1 71.1h0M347.2 82.2h0M352.3 62.4h0M352.3 78.0h0M351.0 62.9h0M352.3 62.9h0M352.0 76.3h0M353.0 64.4h0M351.9 64.0h0M353.3 75.8h0M356.7 80.3h0M351.3 80.2h0M353.5 76.6h0M356.0 78.0h0M353.2 77.1h0M352.5 64.6h0M348.6 71.3h0M355.1 84.5h0M350.3 75.9h0M352.8 75.9h0M356.2 57.4h0M351.2 73.2h0M351.9 84.9h0M349.5 76.0h0M349.0 68.6h0M351.5 68.8h0M353.4 71.1h0M350.1 82.5h0M352.6 80.4h0M351.7 76.6h0M354.4 66.7h0M351.9 63.0h0M359.1 80.4h0M352.6 64.9h0M349.4 72.8h0M351.6 80.6h0M351.7 76.6h0M352.1 82.2h0M352.7 77.2h0M354.8 69.9h0M347.7 67.7h0M351.1 60.1h0M354.2 72.4h0M351.7 66.2h0M351.5 71.4h0M352.9 78.5h0M350.9 62.9h0M353.6 72.5h0M351.9 70.1h0M352.4 70.7h0M356.0 66.8h0M354.3 65.0h0M352.8 83.5h0M355.3 68.3h0M352.2 78.0h0M352.2 68.2h0M351.3 71.2h0M350.1 60.7h0M348.2 87.3h0M355.3 74.4h0M352.4 69.2h0M353.9 79.3h0M354.8 74.2h0M354.7 64.9h0M352.9 73.0h0M353.9 80.5h0M357.5 65.4h0M352.6 80.5h0M352.6 72.1h0M352.3 69.9h0M350.2 73.0h0M353.0 71.8h0M349.2 74.8h0M352.2 80.5h0M351.1 56.2h0M352.8 72.6h0M353.9 69.9h0M350.0 73.3h0M350.5 74.3h0M352.6 77.5h0M348.1 70.8h0M356.3 70.9h0M352.8 79.9h0M356.4 81.3h0M350.4 75.3h0M353.1 70.4h0M349.6 77.4h0M350.9 64.8h0M350.4 64.2h0M351.6 81.1h0M351.0 75.5h0M353.4 75.6h0M354.4 77.0h0M350.4 63.9h0M348.9 75.9h0M353.5 72.5h0M326.6 48.5h0M327.2 53.1h0M335.4 44.3h0M329.7 46.9h0M316.3 50.1h0M319.5 43.0h0M325.1 49.8h0M327.5 46.2h0M326.4 46.0h0M329.3 39.6h0M345.6 40.9h0M330.3 38.1h0M335.6 44.7h0M331.5 42.3h0M319.3 44.2h0M319.5 44.2h0M330.3 45.0h0M332.4 41.5h0M323.0 46.2h0M338.8 44.1h0M324.3 50.9h0M323.2 50.3h0M333.7 38.1h0M326.2 41.8h0M322.9 40.3h0M326.7 48.8h0M328.2 43.6h0M327.3 47.3h0M332.0 44.2h0M331.9 41.6h0M317.8 44.5h0M314.8 42.2h0M335.7 40.3h0M326.0 45.4h0M337.0 39.1h0M330.8 45.5h0M330.7 42.5h0M322.5 38.5h0M324.9 42.5h0M328.3 35.6h0M324.3 51.2h0M319.5 47.1h0M318.4 43.0h0M332.6 43.9h0M319.5 42.8h0M316.9 52.0h0M320.7 49.7h0M335.4 47.4h0M329.3 43.1h0M333.1 43.5h0M330.3 48.0h0M317.7 46.1h0M327.7 48.7h0M323.7 43.4h0M330.5 42.4h0M323.9 44.8h0M329.7 44.3h0M320.6 38.2h0M330.1 48.2h0M324.0 49.5h0M327.2 48.6h0M328.8 47.1h0M337.6 40.6h0M327.8 39.8h0M328.8 45.0h0M321.5 42.5h0M334.0 44.2h0M323.7 47.0h0M334.1 45.4h0M324.4 45.8h0M327.6 51.3h0M318.4 43.2h0M343.5 42.4h0M328.0 43.7h0M336.5 41.8h0M332.5 47.2h0M326.5 43.4h0M324.5 44.7h0M318.1 51.2h0M322.7 38.6h0M324.2 46.2h0M325.8 47.4h0M325.6 37.7h0M328.0 43.3h0M324.3 41.1h0M329.8 42.8h0M320.4 43.7h0M322.1 46.8h0M325.2 41.2h0M327.6 42.2h0M323.1 49.7h0M342.8 44.1h0M330.5 42.2h0M317.3 42.4h0M319.5 46.5h0M319.3 47.4h0M326.4 43.0h0M330.4 45.6h0M324.4 48.3h0M326.9 45.3h0M326.6 49.0h0M330.9 43.6h0M333.8 51.1h0M324.6 45.7h0M323.6 45.6h0M326.9 46.9h0M335.8 44.0h0M322.3 45.4h0M329.2 49.3h0M323.8 53.0h0M331.0 42.5h0M340.2 40.8h0M332.2 41.6h0M330.0 38.0h0M333.3 46.4h0M316.5 53.0h0M338.1 36.4h0M338.6 40.6h0M336.0 41.8h0M321.7 45.7h0M322.8 45.6h0M331.4 48.2h0M325.0 47.0h0M323.1 47.3h0M322.7 47.0h0M319.4 41.2h0M323.1 49.6h0M327.3 36.7h0M339.2 40.7h0M329.4 47.8h0M325.5 45.3h0M333.3 43.4h0M324.9 38.0h0M320.7 45.3h0M333.3 43.3h0M328.0 48.8h0M311.5 48.6h0M323.3 44.5h0M318.3 49.4h0M318.7 44.6h0M337.9 48.5h0M323.0 42.2h0M322.6 43.3h0M331.9 50.0h0M332.1 46.4h0M336.0 47.0h0M321.8 51.2h0M331.2 48.5h0M325.1 45.3h0M332.6 48.3h0M322.3 48.6h0M324.6 42.6h0M329.2 46.0h0M330.1 48.1h0M322.6 46.3h0M339.5 48.9h0M326.2 47.4h0M333.4 45.4h0M332.0 48.2h0M339.9 44.5h0M322.7 45.5h0M324.3 48.9h0M331.2 47.4h0M326.2 49.0h0M331.5 45.0h0M326.9 48.1h0M331.3 42.4h0M326.5 42.5h0M325.0 46.5h0M332.8 46.3h0M328.9 48.0h0M320.2 41.2h0M332.7 47.1h0M325.3 46.9h0M332.6 47.1h0M333.3 46.5h0M331.1 39.3h0M328.0 41.8h0M331.1 47.4h0M330.4 40.2h0M327.7 45.1h0M330.5 43.6h0M317.7 49.1h0M327.1 46.3h0M332.4 43.9h0M330.6 42.8h0M315.1 45.5h0M325.9 44.5h0M338.0 45.0h0M315.8 44.1h0M329.9 48.4h0M332.6 45.1h0M335.8 45.8h0M324.4 42.6h0M336.6 44.3h0M340.6 39.7h0M337.2 45.0h0M322.1 44.5h0M337.7 43.3h0M330.3 50.9h0M372.0 37.1h0M330.1 64.7h0M358.8 83.0h0M367.1 56.6h0M326.7 72.7h0M368.6 56.7h0M329.9 60.9h0M346.5 74.7h0M372.8 51.3h0M357.7 41.0h0M338.1 78.6h0M377.1 53.5h0M374.3 44.5h0M370.3 35.7h0M317.5 41.1h0" stroke="#000" stroke-width="0.8" stroke-linecap="round" stroke-opacity="0.27" fill="none"/>
<path d="M347.5 88.3h0M352.0 88.7h0M347.2 88.4h0M340.8 88.6h0M340.4 88.6h0M343.1 88.1h0M360.1 88.5h0M343.6 88.6h0M346.8 88.4h0M348.6 88.5h0M343.1 88.1h0M338.4 87.9h0M347.7 88.6h0M353.6 88.3h0M362.0 88.2h0M348.8 88.0h0M362.9 88.1h0M346.6 88.0h0M351.9 88.4h0M347.6 88.4h0M351.2 88.0h0M354.2 88.8h0M354.3 88.0h0M344.2 88.1h0M362.7 88.6h0M359.5 88.6h0M337.8 88.6h0M350.1 88.6h0M350.4 88.6h0M337.8 88.7h0M340.0 88.3h0M348.6 88.8h0M357.3 88.5h0M359.5 88.6h0M348.8 88.2h0M354.4 88.2h0M355.0 88.8h0M339.3 88.3h0M342.4 88.2h0M346.5 88.7h0M339.0 88.4h0M340.1 88.5h0M359.2 88.2h0M346.4 88.3h0M344.0 88.7h0M341.1 88.5h0M354.0 88.1h0M351.2 88.1h0M355.5 88.5h0M350.3 88.1h0M359.9 88.4h0M356.4 88.0h0M338.8 88.8h0M341.7 88.3h0M354.8 88.3h0M345.1 88.4h0M354.4 88.6h0M353.6 87.9h0M344.5 88.2h0M351.8 88.0h0M359.8 88.2h0M340.9 88.6h0M342.9 88.1h0M353.1 88.7h0M343.8 88.5h0M342.9 88.0h0M360.3 88.5h0M341.7 88.3h0M359.1 88.5h0M352.7 88.9h0M345.0 88.0h0M343.3 88.8h0M359.8 88.6h0M356.2 87.9h0M346.9 88.7h0M344.3 88.3h0M352.6 88.4h0M355.9 88.2h0M342.9 88.1h0M357.4 88.3h0M350.4 88.3h0M359.3 88.4h0M356.4 87.9h0M357.4 88.5h0M358.3 88.8h0M344.7 88.7h0M339.7 88.6h0M339.1 88.9h0M358.1 88.2h0M360.2 88.4h0M338.3 88.1h0M340.0 88.8h0M354.2 88.1h0M341.0 88.4h0M351.8 88.3h0M353.9 88.1h0M358.5 87.9h0M345.1 88.3h0M338.0 88.9h0M341.8 87.9h0M354.1 88.0h0M352.5 88.6h0M360.4 88.2h0M362.1 88.7h0M357.9 88.8h0M356.8 88.6h0M348.0 88.7h0M345.4 88.8h0M340.7 88.6h0M341.7 88.6h0M362.1 88.8h0M355.7 88.6h0M356.3 88.1h0M349.1 88.4h0M341.0 88.6h0M362.8 88.5h0M347.4 88.8h0M339.2 88.5h0M358.6 88.1h0M344.2 88.5h0M352.1 88.2h0M340.8 88.0h0M347.8 88.9h0M350.7 88.0h0M351.0 88.1h0M344.6 88.8h0M342.9 88.9h0M351.1 88.2h0M350.6 88.6h0M361.3 88.8h0M340.5 88.8h0M338.8 88.0h0M340.1 88.0h0M339.6 88.6h0M342.6 88.2h0M342.1 88.9h0M345.0 88.3h0M354.7 88.1h0M361.1 88.7h0M353.0 88.0h0M359.4 88.2h0M349.2 88.3h0M362.5 88.3h0M356.6 88.0h0M356.2 88.7h0M362.2 88.6h0M341.0 88.3h0M358.5 88.9h0M341.1 88.8h0M348.9 87.9h0M340.5 88.8h0M349.8 87.9h0M362.0 88.4h0M347.9 88.6h0M346.1 88.4h0M346.4 88.5h0M338.5 88.9h0M360.3 88.4h0M362.8 88.6h0M359.4 88.2h0M359.2 88.8h0M356.5 88.9h0M343.2 88.0h0M343.1 88.4h0M346.0 88.6h0M347.1 88.3h0M338.6 88.5h0M358.5 88.2h0M356.9 88.5h0M340.1 88.7h0M339.4 88.6h0M340.5 88.3h0M348.5 87.9h0M356.3 88.3h0M351.8 88.0h0M341.0 88.6h0M359.9 88.2h0M357.1 88.2h0M338.4 88.9h0M342.4 88.8h0M353.0 88.9h0M357.1 88.6h0M346.8 88.8h0M344.5 88.2h0M339.5 88.2h0M347.7 88.5h0M357.6 88.4h0M360.2 88.2h0M342.5 88.4h0M352.8 88.4h0M348.8 88.6h0M344.9 88.5h0M347.0 88.6h0M349.7 88.8h0M348.3 88.5h0M357.8 88.1h0M346.0 88.8h0M346.5 88.5h0M345.6 88.6h0M337.8 88.6h0" stroke="#000" stroke-width="1.0" stroke-linecap="round" stroke-opacity="0.4" fill="none"/>
<line x1="344.4" y1="18.9" x2="344.4" y2="89" stroke="#7f8cc6" stroke-width="0.75"/>
<line x1="310.9" y1="54.2" x2="379.9" y2="54.2" stroke="#7f8cc6" stroke-width="0.75"/>
<rect x="310.9" y="19.2" width="69.00" height="69.80" fill="none" stroke="#858585" stroke-width="0.9"/>
<line x1="310.0" y1="20.2" x2="310.0" y2="89" stroke="#666" stroke-width="1" stroke-dasharray="0.6 1.9"/>
<line x1="310.9" y1="89.9" x2="378.9" y2="89.9" stroke="#666" stroke-width="1" stroke-dasharray="0.6 1.9"/>
<rect x="311.40" y="21.40" width="15.26" height="6.6" fill="#fff"/>
<text x="312.2" y="27.2" font-size="7.2" text-anchor="start" font-weight="normal" fill="#4a5ca6" stroke="#4a5ca6">97.4</text>
<rect x="356.30" y="21.40" width="22.90" height="6.6" fill="#fff"/>
<text x="378.4" y="27.2" font-size="7.2" text-anchor="end" font-weight="normal" fill="#4a5ca6" stroke="#4a5ca6">0.0136</text>
<rect x="311.40" y="82.40" width="22.90" height="6.6" fill="#fff"/>
<text x="312.2" y="88.2" font-size="7.2" text-anchor="start" font-weight="normal" fill="#4a5ca6" stroke="#4a5ca6">0.0497</text>
<rect x="363.94" y="82.40" width="15.26" height="6.6" fill="#fff"/>
<text x="378.4" y="88.2" font-size="7.2" text-anchor="end" font-weight="normal" fill="#4a5ca6" stroke="#4a5ca6">2.56</text>
<text transform="translate(295.6 27.5) scale(0.96 1)" font-size="9.8" fill="#111" stroke="#111" stroke-width="0.35">10</text>
<text x="305.86" y="24.2" font-size="6.0" text-anchor="start" font-weight="normal" fill="#111" stroke="#111">5</text>
<text transform="translate(295.6 42.5) scale(0.96 1)" font-size="9.8" fill="#111" stroke="#111" stroke-width="0.35">10</text>
<text x="305.86" y="39.2" font-size="6.0" text-anchor="start" font-weight="normal" fill="#111" stroke="#111">4</text>
<text transform="translate(295.6 58.1) scale(0.96 1)" font-size="9.8" fill="#111" stroke="#111" stroke-width="0.35">10</text>
<text x="305.86" y="54.8" font-size="6.0" text-anchor="start" font-weight="normal" fill="#111" stroke="#111">3</text>
<text transform="translate(295.6 75.4) scale(0.96 1)" font-size="9.8" fill="#111" stroke="#111" stroke-width="0.35">10</text>
<text x="305.86" y="72.1" font-size="6.0" text-anchor="start" font-weight="normal" fill="#111" stroke="#111">2</text>
<text transform="translate(301.1 84.9) scale(0.96 1)" font-size="9.8" fill="#111" stroke="#111" stroke-width="0.35">0</text>
<text x="293.2" y="72.3" font-size="7.2" text-anchor="middle" font-weight="normal" fill="#111" stroke="#111" transform="rotate(-90 293.2 72.3)">CD45.1</text>
<line x1="290.9" y1="60.5" x2="290.9" y2="24.6" stroke="#111" stroke-width="0.7"/>
<polygon points="290.9,21.6 292.16,24.60 289.64,24.60" fill="#111"/>
<text transform="translate(315.8 99.7) scale(0.92 1)" font-size="9.5" fill="#111" stroke="#111" stroke-width="0.35">0</text>
<text transform="translate(321.2 99.7) scale(0.92 1)" font-size="9.5" fill="#111" stroke="#111" stroke-width="0.35">10</text>
<text x="330.72" y="96.4" font-size="6.0" text-anchor="start" font-weight="normal" fill="#111" stroke="#111">2</text>
<text transform="translate(338.3 99.7) scale(0.92 1)" font-size="9.5" fill="#111" stroke="#111" stroke-width="0.35">10</text>
<text x="347.82" y="96.4" font-size="6.0" text-anchor="start" font-weight="normal" fill="#111" stroke="#111">3</text>
<text transform="translate(355.3 99.7) scale(0.92 1)" font-size="9.5" fill="#111" stroke="#111" stroke-width="0.35">10</text>
<text x="364.82" y="96.4" font-size="6.0" text-anchor="start" font-weight="normal" fill="#111" stroke="#111">4</text>
<text transform="translate(371.1 99.7) scale(0.92 1)" font-size="9.5" fill="#111" stroke="#111" stroke-width="0.35">10</text>
<text x="380.62" y="96.4" font-size="6.0" text-anchor="start" font-weight="normal" fill="#111" stroke="#111">5</text>
<text x="312.8" y="108.9" font-size="7.3" text-anchor="start" font-weight="normal" fill="#111" stroke="#111">CD45.2</text>
<line x1="343.6" y1="106.3" x2="377.8" y2="106.3" stroke="#111" stroke-width="0.7"/>
<polygon points="380.8,106.3 377.80,107.56 377.80,105.04" fill="#111"/>
<line x1="273" y1="65.6" x2="311.4" y2="65.6" stroke="#111" stroke-width="0.7"/>
<polygon points="314.4,65.6 311.40,66.86 311.40,64.34" fill="#111"/>
<rect x="398.8" y="19.5" width="68.80" height="69.50" fill="none" stroke="#3a3a3a" stroke-width="0.9"/>
<path d="M399.14 88.59 L403.84 88.12 L405.72 84.99 L407.76 75.58 L409.80 61.47 L411.68 44.22 L413.56 28.54 L414.50 29.33 L415.29 37.95 L416.07 31.68 L416.70 22.59 L417.17 30.11 L417.64 22.27 L418.26 30.89 L418.89 29.33 L419.52 39.52 L420.30 46.57 L421.40 52.85 L422.34 55.20 L422.97 60.68 L423.59 56.45 L424.22 55.98 L425.01 63.04 L426.10 71.66 L426.89 74.80 L427.83 66.96 L428.61 70.09 L429.71 75.58 L431.28 76.36 L432.38 74.01 L433.16 67.43 L433.94 71.66 L434.88 74.33 L436.45 74.80 L438.02 76.36 L439.59 81.85 L440.68 78.72 L442.25 74.80 L443.04 77.93 L444.29 84.20 L445.86 84.99 L446.96 83.11 L448.52 84.20 L450.09 82.64 L451.19 77.15 L452.44 71.19 L453.38 74.80 L454.33 81.85 L455.58 86.56 L457.15 88.44 L467.65 88.59" fill="none" stroke="#222" stroke-width="0.75" stroke-linejoin="round"/>
<text x="396.9" y="30.3" font-size="7.9" text-anchor="end" font-weight="normal" fill="#111" stroke="#111">25</text>
<text x="396.9" y="42.8" font-size="7.9" text-anchor="end" font-weight="normal" fill="#111" stroke="#111">20</text>
<text x="396.9" y="54.8" font-size="7.9" text-anchor="end" font-weight="normal" fill="#111" stroke="#111">15</text>
<text x="396.9" y="66.6" font-size="7.9" text-anchor="end" font-weight="normal" fill="#111" stroke="#111">10</text>
<text x="396.9" y="78.8" font-size="7.9" text-anchor="end" font-weight="normal" fill="#111" stroke="#111">5</text>
<text x="396.9" y="90.8" font-size="7.9" text-anchor="end" font-weight="normal" fill="#111" stroke="#111">0</text>
<text x="387.5" y="80" font-size="7" text-anchor="middle" font-weight="normal" fill="#111" stroke="#111" transform="rotate(-90 387.5 80)">Count</text>
<line x1="384.8" y1="66" x2="384.8" y2="23.5" stroke="#111" stroke-width="0.7"/>
<polygon points="384.8,20.5 386.06,23.50 383.54,23.50" fill="#111"/>
<text transform="translate(403.9 99.7) scale(0.92 1)" font-size="9.5" fill="#111" stroke="#111" stroke-width="0.35">0</text>
<text transform="translate(409.2 99.7) scale(0.92 1)" font-size="9.5" fill="#111" stroke="#111" stroke-width="0.35">10</text>
<text x="418.72" y="96.4" font-size="6.0" text-anchor="start" font-weight="normal" fill="#111" stroke="#111">2</text>
<text transform="translate(426.4 99.7) scale(0.92 1)" font-size="9.5" fill="#111" stroke="#111" stroke-width="0.35">10</text>
<text x="435.92" y="96.4" font-size="6.0" text-anchor="start" font-weight="normal" fill="#111" stroke="#111">3</text>
<text transform="translate(441.9 99.7) scale(0.92 1)" font-size="9.5" fill="#111" stroke="#111" stroke-width="0.35">10</text>
<text x="451.42" y="96.4" font-size="6.0" text-anchor="start" font-weight="normal" fill="#111" stroke="#111">4</text>
<text transform="translate(457.8 99.7) scale(0.92 1)" font-size="9.5" fill="#111" stroke="#111" stroke-width="0.35">10</text>
<text x="467.32" y="96.4" font-size="6.0" text-anchor="start" font-weight="normal" fill="#111" stroke="#111">5</text>
<text x="398.3" y="108.9" font-size="7.3" text-anchor="start" font-weight="normal" fill="#111" stroke="#111">CFSE</text>
<line x1="422.5" y1="106.3" x2="457.3" y2="106.3" stroke="#111" stroke-width="0.7"/>
<polygon points="460.3,106.3 457.30,107.56 457.30,105.04" fill="#111"/>
<line x1="372.7" y1="59.4" x2="397.3" y2="59.4" stroke="#111" stroke-width="0.7"/>
<polygon points="400.3,59.4 397.30,60.66 397.30,58.14" fill="#111"/>
<line x1="103.1" y1="125.2" x2="103.1" y2="217.29999999999998" stroke="#000" stroke-width="1.3"/>
<line x1="102.5" y1="214.7" x2="237.2" y2="214.7" stroke="#000" stroke-width="1.4"/>
<line x1="100.3" y1="125.8" x2="103.1" y2="125.8" stroke="#000" stroke-width="1.2"/>
<text x="99.5" y="128.85" font-size="8.7" text-anchor="end" font-weight="normal" fill="#111" stroke="#111">600</text>
<line x1="100.3" y1="155.5" x2="103.1" y2="155.5" stroke="#000" stroke-width="1.2"/>
<text x="99.5" y="158.55" font-size="8.7" text-anchor="end" font-weight="normal" fill="#111" stroke="#111">400</text>
<line x1="100.3" y1="185.3" x2="103.1" y2="185.3" stroke="#000" stroke-width="1.2"/>
<text x="99.5" y="188.35000000000002" font-size="8.7" text-anchor="end" font-weight="normal" fill="#111" stroke="#111">200</text>
<line x1="100.3" y1="214.7" x2="103.1" y2="214.7" stroke="#000" stroke-width="1.2"/>
<text x="99.5" y="217.75" font-size="8.7" text-anchor="end" font-weight="normal" fill="#111" stroke="#111">0</text>
<line x1="103.05" y1="214.7" x2="103.05" y2="217.39999999999998" stroke="#000" stroke-width="1.2"/>
<text x="103.05" y="225.39999999999998" font-size="8.7" text-anchor="middle" font-weight="normal" fill="#111" stroke="#111">0</text>
<line x1="122.12" y1="214.7" x2="122.12" y2="217.39999999999998" stroke="#000" stroke-width="1.2"/>
<text x="122.12" y="225.39999999999998" font-size="8.7" text-anchor="middle" font-weight="normal" fill="#111" stroke="#111">1</text>
<line x1="141.19" y1="214.7" x2="141.19" y2="217.39999999999998" stroke="#000" stroke-width="1.2"/>
<text x="141.19" y="225.39999999999998" font-size="8.7" text-anchor="middle" font-weight="normal" fill="#111" stroke="#111">2</text>
<line x1="160.26" y1="214.7" x2="160.26" y2="217.39999999999998" stroke="#000" stroke-width="1.2"/>
<text x="160.26" y="225.39999999999998" font-size="8.7" text-anchor="middle" font-weight="normal" fill="#111" stroke="#111">3</text>
<line x1="179.33" y1="214.7" x2="179.33" y2="217.39999999999998" stroke="#000" stroke-width="1.2"/>
<text x="179.33" y="225.39999999999998" font-size="8.7" text-anchor="middle" font-weight="normal" fill="#111" stroke="#111">4</text>
<line x1="198.4" y1="214.7" x2="198.4" y2="217.39999999999998" stroke="#000" stroke-width="1.2"/>
<text x="198.4" y="225.39999999999998" font-size="8.7" text-anchor="middle" font-weight="normal" fill="#111" stroke="#111">5</text>
<line x1="217.47" y1="214.7" x2="217.47" y2="217.39999999999998" stroke="#000" stroke-width="1.2"/>
<text x="217.47" y="225.39999999999998" font-size="8.7" text-anchor="middle" font-weight="normal" fill="#111" stroke="#111">6</text>
<line x1="236.54" y1="214.7" x2="236.54" y2="217.39999999999998" stroke="#000" stroke-width="1.2"/>
<text x="236.54" y="225.39999999999998" font-size="8.7" text-anchor="middle" font-weight="normal" fill="#111" stroke="#111">7</text>
<line x1="217.47" y1="175.5" x2="217.47" y2="190" stroke="#888" stroke-width="0.8"/>
<line x1="214.67" y1="175.5" x2="220.27" y2="175.5" stroke="#888" stroke-width="0.8"/>
<line x1="214.67" y1="190" x2="220.27" y2="190" stroke="#888" stroke-width="0.8"/>
<line x1="179.33" y1="199.5" x2="179.33" y2="206" stroke="#888" stroke-width="0.8"/>
<line x1="176.53" y1="199.5" x2="182.13000000000002" y2="199.5" stroke="#888" stroke-width="0.8"/>
<line x1="176.53" y1="206" x2="182.13000000000002" y2="206" stroke="#888" stroke-width="0.8"/>
<line x1="103.05" y1="202.5" x2="103.05" y2="208.8" stroke="#222" stroke-width="0.8"/>
<line x1="100.25" y1="202.5" x2="105.85" y2="202.5" stroke="#222" stroke-width="0.8"/>
<line x1="100.25" y1="208.8" x2="105.85" y2="208.8" stroke="#222" stroke-width="0.8"/>
<line x1="236.54" y1="162.5" x2="236.54" y2="191.3" stroke="#222" stroke-width="0.8"/>
<line x1="233.73999999999998" y1="162.5" x2="239.34" y2="162.5" stroke="#222" stroke-width="0.8"/>
<line x1="233.73999999999998" y1="191.3" x2="239.34" y2="191.3" stroke="#222" stroke-width="0.8"/>
<polyline points="103.05,208 122.12,212.5 141.19,210 160.26,209 179.33,203 198.4,200.5 217.47,183 236.54,144.5" fill="none" stroke="#999" stroke-width="0.9"/>
<polyline points="103.05,205 122.12,212.5 141.19,210 160.26,208.8 179.33,207 198.4,203.8 217.47,187 236.54,177" fill="none" stroke="#111" stroke-width="1"/>
<rect x="119.42" y="209.80" width="5.4" height="5.4" rx="0.6" fill="#fff" stroke="#000" stroke-width="1.3"/>
<rect x="119.47" y="209.85" width="5.3" height="5.3" fill="#000"/>
<rect x="138.49" y="207.30" width="5.4" height="5.4" rx="0.6" fill="#fff" stroke="#000" stroke-width="1.3"/>
<rect x="138.54" y="207.35" width="5.3" height="5.3" fill="#000"/>
<rect x="157.56" y="206.30" width="5.4" height="5.4" rx="0.6" fill="#fff" stroke="#000" stroke-width="1.3"/>
<rect x="157.61" y="206.15" width="5.3" height="5.3" fill="#000"/>
<rect x="176.68" y="204.35" width="5.3" height="5.3" fill="#000"/>
<rect x="176.63" y="200.30" width="5.4" height="5.4" rx="0.6" fill="#fff" stroke="#000" stroke-width="1.3"/>
<rect x="195.75" y="201.15" width="5.3" height="5.3" fill="#000"/>
<rect x="195.70" y="197.80" width="5.4" height="5.4" rx="0.6" fill="#fff" stroke="#000" stroke-width="1.3"/>
<rect x="214.82" y="184.35" width="5.3" height="5.3" fill="#000"/>
<rect x="214.77" y="180.30" width="5.4" height="5.4" rx="0.6" fill="#fff" stroke="#000" stroke-width="1.3"/>
<rect x="233.89" y="174.35" width="5.3" height="5.3" fill="#000"/>
<rect x="233.84" y="141.80" width="5.4" height="5.4" rx="0.6" fill="#fff" stroke="#000" stroke-width="1.3"/>
<line x1="109.8" y1="131.3" x2="119.4" y2="131.3" stroke="#222" stroke-width="0.8"/>
<rect x="112.15" y="128.85" width="4.9" height="4.9" fill="#000"/>
<line x1="109.8" y1="141.60000000000002" x2="119.4" y2="141.60000000000002" stroke="#999" stroke-width="0.8"/>
<rect x="111.90" y="138.90" width="5.4" height="5.4" rx="0.6" fill="#fff" stroke="#000" stroke-width="1.3"/>
<text x="124.7" y="134.0" font-size="7.6" text-anchor="start" font-weight="normal" fill="#111" stroke="#111">Veh</text>
<text x="124.7" y="144.20000000000002" font-size="7.6" text-anchor="start" font-weight="normal" fill="#111" stroke="#111">Cloz</text>
<text x="75.2" y="168" font-size="10.7" text-anchor="middle" font-weight="normal" fill="#111" stroke="#111" transform="rotate(-90 75.2 168)">no. of cells</text>
<text x="170" y="242" font-size="11" text-anchor="middle" font-weight="normal" fill="#111" stroke="#111">generations</text>
<text x="36" y="171.5" font-size="8" text-anchor="middle" font-weight="normal" fill="#111" stroke="#111">lymph nodes</text>
<line x1="103.1" y1="257.0" x2="103.1" y2="349.1" stroke="#000" stroke-width="1.3"/>
<line x1="102.5" y1="346.5" x2="237.2" y2="346.5" stroke="#000" stroke-width="1.4"/>
<line x1="100.3" y1="257.6" x2="103.1" y2="257.6" stroke="#000" stroke-width="1.2"/>
<text x="99.5" y="260.65000000000003" font-size="8.7" text-anchor="end" font-weight="normal" fill="#111" stroke="#111">500</text>
<line x1="100.3" y1="275.4" x2="103.1" y2="275.4" stroke="#000" stroke-width="1.2"/>
<text x="99.5" y="278.45" font-size="8.7" text-anchor="end" font-weight="normal" fill="#111" stroke="#111">400</text>
<line x1="100.3" y1="293.2" x2="103.1" y2="293.2" stroke="#000" stroke-width="1.2"/>
<text x="99.5" y="296.25" font-size="8.7" text-anchor="end" font-weight="normal" fill="#111" stroke="#111">300</text>
<line x1="100.3" y1="310.9" x2="103.1" y2="310.9" stroke="#000" stroke-width="1.2"/>
<text x="99.5" y="313.95" font-size="8.7" text-anchor="end" font-weight="normal" fill="#111" stroke="#111">200</text>
<line x1="100.3" y1="328.7" x2="103.1" y2="328.7" stroke="#000" stroke-width="1.2"/>
<text x="99.5" y="331.75" font-size="8.7" text-anchor="end" font-weight="normal" fill="#111" stroke="#111">100</text>
<line x1="100.3" y1="346.5" x2="103.1" y2="346.5" stroke="#000" stroke-width="1.2"/>
<text x="99.5" y="349.55" font-size="8.7" text-anchor="end" font-weight="normal" fill="#111" stroke="#111">0</text>
<line x1="103.05" y1="346.5" x2="103.05" y2="349.2" stroke="#000" stroke-width="1.2"/>
<text x="103.05" y="357.2" font-size="8.7" text-anchor="middle" font-weight="normal" fill="#111" stroke="#111">0</text>
<line x1="122.12" y1="346.5" x2="122.12" y2="349.2" stroke="#000" stroke-width="1.2"/>
<text x="122.12" y="357.2" font-size="8.7" text-anchor="middle" font-weight="normal" fill="#111" stroke="#111">1</text>
<line x1="141.19" y1="346.5" x2="141.19" y2="349.2" stroke="#000" stroke-width="1.2"/>
<text x="141.19" y="357.2" font-size="8.7" text-anchor="middle" font-weight="normal" fill="#111" stroke="#111">2</text>
<line x1="160.26" y1="346.5" x2="160.26" y2="349.2" stroke="#000" stroke-width="1.2"/>
<text x="160.26" y="357.2" font-size="8.7" text-anchor="middle" font-weight="normal" fill="#111" stroke="#111">3</text>
<line x1="179.33" y1="346.5" x2="179.33" y2="349.2" stroke="#000" stroke-width="1.2"/>
<text x="179.33" y="357.2" font-size="8.7" text-anchor="middle" font-weight="normal" fill="#111" stroke="#111">4</text>
<line x1="198.4" y1="346.5" x2="198.4" y2="349.2" stroke="#000" stroke-width="1.2"/>
<text x="198.4" y="357.2" font-size="8.7" text-anchor="middle" font-weight="normal" fill="#111" stroke="#111">5</text>
<line x1="217.47" y1="346.5" x2="217.47" y2="349.2" stroke="#000" stroke-width="1.2"/>
<text x="217.47" y="357.2" font-size="8.7" text-anchor="middle" font-weight="normal" fill="#111" stroke="#111">6</text>
<line x1="236.54" y1="346.5" x2="236.54" y2="349.2" stroke="#000" stroke-width="1.2"/>
<text x="236.54" y="357.2" font-size="8.7" text-anchor="middle" font-weight="normal" fill="#111" stroke="#111">7</text>
<line x1="198.4" y1="331" x2="198.4" y2="341" stroke="#888" stroke-width="0.8"/>
<line x1="195.6" y1="331" x2="201.20000000000002" y2="331" stroke="#888" stroke-width="0.8"/>
<line x1="195.6" y1="341" x2="201.20000000000002" y2="341" stroke="#888" stroke-width="0.8"/>
<line x1="217.47" y1="309.3" x2="217.47" y2="323.8" stroke="#888" stroke-width="0.8"/>
<line x1="214.67" y1="309.3" x2="220.27" y2="309.3" stroke="#888" stroke-width="0.8"/>
<line x1="214.67" y1="323.8" x2="220.27" y2="323.8" stroke="#888" stroke-width="0.8"/>
<line x1="236.54" y1="297.5" x2="236.54" y2="320.5" stroke="#888" stroke-width="0.8"/>
<line x1="233.73999999999998" y1="297.5" x2="239.34" y2="297.5" stroke="#888" stroke-width="0.8"/>
<line x1="233.73999999999998" y1="320.5" x2="239.34" y2="320.5" stroke="#888" stroke-width="0.8"/>
<line x1="103.05" y1="316" x2="103.05" y2="331.8" stroke="#222" stroke-width="0.8"/>
<line x1="100.25" y1="316" x2="105.85" y2="316" stroke="#222" stroke-width="0.8"/>
<line x1="100.25" y1="331.8" x2="105.85" y2="331.8" stroke="#222" stroke-width="0.8"/>
<line x1="217.47" y1="277.5" x2="217.47" y2="309.3" stroke="#222" stroke-width="0.8"/>
<line x1="214.67" y1="277.5" x2="220.27" y2="277.5" stroke="#222" stroke-width="0.8"/>
<line x1="214.67" y1="309.3" x2="220.27" y2="309.3" stroke="#222" stroke-width="0.8"/>
<line x1="236.54" y1="293.5" x2="236.54" y2="323" stroke="#222" stroke-width="0.8"/>
<line x1="233.73999999999998" y1="293.5" x2="239.34" y2="293.5" stroke="#222" stroke-width="0.8"/>
<line x1="233.73999999999998" y1="323" x2="239.34" y2="323" stroke="#222" stroke-width="0.8"/>
<polyline points="103.05,338 122.12,346 141.19,345 160.26,343.5 179.33,341 198.4,336 217.47,316.8 236.54,308.8" fill="none" stroke="#999" stroke-width="0.9"/>
<polyline points="103.05,324.3 122.12,346 141.19,343.8 160.26,341.3 179.33,337.5 198.4,321 217.47,293.5 236.54,309.3" fill="none" stroke="#111" stroke-width="1"/>
<rect x="119.42" y="343.30" width="5.4" height="5.4" rx="0.6" fill="#fff" stroke="#000" stroke-width="1.3"/>
<rect x="119.47" y="343.35" width="5.3" height="5.3" fill="#000"/>
<rect x="138.49" y="342.30" width="5.4" height="5.4" rx="0.6" fill="#fff" stroke="#000" stroke-width="1.3"/>
<rect x="138.54" y="341.15" width="5.3" height="5.3" fill="#000"/>
<rect x="157.56" y="340.80" width="5.4" height="5.4" rx="0.6" fill="#fff" stroke="#000" stroke-width="1.3"/>
<rect x="157.61" y="338.65" width="5.3" height="5.3" fill="#000"/>
<rect x="176.68" y="334.85" width="5.3" height="5.3" fill="#000"/>
<rect x="176.63" y="338.30" width="5.4" height="5.4" rx="0.6" fill="#fff" stroke="#000" stroke-width="1.3"/>
<rect x="195.75" y="318.35" width="5.3" height="5.3" fill="#000"/>
<rect x="195.70" y="333.30" width="5.4" height="5.4" rx="0.6" fill="#fff" stroke="#000" stroke-width="1.3"/>
<rect x="214.82" y="290.85" width="5.3" height="5.3" fill="#000"/>
<rect x="214.77" y="314.10" width="5.4" height="5.4" rx="0.6" fill="#fff" stroke="#000" stroke-width="1.3"/>
<rect x="233.84" y="306.10" width="5.4" height="5.4" rx="0.6" fill="#fff" stroke="#000" stroke-width="1.3"/>
<rect x="233.89" y="306.65" width="5.3" height="5.3" fill="#000"/>
<line x1="109.8" y1="262.5" x2="119.4" y2="262.5" stroke="#222" stroke-width="0.8"/>
<rect x="112.15" y="260.05" width="4.9" height="4.9" fill="#000"/>
<line x1="109.8" y1="272.8" x2="119.4" y2="272.8" stroke="#999" stroke-width="0.8"/>
<rect x="111.90" y="270.10" width="5.4" height="5.4" rx="0.6" fill="#fff" stroke="#000" stroke-width="1.3"/>
<text x="124.7" y="265.2" font-size="7.6" text-anchor="start" font-weight="normal" fill="#111" stroke="#111">Veh</text>
<text x="124.7" y="275.4" font-size="7.6" text-anchor="start" font-weight="normal" fill="#111" stroke="#111">Cloz</text>
<text x="75.2" y="299.5" font-size="10.7" text-anchor="middle" font-weight="normal" fill="#111" stroke="#111" transform="rotate(-90 75.2 299.5)">no. of cells</text>
<text x="170" y="373" font-size="11" text-anchor="middle" font-weight="normal" fill="#111" stroke="#111">generations</text>
<text x="37.8" y="303.5" font-size="8" text-anchor="middle" font-weight="normal" fill="#111" stroke="#111">spleen</text>
<line x1="103.1" y1="390.9" x2="103.1" y2="483.1" stroke="#000" stroke-width="1.3"/>
<line x1="102.5" y1="480.5" x2="237.2" y2="480.5" stroke="#000" stroke-width="1.4"/>
<line x1="100.3" y1="391.5" x2="103.1" y2="391.5" stroke="#000" stroke-width="1.2"/>
<text x="99.5" y="394.55" font-size="8.7" text-anchor="end" font-weight="normal" fill="#111" stroke="#111">150</text>
<line x1="100.3" y1="421.4" x2="103.1" y2="421.4" stroke="#000" stroke-width="1.2"/>
<text x="99.5" y="424.45" font-size="8.7" text-anchor="end" font-weight="normal" fill="#111" stroke="#111">100</text>
<line x1="100.3" y1="450.9" x2="103.1" y2="450.9" stroke="#000" stroke-width="1.2"/>
<text x="99.5" y="453.95" font-size="8.7" text-anchor="end" font-weight="normal" fill="#111" stroke="#111">50</text>
<line x1="100.3" y1="480.5" x2="103.1" y2="480.5" stroke="#000" stroke-width="1.2"/>
<text x="99.5" y="483.55" font-size="8.7" text-anchor="end" font-weight="normal" fill="#111" stroke="#111">0</text>
<line x1="103.05" y1="480.5" x2="103.05" y2="483.2" stroke="#000" stroke-width="1.2"/>
<text x="103.05" y="491.2" font-size="8.7" text-anchor="middle" font-weight="normal" fill="#111" stroke="#111">0</text>
<line x1="122.12" y1="480.5" x2="122.12" y2="483.2" stroke="#000" stroke-width="1.2"/>
<text x="122.12" y="491.2" font-size="8.7" text-anchor="middle" font-weight="normal" fill="#111" stroke="#111">1</text>
<line x1="141.19" y1="480.5" x2="141.19" y2="483.2" stroke="#000" stroke-width="1.2"/>
<text x="141.19" y="491.2" font-size="8.7" text-anchor="middle" font-weight="normal" fill="#111" stroke="#111">2</text>
<line x1="160.26" y1="480.5" x2="160.26" y2="483.2" stroke="#000" stroke-width="1.2"/>
<text x="160.26" y="491.2" font-size="8.7" text-anchor="middle" font-weight="normal" fill="#111" stroke="#111">3</text>
<line x1="179.33" y1="480.5" x2="179.33" y2="483.2" stroke="#000" stroke-width="1.2"/>
<text x="179.33" y="491.2" font-size="8.7" text-anchor="middle" font-weight="normal" fill="#111" stroke="#111">4</text>
<line x1="198.4" y1="480.5" x2="198.4" y2="483.2" stroke="#000" stroke-width="1.2"/>
<text x="198.4" y="491.2" font-size="8.7" text-anchor="middle" font-weight="normal" fill="#111" stroke="#111">5</text>
<line x1="217.47" y1="480.5" x2="217.47" y2="483.2" stroke="#000" stroke-width="1.2"/>
<text x="217.47" y="491.2" font-size="8.7" text-anchor="middle" font-weight="normal" fill="#111" stroke="#111">6</text>
<line x1="236.54" y1="480.5" x2="236.54" y2="483.2" stroke="#000" stroke-width="1.2"/>
<text x="236.54" y="491.2" font-size="8.7" text-anchor="middle" font-weight="normal" fill="#111" stroke="#111">7</text>
<line x1="103.05" y1="442.3" x2="103.05" y2="457.3" stroke="#888" stroke-width="0.8"/>
<line x1="100.25" y1="442.3" x2="105.85" y2="442.3" stroke="#888" stroke-width="0.8"/>
<line x1="100.25" y1="457.3" x2="105.85" y2="457.3" stroke="#888" stroke-width="0.8"/>
<line x1="198.4" y1="428" x2="198.4" y2="433.5" stroke="#888" stroke-width="0.8"/>
<line x1="195.6" y1="428" x2="201.20000000000002" y2="428" stroke="#888" stroke-width="0.8"/>
<line x1="195.6" y1="433.5" x2="201.20000000000002" y2="433.5" stroke="#888" stroke-width="0.8"/>
<line x1="103.05" y1="404" x2="103.05" y2="442.3" stroke="#222" stroke-width="0.8"/>
<line x1="100.25" y1="404" x2="105.85" y2="404" stroke="#222" stroke-width="0.8"/>
<line x1="100.25" y1="442.3" x2="105.85" y2="442.3" stroke="#222" stroke-width="0.8"/>
<line x1="141.19" y1="449.3" x2="141.19" y2="461" stroke="#222" stroke-width="0.8"/>
<line x1="138.39" y1="449.3" x2="143.99" y2="449.3" stroke="#222" stroke-width="0.8"/>
<line x1="138.39" y1="461" x2="143.99" y2="461" stroke="#222" stroke-width="0.8"/>
<line x1="217.47" y1="450.5" x2="217.47" y2="463.5" stroke="#222" stroke-width="0.8"/>
<line x1="214.67" y1="450.5" x2="220.27" y2="450.5" stroke="#222" stroke-width="0.8"/>
<line x1="214.67" y1="463.5" x2="220.27" y2="463.5" stroke="#222" stroke-width="0.8"/>
<polyline points="103.05,450.5 122.12,476 141.19,475 160.26,471.3 179.33,468.8 198.4,428 217.47,459 236.54,467.5" fill="none" stroke="#999" stroke-width="0.9"/>
<polyline points="103.05,423.5 122.12,478 141.19,461.3 160.26,470.5 179.33,459.8 198.4,425 217.47,458 236.54,474.3" fill="none" stroke="#111" stroke-width="1"/>
<rect x="119.47" y="475.35" width="5.3" height="5.3" fill="#000"/>
<rect x="119.42" y="473.30" width="5.4" height="5.4" rx="0.6" fill="#fff" stroke="#000" stroke-width="1.3"/>
<rect x="138.54" y="458.65" width="5.3" height="5.3" fill="#000"/>
<rect x="138.49" y="472.30" width="5.4" height="5.4" rx="0.6" fill="#fff" stroke="#000" stroke-width="1.3"/>
<rect x="157.56" y="468.60" width="5.4" height="5.4" rx="0.6" fill="#fff" stroke="#000" stroke-width="1.3"/>
<rect x="157.61" y="467.85" width="5.3" height="5.3" fill="#000"/>
<rect x="176.68" y="457.15" width="5.3" height="5.3" fill="#000"/>
<rect x="176.63" y="466.10" width="5.4" height="5.4" rx="0.6" fill="#fff" stroke="#000" stroke-width="1.3"/>
<rect x="195.75" y="422.35" width="5.3" height="5.3" fill="#000"/>
<rect x="195.70" y="425.30" width="5.4" height="5.4" rx="0.6" fill="#fff" stroke="#000" stroke-width="1.3"/>
<rect x="214.77" y="456.30" width="5.4" height="5.4" rx="0.6" fill="#fff" stroke="#000" stroke-width="1.3"/>
<rect x="214.82" y="455.35" width="5.3" height="5.3" fill="#000"/>
<rect x="233.89" y="471.65" width="5.3" height="5.3" fill="#000"/>
<rect x="233.84" y="464.80" width="5.4" height="5.4" rx="0.6" fill="#fff" stroke="#000" stroke-width="1.3"/>
<line x1="109.8" y1="396.7" x2="119.4" y2="396.7" stroke="#222" stroke-width="0.8"/>
<rect x="112.15" y="394.25" width="4.9" height="4.9" fill="#000"/>
<line x1="109.8" y1="407.0" x2="119.4" y2="407.0" stroke="#999" stroke-width="0.8"/>
<rect x="111.90" y="404.30" width="5.4" height="5.4" rx="0.6" fill="#fff" stroke="#000" stroke-width="1.3"/>
<text x="124.7" y="399.4" font-size="7.6" text-anchor="start" font-weight="normal" fill="#111" stroke="#111">Veh</text>
<text x="124.7" y="409.59999999999997" font-size="7.6" text-anchor="start" font-weight="normal" fill="#111" stroke="#111">Cloz</text>
<text x="75.2" y="433.5" font-size="10.7" text-anchor="middle" font-weight="normal" fill="#111" stroke="#111" transform="rotate(-90 75.2 433.5)">no. of cells</text>
<text x="170" y="507.1" font-size="11" text-anchor="middle" font-weight="normal" fill="#111" stroke="#111">generations</text>
<text x="38.2" y="438.7" font-size="8" text-anchor="middle" font-weight="normal" fill="#111" stroke="#111">blood</text>
<line x1="296.6" y1="157" x2="296.6" y2="171" stroke="#000" stroke-width="1.2"/>
<line x1="291.3" y1="157" x2="301.8" y2="157" stroke="#000" stroke-width="1.3"/>
<rect x="286.4" y="171" width="20.40" height="42.80" fill="#0a0a0a"/>
<line x1="325.7" y1="147.8" x2="325.7" y2="160.6" stroke="#000" stroke-width="1.2"/>
<line x1="320.2" y1="147.8" x2="331.3" y2="147.8" stroke="#000" stroke-width="1.3"/>
<rect x="316.15" y="161.25" width="19.10" height="52.55" fill="#fff" stroke="#000" stroke-width="1.3"/>
<line x1="281.5" y1="124.2" x2="281.5" y2="214.5" stroke="#000" stroke-width="1.3"/>
<line x1="280.9" y1="213.8" x2="340.2" y2="213.8" stroke="#000" stroke-width="1.4"/>
<line x1="278.7" y1="124.8" x2="281.5" y2="124.8" stroke="#000" stroke-width="1.2"/>
<text x="277.9" y="127.85" font-size="8.7" text-anchor="end" font-weight="normal" fill="#111" stroke="#111">40</text>
<line x1="278.7" y1="147.05" x2="281.5" y2="147.05" stroke="#000" stroke-width="1.2"/>
<text x="277.9" y="150.10000000000002" font-size="8.7" text-anchor="end" font-weight="normal" fill="#111" stroke="#111">30</text>
<line x1="278.7" y1="169.3" x2="281.5" y2="169.3" stroke="#000" stroke-width="1.2"/>
<text x="277.9" y="172.35000000000002" font-size="8.7" text-anchor="end" font-weight="normal" fill="#111" stroke="#111">20</text>
<line x1="278.7" y1="191.55" x2="281.5" y2="191.55" stroke="#000" stroke-width="1.2"/>
<text x="277.9" y="194.60000000000002" font-size="8.7" text-anchor="end" font-weight="normal" fill="#111" stroke="#111">10</text>
<line x1="278.7" y1="213.8" x2="281.5" y2="213.8" stroke="#000" stroke-width="1.2"/>
<text x="277.9" y="216.85000000000002" font-size="8.7" text-anchor="end" font-weight="normal" fill="#111" stroke="#111">0</text>
<text x="296.6" y="224.9" font-size="8.7" text-anchor="middle" font-weight="normal" fill="#111" stroke="#111">Veh</text>
<text x="325.8" y="224.9" font-size="8.7" text-anchor="middle" font-weight="normal" fill="#111" stroke="#111">Cloz</text>
<text x="253.7" y="167" font-size="10.6" text-anchor="middle" font-weight="normal" fill="#111" stroke="#111" transform="rotate(-90 253.7 167)">% proliferated</text>
<line x1="386.5" y1="152.6" x2="386.5" y2="153.4" stroke="#000" stroke-width="1.2"/>
<line x1="381.2" y1="152.6" x2="391.7" y2="152.6" stroke="#000" stroke-width="1.3"/>
<rect x="376.4" y="153.4" width="20.20" height="60.70" fill="#0a0a0a"/>
<line x1="415.7" y1="150.2" x2="415.7" y2="151.6" stroke="#000" stroke-width="1.2"/>
<line x1="410.4" y1="150.2" x2="421" y2="150.2" stroke="#000" stroke-width="1.3"/>
<rect x="406.05" y="152.25" width="19.30" height="61.85" fill="#fff" stroke="#000" stroke-width="1.3"/>
<line x1="371.3" y1="125.2" x2="371.3" y2="214.79999999999998" stroke="#000" stroke-width="1.3"/>
<line x1="370.7" y1="214.1" x2="430" y2="214.1" stroke="#000" stroke-width="1.4"/>
<line x1="368.5" y1="125.8" x2="371.3" y2="125.8" stroke="#000" stroke-width="1.2"/>
<text x="367.7" y="128.85" font-size="8.7" text-anchor="end" font-weight="normal" fill="#111" stroke="#111">5</text>
<line x1="368.5" y1="143.45" x2="371.3" y2="143.45" stroke="#000" stroke-width="1.2"/>
<text x="367.7" y="146.5" font-size="8.7" text-anchor="end" font-weight="normal" fill="#111" stroke="#111">4</text>
<line x1="368.5" y1="161.1" x2="371.3" y2="161.1" stroke="#000" stroke-width="1.2"/>
<text x="367.7" y="164.15" font-size="8.7" text-anchor="end" font-weight="normal" fill="#111" stroke="#111">3</text>
<line x1="368.5" y1="178.8" x2="371.3" y2="178.8" stroke="#000" stroke-width="1.2"/>
<text x="367.7" y="181.85000000000002" font-size="8.7" text-anchor="end" font-weight="normal" fill="#111" stroke="#111">2</text>
<line x1="368.5" y1="196.45" x2="371.3" y2="196.45" stroke="#000" stroke-width="1.2"/>
<text x="367.7" y="199.5" font-size="8.7" text-anchor="end" font-weight="normal" fill="#111" stroke="#111">1</text>
<line x1="368.5" y1="214.1" x2="371.3" y2="214.1" stroke="#000" stroke-width="1.2"/>
<text x="367.7" y="217.15" font-size="8.7" text-anchor="end" font-weight="normal" fill="#111" stroke="#111">0</text>
<text x="386.6" y="224.9" font-size="8.7" text-anchor="middle" font-weight="normal" fill="#111" stroke="#111">Veh</text>
<text x="415.6" y="224.9" font-size="8.7" text-anchor="middle" font-weight="normal" fill="#111" stroke="#111">Cloz</text>
<text x="353.3" y="168" font-size="10.6" text-anchor="middle" font-weight="normal" fill="#111" stroke="#111" transform="rotate(-90 353.3 168)">prol. index</text>
<line x1="294.9" y1="306.3" x2="294.9" y2="314" stroke="#000" stroke-width="1.2"/>
<line x1="289.6" y1="306.3" x2="300.2" y2="306.3" stroke="#000" stroke-width="1.3"/>
<rect x="284.7" y="314" width="20.40" height="34.40" fill="#0a0a0a"/>
<line x1="324.15" y1="284.4" x2="324.15" y2="296.2" stroke="#000" stroke-width="1.2"/>
<line x1="318.8" y1="284.4" x2="329.5" y2="284.4" stroke="#000" stroke-width="1.3"/>
<rect x="314.45" y="296.85" width="19.40" height="51.55" fill="#fff" stroke="#000" stroke-width="1.3"/>
<line x1="280" y1="259.09999999999997" x2="280" y2="349.09999999999997" stroke="#000" stroke-width="1.3"/>
<line x1="279.4" y1="348.4" x2="339.7" y2="348.4" stroke="#000" stroke-width="1.4"/>
<line x1="277.2" y1="259.7" x2="280" y2="259.7" stroke="#000" stroke-width="1.2"/>
<text x="276.4" y="262.75" font-size="8.7" text-anchor="end" font-weight="normal" fill="#111" stroke="#111">40</text>
<line x1="277.2" y1="281.9" x2="280" y2="281.9" stroke="#000" stroke-width="1.2"/>
<text x="276.4" y="284.95" font-size="8.7" text-anchor="end" font-weight="normal" fill="#111" stroke="#111">30</text>
<line x1="277.2" y1="304.05" x2="280" y2="304.05" stroke="#000" stroke-width="1.2"/>
<text x="276.4" y="307.1" font-size="8.7" text-anchor="end" font-weight="normal" fill="#111" stroke="#111">20</text>
<line x1="277.2" y1="326.2" x2="280" y2="326.2" stroke="#000" stroke-width="1.2"/>
<text x="276.4" y="329.25" font-size="8.7" text-anchor="end" font-weight="normal" fill="#111" stroke="#111">10</text>
<line x1="277.2" y1="348.4" x2="280" y2="348.4" stroke="#000" stroke-width="1.2"/>
<text x="276.4" y="351.45" font-size="8.7" text-anchor="end" font-weight="normal" fill="#111" stroke="#111">0</text>
<text x="294.8" y="359.6" font-size="8.7" text-anchor="middle" font-weight="normal" fill="#111" stroke="#111">Veh</text>
<text x="324.4" y="359.6" font-size="8.7" text-anchor="middle" font-weight="normal" fill="#111" stroke="#111">Cloz</text>
<text x="254.4" y="302" font-size="10.6" text-anchor="middle" font-weight="normal" fill="#111" stroke="#111" transform="rotate(-90 254.4 302)">% proliferated</text>
<line x1="386.45000000000005" y1="265.9" x2="386.45000000000005" y2="269" stroke="#000" stroke-width="1.2"/>
<line x1="381.2" y1="265.9" x2="391.7" y2="265.9" stroke="#000" stroke-width="1.3"/>
<rect x="376.3" y="269" width="20.30" height="77.50" fill="#0a0a0a"/>
<line x1="415.75" y1="267.3" x2="415.75" y2="271.2" stroke="#000" stroke-width="1.2"/>
<line x1="410.4" y1="267.3" x2="421" y2="267.3" stroke="#000" stroke-width="1.3"/>
<rect x="406.05" y="271.85" width="19.40" height="74.65" fill="#fff" stroke="#000" stroke-width="1.3"/>
<line x1="371.3" y1="257.4" x2="371.3" y2="347.2" stroke="#000" stroke-width="1.3"/>
<line x1="370.7" y1="346.5" x2="430" y2="346.5" stroke="#000" stroke-width="1.4"/>
<line x1="368.5" y1="258" x2="371.3" y2="258" stroke="#000" stroke-width="1.2"/>
<text x="367.7" y="261.05" font-size="8.7" text-anchor="end" font-weight="normal" fill="#111" stroke="#111">5</text>
<line x1="368.5" y1="275.7" x2="371.3" y2="275.7" stroke="#000" stroke-width="1.2"/>
<text x="367.7" y="278.75" font-size="8.7" text-anchor="end" font-weight="normal" fill="#111" stroke="#111">4</text>
<line x1="368.5" y1="293.4" x2="371.3" y2="293.4" stroke="#000" stroke-width="1.2"/>
<text x="367.7" y="296.45" font-size="8.7" text-anchor="end" font-weight="normal" fill="#111" stroke="#111">3</text>
<line x1="368.5" y1="311.1" x2="371.3" y2="311.1" stroke="#000" stroke-width="1.2"/>
<text x="367.7" y="314.15000000000003" font-size="8.7" text-anchor="end" font-weight="normal" fill="#111" stroke="#111">2</text>
<line x1="368.5" y1="328.8" x2="371.3" y2="328.8" stroke="#000" stroke-width="1.2"/>
<text x="367.7" y="331.85" font-size="8.7" text-anchor="end" font-weight="normal" fill="#111" stroke="#111">1</text>
<line x1="368.5" y1="346.5" x2="371.3" y2="346.5" stroke="#000" stroke-width="1.2"/>
<text x="367.7" y="349.55" font-size="8.7" text-anchor="end" font-weight="normal" fill="#111" stroke="#111">0</text>
<text x="386.6" y="357.9" font-size="8.7" text-anchor="middle" font-weight="normal" fill="#111" stroke="#111">Veh</text>
<text x="415.6" y="357.9" font-size="8.7" text-anchor="middle" font-weight="normal" fill="#111" stroke="#111">Cloz</text>
<text x="353.3" y="299.5" font-size="10.6" text-anchor="middle" font-weight="normal" fill="#111" stroke="#111" transform="rotate(-90 353.3 299.5)">prol. index</text>
<line x1="297.85" y1="417.5" x2="297.85" y2="425.6" stroke="#000" stroke-width="1.2"/>
<line x1="292.5" y1="417.5" x2="303.2" y2="417.5" stroke="#000" stroke-width="1.3"/>
<rect x="287.5" y="425.6" width="20.70" height="57.30" fill="#0a0a0a"/>
<line x1="327.35" y1="398.8" x2="327.35" y2="410.6" stroke="#000" stroke-width="1.2"/>
<line x1="321.9" y1="398.8" x2="332.7" y2="398.8" stroke="#000" stroke-width="1.3"/>
<rect x="317.65" y="411.25" width="19.40" height="71.65" fill="#fff" stroke="#000" stroke-width="1.3"/>
<line x1="282.5" y1="393.79999999999995" x2="282.5" y2="483.59999999999997" stroke="#000" stroke-width="1.3"/>
<line x1="281.9" y1="482.9" x2="342.2" y2="482.9" stroke="#000" stroke-width="1.4"/>
<line x1="279.7" y1="394.4" x2="282.5" y2="394.4" stroke="#000" stroke-width="1.2"/>
<text x="278.9" y="397.45" font-size="8.7" text-anchor="end" font-weight="normal" fill="#111" stroke="#111">25</text>
<line x1="279.7" y1="412.1" x2="282.5" y2="412.1" stroke="#000" stroke-width="1.2"/>
<text x="278.9" y="415.15000000000003" font-size="8.7" text-anchor="end" font-weight="normal" fill="#111" stroke="#111">20</text>
<line x1="279.7" y1="429.8" x2="282.5" y2="429.8" stroke="#000" stroke-width="1.2"/>
<text x="278.9" y="432.85" font-size="8.7" text-anchor="end" font-weight="normal" fill="#111" stroke="#111">15</text>
<line x1="279.7" y1="447.5" x2="282.5" y2="447.5" stroke="#000" stroke-width="1.2"/>
<text x="278.9" y="450.55" font-size="8.7" text-anchor="end" font-weight="normal" fill="#111" stroke="#111">10</text>
<line x1="279.7" y1="465.2" x2="282.5" y2="465.2" stroke="#000" stroke-width="1.2"/>
<text x="278.9" y="468.25" font-size="8.7" text-anchor="end" font-weight="normal" fill="#111" stroke="#111">5</text>
<line x1="279.7" y1="482.9" x2="282.5" y2="482.9" stroke="#000" stroke-width="1.2"/>
<text x="278.9" y="485.95" font-size="8.7" text-anchor="end" font-weight="normal" fill="#111" stroke="#111">0</text>
<text x="298" y="494.1" font-size="8.7" text-anchor="middle" font-weight="normal" fill="#111" stroke="#111">Veh</text>
<text x="327.6" y="494.1" font-size="8.7" text-anchor="middle" font-weight="normal" fill="#111" stroke="#111">Cloz</text>
<text x="256.7" y="436" font-size="10.6" text-anchor="middle" font-weight="normal" fill="#111" stroke="#111" transform="rotate(-90 256.7 436)">% proliferated</text>
<line x1="388.5" y1="428.6" x2="388.5" y2="430.1" stroke="#000" stroke-width="1.2"/>
<line x1="383.5" y1="428.6" x2="393.7" y2="428.6" stroke="#000" stroke-width="1.3"/>
<rect x="378.3" y="430.1" width="20.40" height="52.80" fill="#0a0a0a"/>
<line x1="418.1" y1="420.1" x2="418.1" y2="427.4" stroke="#000" stroke-width="1.2"/>
<line x1="412.8" y1="420.1" x2="423.4" y2="420.1" stroke="#000" stroke-width="1.3"/>
<rect x="408.45" y="428.05" width="19.30" height="54.85" fill="#fff" stroke="#000" stroke-width="1.3"/>
<line x1="373.3" y1="393.79999999999995" x2="373.3" y2="483.59999999999997" stroke="#000" stroke-width="1.3"/>
<line x1="372.7" y1="482.9" x2="433" y2="482.9" stroke="#000" stroke-width="1.4"/>
<line x1="370.5" y1="394.4" x2="373.3" y2="394.4" stroke="#000" stroke-width="1.2"/>
<text x="369.7" y="397.45" font-size="8.7" text-anchor="end" font-weight="normal" fill="#111" stroke="#111">5</text>
<line x1="370.5" y1="412.1" x2="373.3" y2="412.1" stroke="#000" stroke-width="1.2"/>
<text x="369.7" y="415.15000000000003" font-size="8.7" text-anchor="end" font-weight="normal" fill="#111" stroke="#111">4</text>
<line x1="370.5" y1="429.8" x2="373.3" y2="429.8" stroke="#000" stroke-width="1.2"/>
<text x="369.7" y="432.85" font-size="8.7" text-anchor="end" font-weight="normal" fill="#111" stroke="#111">3</text>
<line x1="370.5" y1="447.5" x2="373.3" y2="447.5" stroke="#000" stroke-width="1.2"/>
<text x="369.7" y="450.55" font-size="8.7" text-anchor="end" font-weight="normal" fill="#111" stroke="#111">2</text>
<line x1="370.5" y1="465.2" x2="373.3" y2="465.2" stroke="#000" stroke-width="1.2"/>
<text x="369.7" y="468.25" font-size="8.7" text-anchor="end" font-weight="normal" fill="#111" stroke="#111">1</text>
<line x1="370.5" y1="482.9" x2="373.3" y2="482.9" stroke="#000" stroke-width="1.2"/>
<text x="369.7" y="485.95" font-size="8.7" text-anchor="end" font-weight="normal" fill="#111" stroke="#111">0</text>
<text x="388.6" y="494.1" font-size="8.7" text-anchor="middle" font-weight="normal" fill="#111" stroke="#111">Veh</text>
<text x="418" y="494.1" font-size="8.7" text-anchor="middle" font-weight="normal" fill="#111" stroke="#111">Cloz</text>
<text x="355.8" y="436" font-size="10.6" text-anchor="middle" font-weight="normal" fill="#111" stroke="#111" transform="rotate(-90 355.8 436)">prol. index</text>
</svg>
</body></html>
